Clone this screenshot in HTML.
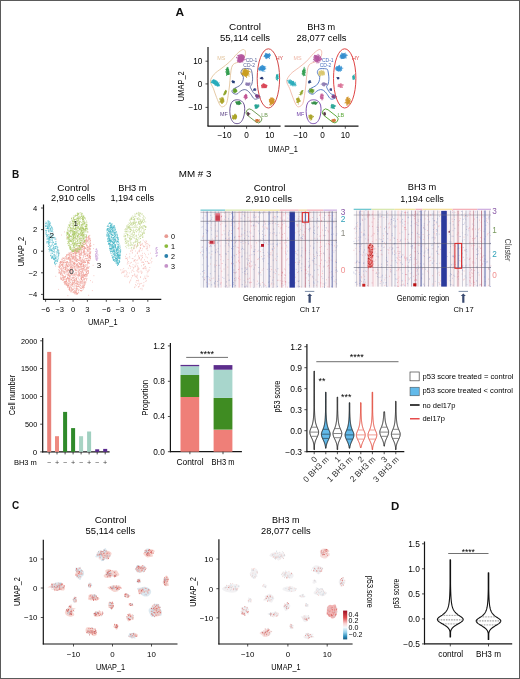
<!DOCTYPE html>
<html><head><meta charset="utf-8"><style>
html,body{margin:0;padding:0;background:#fff;}
body{width:520px;height:679px;overflow:hidden;position:relative;}
svg{position:absolute;left:0;top:0;display:block;font-family:"Liberation Sans", sans-serif;filter:blur(0.3px);}
</style></head><body>
<svg width="520" height="679" viewBox="0 0 520 679">
<rect x="0.0" y="0.0" width="520.0" height="679.0" fill="#fff" />
<text x="175.5" y="15.6" font-size="10.5" fill="#111" font-weight="bold" textLength="8.6" lengthAdjust="spacingAndGlyphs">A</text>
<text x="245.0" y="29.5" font-size="9.2" text-anchor="middle" textLength="32" lengthAdjust="spacingAndGlyphs">Control</text>
<text x="245.0" y="41.2" font-size="9.2" text-anchor="middle" textLength="50" lengthAdjust="spacingAndGlyphs">55,114 cells</text>
<text x="321.2" y="30.1" font-size="9.2" text-anchor="middle" textLength="28" lengthAdjust="spacingAndGlyphs">BH3 m</text>
<text x="321.5" y="41.2" font-size="9.2" text-anchor="middle" textLength="50" lengthAdjust="spacingAndGlyphs">28,077 cells</text>
<line x1="208.0" y1="47.0" x2="208.0" y2="126.2" stroke="#151515" stroke-width="1.2" />
<line x1="207.5" y1="126.2" x2="280.6" y2="126.2" stroke="#151515" stroke-width="1.2" />
<line x1="284.6" y1="126.2" x2="358.5" y2="126.2" stroke="#151515" stroke-width="1.2" />
<line x1="205.5" y1="61.2" x2="208.0" y2="61.2" stroke="#222" stroke-width="0.8" />
<text x="202.4" y="64.1" font-size="8.2" text-anchor="end">10</text>
<line x1="205.5" y1="83.9" x2="208.0" y2="83.9" stroke="#222" stroke-width="0.8" />
<text x="202.4" y="86.8" font-size="8.2" text-anchor="end">0</text>
<line x1="205.5" y1="107.4" x2="208.0" y2="107.4" stroke="#222" stroke-width="0.8" />
<text x="202.4" y="110.3" font-size="8.2" text-anchor="end">−10</text>
<line x1="224.5" y1="126.2" x2="224.5" y2="128.7" stroke="#222" stroke-width="0.8" />
<text x="224.5" y="137.9" font-size="8.2" text-anchor="middle">−10</text>
<line x1="246.6" y1="126.2" x2="246.6" y2="128.7" stroke="#222" stroke-width="0.8" />
<text x="246.6" y="137.9" font-size="8.2" text-anchor="middle">0</text>
<line x1="269.7" y1="126.2" x2="269.7" y2="128.7" stroke="#222" stroke-width="0.8" />
<text x="269.7" y="137.9" font-size="8.2" text-anchor="middle">10</text>
<line x1="300.5" y1="126.2" x2="300.5" y2="128.7" stroke="#222" stroke-width="0.8" />
<text x="300.5" y="137.9" font-size="8.2" text-anchor="middle">−10</text>
<line x1="322.6" y1="126.2" x2="322.6" y2="128.7" stroke="#222" stroke-width="0.8" />
<text x="322.6" y="137.9" font-size="8.2" text-anchor="middle">0</text>
<line x1="345.3" y1="126.2" x2="345.3" y2="128.7" stroke="#222" stroke-width="0.8" />
<text x="345.3" y="137.9" font-size="8.2" text-anchor="middle">10</text>
<text x="283.0" y="152.3" font-size="9" text-anchor="middle" textLength="29.5" lengthAdjust="spacingAndGlyphs">UMAP_1</text>
<text x="183.8" y="86.2" font-size="9" text-anchor="middle" textLength="29.9" lengthAdjust="spacingAndGlyphs" transform="rotate(-90 183.8 86.2)">UMAP_2</text>
<path d="M210.4 81.2 C210.5 78.8 212.3 76.4 214.2 74.2 C216.1 72.0 219.3 70.1 221.9 68.1 C224.5 66.0 227.0 64.3 229.6 61.9 C232.2 59.5 235.1 55.5 237.3 53.5 C239.5 51.5 241.4 50.0 242.7 49.6 C244.0 49.2 245.0 50.1 245.3 51.2 C245.6 52.4 245.5 54.8 244.7 56.5 C243.9 58.2 242.4 59.8 240.4 61.2 C238.4 62.6 234.4 62.6 232.7 65.0 C231.0 67.4 230.9 72.5 230.4 75.8 C229.9 79.1 230.0 81.7 229.6 85.0 C229.2 88.3 228.6 92.7 228.1 95.8 C227.6 98.9 227.3 101.7 226.5 103.5 C225.7 105.3 224.5 106.1 223.5 106.5 C222.5 106.9 221.6 107.3 220.4 105.8 C219.2 104.3 217.7 100.1 216.5 97.3 C215.3 94.5 214.5 91.5 213.5 88.8 C212.5 86.1 210.3 83.6 210.4 81.2Z" fill="none" stroke="#e2c49c" stroke-width="0.9"/>
<path d="M241.5 70.4 C241.9 69.8 242.1 69.1 243.4 68.8 C244.7 68.5 248.2 68.5 249.5 68.8 C250.8 69.1 251.0 68.9 251.5 70.4 C252.0 72.0 252.5 75.8 252.6 78.1 C252.7 80.4 252.2 82.8 251.8 84.2 C251.4 85.6 250.4 85.7 250.3 86.5 C250.2 87.3 250.4 87.6 251.1 88.8 C251.8 90.0 253.0 92.5 254.2 93.5 C255.3 94.5 257.0 94.4 258.0 95.0 C259.0 95.6 260.2 96.4 260.3 96.9 C260.4 97.4 259.6 97.7 258.8 98.1 C258.0 98.5 256.6 99.2 255.7 99.2 C254.8 99.2 254.3 99.0 253.4 98.1 C252.5 97.1 251.3 94.8 250.3 93.5 C249.3 92.2 248.2 91.1 247.2 90.4 C246.2 89.8 245.3 89.5 244.2 89.6 C243.0 89.7 241.3 90.5 240.3 91.2 C239.3 91.9 238.8 93.0 238.0 93.5 C237.2 94.0 236.6 94.3 235.7 94.2 C234.8 94.1 233.2 93.3 232.6 92.7 C232.0 92.1 231.8 91.2 232.2 90.4 C232.6 89.6 233.7 88.9 234.9 88.1 C236.1 87.3 238.2 86.8 239.5 85.8 C240.8 84.8 241.9 83.3 242.6 81.9 C243.2 80.5 243.5 78.5 243.4 77.3 C243.3 76.1 242.6 75.8 242.2 75.0 C241.8 74.2 241.2 73.5 241.1 72.7 C241.0 71.9 241.1 71.1 241.5 70.4Z" fill="none" stroke="#5a6498" stroke-width="0.9"/>
<ellipse cx="268.4" cy="78.4" rx="11.2" ry="29.6" fill="none" stroke="#d24848" stroke-width="1"/>
<path d="M237.2 99.8 C238.6 99.8 240.3 100.1 241.5 101.0 C242.7 101.9 243.8 103.2 244.3 105.0 C244.8 106.8 244.8 109.5 244.6 111.7 C244.4 113.9 244.0 116.2 243.3 118.0 C242.6 119.8 241.6 121.6 240.5 122.5 C239.4 123.4 238.2 123.6 237.0 123.6 C235.8 123.6 234.5 123.4 233.5 122.5 C232.5 121.6 231.4 119.8 230.8 118.0 C230.2 116.2 229.9 113.9 229.8 111.7 C229.8 109.5 230.0 106.8 230.5 105.0 C231.0 103.2 231.9 101.9 233.0 101.0 C234.1 100.1 235.8 99.8 237.2 99.8Z" fill="none" stroke="#5e4688" stroke-width="0.9"/>
<rect x="244.9" y="112.4" width="18" height="7" rx="3.5" fill="none" stroke="#6f9a52" stroke-width="0.9" transform="rotate(38 253.9 115.9)"/>
<text x="221.2" y="59.5" font-size="5.4" text-anchor="middle" fill="#e2c49c">MS</text>
<text x="251.5" y="61.8" font-size="5" text-anchor="middle" fill="#5a6498">CD-1</text>
<text x="249.2" y="67.4" font-size="5" text-anchor="middle" fill="#5a6498">CD-2</text>
<text x="279.4" y="59.5" font-size="5.4" text-anchor="middle" fill="#d24848">HY</text>
<text x="224.0" y="116.4" font-size="5.4" text-anchor="middle" fill="#5e4688">MF</text>
<text x="264.6" y="117.2" font-size="5.4" text-anchor="middle" fill="#6f9a52">LB</text>
<path d="M243.2 60.6 C242.6 61.4 241.8 62.7 240.9 62.8 C240.0 63.0 238.4 62.1 237.8 61.4 C237.3 60.7 237.8 59.4 237.9 58.5 C237.9 57.5 237.4 56.2 237.9 55.5 C238.4 54.8 240.1 54.0 241.1 54.0 C242.1 54.1 243.4 55.0 244.0 55.8 C244.5 56.5 244.7 57.7 244.5 58.5 C244.4 59.4 243.8 59.9 243.2 60.6Z" fill="#b0509a" opacity="0.85" transform="rotate(0 241.0 58.5)"/>
<path d="M240.4 59.6h0M240.5 57.8h0M238.9 58.0h0M243.5 59.4h0M243.3 59.0h0M241.9 58.9h0M237.3 60.3h0M242.1 59.6h0M239.0 57.5h0M241.7 58.4h0M242.2 57.1h0M241.7 59.3h0M239.5 62.1h0M242.3 61.0h0M239.6 56.9h0M240.2 58.3h0M242.4 59.0h0M240.0 56.5h0M239.8 61.1h0M239.2 59.0h0M242.0 55.3h0M241.1 61.3h0M236.5 57.8h0M240.8 56.8h0M242.1 58.4h0M237.7 60.3h0M242.5 60.5h0M244.2 59.3h0M241.3 55.7h0M242.4 57.2h0M240.0 55.8h0M238.8 57.4h0M237.7 59.0h0M244.2 59.7h0M241.8 56.9h0M238.5 60.6h0M243.5 58.8h0M241.6 59.4h0M244.6 59.8h0M242.2 59.7h0M237.5 61.2h0M243.1 59.6h0M236.6 57.2h0M242.9 54.7h0M240.6 60.7h0M238.0 61.9h0M242.2 58.2h0M241.7 59.9h0M241.3 60.9h0M239.5 57.6h0M243.3 58.6h0M239.0 60.5h0M244.3 57.6h0M237.9 58.2h0M240.7 57.9h0M244.2 56.3h0M243.8 55.8h0M239.2 59.8h0M243.5 60.3h0M241.8 58.8h0M241.3 59.7h0M240.6 59.1h0M242.3 58.5h0M242.7 59.7h0M245.5 59.2h0M240.0 57.7h0M241.0 60.5h0M240.2 59.3h0M238.5 59.0h0M241.9 59.0h0M240.0 59.9h0M241.6 57.4h0M239.8 58.3h0M240.5 58.4h0M243.3 56.0h0M240.8 60.5h0M242.9 61.7h0M237.2 57.7h0M240.2 59.8h0M243.4 55.4h0M242.5 55.3h0M241.4 61.0h0M240.7 58.9h0M242.8 58.8h0M240.8 61.8h0M243.4 57.9h0M243.1 57.9h0M241.3 60.0h0M241.5 59.9h0M237.6 55.3h0M242.4 56.5h0M238.7 55.4h0M243.8 60.1h0M244.3 56.5h0M241.0 56.1h0M242.7 61.9h0M239.0 61.8h0M243.2 58.1h0M240.8 57.2h0" stroke="#b0509a" stroke-width="1.1" stroke-linecap="round" stroke-opacity="0.8" fill="none"/>
<path d="M269.2 57.8 C268.7 58.2 267.6 58.3 266.9 58.2 C266.2 58.1 265.6 57.7 265.1 57.3 C264.7 56.9 264.3 56.3 264.4 55.7 C264.4 55.2 264.8 54.6 265.3 54.2 C265.8 53.9 266.4 53.5 267.1 53.5 C267.7 53.4 268.6 53.7 269.1 54.1 C269.6 54.5 269.9 55.2 269.9 55.9 C269.9 56.5 269.7 57.4 269.2 57.8Z" fill="#2a88cc" opacity="0.85" transform="rotate(0 267.0 55.8)"/>
<path d="M266.1 55.5h0M265.6 54.2h0M268.8 55.1h0M269.4 53.6h0M267.3 57.0h0M266.6 57.0h0M265.8 55.1h0M266.1 56.2h0M268.5 55.0h0M264.6 56.4h0M268.6 54.8h0M268.9 54.9h0M264.8 55.4h0M269.0 56.0h0M267.1 55.9h0M267.4 54.8h0M264.0 56.2h0M265.4 55.3h0M264.6 55.6h0M267.2 55.0h0M265.7 55.3h0M266.5 58.6h0M264.6 55.7h0M264.6 56.6h0M264.8 55.7h0M266.3 54.1h0M264.9 55.4h0M269.7 54.9h0M266.9 57.9h0M270.4 54.7h0M267.6 56.4h0M266.3 56.0h0M267.0 56.4h0M265.4 53.3h0M267.9 55.2h0M266.4 53.5h0M269.4 58.4h0M268.3 55.6h0M268.8 55.3h0M267.6 55.0h0M264.9 56.6h0M266.3 56.7h0M265.7 58.2h0M269.4 56.1h0M266.7 55.9h0M265.7 57.8h0M266.3 55.8h0M270.3 55.5h0M267.9 55.7h0M266.9 56.3h0M267.3 54.5h0M268.3 57.0h0M269.9 54.2h0M266.9 56.7h0M269.1 54.8h0M266.8 55.1h0M269.7 56.7h0M266.4 56.1h0M269.5 54.9h0M267.2 55.2h0M267.4 55.3h0M268.3 54.4h0M265.7 57.5h0M268.3 55.2h0" stroke="#2a88cc" stroke-width="1.1" stroke-linecap="round" stroke-opacity="0.8" fill="none"/>
<path d="M226.3 72.1 C226.3 71.1 225.9 69.8 226.1 69.0 C226.3 68.3 227.0 67.6 227.5 67.6 C227.9 67.6 228.4 68.3 228.7 69.0 C229.0 69.7 229.3 70.7 229.3 71.6 C229.4 72.6 229.3 74.1 229.0 74.6 C228.7 75.2 228.1 74.8 227.7 74.9 C227.3 75.0 226.6 75.6 226.3 75.1 C226.1 74.7 226.4 73.1 226.3 72.1Z" fill="#2a9a48" opacity="0.85" transform="rotate(0 227.6 71.9)"/>
<path d="M227.6 70.0h0M227.0 71.9h0M227.5 72.3h0M227.6 72.3h0M227.5 69.1h0M228.0 74.3h0M228.0 71.5h0M228.0 69.7h0M225.7 72.0h0M226.7 73.6h0M226.6 75.5h0M227.2 68.8h0M226.8 73.1h0M228.1 72.3h0M229.1 73.5h0M227.6 73.2h0M229.3 74.1h0M228.6 69.5h0M227.5 73.5h0M227.3 74.3h0M228.2 73.9h0M228.8 71.4h0M227.3 73.9h0M228.6 71.9h0M226.4 72.3h0M228.0 74.4h0M228.4 72.0h0M228.5 73.1h0M227.8 72.0h0M227.4 73.4h0M226.5 70.5h0M227.6 68.6h0M227.2 67.4h0M226.9 73.2h0M228.2 71.8h0M227.4 68.7h0M229.4 73.1h0M228.7 69.9h0M227.4 67.8h0M228.4 74.0h0M225.7 71.8h0M228.2 67.9h0M225.8 69.5h0M227.0 68.7h0M227.6 72.5h0M228.2 73.5h0M229.1 74.5h0M226.3 70.8h0M226.5 69.5h0" stroke="#2a9a48" stroke-width="1.1" stroke-linecap="round" stroke-opacity="0.8" fill="none"/>
<path d="M248.6 71.8 C248.9 72.5 248.7 73.2 248.5 73.9 C248.3 74.6 247.9 75.5 247.3 75.9 C246.6 76.3 245.4 76.4 244.6 76.2 C243.7 76.0 242.3 75.4 242.0 74.8 C241.7 74.1 242.3 73.1 242.6 72.2 C242.9 71.3 243.0 70.1 243.7 69.6 C244.4 69.2 246.2 69.1 247.0 69.5 C247.8 69.8 248.4 71.0 248.6 71.8Z" fill="#c89a18" opacity="0.85" transform="rotate(0 245.7 73.1)"/>
<path d="M245.7 73.9h0M245.3 76.3h0M246.7 76.3h0M248.3 72.7h0M243.8 74.6h0M244.1 70.0h0M243.3 71.2h0M246.8 73.6h0M245.6 76.4h0M244.7 75.5h0M246.5 73.2h0M245.3 76.1h0M244.5 70.3h0M245.0 75.4h0M243.2 73.6h0M249.2 76.0h0M246.1 73.0h0M241.7 74.0h0M248.1 72.7h0M245.5 74.5h0M247.2 72.6h0M244.6 72.6h0M248.5 75.8h0M241.0 72.9h0M245.2 71.7h0M247.8 71.7h0M245.9 73.1h0M243.2 73.2h0M245.3 74.1h0M244.6 74.5h0M245.8 73.0h0M245.7 69.3h0M244.6 68.9h0M245.2 75.0h0M243.9 72.1h0M244.1 73.8h0M246.7 73.4h0M246.6 71.7h0M247.3 72.5h0M245.4 75.5h0M246.5 74.9h0M250.2 72.0h0M246.9 70.5h0M242.3 72.1h0M249.2 74.1h0M242.1 74.1h0M244.6 71.8h0M247.5 74.7h0M244.6 74.5h0M245.5 76.0h0M244.8 75.5h0M244.6 73.8h0M246.5 74.3h0M247.9 71.8h0M246.6 77.4h0M248.2 73.1h0M246.6 74.1h0M247.4 74.1h0M247.1 73.9h0M245.5 75.7h0M248.5 70.9h0M243.7 74.2h0M243.5 72.8h0M245.3 73.7h0M247.6 74.8h0M242.6 70.2h0M246.1 74.7h0M245.7 75.1h0M248.4 69.8h0M246.3 73.2h0M244.5 69.0h0M242.7 73.5h0M247.9 73.1h0M249.5 71.4h0M245.7 74.1h0M247.2 75.1h0M245.1 70.3h0M245.9 70.9h0M245.1 72.9h0M246.0 71.7h0M248.5 71.7h0M245.3 74.1h0M245.7 75.9h0M245.4 72.2h0M248.2 74.1h0M243.8 72.1h0M246.2 75.8h0M247.6 73.2h0M242.8 69.8h0M244.1 73.3h0M245.2 71.5h0M248.3 73.4h0M244.6 71.2h0M245.5 76.1h0" stroke="#c89a18" stroke-width="1.1" stroke-linecap="round" stroke-opacity="0.8" fill="none"/>
<path d="M264.6 66.0 C265.2 66.4 264.9 67.5 265.0 68.2 C265.0 68.8 265.3 69.4 265.0 69.8 C264.6 70.2 263.7 70.5 263.0 70.6 C262.3 70.7 261.6 70.6 260.9 70.4 C260.1 70.2 258.5 69.8 258.3 69.3 C258.1 68.7 258.9 67.8 259.4 67.2 C260.0 66.6 260.6 65.8 261.5 65.6 C262.4 65.4 264.0 65.6 264.6 66.0Z" fill="#2c8cd0" opacity="0.85" transform="rotate(0 262.4 68.6)"/>
<path d="M261.0 68.6h0M264.1 68.4h0M263.0 67.6h0M263.0 71.1h0M261.1 68.6h0M262.7 70.1h0M263.6 69.8h0M262.8 69.0h0M264.3 69.2h0M265.7 66.7h0M264.0 68.0h0M262.4 68.2h0M261.4 67.3h0M261.1 69.6h0M262.5 68.7h0M262.1 70.0h0M263.4 68.4h0M263.7 68.4h0M260.1 70.8h0M263.3 67.2h0M264.6 69.1h0M263.1 69.9h0M262.8 68.4h0M259.3 70.1h0M262.5 68.2h0M263.1 68.7h0M263.8 68.0h0M262.3 65.4h0M261.6 69.6h0M265.1 68.1h0M262.2 71.0h0M261.7 69.7h0M265.8 68.7h0M264.9 67.5h0M262.8 68.5h0M262.6 70.3h0M261.2 69.3h0M260.3 69.3h0M263.5 68.2h0M263.5 66.3h0M263.9 66.3h0M261.0 67.8h0M261.6 69.9h0M262.6 68.0h0M263.5 71.0h0M262.4 69.1h0M264.9 69.0h0M262.3 69.2h0M264.3 69.6h0M261.9 67.0h0M262.6 70.2h0M260.2 67.1h0M262.4 65.7h0M261.9 67.9h0M263.3 67.5h0M260.6 68.0h0M262.3 67.6h0M262.4 69.7h0M264.8 71.2h0M260.8 68.0h0M261.0 68.5h0M263.4 66.6h0M263.3 68.6h0M258.7 69.0h0" stroke="#2c8cd0" stroke-width="1.1" stroke-linecap="round" stroke-opacity="0.8" fill="none"/>
<path d="M220.5 82.9 C220.7 83.4 220.1 84.4 219.4 84.7 C218.6 85.0 217.1 84.8 215.9 84.8 C214.7 84.8 212.9 85.2 212.2 84.9 C211.4 84.6 211.6 83.7 211.6 83.1 C211.5 82.4 211.3 81.6 212.0 81.2 C212.7 80.8 214.6 80.3 215.7 80.4 C216.7 80.5 217.4 81.3 218.2 81.7 C219.1 82.1 220.4 82.4 220.5 82.9Z" fill="#1ea8b8" opacity="0.85" transform="rotate(30 215.8 83.0)"/>
<path d="M211.9 82.8h0M214.1 82.3h0M217.6 85.2h0M215.0 81.8h0M214.7 83.0h0M215.8 84.1h0M213.8 80.6h0M215.8 83.2h0M213.4 83.6h0M216.0 84.3h0M215.8 85.5h0M215.1 82.5h0M217.2 84.7h0M213.1 80.8h0M216.7 84.0h0M215.7 81.5h0M214.9 83.7h0M217.8 83.8h0M214.2 81.5h0M211.4 81.9h0M217.9 84.2h0M216.0 85.3h0M215.8 83.2h0M218.0 83.4h0M217.3 82.5h0M218.1 83.2h0M215.9 83.3h0M213.1 80.8h0M216.7 83.2h0M214.7 81.4h0M214.6 82.3h0M214.5 84.0h0M216.9 83.3h0M211.8 80.9h0M217.3 83.7h0M218.4 84.2h0M211.3 82.5h0M213.7 79.9h0M216.9 85.8h0M215.6 84.3h0M219.1 82.7h0M216.0 84.1h0M213.2 82.6h0M214.8 82.9h0M214.9 84.8h0M216.4 83.1h0M212.8 80.4h0M219.5 85.8h0M217.4 85.2h0M213.2 80.9h0M214.4 83.6h0M214.1 81.3h0M215.1 81.3h0M215.3 82.8h0M214.5 81.1h0M215.1 85.0h0M216.9 82.1h0M216.2 84.7h0M216.5 83.9h0M214.8 82.7h0M213.1 82.1h0M218.6 85.1h0M218.4 85.6h0M217.0 82.0h0M218.0 84.8h0M217.7 86.2h0" stroke="#1ea8b8" stroke-width="1.1" stroke-linecap="round" stroke-opacity="0.8" fill="none"/>
<path d="M232.3 82.9 C232.1 82.7 231.9 82.3 232.0 82.0 C232.0 81.7 232.2 81.5 232.4 81.3 C232.7 81.0 233.0 80.6 233.2 80.6 C233.5 80.6 233.8 81.0 234.1 81.2 C234.4 81.4 235.1 81.5 235.1 81.8 C235.2 82.0 234.7 82.3 234.4 82.6 C234.1 82.8 233.9 83.1 233.5 83.1 C233.2 83.2 232.6 83.1 232.3 82.9Z" fill="#1a3470" opacity="0.85" transform="rotate(0 233.4 81.9)"/>
<path d="M234.1 82.2h0M233.4 81.5h0M234.0 81.6h0M233.6 81.5h0M233.6 82.4h0M232.6 81.9h0M233.9 82.0h0M232.6 80.6h0M234.1 83.0h0M234.2 82.5h0M232.9 81.4h0M234.2 81.3h0M231.8 81.2h0M232.8 81.4h0M233.6 81.4h0M234.5 81.8h0" stroke="#1a3470" stroke-width="1.1" stroke-linecap="round" stroke-opacity="0.8" fill="none"/>
<path d="M245.1 84.5 C245.0 84.1 245.4 83.6 245.8 83.3 C246.2 83.0 246.9 82.8 247.5 82.8 C248.1 82.7 248.7 82.8 249.1 83.0 C249.6 83.2 250.1 83.5 250.2 83.8 C250.3 84.1 250.0 84.5 249.7 84.8 C249.4 85.0 249.1 85.4 248.5 85.5 C248.0 85.7 247.0 85.8 246.4 85.6 C245.8 85.4 245.2 84.9 245.1 84.5Z" fill="#8a78b0" opacity="0.85" transform="rotate(0 248.0 84.1)"/>
<path d="M250.1 84.0h0M247.3 83.4h0M248.4 84.1h0M249.3 85.1h0M246.3 84.6h0M248.7 83.8h0M248.3 85.5h0M248.1 84.1h0M247.5 84.5h0M247.3 84.6h0M246.2 83.5h0M248.6 85.4h0M247.2 84.2h0M249.1 83.8h0M248.4 84.4h0M246.0 82.7h0M248.3 83.2h0M248.0 84.2h0M246.8 83.1h0M246.7 85.2h0M247.9 83.4h0M248.4 83.9h0M246.4 83.9h0M248.0 84.4h0M248.0 84.0h0M248.7 84.6h0M246.6 83.4h0M246.2 82.8h0M248.6 84.8h0M247.8 84.4h0M250.1 83.1h0M248.0 84.0h0M249.4 82.8h0" stroke="#8a78b0" stroke-width="1.1" stroke-linecap="round" stroke-opacity="0.8" fill="none"/>
<path d="M278.6 75.7 C278.7 76.2 278.4 77.2 278.3 77.8 C278.2 78.4 278.1 78.9 277.9 79.2 C277.6 79.4 277.3 79.4 277.0 79.3 C276.8 79.1 276.7 78.8 276.5 78.3 C276.3 77.8 275.8 77.2 275.8 76.6 C275.9 76.0 276.2 75.1 276.5 74.8 C276.8 74.5 277.3 74.5 277.6 74.7 C278.0 74.8 278.5 75.2 278.6 75.7Z" fill="#20a8a8" opacity="0.85" transform="rotate(0 277.3 77.3)"/>
<path d="M276.8 74.6h0M277.2 76.2h0M276.5 76.8h0M277.5 75.5h0M277.2 79.4h0M277.8 77.1h0M277.4 77.1h0M277.3 78.4h0M277.3 76.0h0M277.8 76.4h0M277.4 80.6h0M276.5 75.6h0M275.9 77.8h0M276.8 74.5h0M276.2 78.2h0M276.7 76.7h0M277.5 79.3h0M277.4 77.6h0M277.1 78.0h0M277.5 77.4h0M276.9 75.3h0M276.9 75.0h0M278.2 78.1h0M276.4 79.4h0M278.0 74.4h0M278.7 78.5h0" stroke="#20a8a8" stroke-width="1.1" stroke-linecap="round" stroke-opacity="0.8" fill="none"/>
<path d="M262.3 78.8 C262.0 78.9 261.8 79.0 261.5 79.0 C261.2 78.9 260.6 78.9 260.4 78.7 C260.2 78.5 260.0 77.9 260.2 77.7 C260.3 77.5 261.0 77.5 261.3 77.4 C261.6 77.3 261.9 77.1 262.2 77.1 C262.5 77.1 262.8 77.4 263.0 77.6 C263.2 77.8 263.4 78.2 263.3 78.4 C263.2 78.6 262.6 78.7 262.3 78.8Z" fill="#1a2a6a" opacity="0.85" transform="rotate(0 261.8 78.1)"/>
<path d="M262.3 77.3h0M261.7 78.4h0M262.9 78.7h0M262.0 78.6h0M261.7 78.2h0M261.8 78.6h0M261.6 77.5h0M260.2 78.1h0M261.6 78.0h0M261.1 78.4h0M261.9 77.5h0M261.5 77.4h0M262.1 79.3h0M263.1 78.7h0" stroke="#1a2a6a" stroke-width="1.1" stroke-linecap="round" stroke-opacity="0.8" fill="none"/>
<path d="M261.5 84.7 C261.9 84.3 262.8 84.0 263.4 83.9 C264.0 83.8 264.6 84.0 265.2 84.2 C265.8 84.4 266.7 84.6 267.0 85.1 C267.3 85.5 267.3 86.4 267.0 86.9 C266.7 87.4 265.8 87.9 265.2 88.1 C264.5 88.3 263.5 88.1 262.9 87.9 C262.2 87.6 261.5 87.1 261.2 86.6 C261.0 86.1 261.2 85.2 261.5 84.7Z" fill="#d84050" opacity="0.85" transform="rotate(0 264.2 85.8)"/>
<path d="M264.9 87.1h0M262.5 87.7h0M264.0 86.6h0M263.6 84.4h0M265.9 86.9h0M266.6 86.9h0M263.3 83.7h0M263.2 85.0h0M262.9 86.5h0M264.7 85.5h0M264.5 85.6h0M264.5 86.7h0M265.7 84.9h0M261.8 87.6h0M264.4 87.2h0M261.6 85.4h0M264.2 84.0h0M263.4 86.7h0M265.9 87.8h0M262.9 84.0h0M265.0 87.0h0M264.5 84.2h0M265.4 86.8h0M265.1 85.2h0M264.7 86.8h0M263.3 83.5h0M264.7 86.4h0M264.2 86.9h0M263.3 85.7h0M263.7 86.5h0M266.7 85.5h0M265.4 86.5h0M267.0 85.6h0M264.0 84.5h0M264.9 87.5h0M265.0 86.3h0M263.9 86.0h0M262.0 87.1h0M263.6 84.4h0M263.0 84.8h0M265.5 87.1h0M262.1 87.0h0M265.6 85.1h0" stroke="#d84050" stroke-width="1.1" stroke-linecap="round" stroke-opacity="0.8" fill="none"/>
<path d="M236.1 88.9 C236.6 89.1 236.9 89.6 237.1 90.1 C237.3 90.6 237.5 91.3 237.3 91.7 C237.1 92.1 236.4 92.2 235.9 92.4 C235.4 92.6 234.7 93.2 234.3 93.1 C233.9 92.9 233.7 92.1 233.5 91.5 C233.2 91.0 232.8 90.2 233.0 89.8 C233.2 89.4 234.1 89.2 234.6 89.0 C235.1 88.9 235.7 88.7 236.1 88.9Z" fill="#5a9a20" opacity="0.85" transform="rotate(0 235.3 90.8)"/>
<path d="M234.5 89.2h0M234.3 91.1h0M234.9 90.4h0M233.4 91.9h0M234.9 89.1h0M235.3 92.1h0M233.6 91.3h0M233.7 91.8h0M236.0 90.5h0M234.1 89.0h0M234.2 91.7h0M235.6 90.7h0M234.6 90.6h0M234.7 90.7h0M233.9 90.1h0M235.0 89.3h0M233.8 89.0h0M234.0 90.6h0M236.1 90.5h0M234.8 89.7h0M235.4 90.2h0M236.5 90.7h0M236.2 91.1h0M235.1 90.9h0M234.2 91.4h0M234.9 89.7h0M235.2 91.7h0M234.4 90.7h0M235.7 89.6h0M235.5 91.4h0M235.7 88.6h0M234.4 89.7h0M234.5 90.5h0M236.4 90.5h0M233.8 89.0h0" stroke="#5a9a20" stroke-width="1.1" stroke-linecap="round" stroke-opacity="0.8" fill="none"/>
<path d="M255.3 90.1 C255.2 90.3 254.9 90.4 254.7 90.5 C254.4 90.6 253.9 90.7 253.6 90.6 C253.4 90.4 253.3 90.0 253.3 89.7 C253.3 89.5 253.5 89.3 253.7 89.1 C253.8 88.8 254.0 88.4 254.3 88.3 C254.6 88.3 255.2 88.4 255.4 88.6 C255.6 88.8 255.6 89.2 255.6 89.5 C255.5 89.7 255.5 89.9 255.3 90.1Z" fill="#2a3a80" opacity="0.85" transform="rotate(0 254.5 89.6)"/>
<path d="M254.1 89.9h0M254.1 89.8h0M255.7 89.6h0M254.4 90.1h0M254.2 90.3h0M253.5 90.0h0M254.1 89.1h0M255.8 89.1h0M255.8 90.0h0M255.6 89.0h0M255.4 90.5h0M254.4 89.5h0M254.2 89.2h0" stroke="#2a3a80" stroke-width="1.1" stroke-linecap="round" stroke-opacity="0.8" fill="none"/>
<path d="M244.5 98.4 C244.3 97.9 244.3 97.1 244.4 96.5 C244.5 95.9 244.6 95.2 244.9 94.8 C245.1 94.3 245.7 93.7 246.0 93.8 C246.4 93.9 246.8 94.7 247.0 95.3 C247.2 95.9 247.5 96.8 247.4 97.4 C247.3 98.0 246.8 98.5 246.5 98.8 C246.2 99.1 245.8 99.3 245.5 99.2 C245.1 99.1 244.6 98.8 244.5 98.4Z" fill="#c05090" opacity="0.85" transform="rotate(0 245.7 96.9)"/>
<path d="M246.6 95.6h0M246.0 94.7h0M246.9 95.3h0M246.0 96.1h0M245.3 95.2h0M245.7 95.3h0M246.5 95.6h0M245.6 98.0h0M246.4 98.2h0M246.6 97.5h0M246.3 98.3h0M244.6 96.9h0M245.8 96.8h0M246.2 95.5h0M244.5 96.0h0M246.2 95.7h0M246.8 97.9h0M245.6 96.6h0M244.7 95.5h0M246.4 96.3h0M246.7 96.7h0M243.8 97.2h0M247.1 97.4h0M245.1 95.9h0M246.2 95.8h0M244.6 97.2h0M245.8 95.9h0M244.9 97.5h0M244.2 96.0h0M245.3 99.6h0" stroke="#c05090" stroke-width="1.1" stroke-linecap="round" stroke-opacity="0.8" fill="none"/>
<path d="M255.0 95.5 C255.2 95.2 256.1 94.7 256.7 94.7 C257.2 94.7 257.9 95.0 258.3 95.3 C258.8 95.5 259.1 95.9 259.2 96.2 C259.2 96.5 258.9 96.8 258.6 97.2 C258.4 97.5 258.1 98.0 257.7 98.1 C257.3 98.1 256.6 97.8 256.2 97.6 C255.8 97.3 255.7 97.1 255.5 96.8 C255.3 96.4 254.8 95.9 255.0 95.5Z" fill="#7a3a80" opacity="0.85" transform="rotate(0 257.2 96.5)"/>
<path d="M256.7 97.6h0M255.8 95.4h0M259.1 96.8h0M258.4 95.8h0M258.2 96.7h0M258.0 96.5h0M258.7 95.9h0M256.0 95.2h0M258.7 95.9h0M255.9 95.7h0M256.6 95.4h0M256.8 96.0h0M256.5 95.7h0M257.2 96.1h0M257.3 96.7h0M256.5 95.8h0M258.2 95.1h0M256.3 96.2h0M256.8 97.4h0M256.6 97.3h0M258.7 96.9h0M257.8 96.6h0M257.8 95.4h0M258.4 96.0h0M258.4 96.6h0" stroke="#7a3a80" stroke-width="1.1" stroke-linecap="round" stroke-opacity="0.8" fill="none"/>
<path d="M224.3 90.6 C224.5 90.2 224.9 90.2 225.1 90.3 C225.4 90.4 225.6 90.8 225.8 91.2 C226.0 91.7 226.2 92.4 226.2 93.1 C226.2 93.7 226.0 94.7 225.8 95.2 C225.6 95.6 225.1 95.7 224.8 95.6 C224.6 95.4 224.3 94.8 224.1 94.3 C224.0 93.8 224.0 93.0 224.1 92.4 C224.1 91.8 224.1 90.9 224.3 90.6Z" fill="#8aa020" opacity="0.85" transform="rotate(30 225.0 92.7)"/>
<path d="M225.0 92.7h0M225.2 92.0h0M225.3 92.7h0M225.5 92.3h0M225.7 93.4h0M223.8 94.8h0M224.8 93.1h0M226.3 90.7h0M226.5 91.4h0M225.1 94.0h0M225.7 91.2h0M225.6 92.5h0M226.1 92.7h0M225.1 92.8h0M225.5 90.4h0M225.1 93.5h0M225.4 91.9h0M226.1 91.8h0M225.2 93.4h0M224.8 91.8h0M225.2 92.0h0M225.8 91.6h0" stroke="#8aa020" stroke-width="1.1" stroke-linecap="round" stroke-opacity="0.8" fill="none"/>
<path d="M222.2 97.8 C222.7 97.8 223.5 98.0 223.8 98.5 C224.1 99.0 224.1 100.2 224.0 101.0 C223.9 101.7 223.6 102.6 223.2 103.0 C222.7 103.5 221.9 104.0 221.5 103.7 C221.0 103.5 220.7 102.4 220.5 101.8 C220.3 101.1 220.4 100.6 220.5 100.0 C220.5 99.5 220.7 98.8 221.0 98.5 C221.3 98.1 221.8 97.8 222.2 97.8Z" fill="#a8a020" opacity="0.85" transform="rotate(0 221.9 100.4)"/>
<path d="M221.3 97.5h0M221.1 102.3h0M224.0 100.0h0M221.1 99.6h0M219.8 101.9h0M220.7 102.1h0M220.0 98.3h0M222.2 99.2h0M222.8 100.4h0M220.6 101.4h0M222.8 97.3h0M224.0 101.2h0M222.8 97.4h0M221.1 99.8h0M223.1 98.0h0M221.6 101.0h0M220.0 99.4h0M222.5 103.0h0M222.6 99.9h0M220.6 98.9h0M221.2 100.6h0M221.8 103.1h0M222.2 98.7h0M223.6 101.9h0M222.0 99.2h0M219.8 98.7h0M222.9 99.1h0M220.4 100.7h0M222.2 101.4h0M222.6 102.7h0M221.0 102.0h0M220.8 101.5h0M222.1 100.8h0M223.0 100.4h0M223.2 101.8h0M222.1 99.5h0M221.1 99.5h0M221.7 100.4h0M222.8 99.0h0M221.1 99.9h0" stroke="#a8a020" stroke-width="1.1" stroke-linecap="round" stroke-opacity="0.8" fill="none"/>
<path d="M274.1 102.7 C273.8 103.5 273.0 103.9 272.4 104.2 C271.8 104.5 270.8 105.0 270.4 104.7 C269.9 104.3 269.9 103.0 269.7 102.2 C269.4 101.3 268.6 100.3 268.8 99.6 C269.0 99.0 270.0 98.6 270.6 98.3 C271.3 97.9 272.1 97.3 272.7 97.6 C273.3 97.8 274.1 98.9 274.3 99.7 C274.5 100.6 274.4 102.0 274.1 102.7Z" fill="#d09020" opacity="0.85" transform="rotate(0 271.5 101.2)"/>
<path d="M271.8 102.0h0M273.3 102.0h0M272.6 99.6h0M273.4 102.3h0M270.9 101.8h0M272.6 100.8h0M269.5 100.1h0M273.6 100.4h0M270.2 102.6h0M272.6 101.1h0M272.6 101.6h0M269.6 104.7h0M273.9 99.0h0M274.0 102.2h0M271.0 98.4h0M272.0 101.1h0M273.0 103.8h0M273.6 100.1h0M270.9 103.8h0M271.5 100.3h0M271.0 102.6h0M272.7 102.8h0M272.0 102.5h0M272.9 103.6h0M273.9 101.5h0M271.6 101.7h0M272.5 100.6h0M274.3 99.6h0M272.1 100.5h0M270.9 101.5h0M274.1 99.5h0M270.4 99.6h0M270.0 104.3h0M269.4 101.6h0M272.2 102.3h0M273.7 102.3h0M270.7 100.8h0M272.3 100.1h0M270.8 101.8h0M271.1 105.0h0M271.0 102.2h0M270.2 101.3h0M272.1 100.6h0M272.0 101.1h0M273.3 99.4h0M271.9 103.4h0M271.2 102.7h0M271.9 103.0h0M272.1 100.8h0M270.7 105.3h0M273.8 102.3h0M274.2 101.6h0M271.1 102.1h0M274.3 101.2h0M270.6 101.0h0M271.9 103.8h0M272.1 102.2h0M271.8 98.1h0M271.7 102.0h0M273.3 102.6h0M270.3 101.2h0M272.1 103.8h0M270.8 97.7h0M270.6 100.5h0" stroke="#d09020" stroke-width="1.1" stroke-linecap="round" stroke-opacity="0.8" fill="none"/>
<path d="M239.7 101.2 C240.3 101.4 240.5 102.0 240.6 102.4 C240.7 102.8 240.7 103.2 240.5 103.6 C240.2 104.0 239.8 104.6 239.2 104.7 C238.6 104.8 237.6 104.6 237.1 104.3 C236.6 104.1 236.3 103.7 236.0 103.4 C235.7 103.0 235.3 102.4 235.5 102.0 C235.8 101.6 236.7 101.3 237.4 101.2 C238.1 101.0 239.2 101.0 239.7 101.2Z" fill="#2a8a40" opacity="0.85" transform="rotate(0 238.3 102.9)"/>
<path d="M238.0 102.9h0M239.7 102.3h0M239.1 102.4h0M239.4 104.5h0M237.7 103.3h0M236.9 103.8h0M240.1 102.9h0M236.6 103.3h0M240.0 103.9h0M239.5 101.2h0M237.3 104.2h0M236.5 104.0h0M241.1 103.6h0M240.0 102.6h0M236.5 102.8h0M238.0 102.9h0M239.3 102.8h0M238.6 103.3h0M238.3 104.6h0M239.0 103.0h0M238.0 102.3h0M240.3 103.0h0M236.7 102.4h0M238.1 102.5h0M239.9 101.8h0M239.0 103.0h0M236.5 102.9h0M238.2 103.4h0M237.6 103.2h0M235.8 101.9h0M239.5 103.9h0M238.3 102.3h0" stroke="#2a8a40" stroke-width="1.1" stroke-linecap="round" stroke-opacity="0.8" fill="none"/>
<path d="M257.0 108.6 C256.5 108.7 255.8 108.3 255.4 108.0 C255.1 107.7 255.0 107.1 254.9 106.5 C254.8 106.0 254.5 105.0 254.8 104.7 C255.1 104.3 256.1 104.5 256.7 104.5 C257.3 104.5 258.1 104.3 258.4 104.6 C258.7 104.9 258.6 105.8 258.6 106.3 C258.5 106.8 258.3 107.1 258.1 107.5 C257.8 107.9 257.4 108.5 257.0 108.6Z" fill="#20a090" opacity="0.85" transform="rotate(0 256.8 106.4)"/>
<path d="M256.3 107.2h0M256.1 107.6h0M259.0 106.1h0M258.8 105.2h0M257.0 106.1h0M257.7 106.0h0M255.2 107.2h0M255.8 107.6h0M258.0 107.0h0M256.5 106.4h0M255.3 104.7h0M258.7 104.7h0M258.5 106.8h0M256.6 108.3h0M256.6 107.9h0M258.3 105.6h0M256.8 107.9h0M256.6 107.4h0M256.4 105.9h0M255.8 106.3h0M255.3 106.7h0M257.2 106.9h0M257.5 107.2h0M255.9 107.0h0M256.8 106.9h0M254.5 105.7h0M255.5 105.4h0M256.3 105.7h0M256.5 105.1h0M255.2 105.9h0M255.7 106.6h0M256.8 107.3h0M255.6 106.3h0M256.6 106.3h0M255.3 108.4h0" stroke="#20a090" stroke-width="1.1" stroke-linecap="round" stroke-opacity="0.8" fill="none"/>
<path d="M232.2 116.6 C232.4 116.0 233.1 115.7 233.6 115.4 C234.1 115.1 234.4 114.8 235.0 114.8 C235.5 114.8 236.4 114.9 236.8 115.4 C237.1 115.8 237.2 117.1 237.0 117.8 C236.9 118.5 236.3 119.2 235.8 119.4 C235.3 119.7 234.8 119.4 234.3 119.3 C233.7 119.2 232.8 119.4 232.5 119.0 C232.1 118.5 232.0 117.2 232.2 116.6Z" fill="#a8a020" opacity="0.85" transform="rotate(0 234.6 117.2)"/>
<path d="M235.5 116.0h0M235.7 117.8h0M232.7 118.1h0M235.3 117.9h0M236.6 116.6h0M235.2 118.4h0M233.5 119.1h0M232.8 115.2h0M235.3 115.5h0M234.5 114.6h0M234.7 115.4h0M235.0 114.8h0M235.2 116.8h0M234.7 117.1h0M234.8 115.1h0M233.4 116.5h0M235.1 114.1h0M233.6 116.2h0M233.3 117.7h0M234.4 115.9h0M233.4 118.5h0M233.8 118.1h0M235.2 114.2h0M233.2 117.2h0M235.0 118.4h0M235.6 118.8h0M234.1 116.9h0M235.6 116.5h0M235.9 114.7h0M235.4 116.9h0M235.0 117.2h0M233.3 116.5h0M236.5 115.9h0M233.1 117.0h0M234.1 115.8h0M233.5 118.8h0M233.9 115.5h0M235.6 118.1h0M233.3 118.4h0M232.3 115.8h0M236.0 116.8h0M233.0 118.0h0M235.7 117.2h0" stroke="#a8a020" stroke-width="1.1" stroke-linecap="round" stroke-opacity="0.8" fill="none"/>
<path d="M247.4 114.4 C247.3 114.1 247.3 113.9 247.3 113.5 C247.3 113.2 247.3 112.5 247.5 112.4 C247.7 112.2 248.3 112.5 248.5 112.6 C248.8 112.8 249.0 112.9 249.2 113.2 C249.3 113.4 249.4 113.8 249.3 114.1 C249.3 114.4 249.2 114.8 249.0 115.1 C248.8 115.3 248.2 115.6 248.0 115.5 C247.7 115.4 247.5 114.8 247.4 114.4Z" fill="#503040" opacity="0.85" transform="rotate(0 248.3 113.8)"/>
<path d="M247.8 112.3h0M249.9 113.7h0M247.9 114.0h0M248.1 114.8h0M247.8 113.8h0M248.7 114.9h0M247.7 113.3h0M249.4 113.8h0M249.0 114.0h0M248.5 113.1h0M248.3 113.7h0M247.8 115.4h0M247.3 113.1h0M248.6 114.8h0M247.7 113.6h0M247.7 112.9h0M249.3 113.8h0" stroke="#503040" stroke-width="1.1" stroke-linecap="round" stroke-opacity="0.8" fill="none"/>
<path d="M256.3 121.5 C256.0 121.3 255.8 120.9 255.7 120.6 C255.6 120.3 255.7 119.8 255.9 119.6 C256.2 119.3 256.7 119.1 257.1 119.0 C257.4 119.0 257.8 119.2 258.2 119.4 C258.6 119.6 259.3 119.8 259.3 120.1 C259.4 120.5 259.0 121.0 258.7 121.3 C258.4 121.5 257.9 121.7 257.5 121.7 C257.1 121.7 256.6 121.7 256.3 121.5Z" fill="#d07030" opacity="0.85" transform="rotate(0 257.3 120.4)"/>
<path d="M255.8 119.3h0M257.5 120.5h0M257.4 119.6h0M257.1 119.5h0M257.7 121.0h0M259.3 121.6h0M256.4 120.0h0M256.2 120.7h0M259.5 121.1h0M255.8 120.9h0M257.3 120.7h0M259.3 119.6h0M256.3 122.2h0M257.7 119.7h0M257.3 121.3h0M257.1 119.7h0M256.5 122.2h0M255.3 120.6h0M257.3 121.0h0M256.8 120.9h0M258.2 120.3h0M256.8 120.2h0M256.2 120.2h0M257.0 120.6h0M258.8 121.6h0" stroke="#d07030" stroke-width="1.1" stroke-linecap="round" stroke-opacity="0.8" fill="none"/>
<path d="M286.7 81.2 C286.8 78.8 288.6 76.4 290.5 74.2 C292.4 72.0 295.6 70.1 298.2 68.1 C300.8 66.0 303.3 64.3 305.9 61.9 C308.5 59.5 311.4 55.5 313.6 53.5 C315.8 51.5 317.7 50.0 319.0 49.6 C320.3 49.2 321.3 50.1 321.6 51.2 C321.9 52.4 321.8 54.8 321.0 56.5 C320.2 58.2 318.7 59.8 316.7 61.2 C314.7 62.6 310.7 62.6 309.0 65.0 C307.3 67.4 307.2 72.5 306.7 75.8 C306.2 79.1 306.3 81.7 305.9 85.0 C305.5 88.3 304.9 92.7 304.4 95.8 C303.9 98.9 303.6 101.7 302.8 103.5 C302.0 105.3 300.8 106.1 299.8 106.5 C298.8 106.9 297.9 107.3 296.7 105.8 C295.5 104.3 293.9 100.1 292.8 97.3 C291.7 94.5 290.8 91.5 289.8 88.8 C288.8 86.1 286.6 83.6 286.7 81.2Z" fill="none" stroke="#efb8a8" stroke-width="0.9"/>
<path d="M317.8 70.4 C318.2 69.8 318.4 69.1 319.7 68.8 C321.0 68.5 324.4 68.5 325.8 68.8 C327.2 69.1 327.3 68.9 327.8 70.4 C328.3 72.0 328.8 75.8 328.9 78.1 C328.9 80.4 328.5 82.8 328.1 84.2 C327.7 85.6 326.7 85.7 326.6 86.5 C326.5 87.3 326.8 87.6 327.4 88.8 C328.0 90.0 329.4 92.5 330.5 93.5 C331.6 94.5 333.3 94.4 334.3 95.0 C335.3 95.6 336.5 96.4 336.6 96.9 C336.7 97.4 335.9 97.7 335.1 98.1 C334.3 98.5 332.9 99.2 332.0 99.2 C331.1 99.2 330.6 99.0 329.7 98.1 C328.8 97.1 327.6 94.8 326.6 93.5 C325.6 92.2 324.5 91.1 323.5 90.4 C322.5 89.8 321.6 89.5 320.5 89.6 C319.4 89.7 317.6 90.5 316.6 91.2 C315.6 91.9 315.1 93.0 314.3 93.5 C313.5 94.0 312.9 94.3 312.0 94.2 C311.1 94.1 309.5 93.3 308.9 92.7 C308.3 92.1 308.1 91.2 308.5 90.4 C308.9 89.6 310.0 88.9 311.2 88.1 C312.4 87.3 314.5 86.8 315.8 85.8 C317.1 84.8 318.2 83.3 318.9 81.9 C319.5 80.5 319.8 78.5 319.7 77.3 C319.6 76.1 318.9 75.8 318.5 75.0 C318.1 74.2 317.5 73.5 317.4 72.7 C317.3 71.9 317.4 71.1 317.8 70.4Z" fill="none" stroke="#4a70c0" stroke-width="0.9"/>
<ellipse cx="344.7" cy="78.4" rx="11.2" ry="29.6" fill="none" stroke="#e04444" stroke-width="1"/>
<path d="M313.5 99.8 C314.9 99.8 316.6 100.1 317.8 101.0 C319.0 101.9 320.1 103.2 320.6 105.0 C321.1 106.8 321.1 109.5 320.9 111.7 C320.7 113.9 320.3 116.2 319.6 118.0 C318.9 119.8 317.9 121.6 316.8 122.5 C315.8 123.4 314.5 123.6 313.3 123.6 C312.1 123.6 310.8 123.4 309.8 122.5 C308.8 121.6 307.7 119.8 307.1 118.0 C306.5 116.2 306.2 113.9 306.1 111.7 C306.1 109.5 306.3 106.8 306.8 105.0 C307.3 103.2 308.2 101.9 309.3 101.0 C310.4 100.1 312.1 99.8 313.5 99.8Z" fill="none" stroke="#7040a8" stroke-width="0.9"/>
<rect x="321.2" y="112.4" width="18" height="7" rx="3.5" fill="none" stroke="#5aa838" stroke-width="0.9" transform="rotate(38 330.2 115.9)"/>
<text x="297.5" y="59.5" font-size="5.4" text-anchor="middle" fill="#efb8a8">MS</text>
<text x="327.8" y="61.8" font-size="5" text-anchor="middle" fill="#4a70c0">CD-1</text>
<text x="325.5" y="67.4" font-size="5" text-anchor="middle" fill="#4a70c0">CD-2</text>
<text x="355.7" y="59.5" font-size="5.4" text-anchor="middle" fill="#e04444">HY</text>
<text x="300.3" y="116.4" font-size="5.4" text-anchor="middle" fill="#7040a8">MF</text>
<text x="340.9" y="117.2" font-size="5.4" text-anchor="middle" fill="#5aa838">LB</text>
<path d="M317.1 55.2 C318.0 55.3 318.7 55.7 319.5 56.2 C320.2 56.8 321.7 57.6 321.7 58.3 C321.8 59.0 320.6 60.1 319.9 60.7 C319.2 61.3 318.3 61.8 317.5 61.9 C316.6 62.0 315.3 61.8 314.7 61.2 C314.0 60.7 313.8 59.6 313.7 58.7 C313.6 57.7 313.4 56.2 314.0 55.7 C314.6 55.1 316.2 55.1 317.1 55.2Z" fill="#b0509a" opacity="0.75" transform="rotate(0 317.3 58.5)"/>
<path d="M317.0 57.6h0M316.8 62.5h0M319.0 60.2h0M319.4 55.2h0M318.4 60.2h0M316.9 56.5h0M318.8 58.1h0M319.8 57.7h0M317.7 60.8h0M319.7 60.9h0M317.0 63.0h0M315.5 57.4h0M317.4 61.4h0M318.4 62.7h0M319.2 60.3h0M315.6 58.1h0M317.6 56.4h0M315.7 56.2h0M316.5 60.5h0M318.5 59.2h0M318.5 57.0h0M316.7 57.6h0M315.3 57.7h0M315.4 58.5h0M319.1 59.2h0M317.5 59.6h0M316.9 56.8h0M313.3 61.2h0M318.0 54.2h0M318.1 57.6h0M317.2 59.0h0M315.9 55.7h0M315.9 60.3h0M315.4 55.7h0M317.3 62.6h0M315.4 60.9h0M317.8 59.5h0M320.4 56.7h0M317.1 57.9h0M318.6 58.8h0M317.9 60.2h0M316.8 58.9h0M316.1 61.3h0M319.1 62.2h0M314.1 57.1h0M317.2 60.8h0M316.5 56.7h0M321.6 58.5h0M317.6 56.8h0M321.6 59.6h0M316.8 58.1h0M317.3 59.5h0M317.7 57.1h0M320.5 56.7h0M320.3 60.2h0M314.4 60.7h0M318.2 57.0h0M316.0 55.3h0M318.8 55.9h0M316.6 58.7h0M316.5 56.4h0M320.0 61.1h0M320.7 59.4h0M317.9 56.9h0M315.5 56.5h0M317.3 59.2h0M315.8 60.2h0M317.9 60.2h0M319.6 61.0h0M316.5 57.1h0M317.4 61.1h0M316.2 59.9h0M318.2 57.7h0M315.4 57.8h0M318.4 56.0h0M317.4 57.2h0M315.8 56.0h0M313.6 59.4h0M317.8 57.6h0M316.8 60.4h0M317.5 59.2h0M317.0 59.9h0M316.6 56.3h0M318.8 59.7h0M315.2 58.9h0M317.7 59.2h0M317.3 57.6h0M316.3 58.1h0M314.9 58.7h0M318.3 61.0h0M315.4 56.1h0M320.3 57.3h0M317.3 60.1h0M317.6 58.9h0M318.0 54.5h0M316.9 59.8h0M314.5 55.4h0M318.5 57.9h0M318.2 54.6h0" stroke="#b0509a" stroke-width="1.1" stroke-linecap="round" stroke-opacity="0.8" fill="none"/>
<path d="M345.4 57.6 C344.9 58.1 344.2 58.8 343.4 58.9 C342.5 59.0 341.2 58.7 340.6 58.2 C340.0 57.7 339.6 56.5 339.8 55.8 C339.9 55.2 341.0 54.8 341.5 54.3 C342.1 53.8 342.7 52.9 343.3 52.9 C343.8 52.9 344.5 53.7 345.1 54.2 C345.6 54.7 346.5 55.2 346.6 55.8 C346.6 56.3 346.0 57.1 345.4 57.6Z" fill="#2a88cc" opacity="0.75" transform="rotate(0 343.3 55.8)"/>
<path d="M343.3 56.3h0M340.9 54.9h0M344.5 53.5h0M341.1 55.9h0M344.2 56.9h0M342.6 55.5h0M342.9 54.9h0M343.8 56.0h0M342.2 56.2h0M343.3 55.7h0M345.3 53.1h0M343.8 54.1h0M342.7 58.1h0M341.3 55.6h0M342.2 57.3h0M341.5 53.2h0M344.2 55.2h0M342.7 57.5h0M341.7 55.2h0M343.6 56.4h0M342.4 57.4h0M347.3 55.2h0M345.8 55.3h0M343.5 55.3h0M342.2 53.8h0M342.6 57.8h0M345.4 55.3h0M342.3 54.7h0M341.1 58.6h0M344.5 56.0h0M342.4 54.2h0M345.7 57.0h0M341.6 57.3h0M341.3 56.8h0M341.6 55.2h0M344.2 56.5h0M345.1 54.5h0M346.1 57.9h0M343.3 56.5h0M341.9 55.6h0M340.9 55.9h0M343.7 57.9h0M345.0 57.1h0M342.6 55.4h0M342.7 56.1h0M339.8 57.0h0M340.5 55.0h0M343.3 55.0h0M346.3 55.6h0M346.1 57.6h0M342.4 56.4h0M345.6 55.3h0M343.5 54.9h0M343.4 55.2h0M343.4 57.4h0M345.8 56.0h0M343.7 57.1h0M342.8 54.1h0M345.3 54.3h0M345.0 54.3h0M346.6 54.2h0M344.8 58.1h0M341.6 58.1h0M341.8 53.0h0" stroke="#2a88cc" stroke-width="1.1" stroke-linecap="round" stroke-opacity="0.8" fill="none"/>
<path d="M302.2 73.2 C302.1 72.4 302.3 71.1 302.5 70.4 C302.7 69.7 303.1 69.1 303.4 68.9 C303.7 68.7 304.2 68.9 304.5 69.2 C304.8 69.5 305.2 70.0 305.3 70.7 C305.5 71.4 305.4 72.5 305.3 73.4 C305.2 74.2 304.9 75.6 304.5 75.9 C304.2 76.3 303.5 75.9 303.2 75.4 C302.8 75.0 302.3 74.1 302.2 73.2Z" fill="#2a9a48" opacity="0.75" transform="rotate(0 303.9 71.9)"/>
<path d="M304.1 70.9h0M305.2 70.4h0M303.9 73.4h0M302.1 73.3h0M303.5 71.4h0M304.4 72.0h0M304.1 70.5h0M303.1 71.3h0M303.5 69.9h0M305.2 75.5h0M302.4 71.1h0M304.8 72.1h0M304.6 74.1h0M305.2 69.0h0M304.5 72.2h0M304.5 68.8h0M303.0 73.5h0M305.0 75.5h0M302.3 74.7h0M303.6 71.3h0M303.6 73.3h0M304.9 70.0h0M304.5 72.3h0M303.2 73.8h0M303.0 70.9h0M303.8 72.1h0M303.1 70.9h0M305.0 72.2h0M304.2 71.8h0M304.8 74.6h0M303.8 73.7h0M303.1 71.9h0M302.8 70.7h0M305.2 72.5h0M304.2 67.4h0M304.1 68.8h0M303.3 70.3h0M303.5 75.8h0M303.5 70.2h0M304.0 68.2h0M302.5 71.7h0M303.2 74.2h0M303.6 72.3h0M303.4 73.6h0M305.0 71.7h0M303.4 73.1h0M304.0 74.0h0M304.0 72.1h0M304.7 70.1h0" stroke="#2a9a48" stroke-width="1.1" stroke-linecap="round" stroke-opacity="0.8" fill="none"/>
<path d="M318.9 74.9 C318.4 74.4 318.1 73.1 318.3 72.4 C318.6 71.7 319.6 70.9 320.3 70.7 C321.0 70.4 321.9 70.6 322.6 70.8 C323.2 71.0 323.9 71.4 324.3 71.8 C324.6 72.3 324.7 73.0 324.6 73.6 C324.5 74.2 324.1 75.0 323.6 75.3 C323.1 75.6 322.2 75.5 321.4 75.4 C320.6 75.3 319.4 75.4 318.9 74.9Z" fill="#d8c468" opacity="0.75" transform="rotate(0 322.0 73.1)"/>
<path d="M323.5 72.5h0M324.1 72.1h0M323.0 73.6h0M320.1 75.3h0M318.7 74.5h0M323.9 73.9h0M323.2 72.3h0M322.0 73.4h0M322.7 74.2h0M321.6 72.0h0M321.0 73.7h0M319.1 71.2h0M321.3 72.3h0M321.4 72.7h0M323.3 70.1h0M321.5 73.8h0M322.8 74.9h0M323.8 71.5h0M323.1 72.6h0M320.6 75.5h0M320.9 71.8h0M321.3 71.8h0M323.7 73.7h0M324.4 73.7h0M320.9 74.7h0M320.9 72.4h0M321.7 73.2h0M324.1 72.2h0M322.6 73.1h0M319.8 71.4h0M321.6 73.7h0M322.6 73.8h0M322.1 72.4h0M322.7 71.6h0M319.7 72.6h0M319.5 72.3h0M320.7 72.2h0M321.9 71.9h0M321.3 70.5h0M322.3 71.7h0M320.6 73.5h0M322.2 73.3h0M319.4 73.5h0M322.3 71.6h0M323.3 73.0h0M322.0 72.4h0M323.0 73.3h0M324.0 73.8h0M320.9 72.8h0M323.6 72.5h0M322.7 73.9h0M322.2 73.4h0M322.2 71.9h0M324.1 72.9h0M320.9 72.0h0M322.6 71.4h0M320.3 76.2h0M324.3 74.7h0M324.4 74.0h0M319.1 74.9h0M324.2 73.9h0" stroke="#d8c468" stroke-width="1.1" stroke-linecap="round" stroke-opacity="0.8" fill="none"/>
<path d="M336.0 70.5 C335.5 70.1 335.4 69.2 335.5 68.5 C335.5 67.9 335.8 67.2 336.3 66.7 C336.9 66.3 337.9 65.9 338.8 65.9 C339.6 65.9 340.9 66.2 341.4 66.7 C341.9 67.1 341.8 68.0 341.8 68.7 C341.8 69.3 341.7 70.1 341.2 70.6 C340.7 71.0 339.5 71.2 338.6 71.2 C337.7 71.2 336.5 71.0 336.0 70.5Z" fill="#2c8cd0" opacity="0.75" transform="rotate(0 338.7 68.6)"/>
<path d="M339.7 71.0h0M337.6 67.6h0M340.1 68.6h0M337.6 68.2h0M341.3 66.3h0M338.3 71.1h0M339.4 67.5h0M337.6 70.1h0M339.6 68.0h0M337.6 66.8h0M336.2 69.2h0M339.7 67.9h0M340.1 67.7h0M339.4 65.7h0M340.3 71.3h0M340.4 68.6h0M339.7 68.7h0M339.0 68.6h0M339.7 68.1h0M338.6 67.9h0M340.2 70.6h0M340.2 69.3h0M341.5 67.4h0M340.1 68.8h0M339.5 66.4h0M341.0 69.0h0M338.9 70.2h0M339.0 68.8h0M340.4 68.5h0M339.4 68.1h0M337.6 68.7h0M337.6 69.0h0M338.3 67.8h0M338.5 66.8h0M340.1 69.5h0M337.9 69.4h0M342.8 68.0h0M338.5 67.4h0M339.4 69.7h0M339.2 68.8h0M336.7 68.5h0M336.9 68.1h0M341.7 68.8h0M337.3 67.1h0M335.8 67.9h0M342.7 68.3h0M338.3 67.1h0M337.8 70.0h0M340.7 68.3h0M337.2 69.6h0M341.4 68.7h0M340.1 68.1h0M337.2 67.7h0M338.8 69.6h0M341.6 70.5h0M339.6 65.4h0M341.6 69.3h0M337.4 70.5h0M337.0 68.2h0M338.8 68.6h0M338.6 65.7h0M336.0 68.5h0M340.2 68.6h0M336.4 66.8h0" stroke="#2c8cd0" stroke-width="1.1" stroke-linecap="round" stroke-opacity="0.8" fill="none"/>
<path d="M289.9 84.9 C289.2 84.5 289.4 83.9 289.0 83.4 C288.6 82.9 287.2 82.0 287.5 81.7 C287.9 81.3 290.1 81.2 291.1 81.2 C292.2 81.1 293.2 81.2 294.0 81.4 C294.8 81.6 295.6 82.1 295.8 82.5 C296.0 82.9 295.7 83.5 295.3 83.9 C294.9 84.4 294.3 85.3 293.4 85.4 C292.5 85.6 290.7 85.2 289.9 84.9Z" fill="#1ea8b8" opacity="0.75" transform="rotate(30 292.1 83.0)"/>
<path d="M291.7 84.8h0M290.3 85.1h0M288.5 81.3h0M289.8 81.4h0M292.0 83.7h0M294.8 83.8h0M289.6 81.3h0M293.1 82.6h0M293.0 85.9h0M288.9 81.6h0M295.4 82.2h0M292.7 83.0h0M288.3 82.7h0M292.8 82.8h0M292.6 84.2h0M293.4 84.5h0M293.7 82.3h0M291.1 82.6h0M291.9 81.4h0M288.1 81.0h0M292.5 82.4h0M291.8 81.6h0M290.6 82.0h0M290.3 82.9h0M291.7 83.0h0M292.2 84.8h0M293.2 84.0h0M292.2 82.0h0M291.0 83.3h0M292.8 82.9h0M290.2 79.8h0M292.2 84.5h0M293.7 82.0h0M291.5 83.0h0M290.0 82.2h0M292.2 81.9h0M289.0 82.3h0M293.4 82.5h0M289.4 82.7h0M293.5 83.4h0M295.6 84.6h0M289.2 82.9h0M291.5 83.1h0M292.8 82.0h0M289.7 81.3h0M295.7 83.7h0M294.8 84.9h0M289.6 81.9h0M293.8 82.7h0M287.4 80.8h0M289.5 82.1h0M288.2 80.5h0M291.3 80.5h0M291.5 82.9h0M291.6 81.1h0M293.6 81.4h0M292.9 84.2h0M295.1 86.0h0M292.7 83.7h0M293.0 81.6h0M294.9 85.3h0M292.2 81.4h0M294.9 85.4h0M289.2 82.3h0M296.1 85.3h0M293.2 83.0h0" stroke="#1ea8b8" stroke-width="1.1" stroke-linecap="round" stroke-opacity="0.8" fill="none"/>
<path d="M311.0 81.4 C311.2 81.7 311.5 82.2 311.3 82.4 C311.2 82.6 310.5 82.6 310.2 82.7 C309.8 82.8 309.5 83.0 309.2 83.0 C308.9 82.9 308.3 82.6 308.2 82.4 C308.1 82.2 308.5 81.9 308.6 81.6 C308.8 81.3 308.8 80.7 309.0 80.6 C309.3 80.5 309.8 80.9 310.1 81.0 C310.5 81.2 310.8 81.2 311.0 81.4Z" fill="#1a3470" opacity="0.75" transform="rotate(0 309.7 81.9)"/>
<path d="M308.7 81.6h0M309.5 82.0h0M309.1 83.2h0M310.3 80.6h0M309.7 82.4h0M310.7 82.2h0M309.0 82.4h0M308.5 82.0h0M308.7 82.8h0M309.4 81.8h0M309.3 82.7h0M308.8 82.4h0M309.4 82.4h0M309.9 81.4h0M309.3 80.7h0M308.9 81.5h0" stroke="#1a3470" stroke-width="1.1" stroke-linecap="round" stroke-opacity="0.8" fill="none"/>
<path d="M325.6 83.0 C326.2 83.2 327.4 83.4 327.5 83.7 C327.5 84.0 326.4 84.5 326.0 84.8 C325.5 85.1 325.4 85.6 324.8 85.7 C324.2 85.9 322.9 86.0 322.5 85.7 C322.0 85.5 322.0 84.8 321.9 84.4 C321.8 83.9 321.3 83.3 321.6 83.0 C321.9 82.7 323.1 82.4 323.8 82.4 C324.4 82.4 325.0 82.7 325.6 83.0Z" fill="#8a78b0" opacity="0.75" transform="rotate(0 324.3 84.1)"/>
<path d="M323.5 83.8h0M326.1 83.5h0M324.9 83.1h0M323.2 82.9h0M324.0 84.7h0M324.8 83.7h0M325.2 83.8h0M324.9 84.3h0M322.3 84.8h0M324.1 86.1h0M323.9 83.6h0M326.6 84.6h0M327.2 84.6h0M324.0 84.8h0M323.1 83.7h0M323.5 83.9h0M325.5 83.7h0M324.8 83.6h0M324.0 84.3h0M322.7 85.0h0M324.6 85.3h0M325.8 84.7h0M324.1 83.1h0M324.0 83.7h0M324.7 83.7h0M326.1 83.7h0M323.9 84.9h0M324.3 83.0h0M324.9 83.9h0M321.2 84.3h0M322.7 83.4h0M325.0 84.4h0M323.9 86.1h0" stroke="#8a78b0" stroke-width="1.1" stroke-linecap="round" stroke-opacity="0.8" fill="none"/>
<path d="M354.8 76.4 C354.9 77.0 355.0 78.0 354.9 78.5 C354.8 79.1 354.4 79.6 354.1 79.8 C353.7 80.0 353.3 80.1 353.0 79.8 C352.8 79.6 352.7 78.7 352.6 78.1 C352.4 77.4 352.2 76.6 352.3 76.1 C352.4 75.6 352.9 75.5 353.2 75.3 C353.5 75.2 353.8 75.1 354.1 75.3 C354.3 75.4 354.6 75.9 354.8 76.4Z" fill="#20a8a8" opacity="0.75" transform="rotate(0 353.6 77.3)"/>
<path d="M354.2 77.7h0M353.1 77.7h0M353.6 76.4h0M353.7 76.1h0M354.5 78.1h0M354.4 78.4h0M353.8 75.3h0M353.4 77.4h0M353.3 77.2h0M353.4 76.7h0M353.0 76.6h0M352.8 78.9h0M353.8 78.1h0M354.2 76.8h0M354.4 74.7h0M353.2 77.4h0M354.9 79.0h0M354.3 78.5h0M353.2 77.1h0M353.2 77.5h0M352.7 76.9h0M353.3 78.0h0M353.2 77.9h0M354.0 78.1h0M354.2 76.0h0M353.7 77.1h0" stroke="#20a8a8" stroke-width="1.1" stroke-linecap="round" stroke-opacity="0.8" fill="none"/>
<path d="M338.2 79.3 C337.8 79.3 337.3 79.1 337.1 78.9 C336.9 78.8 336.9 78.4 337.0 78.1 C337.0 77.9 337.0 77.6 337.2 77.4 C337.4 77.3 337.8 77.2 338.1 77.2 C338.4 77.2 338.7 77.3 338.9 77.4 C339.1 77.6 339.3 77.8 339.3 78.1 C339.3 78.3 339.2 78.6 339.0 78.8 C338.8 79.0 338.5 79.3 338.2 79.3Z" fill="#1a2a6a" opacity="0.75" transform="rotate(0 338.1 78.1)"/>
<path d="M338.9 78.2h0M337.4 78.0h0M338.4 77.9h0M337.6 77.9h0M336.9 77.5h0M338.0 77.9h0M338.1 78.9h0M338.3 78.1h0M337.2 77.5h0M338.4 77.6h0M338.4 77.5h0M338.2 78.1h0M338.9 77.9h0M337.8 78.2h0" stroke="#1a2a6a" stroke-width="1.1" stroke-linecap="round" stroke-opacity="0.8" fill="none"/>
<path d="M341.2 84.3 C341.7 84.5 342.7 84.6 342.9 84.9 C343.0 85.3 342.4 85.8 342.2 86.3 C342.0 86.8 342.1 87.7 341.6 87.8 C341.2 88.0 340.3 87.5 339.8 87.3 C339.3 87.1 338.9 86.9 338.6 86.5 C338.2 86.1 337.6 85.4 337.7 85.0 C337.9 84.6 339.0 84.3 339.6 84.2 C340.2 84.1 340.6 84.2 341.2 84.3Z" fill="#d86a90" opacity="0.75" transform="rotate(0 340.5 85.8)"/>
<path d="M340.9 84.6h0M338.1 85.8h0M342.5 84.8h0M339.9 85.2h0M338.6 84.3h0M340.6 85.3h0M340.2 84.8h0M339.4 84.2h0M342.2 87.4h0M343.3 84.9h0M340.4 83.7h0M341.1 84.4h0M338.1 86.6h0M341.1 83.6h0M340.8 85.0h0M341.0 85.1h0M341.0 87.0h0M340.6 87.1h0M342.3 84.9h0M340.2 84.7h0M341.0 83.8h0M341.2 84.8h0M342.2 86.7h0M341.2 84.9h0M338.3 84.6h0M340.5 85.7h0M340.2 85.8h0M342.5 87.1h0M338.8 86.5h0M339.3 86.1h0M340.8 86.8h0M341.6 84.5h0M340.3 86.3h0M340.2 87.5h0M338.6 86.4h0" stroke="#d86a90" stroke-width="1.1" stroke-linecap="round" stroke-opacity="0.8" fill="none"/>
<path d="M312.1 88.9 C312.5 89.0 312.9 89.5 313.1 89.9 C313.4 90.4 313.7 90.9 313.7 91.4 C313.6 91.9 313.3 92.8 312.8 93.0 C312.4 93.2 311.7 92.7 311.1 92.5 C310.6 92.3 309.7 92.3 309.5 92.0 C309.3 91.6 309.7 90.8 309.9 90.3 C310.1 89.8 310.3 89.4 310.7 89.1 C311.0 88.9 311.7 88.8 312.1 88.9Z" fill="#5a9a20" opacity="0.75" transform="rotate(0 311.6 90.8)"/>
<path d="M312.0 93.4h0M309.6 89.1h0M310.4 91.7h0M313.0 90.4h0M312.4 90.7h0M312.0 90.1h0M311.6 90.8h0M309.4 91.4h0M311.6 92.0h0M312.9 91.7h0M312.6 89.7h0M313.1 89.7h0M313.2 91.6h0M310.4 92.2h0M310.8 89.9h0M309.7 90.5h0M312.8 90.0h0M313.8 91.6h0M311.0 89.3h0M309.6 91.5h0M313.2 89.5h0M311.6 90.5h0M311.3 91.4h0M314.1 90.0h0M312.6 92.1h0M311.3 90.6h0M310.0 92.1h0M311.0 90.0h0M311.7 89.8h0M310.3 90.4h0M313.4 90.6h0M312.2 89.0h0M311.1 88.9h0M311.5 91.5h0M309.5 89.7h0" stroke="#5a9a20" stroke-width="1.1" stroke-linecap="round" stroke-opacity="0.8" fill="none"/>
<path d="M331.9 89.1 C332.0 89.3 332.0 89.6 331.9 89.9 C331.8 90.1 331.7 90.5 331.5 90.6 C331.2 90.7 330.8 90.6 330.5 90.5 C330.2 90.4 329.7 90.4 329.5 90.2 C329.4 90.0 329.8 89.7 329.9 89.4 C329.9 89.1 329.8 88.7 330.1 88.5 C330.3 88.4 330.8 88.5 331.1 88.5 C331.5 88.6 331.8 88.8 331.9 89.1Z" fill="#2a3a80" opacity="0.75" transform="rotate(0 330.8 89.6)"/>
<path d="M331.4 89.8h0M331.3 89.5h0M331.0 90.1h0M330.5 89.7h0M330.8 90.2h0M330.7 90.0h0M331.5 89.2h0M331.4 88.8h0M330.9 89.1h0M331.5 90.5h0M329.9 89.7h0M330.2 88.7h0M330.7 90.2h0" stroke="#2a3a80" stroke-width="1.1" stroke-linecap="round" stroke-opacity="0.8" fill="none"/>
<path d="M322.2 98.9 C321.8 99.0 321.4 99.4 321.1 99.2 C320.7 98.9 320.3 98.1 320.2 97.4 C320.1 96.8 320.3 95.7 320.6 95.2 C320.9 94.7 321.4 94.7 321.8 94.6 C322.2 94.5 322.7 94.3 323.0 94.6 C323.2 95.0 323.1 95.9 323.2 96.6 C323.2 97.2 323.6 98.2 323.4 98.6 C323.3 99.0 322.6 98.8 322.2 98.9Z" fill="#c05090" opacity="0.75" transform="rotate(0 322.0 96.9)"/>
<path d="M321.9 98.0h0M323.0 97.7h0M322.0 94.6h0M320.6 98.3h0M322.6 97.7h0M321.1 95.2h0M322.1 95.4h0M323.3 96.0h0M321.5 98.2h0M322.3 95.6h0M322.7 99.7h0M321.0 96.5h0M321.1 94.1h0M322.5 97.9h0M322.8 97.5h0M320.3 96.9h0M321.4 95.2h0M321.1 98.0h0M321.7 99.8h0M322.4 94.1h0M322.8 98.7h0M322.0 95.1h0M323.5 95.0h0M321.9 94.1h0M320.9 94.4h0M322.9 98.6h0M321.7 94.9h0M321.9 97.5h0M320.7 95.2h0M321.9 97.9h0" stroke="#c05090" stroke-width="1.1" stroke-linecap="round" stroke-opacity="0.8" fill="none"/>
<path d="M331.8 97.0 C331.6 96.6 331.2 96.1 331.3 95.9 C331.5 95.6 332.3 95.4 332.8 95.3 C333.3 95.2 333.8 95.2 334.2 95.3 C334.7 95.4 335.3 95.6 335.5 95.9 C335.8 96.2 335.8 96.8 335.7 97.1 C335.5 97.5 335.0 98.1 334.5 98.2 C334.0 98.4 333.0 98.2 332.6 98.0 C332.1 97.8 332.0 97.3 331.8 97.0Z" fill="#7a3a80" opacity="0.75" transform="rotate(0 333.5 96.5)"/>
<path d="M333.5 96.6h0M333.0 96.2h0M333.4 96.8h0M332.0 96.9h0M333.6 96.3h0M333.8 96.1h0M333.8 97.7h0M332.9 97.2h0M332.7 96.2h0M333.7 95.9h0M334.7 95.2h0M333.2 96.4h0M333.6 96.3h0M332.2 96.5h0M335.1 97.0h0M333.2 95.4h0M332.3 97.1h0M332.7 96.2h0M334.8 96.9h0M334.4 97.2h0M332.7 95.2h0M332.4 96.7h0M334.0 97.3h0M333.3 97.1h0M333.4 95.4h0" stroke="#7a3a80" stroke-width="1.1" stroke-linecap="round" stroke-opacity="0.8" fill="none"/>
<path d="M301.5 95.3 C301.3 95.4 300.9 95.1 300.8 94.7 C300.6 94.4 300.6 93.7 300.5 93.1 C300.4 92.5 300.2 91.7 300.3 91.1 C300.3 90.6 300.8 90.0 301.0 89.9 C301.3 89.8 301.7 90.2 301.9 90.6 C302.0 91.0 302.0 91.6 302.1 92.3 C302.2 92.9 302.5 93.8 302.4 94.3 C302.3 94.8 301.8 95.2 301.5 95.3Z" fill="#8aa020" opacity="0.75" transform="rotate(30 301.3 92.7)"/>
<path d="M302.3 90.6h0M301.4 93.2h0M302.3 93.5h0M302.2 90.8h0M300.6 93.9h0M300.8 94.5h0M301.8 92.9h0M301.5 93.1h0M299.3 94.5h0M302.3 91.5h0M301.3 93.2h0M300.8 94.9h0M302.8 92.0h0M300.1 92.5h0M301.2 93.3h0M301.1 91.8h0M300.9 93.7h0M302.3 93.8h0M302.0 92.9h0M302.0 91.4h0M303.0 90.6h0M301.3 92.9h0" stroke="#8aa020" stroke-width="1.1" stroke-linecap="round" stroke-opacity="0.8" fill="none"/>
<path d="M298.9 97.9 C299.3 98.2 299.4 98.9 299.6 99.5 C299.8 100.1 300.2 101.0 300.1 101.5 C300.0 102.0 299.3 102.3 298.8 102.6 C298.4 102.8 297.8 103.1 297.5 102.9 C297.2 102.6 297.0 101.9 296.8 101.3 C296.5 100.6 295.9 99.7 296.0 99.1 C296.1 98.5 297.0 98.0 297.4 97.8 C297.9 97.6 298.5 97.6 298.9 97.9Z" fill="#a8a020" opacity="0.75" transform="rotate(0 298.2 100.4)"/>
<path d="M297.8 100.3h0M297.5 102.4h0M299.2 99.2h0M297.7 99.6h0M298.3 103.9h0M297.8 100.9h0M297.7 99.9h0M298.6 102.1h0M296.8 99.2h0M297.9 98.7h0M299.8 101.5h0M299.4 101.0h0M296.8 101.8h0M298.0 99.2h0M297.2 98.4h0M297.6 100.6h0M299.5 99.2h0M299.0 100.9h0M299.0 100.3h0M296.7 102.2h0M298.9 98.3h0M298.2 99.9h0M298.3 100.0h0M299.0 100.8h0M298.9 99.9h0M298.1 101.3h0M300.1 100.7h0M298.0 99.4h0M298.4 99.5h0M297.7 100.3h0M298.7 97.1h0M298.3 100.3h0M299.1 98.7h0M298.8 98.7h0M297.1 98.9h0M298.3 99.8h0M299.5 101.1h0M297.9 102.0h0M300.1 100.5h0M300.3 100.9h0" stroke="#a8a020" stroke-width="1.1" stroke-linecap="round" stroke-opacity="0.8" fill="none"/>
<path d="M350.2 100.9 C350.3 101.6 350.3 102.9 349.9 103.5 C349.6 104.1 348.7 104.7 348.1 104.7 C347.5 104.7 346.8 104.0 346.4 103.5 C346.0 102.9 345.8 102.1 345.8 101.5 C345.8 100.8 346.0 100.3 346.3 99.6 C346.6 98.9 347.0 97.3 347.5 97.2 C347.9 97.1 348.6 98.4 349.1 99.0 C349.6 99.6 350.0 100.1 350.2 100.9Z" fill="#d09020" opacity="0.75" transform="rotate(0 347.8 101.2)"/>
<path d="M347.4 101.9h0M347.4 97.3h0M348.2 100.4h0M346.9 102.5h0M347.9 100.1h0M347.8 101.0h0M348.5 101.6h0M347.1 98.7h0M346.2 100.9h0M346.1 102.7h0M347.5 97.7h0M350.2 99.2h0M347.7 100.7h0M346.6 97.7h0M345.0 102.9h0M345.6 102.3h0M347.8 102.9h0M347.0 102.6h0M349.1 102.4h0M350.0 100.9h0M350.1 99.8h0M347.8 99.6h0M347.8 103.3h0M348.9 101.4h0M346.6 104.2h0M348.3 97.1h0M348.3 98.8h0M350.0 103.5h0M347.0 103.8h0M346.5 103.0h0M348.7 100.9h0M345.7 100.6h0M348.7 101.9h0M347.0 105.4h0M349.0 101.3h0M348.5 103.1h0M346.9 98.4h0M347.7 97.9h0M347.8 102.7h0M350.1 101.7h0M348.1 102.7h0M349.9 100.6h0M346.0 99.6h0M345.9 99.4h0M347.6 101.9h0M348.0 101.3h0M347.3 102.0h0M349.1 102.7h0M350.0 100.6h0M347.4 104.6h0M348.1 102.0h0M347.3 103.1h0M347.2 99.2h0M347.7 100.3h0M349.1 100.4h0M348.0 100.8h0M348.3 99.9h0M349.5 98.4h0M347.2 99.8h0M348.8 101.3h0M348.5 100.5h0M346.7 99.0h0M347.3 100.1h0M348.2 101.9h0" stroke="#d09020" stroke-width="1.1" stroke-linecap="round" stroke-opacity="0.8" fill="none"/>
<path d="M317.3 103.0 C317.3 103.4 316.8 103.9 316.3 104.1 C315.8 104.3 315.1 104.1 314.5 104.1 C313.9 104.1 313.2 104.2 312.7 103.9 C312.3 103.7 311.7 103.2 311.8 102.8 C311.8 102.4 312.4 101.9 312.9 101.7 C313.4 101.5 314.1 101.5 314.8 101.5 C315.4 101.6 316.1 101.6 316.5 101.9 C317.0 102.1 317.4 102.6 317.3 103.0Z" fill="#2a8a40" opacity="0.75" transform="rotate(0 314.6 102.9)"/>
<path d="M316.0 102.7h0M314.5 102.4h0M314.9 102.2h0M313.4 103.7h0M315.5 103.4h0M315.0 102.2h0M312.7 104.0h0M314.8 103.5h0M314.9 103.8h0M313.2 103.9h0M311.6 103.2h0M316.7 103.3h0M315.2 102.3h0M316.2 103.1h0M315.8 103.6h0M314.4 102.5h0M315.9 103.6h0M315.1 103.5h0M313.9 103.1h0M315.9 103.3h0M314.1 102.8h0M315.0 104.4h0M311.8 102.2h0M317.5 102.5h0M313.5 102.8h0M316.0 104.5h0M314.7 103.3h0M312.2 103.3h0M316.1 103.4h0M314.2 103.5h0M313.9 102.1h0M313.7 103.0h0" stroke="#2a8a40" stroke-width="1.1" stroke-linecap="round" stroke-opacity="0.8" fill="none"/>
<path d="M331.2 107.4 C330.9 107.0 330.6 106.2 330.7 105.7 C330.8 105.2 331.4 104.5 331.9 104.3 C332.4 104.0 333.2 104.0 333.7 104.2 C334.2 104.4 334.8 104.9 335.0 105.4 C335.1 105.8 334.9 106.4 334.7 106.9 C334.6 107.3 334.4 107.7 334.0 108.0 C333.6 108.3 332.9 108.7 332.5 108.6 C332.0 108.5 331.5 107.9 331.2 107.4Z" fill="#20a090" opacity="0.75" transform="rotate(0 333.1 106.4)"/>
<path d="M331.7 105.3h0M334.5 108.2h0M335.0 105.7h0M333.8 105.5h0M333.7 105.9h0M333.3 108.1h0M333.5 106.1h0M333.2 106.7h0M332.5 106.7h0M333.8 108.3h0M331.6 107.5h0M333.3 107.8h0M332.5 105.8h0M333.5 105.7h0M334.5 106.4h0M332.5 107.6h0M332.1 107.9h0M334.3 106.6h0M334.3 108.4h0M334.8 106.4h0M333.0 107.8h0M331.3 105.7h0M333.7 107.1h0M333.5 106.9h0M331.5 106.2h0M333.4 106.1h0M333.2 107.2h0M331.9 105.7h0M330.9 107.8h0M331.8 104.3h0M334.1 106.1h0M334.3 105.9h0M333.3 106.5h0M332.8 107.4h0M335.6 105.9h0" stroke="#20a090" stroke-width="1.1" stroke-linecap="round" stroke-opacity="0.8" fill="none"/>
<path d="M309.0 116.9 C309.0 116.3 309.3 115.5 309.7 115.2 C310.0 114.8 310.7 114.5 311.2 114.6 C311.6 114.7 312.2 115.3 312.4 115.8 C312.6 116.3 312.6 117.0 312.5 117.5 C312.5 118.0 312.2 118.6 311.9 118.9 C311.6 119.2 311.0 119.5 310.7 119.4 C310.3 119.3 309.8 118.9 309.5 118.5 C309.3 118.1 309.0 117.4 309.0 116.9Z" fill="#a8a020" opacity="0.75" transform="rotate(0 310.9 117.2)"/>
<path d="M309.0 115.8h0M311.1 117.8h0M312.2 116.0h0M311.7 119.4h0M310.9 118.3h0M309.9 118.6h0M310.7 116.7h0M310.8 115.0h0M309.1 117.6h0M311.0 117.0h0M309.0 117.6h0M310.4 115.0h0M311.1 116.1h0M311.2 118.7h0M313.5 116.4h0M311.1 119.7h0M309.7 119.0h0M311.0 116.4h0M311.0 118.3h0M310.9 117.6h0M311.7 118.4h0M310.5 117.5h0M309.9 116.5h0M310.5 115.6h0M311.5 118.8h0M312.8 117.5h0M311.5 118.5h0M313.0 116.6h0M311.8 115.3h0M309.6 115.4h0M311.7 117.0h0M311.0 115.9h0M310.8 120.1h0M308.9 115.4h0M312.1 115.7h0M311.0 117.5h0M308.9 116.7h0M310.8 117.8h0M311.7 117.2h0M310.9 117.1h0M311.0 118.4h0M311.5 117.3h0M311.6 118.3h0" stroke="#a8a020" stroke-width="1.1" stroke-linecap="round" stroke-opacity="0.8" fill="none"/>
<path d="M324.5 115.2 C324.2 115.2 323.9 115.1 323.6 114.8 C323.4 114.6 323.1 114.0 323.2 113.7 C323.2 113.4 323.7 113.2 323.9 113.0 C324.2 112.7 324.4 112.1 324.7 112.1 C324.9 112.1 325.2 112.7 325.4 112.9 C325.6 113.2 325.7 113.5 325.7 113.9 C325.8 114.2 325.7 114.8 325.5 115.0 C325.3 115.2 324.8 115.3 324.5 115.2Z" fill="#503040" opacity="0.75" transform="rotate(0 324.6 113.8)"/>
<path d="M323.8 112.9h0M324.5 115.3h0M324.5 113.0h0M324.1 113.8h0M325.5 113.3h0M325.0 114.0h0M324.3 113.0h0M324.5 113.2h0M325.0 112.3h0M325.4 114.4h0M325.0 115.1h0M325.0 112.3h0M324.6 114.2h0M324.1 112.8h0M324.9 114.2h0M324.3 113.6h0M324.2 113.3h0" stroke="#503040" stroke-width="1.1" stroke-linecap="round" stroke-opacity="0.8" fill="none"/>
<path d="M335.9 120.9 C335.8 121.3 335.3 121.9 334.8 122.0 C334.4 122.2 333.7 121.8 333.2 121.7 C332.8 121.5 332.3 121.5 332.0 121.2 C331.7 120.9 331.5 120.3 331.6 120.0 C331.7 119.7 332.3 119.3 332.7 119.2 C333.1 119.0 333.5 119.1 333.9 119.2 C334.4 119.2 335.1 119.2 335.4 119.5 C335.8 119.7 336.0 120.4 335.9 120.9Z" fill="#d07030" opacity="0.75" transform="rotate(0 333.6 120.4)"/>
<path d="M333.0 119.2h0M334.2 120.0h0M333.0 121.7h0M333.6 120.9h0M333.9 122.0h0M334.4 119.1h0M335.5 120.0h0M333.2 121.2h0M333.5 120.1h0M333.2 120.1h0M334.9 120.7h0M334.5 119.7h0M333.8 120.8h0M332.2 120.4h0M332.4 121.5h0M331.7 120.1h0M333.9 120.6h0M332.6 121.1h0M333.6 121.8h0M333.8 121.2h0M331.8 120.6h0M333.7 119.5h0M335.0 119.9h0M334.6 121.0h0M333.0 119.8h0" stroke="#d07030" stroke-width="1.1" stroke-linecap="round" stroke-opacity="0.8" fill="none"/>
<text x="11.9" y="178.4" font-size="10" fill="#111" font-weight="bold">B</text>
<text x="178.8" y="176.9" font-size="8.8" textLength="32.7" lengthAdjust="spacingAndGlyphs">MM # 3</text>
<text x="73.3" y="190.8" font-size="9.2" text-anchor="middle" textLength="32" lengthAdjust="spacingAndGlyphs">Control</text>
<text x="73.1" y="201.4" font-size="9.2" text-anchor="middle" textLength="44.2" lengthAdjust="spacingAndGlyphs">2,910 cells</text>
<text x="132.4" y="190.8" font-size="9.2" text-anchor="middle" textLength="28.4" lengthAdjust="spacingAndGlyphs">BH3 m</text>
<text x="132.3" y="201.4" font-size="9.2" text-anchor="middle" textLength="43.8" lengthAdjust="spacingAndGlyphs">1,194 cells</text>
<line x1="43.5" y1="204.5" x2="43.5" y2="299.4" stroke="#151515" stroke-width="1.2" />
<line x1="43.0" y1="299.4" x2="161.3" y2="299.4" stroke="#151515" stroke-width="1.2" />
<line x1="41.0" y1="208.0" x2="43.5" y2="208.0" stroke="#222" stroke-width="0.8" />
<text x="37.2" y="210.7" font-size="7.6" text-anchor="end">4</text>
<line x1="41.0" y1="229.6" x2="43.5" y2="229.6" stroke="#222" stroke-width="0.8" />
<text x="37.2" y="232.3" font-size="7.6" text-anchor="end">2</text>
<line x1="41.0" y1="251.2" x2="43.5" y2="251.2" stroke="#222" stroke-width="0.8" />
<text x="37.2" y="253.9" font-size="7.6" text-anchor="end">0</text>
<line x1="41.0" y1="272.8" x2="43.5" y2="272.8" stroke="#222" stroke-width="0.8" />
<text x="37.2" y="275.5" font-size="7.6" text-anchor="end">−2</text>
<line x1="41.0" y1="294.4" x2="43.5" y2="294.4" stroke="#222" stroke-width="0.8" />
<text x="37.2" y="297.1" font-size="7.6" text-anchor="end">−4</text>
<line x1="45.6" y1="299.4" x2="45.6" y2="301.8" stroke="#222" stroke-width="0.8" />
<text x="45.6" y="311.8" font-size="7.6" text-anchor="middle">−6</text>
<line x1="59.6" y1="299.4" x2="59.6" y2="301.8" stroke="#222" stroke-width="0.8" />
<text x="59.6" y="311.8" font-size="7.6" text-anchor="middle">−3</text>
<line x1="73.1" y1="299.4" x2="73.1" y2="301.8" stroke="#222" stroke-width="0.8" />
<text x="73.1" y="311.8" font-size="7.6" text-anchor="middle">0</text>
<line x1="87.4" y1="299.4" x2="87.4" y2="301.8" stroke="#222" stroke-width="0.8" />
<text x="87.4" y="311.8" font-size="7.6" text-anchor="middle">3</text>
<line x1="106.3" y1="299.4" x2="106.3" y2="301.8" stroke="#222" stroke-width="0.8" />
<text x="106.3" y="311.8" font-size="7.6" text-anchor="middle">−6</text>
<line x1="119.8" y1="299.4" x2="119.8" y2="301.8" stroke="#222" stroke-width="0.8" />
<text x="119.8" y="311.8" font-size="7.6" text-anchor="middle">−3</text>
<line x1="133.0" y1="299.4" x2="133.0" y2="301.8" stroke="#222" stroke-width="0.8" />
<text x="133.0" y="311.8" font-size="7.6" text-anchor="middle">0</text>
<line x1="147.8" y1="299.4" x2="147.8" y2="301.8" stroke="#222" stroke-width="0.8" />
<text x="147.8" y="311.8" font-size="7.6" text-anchor="middle">3</text>
<text x="102.8" y="324.8" font-size="9" text-anchor="middle" textLength="29.5" lengthAdjust="spacingAndGlyphs">UMAP_1</text>
<text x="24.3" y="251.5" font-size="9" text-anchor="middle" textLength="29.4" lengthAdjust="spacingAndGlyphs" transform="rotate(-90 24.3 251.5)">UMAP_2</text>
<path d="M83.3 260.1h0M63.0 266.0h0M85.4 243.5h0M63.3 280.4h0M71.8 254.0h0M90.1 240.3h0M66.2 278.9h0M73.3 292.3h0M77.7 250.9h0M73.1 277.4h0M66.0 262.1h0M86.1 252.9h0M63.3 279.2h0M71.5 283.9h0M86.4 268.6h0M77.8 288.8h0M89.4 253.3h0M66.4 255.7h0M70.1 254.9h0M71.3 272.4h0M81.9 279.8h0M84.7 248.7h0M79.5 256.6h0M85.6 241.3h0M75.6 253.9h0M85.0 254.4h0M86.9 241.6h0M80.2 273.5h0M75.9 261.3h0M68.9 281.5h0M83.7 286.9h0M84.2 247.1h0M82.3 245.3h0M73.0 257.9h0M67.9 272.2h0M87.5 262.2h0M67.9 287.2h0M77.2 284.4h0M74.9 263.0h0M71.4 287.6h0M79.8 245.9h0M69.6 255.5h0M58.7 269.6h0M72.0 277.5h0M75.0 283.9h0M83.9 255.1h0M64.9 279.2h0M84.4 246.6h0M72.0 256.6h0M81.3 290.6h0M68.5 278.4h0M63.8 266.9h0M74.3 274.4h0M84.1 244.4h0M88.0 267.2h0M82.9 286.8h0M69.6 290.3h0M74.3 288.7h0M74.6 290.8h0M78.6 282.8h0M71.7 270.3h0M71.6 264.8h0M81.5 279.4h0M77.7 289.1h0M64.3 269.3h0M81.6 279.5h0M81.4 277.1h0M66.6 285.0h0M88.5 236.3h0M89.1 260.4h0M84.2 275.0h0M62.3 261.5h0M68.8 280.5h0M62.9 258.4h0M78.2 251.8h0M68.1 264.3h0M63.7 262.7h0M73.8 291.6h0M71.0 255.0h0M71.7 254.8h0M80.6 257.3h0M86.0 278.2h0M69.4 272.1h0M88.3 257.9h0M72.0 251.5h0M76.1 274.1h0M86.0 282.0h0M77.3 275.0h0M75.9 258.0h0M73.6 263.7h0M69.7 288.5h0M69.2 266.0h0M73.5 253.6h0M70.5 270.8h0M83.8 249.2h0M69.9 257.0h0M69.7 289.6h0M75.6 250.1h0M68.6 283.9h0M62.9 275.8h0M82.1 277.6h0M76.0 290.2h0M82.6 286.2h0M86.7 279.7h0M77.5 293.6h0M81.2 272.1h0M63.6 270.8h0M72.1 257.2h0M81.1 243.9h0M69.3 278.7h0M59.5 265.9h0M72.2 282.0h0M76.8 261.0h0M87.0 270.3h0M68.8 257.5h0M88.1 267.8h0M70.3 275.8h0M83.8 264.9h0M71.4 274.5h0M76.6 278.2h0M78.1 252.6h0M83.9 283.9h0M68.2 280.0h0M66.3 270.9h0M73.9 250.1h0M88.4 238.1h0M62.5 280.2h0M76.7 289.2h0M77.1 259.5h0M88.8 238.4h0M86.7 260.4h0M81.8 248.9h0M82.0 273.2h0M60.8 263.6h0M81.7 246.3h0M79.4 250.2h0M69.9 290.0h0M71.8 268.4h0M84.6 280.0h0M72.8 286.5h0M70.9 291.9h0M78.8 256.3h0M65.8 283.5h0M73.1 262.1h0M81.6 278.2h0M84.8 240.4h0M63.7 264.0h0M88.7 262.4h0M83.8 248.5h0M88.1 246.7h0M87.9 271.0h0M78.6 266.0h0M86.1 260.5h0M84.5 275.3h0M82.4 247.4h0M73.0 284.0h0M62.9 275.4h0M76.1 258.1h0M73.3 263.6h0M66.5 255.8h0M76.1 280.2h0M87.2 255.8h0M62.2 269.1h0M89.9 256.9h0M75.8 252.5h0M78.6 267.9h0M78.7 266.7h0M86.4 274.5h0M69.6 270.5h0M85.5 274.5h0M80.4 290.5h0M90.0 252.4h0M71.4 289.0h0M77.2 284.1h0M74.8 253.1h0M89.9 258.1h0M61.2 279.3h0M69.7 274.0h0M81.8 267.2h0M69.5 288.8h0M77.2 282.7h0M62.9 264.2h0M76.7 267.7h0M71.3 266.7h0M82.9 248.0h0M85.1 248.0h0M60.6 262.6h0M70.5 253.8h0M83.1 246.8h0M79.9 284.8h0M72.7 264.2h0M88.4 270.5h0M60.5 273.2h0M71.7 252.1h0M74.7 291.1h0M85.9 273.2h0M62.7 271.8h0M59.5 264.4h0M82.4 277.4h0M79.9 259.9h0M65.0 257.7h0M80.0 246.8h0M70.9 275.7h0M59.9 266.7h0M60.8 264.1h0M79.9 263.7h0M84.6 251.1h0M80.5 276.2h0M76.9 293.5h0M77.0 277.8h0M69.2 276.1h0M69.8 277.2h0M60.6 278.0h0M86.5 272.5h0M70.2 274.6h0M69.3 287.2h0M86.5 269.5h0M64.1 265.2h0M73.7 253.9h0M70.0 264.7h0M66.8 264.2h0M74.4 259.0h0M75.3 250.1h0M83.3 276.6h0M83.7 265.1h0M74.6 256.3h0M67.2 257.9h0M81.2 283.8h0M73.7 278.3h0M64.6 261.0h0M69.5 279.8h0M82.1 245.9h0M65.3 281.6h0M79.4 274.9h0M78.8 276.0h0M84.4 247.2h0M84.2 278.7h0M73.8 255.9h0M66.5 263.2h0M81.4 288.5h0M72.2 259.1h0M86.1 253.6h0M83.4 256.2h0M72.2 257.6h0M77.4 248.8h0M70.0 280.2h0M68.7 275.1h0M78.0 251.2h0M88.0 247.5h0M77.1 268.6h0M68.4 273.0h0M77.7 264.6h0M67.9 258.8h0M69.7 288.9h0M65.7 269.4h0M84.2 283.2h0M66.5 281.1h0M65.1 271.7h0M83.6 285.2h0M75.9 257.0h0M66.2 279.7h0M60.5 261.6h0M69.9 259.8h0M74.5 250.9h0M81.0 265.0h0M90.4 243.5h0M74.6 263.6h0M70.0 286.4h0M69.5 253.8h0M78.1 267.9h0M89.5 255.9h0M61.3 273.7h0M75.3 253.3h0M68.5 285.4h0M68.8 258.9h0M89.6 255.4h0M79.7 274.2h0M72.5 258.2h0M65.3 282.0h0M72.8 284.6h0M70.1 278.5h0M80.1 263.8h0M63.3 273.0h0M80.7 249.0h0M74.6 252.5h0M73.7 271.2h0M80.2 266.9h0M78.2 281.4h0M72.3 284.5h0M76.5 279.7h0M69.7 260.8h0M81.9 249.6h0M85.8 244.0h0M85.2 265.3h0M72.2 284.5h0M80.6 266.0h0M86.4 245.6h0M87.6 254.0h0M84.2 250.4h0M82.0 247.1h0M76.0 271.0h0M86.4 241.9h0M80.9 261.8h0M83.8 261.3h0M66.9 279.2h0M85.3 248.4h0M80.8 257.6h0M89.5 255.8h0M74.6 264.1h0M82.5 287.3h0M69.1 278.4h0M79.5 258.2h0M88.3 262.3h0M74.5 281.8h0M64.1 277.8h0M69.3 283.4h0M78.8 262.9h0M70.1 268.9h0M64.8 260.1h0M66.0 284.5h0M76.0 270.3h0M83.5 251.1h0M80.2 283.5h0M72.1 274.7h0M89.4 244.7h0M63.6 268.8h0M63.9 262.5h0M75.5 260.3h0M74.4 284.9h0M83.2 268.3h0M83.7 252.0h0M81.9 247.2h0M76.7 273.2h0M70.0 262.8h0M59.7 272.9h0M75.9 278.5h0M67.6 261.6h0M69.9 281.9h0M80.9 281.4h0M90.9 246.0h0M71.3 290.7h0M70.6 252.4h0M74.7 260.3h0M72.1 280.7h0M85.3 262.5h0M63.5 258.2h0M87.4 258.3h0M79.6 267.7h0M73.0 268.6h0M65.7 267.6h0M86.5 238.0h0M69.9 287.6h0M78.5 272.2h0M85.7 262.1h0M81.4 278.2h0M64.4 272.8h0M79.5 273.8h0M68.4 270.0h0M80.0 250.8h0M84.0 252.0h0M75.8 283.1h0M61.4 278.3h0M70.7 264.1h0M75.0 251.6h0M89.9 256.8h0M90.0 252.9h0M79.1 284.6h0M70.7 279.8h0M86.8 245.6h0M72.3 280.3h0M74.9 259.4h0M65.5 267.8h0M72.4 289.8h0M67.6 269.3h0M88.5 239.8h0M67.6 277.4h0M61.7 262.3h0M85.0 258.8h0M89.1 258.3h0M77.5 286.5h0M80.7 269.4h0M81.7 250.2h0M77.1 251.5h0M66.7 272.8h0M61.4 264.5h0M74.4 277.6h0M70.0 258.6h0M87.4 250.0h0M66.1 283.5h0M84.6 267.6h0M73.0 277.2h0M60.7 274.0h0M61.0 262.5h0M79.3 275.6h0M89.7 257.2h0M71.7 256.2h0M80.8 278.9h0M79.3 257.9h0M76.6 265.0h0M85.6 247.9h0M82.4 277.3h0M87.0 249.6h0M83.9 262.5h0M68.0 255.8h0M84.3 285.3h0M85.8 274.5h0M62.7 277.5h0M68.5 285.6h0M72.1 256.6h0M89.7 247.2h0M60.8 277.0h0M77.0 264.3h0M90.0 256.1h0M84.6 276.1h0M75.9 283.4h0M62.7 266.5h0M66.4 257.7h0M63.9 276.9h0M76.7 281.3h0M78.5 270.1h0M76.5 253.2h0M88.6 256.0h0M81.2 290.7h0M79.1 274.1h0M72.4 261.6h0M82.9 252.7h0M61.2 271.4h0M84.6 248.4h0M80.4 288.3h0M74.0 253.7h0M72.4 282.2h0M90.1 243.8h0M71.4 285.7h0M83.6 269.3h0M74.0 257.5h0M79.1 264.3h0M68.3 270.6h0M90.9 245.6h0M71.7 284.9h0M85.5 269.3h0M75.7 256.3h0M74.0 258.1h0M60.9 278.4h0M84.3 270.1h0M61.4 270.1h0M86.9 274.2h0M65.8 268.8h0M83.0 271.2h0M68.6 266.7h0M88.6 268.1h0M88.1 268.1h0M72.9 267.2h0M78.4 262.6h0M78.7 266.1h0M79.2 282.6h0M65.5 256.6h0M65.1 276.7h0M75.2 270.5h0M68.4 269.4h0M89.4 248.3h0M74.8 256.9h0M69.1 282.8h0M63.4 267.6h0M74.0 291.1h0M70.8 267.0h0M88.6 237.0h0M81.0 269.0h0M85.0 283.9h0M84.6 247.2h0M83.2 280.9h0M78.7 284.6h0M90.5 253.3h0M68.0 275.4h0M80.4 285.6h0M76.5 250.1h0M65.9 266.7h0M87.3 248.0h0M80.9 274.7h0M83.2 252.0h0M83.3 261.9h0M84.8 242.9h0M87.0 243.0h0M60.6 274.4h0M79.7 287.2h0M71.2 260.9h0M65.6 281.9h0M81.4 281.6h0M75.3 276.4h0M82.3 246.3h0M86.4 272.6h0M73.6 256.6h0M72.6 268.1h0M86.4 248.9h0M74.3 280.6h0M62.7 259.8h0M70.3 285.0h0M87.4 256.3h0M61.6 272.5h0M82.3 290.2h0M79.6 252.1h0M74.8 250.8h0M72.4 262.0h0M88.5 262.6h0M89.8 241.6h0M88.4 272.7h0M86.7 258.6h0M70.0 284.4h0M64.7 279.7h0M73.2 258.5h0M64.1 282.6h0M90.3 246.7h0M70.1 258.7h0M76.8 288.2h0M59.8 265.2h0M77.0 260.7h0M90.4 258.6h0M69.3 258.9h0M77.3 266.7h0M68.1 263.6h0M69.1 281.5h0M87.3 247.7h0M83.6 260.4h0M75.5 266.0h0M79.9 275.7h0M70.2 290.0h0M85.0 251.7h0M59.7 267.3h0M79.4 246.9h0M78.5 250.3h0M84.8 261.1h0M81.5 254.5h0M84.5 269.9h0M79.4 257.3h0M75.3 272.6h0M81.6 251.7h0M65.3 276.7h0M67.5 277.8h0M69.2 280.2h0M76.7 283.6h0M90.5 256.5h0M75.8 257.1h0M83.3 252.5h0M64.5 281.6h0M75.9 279.9h0M83.3 246.5h0M66.2 274.3h0M83.1 272.5h0M72.3 278.4h0M79.9 245.8h0M75.4 270.1h0M81.9 245.3h0M67.9 254.3h0M81.9 268.8h0M63.3 278.4h0M61.4 279.6h0M65.9 264.9h0M88.9 250.6h0M82.6 276.1h0M76.3 248.8h0M71.9 288.7h0M87.6 249.9h0M76.9 260.7h0M67.7 265.6h0M83.4 277.9h0M84.0 267.8h0M73.4 253.4h0M65.5 266.2h0M85.4 254.7h0M74.2 274.2h0M63.9 271.8h0M63.8 277.1h0M78.4 286.4h0M83.1 262.2h0M88.7 254.0h0M87.3 245.4h0M75.8 291.4h0M83.4 279.5h0M89.6 239.3h0M83.7 277.8h0M68.1 275.4h0M71.3 279.5h0M70.4 282.8h0M73.3 283.4h0M67.6 266.8h0M80.2 259.4h0M89.6 238.1h0M81.1 278.1h0M88.4 260.2h0M77.4 283.5h0M88.4 249.8h0M87.6 274.2h0M71.3 291.7h0M85.7 278.4h0M74.0 263.5h0M62.4 264.8h0M84.4 241.2h0M86.9 259.0h0M72.9 273.1h0M76.6 288.2h0M74.6 264.8h0M90.6 246.3h0M88.3 263.0h0M86.9 276.2h0M81.9 280.0h0M67.6 278.2h0M64.4 267.4h0M77.4 281.1h0M85.1 282.9h0M90.3 240.3h0M81.7 279.2h0M79.2 281.3h0M74.8 267.9h0M88.4 273.2h0M79.5 269.5h0M74.0 279.9h0M71.8 259.1h0M72.0 267.8h0M69.6 257.3h0M71.8 256.0h0M90.1 238.6h0M70.7 260.8h0M77.3 255.8h0M67.1 261.8h0M80.9 282.4h0M73.2 257.0h0M65.3 282.5h0M61.3 269.8h0M79.8 262.4h0M77.2 259.1h0M76.7 253.1h0M72.2 283.4h0M63.6 277.6h0M89.4 253.3h0M71.2 271.6h0M78.9 254.2h0M67.8 271.3h0M87.7 264.9h0M66.0 269.3h0M66.7 281.5h0M72.2 289.3h0M68.6 257.5h0M82.9 258.0h0M73.4 257.6h0M83.4 289.0h0M71.8 290.1h0M75.1 275.3h0M69.5 276.3h0M72.9 265.7h0M68.8 275.3h0M81.3 259.9h0M64.6 284.0h0M75.9 253.3h0M66.9 254.5h0M84.0 281.9h0M80.9 287.9h0M66.1 265.8h0M85.0 269.3h0M90.4 248.9h0M85.9 240.3h0M79.4 255.1h0M87.3 251.4h0M79.0 275.3h0M59.0 271.0h0M72.1 290.7h0M78.6 273.7h0M86.8 239.9h0M74.7 262.5h0M76.0 278.1h0M87.4 262.0h0M62.3 270.3h0M67.4 285.8h0M80.5 282.2h0M79.6 252.8h0M70.4 267.2h0M76.0 258.0h0M83.1 266.2h0M83.9 268.5h0M68.3 258.3h0M81.1 282.3h0M84.2 287.6h0M83.0 276.0h0M69.9 254.3h0M72.9 283.3h0M68.9 252.9h0M74.7 279.2h0M87.1 254.9h0M80.7 258.0h0M86.4 280.1h0M76.1 255.5h0M84.3 251.9h0M89.8 235.4h0M84.6 265.8h0M76.1 266.4h0M71.2 267.6h0M80.0 272.7h0M84.5 275.9h0M88.7 236.2h0M83.6 242.5h0M75.3 280.8h0M62.7 265.7h0M70.8 262.7h0M83.7 275.2h0M67.7 278.4h0M73.8 282.5h0M69.7 287.7h0M80.4 260.9h0M76.4 282.9h0M75.2 292.5h0M81.4 263.3h0M86.0 242.2h0M68.8 277.3h0M85.1 256.1h0M60.1 268.3h0M76.2 260.6h0M67.8 270.4h0M61.7 259.2h0M89.6 246.7h0M75.2 251.6h0M80.1 267.8h0M77.5 251.6h0M82.1 275.7h0M81.4 262.2h0M73.0 250.7h0M66.6 278.7h0M69.2 270.1h0M68.8 289.3h0M77.2 284.2h0M59.6 266.7h0M88.9 239.4h0M75.4 292.3h0M89.2 249.4h0M76.3 255.4h0M76.8 290.9h0M66.1 283.9h0M89.1 248.8h0M69.8 269.1h0M65.4 276.9h0M88.3 237.4h0M80.8 254.6h0M72.9 282.3h0M75.3 250.0h0M74.9 293.8h0M82.0 274.5h0M85.7 258.4h0M76.2 285.6h0M58.3 266.3h0M88.4 260.2h0M63.7 258.5h0M77.3 259.6h0M66.1 283.1h0M82.8 270.1h0M77.2 293.8h0M65.0 260.2h0M90.5 253.1h0M68.1 262.5h0M62.9 257.9h0M81.0 253.1h0M84.2 244.4h0M60.9 271.9h0M72.7 289.9h0M61.0 279.3h0M79.9 256.0h0M61.8 270.9h0M82.9 262.3h0M73.3 275.5h0M77.9 259.2h0M63.7 261.7h0M75.9 288.6h0M78.6 278.8h0M65.8 275.8h0M89.0 260.1h0M79.3 286.7h0M67.8 262.5h0M82.5 272.1h0M86.2 258.6h0M89.7 255.2h0M78.3 266.6h0M66.3 281.3h0M68.2 287.7h0M67.5 270.8h0M83.6 257.2h0M75.1 259.1h0M82.1 276.4h0M85.3 274.7h0M78.6 252.4h0M68.9 254.6h0M61.2 278.0h0M84.6 281.9h0M86.2 240.5h0M90.4 258.7h0M83.3 282.7h0M77.0 294.2h0M89.8 238.1h0M82.6 247.0h0M68.4 254.2h0M81.0 265.2h0M83.2 253.9h0M71.4 279.2h0M81.0 288.0h0M67.9 285.6h0M82.2 268.5h0M71.2 268.2h0M82.0 271.2h0M64.4 277.8h0M85.2 271.4h0M65.1 268.0h0M78.7 290.8h0M67.6 266.5h0M73.6 289.4h0M76.8 272.5h0M77.1 281.7h0M64.9 273.8h0M66.2 256.7h0M68.4 258.7h0M69.6 253.1h0M82.2 263.6h0M87.7 261.3h0M64.4 283.8h0M87.4 240.6h0M74.3 267.8h0M78.2 274.8h0M78.6 271.5h0M84.9 284.6h0M70.3 291.0h0M66.2 268.6h0M80.1 247.5h0M84.2 244.4h0M78.9 272.5h0M75.1 285.9h0M82.7 246.0h0M87.2 273.7h0M77.3 265.8h0M76.5 270.3h0M65.6 269.5h0M75.2 254.1h0M89.2 257.5h0M71.7 266.5h0M83.3 266.4h0M81.5 272.6h0M83.0 246.4h0M76.5 260.3h0M65.2 281.5h0M64.9 277.0h0M73.9 259.5h0M81.2 277.9h0M84.3 249.4h0M79.9 263.7h0M89.0 260.7h0M73.2 266.0h0M63.3 260.5h0M69.2 264.0h0M75.3 257.1h0M76.2 293.1h0M66.9 254.8h0M68.2 279.0h0M74.0 282.3h0M70.9 256.9h0M89.9 260.2h0M76.8 292.7h0M79.0 269.9h0M85.2 253.7h0M75.4 269.1h0M70.0 272.9h0M87.4 246.8h0M66.6 263.2h0M90.4 240.2h0M64.5 282.3h0M83.7 277.2h0M87.3 255.1h0M84.8 262.2h0M87.4 262.6h0M76.7 286.5h0M62.6 262.8h0M81.7 264.6h0M77.9 286.4h0M62.1 264.8h0M77.0 261.5h0M81.6 266.3h0M67.8 284.7h0M70.5 260.9h0M66.1 279.1h0M87.8 241.6h0M74.5 293.0h0M87.3 261.0h0M61.0 261.3h0M74.8 281.7h0M82.6 259.3h0M88.5 246.8h0M86.9 247.1h0M90.1 255.0h0M74.8 266.4h0M60.8 269.0h0M72.4 253.3h0M85.3 275.9h0M78.8 293.0h0M83.0 262.3h0M61.8 270.8h0M78.4 286.2h0M90.1 249.3h0M87.5 267.9h0M77.8 271.1h0M83.3 265.1h0M84.2 266.9h0M76.4 286.0h0M69.8 259.9h0M76.8 294.2h0M77.0 252.9h0M73.4 277.2h0M68.0 270.1h0M85.0 262.0h0M78.6 250.9h0M66.1 264.6h0M83.1 264.0h0M88.9 248.4h0M59.9 272.2h0M80.2 253.9h0M72.3 275.3h0M83.9 275.2h0M76.7 290.3h0M76.1 289.9h0M73.2 265.1h0M66.9 261.8h0M88.9 263.2h0M64.1 271.7h0M74.6 262.5h0M81.0 270.0h0M79.4 264.0h0M85.5 270.3h0M87.8 266.8h0M63.0 276.8h0M79.1 283.0h0M60.4 261.7h0M84.6 254.2h0M59.6 267.5h0M86.9 239.5h0M79.5 273.1h0M75.7 291.0h0M87.7 263.5h0M68.4 274.1h0M81.3 261.5h0M66.7 259.1h0M81.4 247.2h0M62.8 263.0h0M66.4 280.9h0M73.8 286.9h0M81.1 271.5h0M73.7 274.2h0M67.9 285.8h0M76.5 264.7h0M81.3 263.5h0M70.4 267.2h0M87.9 273.5h0M67.0 282.9h0M79.3 270.5h0M82.3 249.6h0M85.4 266.6h0M82.9 285.1h0M66.0 258.5h0M86.8 275.5h0M73.9 266.8h0M87.0 237.3h0M69.5 275.6h0M75.4 263.8h0M80.0 254.1h0M90.0 250.1h0M74.3 292.3h0M83.0 255.6h0M70.5 259.4h0M77.9 265.7h0M83.6 273.2h0M69.7 262.3h0M90.1 245.1h0M76.3 278.8h0M62.8 280.1h0M81.5 266.9h0M85.1 283.0h0M78.6 274.5h0M68.4 286.2h0M83.7 251.0h0M69.5 257.1h0M86.1 266.0h0M78.6 260.3h0M72.9 292.3h0M66.8 265.6h0M62.4 264.4h0M84.3 259.8h0M59.0 273.3h0M71.6 279.8h0M72.1 258.9h0M71.0 265.3h0M75.9 254.8h0M80.2 255.6h0M88.6 251.6h0M72.0 252.7h0M75.4 250.4h0M79.9 258.5h0M81.2 251.1h0M72.8 267.5h0M81.6 273.5h0M79.7 254.1h0M87.9 247.5h0M62.3 275.3h0M76.9 248.6h0M84.6 274.9h0M71.9 270.7h0M79.5 260.3h0M89.2 256.2h0M83.4 286.6h0M70.0 256.1h0M80.5 264.6h0M86.8 271.2h0M78.3 260.1h0M75.9 250.0h0M76.8 287.3h0M67.3 268.8h0M66.8 284.5h0M64.5 273.2h0M76.1 253.2h0M60.2 263.2h0M75.0 283.7h0M67.7 282.8h0M65.3 272.3h0M81.2 263.8h0M61.3 262.3h0M89.0 257.3h0M76.2 259.1h0M87.1 268.9h0M85.7 256.5h0M77.7 267.3h0M82.1 243.1h0M79.4 271.0h0M89.6 263.3h0M85.5 262.5h0M64.8 258.2h0M60.0 269.0h0M64.8 276.5h0M63.3 275.8h0M78.2 277.1h0M89.3 251.3h0M80.4 257.6h0M83.1 270.2h0M68.8 284.0h0M80.2 285.1h0M84.4 261.2h0M70.7 282.3h0M79.4 266.5h0M82.8 275.0h0M71.2 270.0h0M76.0 291.8h0M74.5 266.5h0M73.0 258.5h0M80.7 290.6h0M83.0 266.7h0M60.6 266.4h0M63.6 279.5h0M84.5 262.8h0M86.3 244.6h0M68.7 264.9h0M81.8 260.8h0M67.6 286.8h0M70.6 259.0h0M65.0 262.9h0M81.2 255.4h0M79.7 263.6h0M67.2 266.8h0M89.6 245.8h0M66.6 264.7h0M87.8 260.6h0M65.3 270.0h0M61.3 265.2h0M75.9 252.2h0M82.4 271.2h0M88.0 270.6h0M81.1 283.2h0M67.0 262.0h0M86.7 267.7h0M82.4 280.4h0M66.8 271.4h0M70.1 262.4h0M75.3 274.4h0M83.0 243.0h0M60.3 262.2h0M69.1 278.8h0M74.0 292.8h0M85.8 243.6h0M76.4 265.7h0M78.1 253.1h0M83.2 268.5h0M85.9 264.5h0M78.7 247.8h0M80.8 258.2h0M81.7 269.2h0M78.7 266.8h0M81.4 253.4h0M73.5 262.6h0M77.2 249.1h0M87.5 255.5h0M87.0 278.6h0M66.5 267.3h0M74.9 263.7h0M80.0 250.9h0M88.0 271.6h0M87.1 251.9h0M81.3 286.3h0M87.0 237.4h0M85.5 248.4h0M84.4 275.6h0M73.1 288.9h0M82.1 274.6h0M70.9 263.9h0M66.2 285.4h0M85.8 276.2h0M80.6 264.6h0M76.7 274.3h0M90.0 245.8h0M66.0 284.1h0M84.2 286.8h0M70.0 260.9h0M89.3 266.8h0M80.2 244.9h0M81.3 252.7h0M85.4 281.8h0M77.0 275.8h0M68.4 278.9h0M65.6 262.5h0M87.3 241.0h0M82.6 282.3h0M68.1 266.6h0M67.9 259.1h0M68.1 273.4h0M87.1 275.7h0M81.7 264.4h0M86.0 239.7h0M77.5 281.7h0M83.5 274.7h0M59.6 262.7h0M66.5 270.7h0M70.8 261.3h0M75.5 269.5h0M87.3 250.5h0M88.3 240.8h0M69.6 289.1h0M90.7 251.8h0M66.0 262.3h0M84.4 285.3h0M79.3 251.6h0M60.7 273.1h0M62.4 274.3h0M80.0 247.4h0M86.7 272.1h0M80.7 271.5h0M83.6 264.9h0M77.3 263.5h0M82.8 266.1h0M66.8 265.0h0M74.9 287.0h0M81.6 246.0h0M74.5 269.2h0M76.9 261.5h0M74.6 275.7h0M87.0 265.0h0M83.8 275.2h0M68.0 255.0h0M74.0 251.3h0M69.9 276.4h0M88.5 242.9h0M78.6 292.4h0M70.1 287.4h0M84.4 252.8h0M71.4 254.7h0M73.0 278.1h0M83.2 243.9h0M63.4 262.5h0M61.9 273.5h0M80.5 253.3h0M82.8 287.5h0M67.0 259.2h0M90.4 242.0h0M84.7 279.5h0M58.8 267.2h0M84.0 250.7h0M90.0 242.9h0M83.9 266.7h0M84.2 253.9h0M81.7 264.4h0M83.1 245.3h0M86.0 276.6h0M62.7 278.0h0M66.1 280.4h0M81.6 275.4h0M78.9 276.1h0M87.6 255.4h0M74.9 273.4h0M74.8 280.7h0M75.8 258.7h0M68.7 257.4h0M82.5 287.9h0M72.8 285.4h0M61.7 265.0h0M82.4 281.4h0M79.4 254.5h0M61.3 268.4h0M71.1 288.2h0M79.7 279.8h0M76.6 279.7h0M77.0 270.0h0M81.1 278.0h0M79.8 248.8h0M73.8 280.6h0M79.0 289.4h0M71.5 274.4h0M86.6 237.8h0M74.6 282.3h0M89.0 254.2h0M64.9 259.0h0M81.2 291.1h0M76.2 292.1h0M71.8 273.8h0M67.5 265.6h0M61.2 275.0h0M73.5 256.1h0M76.0 292.6h0M75.6 255.2h0M77.7 248.9h0M72.1 265.7h0M70.2 268.0h0M90.6 257.7h0M74.4 279.7h0M84.7 278.7h0M70.3 277.1h0M64.2 271.3h0M86.9 238.7h0M78.1 285.1h0M89.0 260.8h0M83.7 273.2h0M83.5 242.3h0M60.3 265.4h0M77.8 275.6h0M63.5 268.2h0M90.0 248.7h0M80.0 260.3h0M71.5 262.0h0M87.6 255.5h0M86.8 267.9h0M81.3 260.8h0M65.7 268.0h0M67.9 284.4h0M58.9 272.5h0M68.9 259.0h0M75.7 293.9h0M75.1 267.9h0M64.1 281.9h0M73.8 280.2h0M88.4 271.7h0M80.8 267.0h0M61.9 261.5h0M90.3 256.6h0M62.0 260.0h0M59.5 270.6h0M78.8 290.4h0M77.0 263.2h0M69.3 265.4h0M68.9 285.4h0M84.7 282.3h0M74.0 264.0h0M85.8 240.3h0M74.0 261.1h0M71.1 263.8h0M64.0 262.6h0M66.4 282.0h0M67.9 285.6h0M60.9 274.8h0M82.1 268.7h0M82.8 262.3h0M63.9 271.9h0M77.4 265.1h0M83.4 265.8h0M68.0 274.5h0M89.3 236.1h0M82.5 259.8h0M85.6 274.5h0M77.5 293.4h0M84.4 253.9h0M82.5 269.9h0M82.4 261.0h0M61.7 267.7h0M86.9 271.3h0M82.6 283.6h0M72.1 261.0h0M72.0 255.2h0M83.6 287.8h0M67.5 277.1h0M80.5 281.1h0M81.6 252.9h0M83.0 285.3h0M70.2 265.8h0M75.2 251.2h0M59.5 272.1h0M81.5 276.1h0M70.8 286.2h0" stroke="#ee9890" stroke-width="1.0" stroke-linecap="round" stroke-opacity="0.7" fill="none"/>
<path d="M67.1 233.2h0M79.2 221.7h0M80.5 212.8h0M80.3 233.2h0M76.1 246.0h0M77.6 250.3h0M78.6 249.4h0M71.2 248.6h0M83.0 228.8h0M76.1 243.7h0M68.0 232.7h0M77.4 241.2h0M73.4 236.2h0M82.7 228.4h0M78.7 248.9h0M74.4 233.1h0M75.0 245.8h0M73.7 223.3h0M74.2 238.1h0M76.0 241.5h0M78.0 213.4h0M74.5 234.9h0M79.2 231.0h0M73.0 237.9h0M70.6 230.9h0M72.2 234.3h0M80.9 233.6h0M81.6 238.0h0M67.8 237.4h0M75.4 242.6h0M86.9 227.8h0M85.8 222.7h0M84.1 231.2h0M76.3 232.2h0M76.1 221.3h0M80.4 238.0h0M87.2 225.0h0M72.6 234.9h0M72.1 249.8h0M73.4 218.6h0M77.3 223.7h0M78.6 248.2h0M70.3 223.8h0M70.1 228.6h0M73.2 241.0h0M74.8 237.8h0M69.1 235.7h0M71.7 218.1h0M84.3 241.4h0M82.3 213.8h0M80.4 244.8h0M80.4 227.4h0M72.0 244.3h0M87.5 228.4h0M76.0 229.9h0M72.1 240.8h0M87.2 232.6h0M85.0 229.5h0M73.9 244.1h0M79.6 245.9h0M78.5 228.0h0M67.0 232.1h0M72.8 243.2h0M79.8 239.7h0M79.2 216.2h0M82.5 243.7h0M76.4 234.8h0M83.4 233.0h0M76.8 231.7h0M80.7 242.4h0M72.3 242.9h0M73.7 238.9h0M72.5 247.9h0M75.6 226.2h0M75.3 236.4h0M67.4 232.9h0M84.8 236.4h0M80.3 243.0h0M77.7 217.0h0M83.3 221.8h0M77.1 233.0h0M74.5 231.6h0M73.7 251.3h0M77.1 251.6h0M83.4 228.5h0M78.8 235.2h0M83.2 225.2h0M81.6 227.7h0M83.0 233.0h0M85.1 234.5h0M78.3 245.9h0M85.8 229.0h0M87.7 229.5h0M80.0 246.2h0M74.8 228.8h0M75.4 225.8h0M73.5 245.9h0M82.8 235.6h0M81.2 224.9h0M80.5 248.0h0M74.8 232.0h0M72.9 221.7h0M83.6 239.0h0M75.3 237.8h0M73.9 235.0h0M70.5 233.2h0M75.0 222.5h0M82.9 227.6h0M80.8 243.0h0M77.3 213.5h0M83.9 235.4h0M77.8 240.0h0M75.9 248.7h0M80.1 229.1h0M81.9 213.3h0M80.2 229.3h0M76.9 245.7h0M74.7 222.0h0M72.3 232.9h0M73.6 226.8h0M80.9 227.0h0M82.6 219.0h0M67.4 234.2h0M83.8 218.5h0M67.0 237.8h0M83.0 219.5h0M77.8 214.5h0M69.6 225.4h0M81.6 238.6h0M78.9 233.1h0M80.4 232.7h0M73.2 245.4h0M73.7 228.1h0M78.3 251.3h0M74.4 229.3h0M76.8 220.6h0M72.6 243.5h0M71.0 230.6h0M72.4 234.9h0M84.9 218.0h0M78.7 220.0h0M79.2 239.9h0M73.0 220.9h0M74.1 225.0h0M83.7 229.0h0M78.0 220.4h0M73.9 250.1h0M69.5 227.0h0M69.1 245.2h0M73.2 231.3h0M67.0 238.7h0M75.8 244.4h0M80.4 242.7h0M73.7 221.9h0M81.7 214.8h0M84.9 242.4h0M77.8 226.9h0M68.3 233.3h0M84.9 218.0h0M68.0 238.6h0M75.0 243.9h0M72.7 251.2h0M85.8 226.4h0M77.5 235.9h0M74.4 244.8h0M79.6 245.6h0M72.1 231.9h0M77.6 235.8h0M78.0 218.7h0M84.1 235.7h0M80.8 242.6h0M77.4 249.2h0M69.1 224.5h0M69.6 236.8h0M71.6 218.5h0M78.3 230.7h0M79.2 213.0h0M79.1 222.7h0M70.6 227.5h0M70.6 230.0h0M69.0 240.7h0M85.8 226.5h0M67.9 237.1h0M82.5 232.5h0M79.4 249.2h0M75.8 232.7h0M85.0 228.6h0M73.2 217.3h0M87.0 226.1h0M71.5 250.8h0M81.5 230.3h0M69.9 225.9h0M70.4 249.6h0M73.0 250.9h0M82.5 237.0h0M70.9 245.0h0M73.1 251.4h0M75.9 250.1h0M86.7 228.7h0M79.8 242.0h0M79.6 243.3h0M68.1 232.9h0M82.4 230.2h0M71.1 228.6h0M77.4 247.0h0M86.2 226.6h0M80.2 238.8h0M81.6 245.6h0M78.0 245.5h0M82.9 216.8h0M69.7 237.0h0M70.8 249.2h0M72.8 231.2h0M74.8 249.8h0M71.0 247.4h0M81.4 235.8h0M82.0 234.9h0M82.4 217.7h0M81.0 226.7h0M73.1 244.9h0M82.8 243.2h0M75.9 233.7h0M81.7 216.0h0M68.5 237.6h0M69.6 241.6h0M82.9 219.7h0M83.5 232.2h0M83.5 216.5h0M73.5 240.1h0M76.3 218.8h0M78.3 218.1h0M78.9 216.4h0M83.4 221.7h0M79.1 238.5h0M70.3 236.6h0M77.6 237.1h0M70.9 230.6h0M83.4 238.0h0M72.9 225.1h0M76.7 232.9h0M77.4 224.0h0M78.7 214.5h0M84.2 221.1h0M75.8 215.1h0M73.4 232.7h0M82.3 233.4h0M81.1 214.5h0M68.8 238.2h0M77.8 236.4h0M70.3 224.8h0M73.2 241.4h0M81.9 240.9h0M70.9 230.0h0M73.5 236.6h0M81.3 231.4h0M75.9 246.0h0M68.4 235.1h0M72.0 242.0h0M82.0 229.7h0M68.6 241.9h0M80.9 235.5h0M70.9 239.2h0M84.8 224.0h0M86.5 226.2h0M86.0 237.0h0M83.7 228.1h0M75.9 235.7h0M83.9 230.0h0M86.9 222.3h0M79.6 218.4h0M71.6 223.2h0M67.6 233.9h0M80.2 228.6h0M83.0 235.1h0M83.2 216.5h0M68.3 245.3h0M69.2 235.2h0M73.7 238.9h0M82.9 246.5h0M72.4 251.4h0M83.8 224.4h0M73.6 232.8h0M84.2 240.3h0M79.6 229.0h0M75.3 228.3h0M81.9 230.8h0M79.5 247.9h0M84.1 229.5h0M75.2 236.1h0M70.7 246.9h0M83.7 223.5h0M75.7 228.8h0M82.7 224.5h0M74.2 232.1h0M72.2 228.8h0M82.2 233.3h0M69.0 225.1h0M80.1 222.0h0M74.6 234.4h0M76.2 219.4h0M78.1 234.3h0M74.7 237.1h0M86.0 226.3h0M84.4 237.4h0M83.0 228.7h0M72.5 239.4h0M76.3 249.0h0M71.2 225.2h0M78.8 249.1h0M74.9 243.7h0M68.5 236.8h0M72.6 239.6h0M74.8 219.4h0M71.2 240.6h0M79.2 249.4h0M77.9 214.9h0M84.9 223.6h0M81.7 232.6h0M78.7 213.7h0M70.2 241.4h0M74.3 247.4h0M83.3 234.6h0M75.0 233.4h0M69.6 234.6h0M73.2 227.1h0M77.7 224.0h0M69.6 238.1h0M82.1 216.2h0M72.8 222.9h0M74.5 231.6h0M78.0 237.5h0M73.1 226.0h0M73.9 247.6h0M83.0 232.4h0M69.2 225.5h0M84.0 230.7h0M74.2 237.6h0M67.0 236.9h0M83.1 217.6h0M73.5 246.3h0M72.2 232.9h0M73.8 234.0h0M75.8 225.9h0M84.8 241.2h0M77.3 227.0h0M85.4 228.2h0M82.7 220.1h0M79.3 223.4h0M86.4 228.3h0M86.1 236.3h0M73.7 234.0h0M84.9 241.3h0M83.4 236.0h0M81.6 218.5h0M83.2 238.9h0M81.3 225.1h0M82.4 234.2h0M81.8 240.3h0M83.0 241.1h0M72.3 250.1h0M84.5 240.3h0M75.9 232.2h0M83.4 237.1h0M74.8 244.3h0M68.0 227.1h0M71.5 236.0h0M73.6 236.2h0M85.8 230.0h0M84.2 232.1h0M78.6 213.6h0M73.7 230.8h0M80.2 221.6h0M79.4 238.3h0M75.2 216.1h0M74.5 220.4h0M71.3 241.5h0M82.0 245.0h0M67.0 234.5h0M83.6 238.6h0M79.7 229.7h0M83.6 234.7h0M74.2 231.8h0M78.4 219.9h0M78.9 246.1h0M73.8 242.7h0M69.6 231.6h0M80.7 234.3h0M83.2 219.8h0M79.1 233.7h0M83.9 217.7h0M86.6 221.0h0M82.4 228.2h0M80.2 240.8h0M72.8 249.9h0M76.1 230.9h0M83.5 219.2h0M86.2 226.9h0M69.0 234.9h0M72.2 229.3h0M69.8 240.4h0M81.0 240.5h0M81.2 216.1h0M81.3 234.9h0M78.5 245.8h0M78.5 224.1h0M67.1 239.2h0M79.8 238.1h0M77.7 230.7h0M86.4 228.7h0M80.3 248.8h0M87.5 231.3h0M70.2 231.1h0M77.6 227.9h0M84.4 223.3h0M71.0 244.8h0M70.5 240.5h0M73.1 228.2h0M78.0 222.3h0M67.9 228.7h0M81.8 235.0h0M82.3 223.5h0M77.6 214.9h0M73.6 242.0h0M75.2 219.4h0M75.8 248.2h0M82.3 217.4h0M77.3 221.5h0M84.0 230.1h0M73.9 247.2h0M73.3 229.8h0M77.2 238.4h0M73.1 237.0h0M73.8 245.3h0M77.1 241.5h0M77.6 240.4h0M76.9 218.1h0M75.4 225.1h0M77.8 231.7h0M83.8 215.8h0M68.4 239.9h0M74.8 250.9h0M85.0 229.8h0M74.4 229.3h0M82.9 231.7h0M82.2 233.7h0M82.2 232.9h0M79.3 229.5h0M78.3 234.9h0M68.7 233.9h0M84.2 223.5h0M82.8 224.4h0M77.6 243.6h0M79.1 222.3h0M73.0 234.0h0M83.9 220.3h0M80.5 228.9h0M81.3 242.1h0M74.0 235.6h0M69.4 235.7h0M81.7 222.4h0M82.6 218.6h0M86.6 235.6h0M84.9 240.3h0M70.1 240.8h0M80.2 227.9h0M79.7 243.3h0M82.4 221.8h0M73.5 249.1h0M72.3 221.4h0M79.0 218.3h0M70.5 240.8h0M66.8 235.5h0M74.2 240.5h0M72.4 230.9h0M85.4 228.2h0M70.6 249.0h0M74.3 233.7h0M70.4 227.9h0M83.1 246.3h0M68.8 237.3h0M78.9 227.4h0M83.1 221.9h0M79.9 229.4h0M68.3 242.3h0M69.1 243.4h0M82.9 230.7h0M77.9 220.6h0M68.8 239.1h0M74.2 234.5h0M75.8 222.8h0M68.9 241.8h0M77.8 218.4h0M73.6 218.0h0M76.9 243.6h0M79.5 246.1h0M76.0 229.7h0M70.2 221.8h0M86.0 224.9h0M73.8 245.4h0M74.8 221.7h0M67.2 232.4h0M79.8 221.1h0M71.5 237.0h0M68.9 242.8h0M85.2 230.3h0M69.3 234.1h0M75.2 216.2h0M81.1 235.3h0M73.9 221.7h0M79.4 249.6h0M73.7 235.4h0M71.7 230.2h0M79.9 224.9h0M79.1 234.4h0M77.4 218.2h0M77.6 236.2h0M77.6 248.0h0M77.9 243.5h0M85.5 237.3h0M83.6 235.3h0M77.8 218.8h0M75.6 240.8h0M81.0 248.8h0M75.1 250.1h0M77.3 213.0h0M75.5 233.8h0M84.2 222.6h0M68.9 245.4h0M80.6 218.2h0M76.1 243.2h0M78.1 239.7h0M76.9 249.5h0M78.8 226.6h0M75.7 228.0h0M86.2 225.0h0M80.7 235.6h0M70.5 248.1h0M73.3 223.8h0M69.8 239.5h0M81.9 227.6h0M68.9 235.1h0M73.6 233.9h0M72.0 228.7h0M85.1 225.8h0M76.7 251.4h0M79.4 249.4h0M71.6 250.0h0M86.7 224.6h0M80.4 249.7h0M72.0 227.3h0M82.3 236.1h0M86.1 231.0h0M78.0 219.1h0M70.5 246.6h0M70.1 247.4h0M83.0 236.1h0M70.3 249.1h0M76.7 227.0h0M82.0 224.4h0M74.1 219.5h0M79.7 225.3h0M69.3 246.5h0M66.9 233.0h0M67.3 233.3h0M67.7 229.8h0M79.4 234.3h0M69.5 245.0h0M74.3 233.7h0M73.8 243.5h0M72.0 220.6h0M76.0 234.0h0M77.0 236.4h0M85.1 226.5h0M76.9 250.6h0M86.5 236.3h0M73.1 237.9h0M80.9 240.2h0M81.4 228.3h0M82.4 227.1h0M74.0 215.8h0M80.1 219.5h0M73.9 223.8h0M75.1 228.7h0M86.7 234.8h0M78.8 228.6h0M76.4 245.0h0M77.6 233.0h0M75.9 219.5h0M75.1 235.0h0M67.9 241.4h0M75.5 237.2h0M74.1 243.9h0M83.0 217.9h0M79.5 223.2h0M83.0 228.0h0M69.7 248.8h0M68.5 227.6h0M74.8 239.3h0M75.8 215.4h0M71.8 236.5h0M70.3 247.2h0M79.5 228.7h0M70.8 236.2h0M68.2 231.2h0M73.3 228.4h0M78.1 242.1h0M81.2 230.3h0M73.2 236.9h0M74.0 249.3h0M77.3 235.9h0M80.7 232.2h0M76.1 238.9h0M73.3 231.6h0M79.4 224.8h0M71.1 228.1h0M76.1 229.5h0M72.3 230.9h0M80.9 216.8h0M79.3 241.2h0M72.4 221.6h0M67.9 230.0h0M81.3 229.4h0M78.4 236.8h0M75.0 249.2h0M81.7 230.8h0M74.3 217.1h0M78.7 243.3h0M77.3 215.7h0M71.5 240.0h0M83.3 229.2h0M85.7 229.1h0M84.0 241.7h0M70.0 222.8h0M75.2 231.4h0M79.1 223.1h0M67.2 233.9h0M84.8 242.3h0M83.0 215.3h0M72.9 235.1h0M77.1 221.0h0M81.7 224.9h0M74.5 247.1h0M69.2 236.5h0M69.5 247.7h0M74.8 232.4h0M74.4 226.0h0M76.1 238.7h0M85.9 230.8h0M73.6 226.2h0M83.0 219.6h0M73.9 219.6h0M75.9 242.2h0M81.3 230.6h0M79.7 217.7h0M72.8 225.5h0M73.4 238.3h0M73.4 221.3h0M83.3 244.6h0M71.0 231.0h0M82.3 245.5h0M71.8 230.9h0M81.7 213.3h0M70.6 241.2h0M80.9 230.8h0M78.5 233.7h0M76.4 215.5h0M80.6 243.9h0M74.4 242.9h0M82.8 240.9h0M74.7 243.3h0M84.3 217.2h0M81.3 216.4h0M82.8 226.7h0M75.9 223.1h0M82.7 238.9h0M71.7 241.4h0M69.1 243.5h0M77.8 243.2h0M76.9 252.0h0M81.4 231.5h0M78.7 235.3h0M73.9 224.1h0M81.5 245.9h0M77.9 228.3h0M80.6 238.9h0M76.1 223.3h0M76.3 228.0h0M68.1 230.9h0M86.6 224.7h0M80.7 243.4h0M79.9 236.7h0M71.1 238.6h0M76.3 251.1h0M78.3 226.7h0M84.8 238.5h0M73.1 237.9h0M71.8 219.1h0M85.2 232.0h0M84.9 222.0h0M78.1 221.9h0M82.8 237.1h0M75.7 227.5h0M72.9 220.1h0M82.1 225.5h0M69.8 226.7h0M73.5 251.6h0M75.4 228.2h0M76.9 228.2h0M73.5 217.9h0M75.9 237.9h0M69.3 230.3h0M70.0 235.5h0M73.1 238.5h0M83.5 229.4h0M77.2 215.4h0M70.6 236.4h0M85.5 219.0h0M74.2 233.6h0M81.7 226.1h0M73.2 240.8h0M77.2 229.9h0M80.6 217.4h0M77.7 224.2h0M70.3 232.4h0M81.2 234.0h0M76.2 239.1h0M72.9 251.3h0M77.5 240.3h0M75.4 228.1h0M75.4 221.8h0M81.1 247.6h0M72.3 234.3h0M78.4 217.7h0M81.8 234.3h0M86.8 224.1h0M67.5 243.6h0M68.2 238.7h0M69.4 239.6h0M84.6 234.1h0M73.6 251.0h0M84.5 222.3h0M82.0 228.5h0M77.5 224.9h0M72.7 223.8h0M74.3 219.4h0M85.5 228.7h0M76.7 244.9h0M82.7 219.3h0M85.1 226.6h0M83.1 239.0h0" stroke="#a8c860" stroke-width="1.0" stroke-linecap="round" stroke-opacity="0.7" fill="none"/>
<path d="M55.3 244.0h0M58.8 255.4h0M46.7 242.0h0M54.4 255.2h0M48.6 230.3h0M56.3 243.3h0M45.8 233.1h0M49.5 239.7h0M57.9 256.2h0M50.9 249.6h0M45.9 222.0h0M50.7 248.2h0M47.5 221.0h0M46.3 222.9h0M46.6 232.2h0M53.6 249.2h0M49.5 242.7h0M50.2 245.7h0M48.4 244.5h0M48.1 239.4h0M49.2 248.5h0M56.4 257.8h0M53.2 235.2h0M49.5 242.4h0M55.6 241.8h0M49.8 239.6h0M45.6 223.5h0M51.1 249.8h0M51.6 246.0h0M52.6 253.5h0M56.6 252.8h0M51.2 242.4h0M49.2 226.5h0M55.8 246.9h0M53.4 259.1h0M46.4 236.4h0M48.6 246.4h0M48.8 231.4h0M58.3 252.2h0M51.5 236.2h0M58.3 258.6h0M45.8 226.4h0M58.3 256.7h0M55.1 238.1h0M51.5 250.4h0M50.7 230.8h0M46.8 230.6h0M48.4 225.2h0M58.1 250.7h0M52.7 242.7h0M48.1 241.5h0M56.1 244.6h0M55.8 246.6h0M52.0 256.4h0M49.1 236.1h0M57.4 248.8h0M48.8 236.8h0M56.7 263.4h0M47.6 226.9h0M49.4 247.5h0M51.5 227.0h0M46.9 243.1h0M50.4 242.0h0M47.0 235.3h0M52.5 257.7h0M49.4 224.5h0M54.9 256.1h0M51.8 245.8h0M52.2 227.4h0M52.3 249.1h0M54.2 254.2h0M54.4 262.6h0M58.9 253.0h0M49.2 251.7h0M53.6 258.7h0M47.1 241.8h0M49.4 237.5h0M54.7 248.1h0M58.0 251.4h0M54.6 259.9h0M55.9 248.2h0M55.5 258.0h0M50.9 228.7h0M51.7 257.7h0M48.3 228.6h0M48.2 238.1h0M57.7 260.8h0M57.5 252.4h0M53.4 242.5h0M55.5 246.7h0M58.1 253.7h0M51.7 258.0h0M49.5 237.0h0M54.7 261.3h0M49.7 249.5h0M57.9 259.7h0M55.3 257.6h0M54.4 244.4h0M48.2 242.8h0M46.1 233.0h0M48.2 234.6h0M58.3 253.2h0M50.8 228.2h0M58.0 249.5h0M48.8 221.2h0M55.8 248.6h0M57.1 261.4h0M46.7 230.8h0M49.4 243.2h0M56.8 254.1h0M53.9 248.3h0M45.9 228.8h0M48.2 222.2h0M56.5 261.0h0M50.6 255.5h0M50.2 247.8h0M49.5 238.4h0M55.6 257.1h0M47.5 227.0h0M54.9 252.0h0M50.4 246.6h0M48.5 239.3h0M54.8 237.4h0M46.2 223.9h0M54.6 256.8h0M55.0 258.7h0M54.8 254.8h0M57.2 246.4h0M48.8 222.9h0M47.1 237.0h0M49.6 244.9h0M58.0 257.4h0M48.2 246.1h0M48.3 222.0h0M48.6 228.4h0M56.8 258.8h0M50.7 234.9h0M55.3 243.4h0M50.1 225.9h0M48.6 243.1h0M49.2 241.5h0M52.5 231.1h0M47.1 238.3h0M53.0 256.3h0M53.5 235.0h0M58.5 254.9h0M52.3 239.7h0M57.3 247.5h0M53.2 242.7h0M47.3 227.1h0M48.9 223.4h0M52.8 229.4h0M51.2 253.1h0M52.2 238.5h0M48.3 241.0h0M49.8 230.8h0M56.3 251.4h0M52.5 257.3h0M56.5 246.2h0M45.8 230.7h0M51.1 251.2h0M55.3 258.9h0M49.0 224.6h0M50.1 223.7h0M49.3 225.3h0M53.0 232.1h0M53.5 251.9h0M48.7 225.1h0M52.7 237.4h0M51.8 235.9h0M47.8 224.6h0M55.7 248.2h0M55.1 248.4h0M51.9 231.0h0M51.2 256.0h0M49.3 229.8h0M49.8 237.2h0M54.5 237.7h0M54.4 252.2h0M52.8 251.7h0M58.9 253.1h0M57.2 259.9h0M51.6 238.0h0M47.8 226.9h0M49.7 238.2h0M50.9 240.2h0M46.0 234.7h0M54.6 262.5h0M53.6 257.8h0M50.1 225.1h0M56.1 243.8h0M53.3 245.4h0M55.4 260.5h0M50.0 238.1h0M50.8 239.7h0M45.5 225.3h0M58.9 250.8h0M48.4 227.4h0M55.5 261.7h0M48.3 230.0h0M47.5 228.6h0M48.7 238.2h0M48.8 249.5h0M48.9 231.3h0M51.4 226.8h0M46.2 223.2h0M57.9 247.3h0M49.8 237.5h0M51.5 233.8h0M46.3 226.2h0M47.5 228.6h0M50.1 223.7h0M52.6 250.9h0M52.5 253.1h0M48.5 221.0h0M49.6 222.8h0M52.1 258.0h0M48.8 246.5h0M57.6 261.6h0M49.3 227.2h0M52.2 256.9h0M56.8 260.3h0M50.6 229.7h0M54.1 259.1h0M48.2 242.3h0M56.6 256.2h0M51.7 250.7h0M55.2 239.2h0M52.8 256.3h0M50.6 250.1h0M53.2 258.2h0M48.9 240.5h0M47.0 225.5h0M53.8 254.7h0M50.3 222.7h0M53.7 247.3h0M51.5 231.5h0M50.4 229.7h0M55.5 244.3h0M48.7 231.9h0M54.9 258.7h0M49.1 223.6h0M48.1 236.8h0M55.6 261.1h0M50.8 225.6h0M49.4 245.4h0M54.3 246.7h0M50.0 232.8h0M54.7 263.0h0M48.1 238.4h0M54.6 250.1h0M49.5 250.4h0M51.0 250.5h0M57.7 250.6h0M58.5 255.0h0M47.1 234.7h0M59.2 253.8h0M46.4 234.4h0M51.8 258.2h0M52.3 236.1h0M46.9 239.3h0M46.4 228.5h0M55.5 264.5h0M47.9 239.1h0M47.6 223.2h0M52.3 244.0h0M54.6 249.8h0M55.1 263.6h0M50.3 228.3h0M54.7 258.1h0M47.8 228.1h0M52.5 228.4h0M48.3 226.7h0M52.1 244.7h0M55.3 258.5h0M54.0 259.6h0M47.2 225.1h0M47.2 235.7h0M51.3 249.2h0M53.6 237.9h0M50.9 231.2h0M45.6 230.8h0M55.6 255.8h0M55.1 239.3h0M51.3 227.7h0M53.7 237.6h0M53.0 241.7h0M49.6 238.2h0M51.9 229.2h0M52.0 240.2h0M45.7 226.0h0M52.5 240.8h0M49.7 221.5h0M50.0 235.0h0M48.6 243.5h0M52.5 248.3h0M58.0 250.8h0M57.2 249.5h0M56.1 241.4h0M53.1 255.7h0M47.8 241.8h0M52.0 230.4h0M53.8 251.5h0M53.5 245.9h0M45.8 226.7h0M54.8 263.8h0M53.5 248.8h0M54.1 259.5h0M54.4 244.0h0M53.5 247.4h0M49.2 226.1h0M48.3 241.8h0M51.0 254.0h0M47.5 228.5h0M52.8 250.6h0M49.9 228.5h0M47.3 235.7h0M50.8 255.7h0M48.9 234.7h0M49.5 240.2h0" stroke="#3cb4c4" stroke-width="1.0" stroke-linecap="round" stroke-opacity="0.65" fill="none"/>
<path d="M95.8 258.9h0M97.9 258.0h0M96.4 259.6h0M97.2 250.9h0M96.4 258.3h0M96.0 249.5h0M96.7 249.7h0M96.6 259.8h0M96.9 252.2h0M95.8 256.0h0M96.7 260.4h0M95.6 254.8h0M96.5 253.6h0M95.7 253.7h0M96.8 251.2h0M96.1 255.5h0M98.1 255.0h0M96.2 249.1h0M96.8 253.2h0M95.5 254.9h0M97.1 253.3h0M97.5 256.9h0M96.8 256.6h0M96.9 251.7h0M96.2 258.0h0M96.4 255.6h0M95.8 256.9h0M96.6 248.7h0M97.5 259.1h0M97.3 254.8h0M96.0 257.8h0M96.4 252.9h0M95.5 256.6h0M97.4 258.7h0M95.6 251.4h0M97.1 250.4h0M97.1 252.1h0M96.9 258.7h0M96.2 257.1h0M97.0 260.5h0" stroke="#c8a0d8" stroke-width="1.1" stroke-linecap="round" stroke-opacity="0.8" fill="none"/>
<path d="M86.0 274.2h0M76.8 288.7h0M79.1 275.5h0M67.4 237.1h0M77.3 244.7h0M93.8 244.6h0M90.8 252.0h0M62.7 268.1h0M67.9 295.6h0M79.7 236.7h0M67.4 237.4h0M74.7 264.8h0M67.6 274.4h0M72.8 284.1h0M82.2 247.1h0M88.2 232.0h0M64.4 231.9h0M93.1 265.3h0M88.7 295.3h0M58.7 289.4h0M55.8 276.3h0M86.7 255.4h0M90.6 280.6h0M74.9 248.5h0M61.4 235.0h0M76.7 264.6h0M62.5 265.0h0M58.2 249.9h0M81.8 240.0h0M75.9 238.8h0M90.3 244.0h0M92.3 290.6h0M93.6 248.6h0M82.3 234.6h0M93.9 275.7h0M56.5 239.1h0M59.2 253.0h0M92.5 282.1h0M68.0 283.4h0M55.4 266.0h0" stroke="#f09a92" stroke-width="1.0" stroke-linecap="round" stroke-opacity="0.6" fill="none"/>
<path d="M140.2 244.6h0M135.5 284.6h0M138.2 271.2h0M134.9 256.6h0M147.0 248.9h0M147.6 257.8h0M147.8 250.4h0M129.7 265.4h0M143.6 279.0h0M131.4 262.4h0M139.0 268.8h0M149.8 267.5h0M151.2 262.8h0M130.5 263.1h0M123.7 268.6h0M129.7 265.8h0M133.8 267.6h0M122.1 269.9h0M139.9 247.9h0M138.4 286.6h0M149.0 270.1h0M136.9 277.0h0M134.8 274.8h0M132.1 266.9h0M143.8 268.4h0M139.6 258.0h0M131.4 272.1h0M134.5 260.9h0M132.3 253.1h0M140.3 283.7h0M126.3 271.8h0M137.3 271.1h0M141.6 258.8h0M136.9 270.7h0M141.2 256.2h0M145.8 244.7h0M148.8 263.5h0M134.7 274.0h0M139.3 249.8h0M137.2 253.2h0M131.9 249.7h0M134.3 260.6h0M130.8 279.9h0M143.2 286.5h0M138.7 256.7h0M130.3 280.8h0M136.5 246.2h0M142.5 248.8h0M144.2 246.8h0M148.6 254.2h0M132.2 258.5h0M144.5 241.8h0M126.0 276.7h0M151.8 258.7h0M143.1 262.0h0M126.6 254.4h0M131.0 251.0h0M145.8 242.7h0M132.6 276.2h0M140.0 271.9h0M139.4 243.0h0M136.7 277.0h0M137.4 253.6h0M143.6 264.6h0M141.0 255.3h0M135.2 266.5h0M133.7 261.1h0M143.9 282.6h0M127.2 264.0h0M144.9 276.2h0M135.7 255.2h0M137.5 278.2h0M143.6 265.0h0M134.4 287.6h0M145.9 267.7h0M145.0 266.6h0M138.9 283.2h0M138.0 263.2h0M136.2 264.0h0M122.1 272.1h0M126.6 274.1h0M140.6 248.7h0M135.0 260.0h0M125.8 258.6h0M133.0 264.7h0M124.7 276.4h0M142.5 243.4h0M147.2 248.0h0M137.2 275.0h0M125.0 275.2h0M134.0 246.7h0M135.0 286.8h0M137.6 283.9h0M135.4 251.0h0M147.7 243.6h0M142.4 253.3h0M147.6 246.2h0M149.8 245.7h0M141.4 265.8h0M139.4 286.1h0M138.5 280.1h0M143.4 262.5h0M143.5 246.7h0M147.0 275.2h0M144.8 277.9h0M142.6 257.2h0M127.4 260.9h0M128.5 276.3h0M147.1 276.7h0M130.5 268.2h0M130.2 266.5h0M137.3 245.9h0M145.3 242.8h0M127.6 277.0h0M146.2 270.1h0M150.3 260.2h0M127.4 262.7h0M129.8 257.8h0M145.4 254.8h0M143.2 268.8h0M148.2 271.7h0M147.7 271.2h0M133.8 248.3h0M144.6 253.3h0M141.6 272.1h0M120.6 269.9h0M130.7 251.1h0M141.0 270.9h0M126.9 275.0h0M144.1 267.6h0M137.2 265.8h0M134.2 248.5h0M137.5 260.0h0M140.1 242.3h0M137.4 244.7h0M137.4 280.6h0M141.9 262.3h0M148.3 263.4h0M121.7 273.2h0M133.0 258.7h0M132.3 252.3h0M124.6 271.8h0M136.8 260.4h0M144.4 264.1h0M138.2 272.6h0M140.6 276.8h0M131.6 277.9h0M138.9 251.2h0M124.1 270.5h0M146.5 280.8h0M139.2 250.8h0M129.6 282.8h0M128.9 263.2h0M145.9 278.8h0M146.0 268.5h0M148.3 276.3h0M143.2 240.2h0M150.6 253.2h0M135.1 265.3h0M138.0 267.6h0M136.3 247.8h0M134.0 275.4h0M144.5 246.4h0M140.4 247.7h0M139.8 250.9h0M122.4 272.2h0M142.0 288.3h0M143.8 285.2h0M146.5 243.4h0M140.6 245.5h0M141.3 244.7h0M128.7 261.5h0M137.8 244.0h0M141.7 273.5h0M139.0 258.0h0M146.6 241.3h0M137.8 266.3h0M127.8 257.9h0M139.4 257.8h0M134.8 245.3h0M149.6 245.3h0M138.3 287.1h0M145.0 268.7h0M129.3 273.0h0M146.2 248.8h0M127.4 259.4h0M139.4 284.3h0M139.2 251.9h0M143.6 245.8h0M138.7 268.1h0M135.1 266.8h0M139.0 259.0h0M136.2 285.6h0M135.2 276.7h0M126.1 258.0h0M129.8 253.8h0M145.5 266.4h0M149.0 270.1h0M140.9 260.2h0M147.1 261.4h0M145.9 241.0h0M125.9 270.6h0M142.2 262.2h0M141.2 259.8h0M138.7 255.7h0M140.3 288.8h0M135.1 259.6h0M127.3 272.8h0M129.7 256.4h0M146.1 256.9h0M149.7 263.3h0M148.2 244.7h0M135.8 262.2h0M151.5 258.1h0M137.1 275.9h0M147.2 272.8h0M123.5 271.7h0M148.3 262.7h0M133.9 271.5h0M142.1 289.7h0M123.7 272.6h0M142.5 244.9h0M132.1 270.3h0M147.2 247.9h0M138.2 269.5h0M138.0 269.1h0M132.4 250.4h0M141.7 283.4h0M142.2 272.2h0M138.7 281.0h0M136.6 280.5h0M126.6 258.5h0M151.9 261.6h0M137.7 269.1h0M147.6 261.7h0M133.0 270.0h0M129.7 281.8h0M125.4 256.4h0M134.6 245.4h0M146.2 246.2h0M137.5 252.2h0M141.0 244.0h0M136.1 282.1h0M141.8 250.6h0M149.3 247.0h0M135.9 276.0h0M140.6 248.3h0M145.4 278.4h0M145.3 281.3h0M132.3 275.5h0M145.5 261.5h0M143.0 268.4h0M142.9 285.6h0M140.4 277.4h0M140.7 245.6h0M128.3 268.2h0M144.5 259.8h0M142.6 255.4h0M133.5 268.1h0M142.4 257.7h0" stroke="#f09a92" stroke-width="1.0" stroke-linecap="round" stroke-opacity="0.55" fill="none"/>
<path d="M139.0 239.1h0M131.9 236.6h0M140.5 225.8h0M127.3 234.8h0M141.8 214.6h0M129.4 226.3h0M126.9 229.4h0M135.5 222.8h0M136.9 241.4h0M125.6 231.9h0M131.8 222.9h0M134.1 216.7h0M130.3 229.5h0M137.6 243.0h0M140.4 223.2h0M131.0 219.6h0M127.7 240.8h0M137.5 246.0h0M139.8 214.4h0M134.3 216.0h0M137.0 213.2h0M126.8 242.9h0M130.0 229.7h0M138.8 234.0h0M145.4 218.0h0M142.8 236.7h0M141.0 221.2h0M142.9 220.5h0M125.2 230.9h0M133.2 224.0h0M141.2 235.7h0M125.3 236.0h0M138.4 234.9h0M143.9 232.9h0M143.2 215.5h0M133.6 222.4h0M133.5 231.0h0M125.4 235.7h0M142.4 213.9h0M128.0 241.4h0M140.9 227.8h0M125.7 238.2h0M132.9 232.3h0M142.3 221.2h0M139.8 237.0h0M136.4 238.5h0M133.9 221.3h0M128.9 241.7h0M139.5 223.4h0M142.5 234.1h0M141.3 226.7h0M144.6 233.3h0M139.5 228.5h0M139.3 219.1h0M133.5 227.0h0M143.7 219.8h0M127.5 234.5h0M129.9 245.0h0M126.6 225.9h0M138.2 242.5h0M132.0 230.7h0M130.3 218.3h0M145.8 221.9h0M130.2 231.8h0M137.0 237.7h0M133.3 223.9h0M135.2 222.5h0M129.5 228.9h0M130.4 222.4h0M137.6 224.8h0M127.7 225.0h0M136.4 213.3h0M131.8 227.6h0M141.5 223.2h0M127.9 245.1h0M138.2 229.8h0M126.1 239.8h0M143.2 228.5h0M140.3 213.3h0M133.2 219.8h0M125.4 241.3h0M145.8 227.1h0M143.1 225.5h0M140.2 220.2h0M142.6 234.1h0M133.2 242.5h0M135.6 230.8h0M139.3 231.4h0M138.9 224.0h0M131.7 218.6h0M142.9 237.3h0M136.4 231.9h0M145.1 229.4h0M135.2 238.7h0M138.0 240.9h0M143.1 226.9h0M139.4 236.4h0M145.9 227.3h0M132.9 245.1h0M137.6 239.9h0M132.4 216.0h0M129.7 235.5h0M124.2 234.0h0M131.5 217.3h0M130.2 231.4h0M133.8 248.9h0M134.8 214.0h0M140.7 236.5h0M140.4 241.6h0M129.6 223.6h0M130.3 227.4h0M126.6 243.1h0M128.3 244.2h0M130.8 235.0h0M142.0 226.7h0M139.5 215.6h0M124.9 239.8h0M128.9 237.3h0M131.1 238.4h0M135.9 214.3h0M141.1 223.0h0M129.8 227.8h0M130.2 245.5h0M139.5 229.8h0M132.7 234.3h0M130.4 221.2h0M131.7 247.9h0M140.4 220.9h0M131.3 224.4h0M125.7 241.4h0M135.8 242.6h0M139.3 221.9h0M125.0 231.6h0M125.5 228.7h0M144.5 219.4h0M133.3 232.1h0M132.0 217.8h0M141.0 219.6h0M131.7 218.5h0M126.7 231.3h0M139.0 213.0h0M128.5 235.0h0M132.8 224.0h0M128.3 227.7h0M133.6 223.1h0M131.1 248.2h0M138.9 213.6h0M128.3 243.3h0M139.0 214.3h0M133.5 219.3h0M134.4 223.3h0M135.6 240.2h0M136.6 246.9h0M144.4 220.8h0M143.8 216.4h0M141.7 221.7h0M137.3 245.8h0M131.7 239.2h0M136.4 236.2h0M130.1 236.9h0M128.7 227.2h0M139.1 229.3h0M130.5 231.2h0M138.6 219.2h0M144.9 226.0h0M124.8 235.9h0M126.9 226.9h0M129.5 238.6h0M130.3 239.3h0M127.1 242.6h0M138.7 217.7h0M137.4 227.4h0M142.6 228.6h0M142.8 217.7h0M127.0 245.7h0M136.0 227.4h0M136.2 235.2h0M125.9 243.6h0M130.7 240.9h0M134.2 234.4h0M143.4 222.6h0M135.7 241.5h0M144.3 221.7h0M140.5 238.5h0M142.8 235.8h0M128.0 230.9h0M139.6 227.8h0M127.4 237.0h0M139.9 221.8h0M134.9 220.3h0M138.3 223.0h0M138.5 223.2h0M125.4 236.0h0M136.1 221.6h0M134.3 247.2h0M129.7 238.9h0M125.0 229.5h0M139.9 223.8h0M134.5 227.1h0M136.1 218.6h0M133.8 237.4h0M130.7 228.6h0M127.5 235.7h0M132.2 233.4h0M133.2 230.7h0M135.6 224.3h0M144.1 225.5h0M141.5 230.0h0M126.8 231.4h0M134.4 218.6h0M130.8 242.2h0M140.6 224.7h0M127.0 231.7h0M126.0 238.5h0M140.2 221.2h0M129.0 248.3h0M139.9 212.8h0M136.1 225.3h0M142.7 234.4h0M138.6 212.3h0M123.9 236.1h0M128.7 246.2h0M136.5 239.5h0M140.6 234.7h0M143.4 218.3h0M139.5 226.5h0M134.1 223.0h0M141.0 213.4h0M139.9 218.9h0M145.9 227.1h0M138.3 222.3h0M134.6 219.6h0M141.2 227.8h0M144.0 226.8h0M128.4 227.0h0M134.5 233.9h0M133.4 217.4h0M136.1 229.1h0M132.6 237.2h0M143.0 219.4h0M134.1 222.8h0M144.1 230.4h0M144.1 217.0h0M138.3 229.9h0M138.2 245.3h0M128.4 224.7h0M126.9 233.0h0M140.0 215.9h0M127.4 227.1h0M138.5 228.3h0M132.8 235.8h0M136.3 239.9h0M137.3 218.3h0M133.1 217.7h0M135.3 236.1h0M127.2 229.1h0M134.2 238.4h0M124.2 236.8h0M132.0 225.3h0M133.5 243.3h0M140.0 216.6h0M138.2 214.8h0M126.7 247.8h0M132.6 222.4h0M130.8 236.6h0M142.3 227.4h0M135.0 227.3h0M131.4 234.2h0M125.0 238.8h0M141.5 235.0h0M130.6 224.8h0M137.7 219.5h0M140.0 242.9h0M134.3 219.5h0M132.1 225.8h0M134.6 242.2h0M130.7 224.7h0M144.1 232.2h0M135.2 244.6h0M135.7 226.2h0M138.6 237.9h0M143.8 233.3h0M140.3 238.5h0M131.9 244.6h0M129.7 220.3h0M130.9 242.8h0M125.7 239.4h0M129.0 222.9h0M131.7 238.8h0M131.2 244.1h0M140.1 227.9h0M136.7 227.0h0M144.5 226.0h0M132.0 219.5h0M126.5 240.9h0M141.6 222.7h0M128.7 245.1h0M133.5 247.9h0M140.2 235.7h0M131.6 219.1h0M131.6 223.5h0M139.5 224.4h0M125.1 242.9h0M126.0 233.5h0M133.6 229.3h0M139.1 242.4h0M137.4 243.8h0M134.9 246.1h0M131.1 245.7h0M130.1 219.5h0M137.6 243.9h0M128.9 231.9h0M130.9 239.5h0M135.2 223.7h0M137.6 239.9h0M129.8 238.1h0M130.5 229.6h0M130.9 223.3h0M138.4 215.2h0M133.2 224.3h0M131.6 230.2h0M135.5 216.2h0M137.1 241.5h0M143.9 229.9h0M129.9 240.3h0M127.9 226.1h0M134.2 236.9h0M145.6 227.1h0M136.2 229.6h0M142.9 233.0h0M142.9 222.7h0M132.8 227.7h0M136.4 222.5h0M145.5 229.5h0M142.1 221.3h0M128.2 241.0h0M138.7 221.3h0M134.2 232.4h0M129.8 227.2h0M143.8 231.7h0M139.3 230.1h0M127.2 235.0h0M129.6 227.7h0M129.4 225.6h0M142.7 237.5h0M133.8 235.5h0M136.7 235.8h0M134.4 219.0h0M131.8 247.6h0M142.2 232.9h0M130.0 233.0h0M126.4 228.1h0M133.3 234.9h0M128.1 228.1h0M130.2 238.1h0M137.4 218.6h0M134.7 232.5h0M135.3 241.9h0M134.8 225.4h0M140.7 231.3h0M138.6 222.0h0M145.8 226.5h0M136.9 213.6h0M130.8 243.9h0M139.1 232.5h0M134.4 221.2h0M137.4 230.4h0M128.0 228.4h0M133.0 245.2h0M134.8 230.8h0M142.3 221.2h0M136.8 231.6h0M131.2 229.7h0M127.2 234.3h0M128.3 226.6h0M126.1 229.7h0M125.7 246.6h0M136.0 216.8h0M141.3 222.5h0M141.2 232.1h0" stroke="#b0cc70" stroke-width="1.0" stroke-linecap="round" stroke-opacity="0.6" fill="none"/>
<path d="M110.4 248.6h0M109.7 233.9h0M107.7 232.7h0M109.7 229.2h0M112.5 242.2h0M115.1 246.8h0M116.4 249.6h0M113.3 260.5h0M108.6 234.4h0M118.7 247.3h0M111.3 234.6h0M113.3 238.3h0M118.0 262.4h0M120.1 255.0h0M113.7 235.5h0M120.1 258.2h0M115.9 253.0h0M108.5 236.7h0M113.1 233.4h0M108.1 228.8h0M118.0 240.8h0M110.5 233.3h0M111.1 248.9h0M116.9 241.4h0M116.9 247.8h0M118.3 254.8h0M111.6 227.2h0M109.2 238.4h0M112.9 250.5h0M114.0 251.9h0M115.5 241.2h0M113.7 237.6h0M118.6 246.6h0M116.6 258.9h0M116.6 261.9h0M113.1 253.4h0M119.3 243.9h0M115.2 233.6h0M110.2 229.4h0M114.2 254.3h0M117.8 252.4h0M113.7 256.5h0M107.8 235.8h0M117.5 252.8h0M116.7 253.2h0M107.1 232.9h0M110.9 244.5h0M107.9 241.3h0M108.5 237.1h0M111.5 227.1h0M111.0 245.3h0M114.1 240.2h0M118.1 244.8h0M115.2 255.9h0M113.9 240.2h0M113.4 231.0h0M119.0 257.4h0M112.3 257.4h0M114.4 251.5h0M110.3 240.1h0M117.6 260.2h0M110.7 234.3h0M115.8 239.3h0M116.4 258.5h0M114.1 250.6h0M113.3 253.9h0M114.4 242.2h0M113.8 259.7h0M110.6 225.8h0M113.2 227.8h0M113.2 229.6h0M112.9 228.2h0M112.9 249.2h0M107.7 241.4h0M115.5 238.2h0M117.1 236.0h0M118.3 264.0h0M112.6 246.0h0M112.1 230.4h0M115.0 227.4h0M108.9 240.8h0M120.5 252.3h0M115.9 263.1h0M115.0 255.3h0M113.3 257.8h0M117.5 241.5h0M112.1 247.1h0M113.0 256.3h0M111.6 245.1h0M109.8 237.2h0M108.1 233.8h0M108.6 228.9h0M120.6 250.9h0M117.5 249.4h0M114.5 259.5h0M107.9 238.4h0M120.1 257.1h0M109.1 232.1h0M111.2 233.1h0M110.8 232.1h0M111.5 248.6h0M114.7 254.8h0M110.6 223.2h0M114.8 236.1h0M109.5 240.4h0M120.2 249.0h0M114.4 253.5h0M119.0 256.2h0M120.2 255.6h0M108.2 241.1h0M108.4 235.6h0M107.8 233.0h0M114.9 260.9h0M115.7 258.9h0M108.3 244.5h0M114.8 247.1h0M116.8 260.4h0M114.1 232.6h0M118.1 241.4h0M117.6 259.1h0M113.4 245.3h0M107.0 234.6h0M111.8 248.9h0M117.8 255.6h0M116.5 260.5h0M109.1 240.5h0M113.3 259.4h0M110.2 249.1h0M117.3 237.4h0M110.4 225.8h0M115.6 240.5h0M109.4 236.4h0M111.1 227.6h0M115.1 229.0h0M109.6 238.2h0M118.1 250.3h0M116.2 251.2h0M117.0 243.1h0M110.2 231.0h0M108.0 225.3h0M110.8 241.9h0M117.5 259.5h0M114.4 255.9h0M118.0 254.8h0M111.1 247.9h0M113.0 230.4h0M117.2 248.4h0M113.5 251.2h0M114.3 234.1h0M109.2 231.8h0M117.9 264.0h0M112.8 229.9h0M109.1 235.8h0M114.1 244.1h0M115.6 230.0h0M111.9 241.8h0M107.4 235.8h0M114.8 249.1h0M110.4 225.3h0M114.8 229.0h0M117.1 264.2h0M118.9 250.3h0M107.0 234.3h0M111.9 241.7h0M114.8 230.4h0M109.7 223.0h0M112.3 227.3h0M109.9 222.8h0M113.9 248.0h0M115.6 254.6h0M114.6 238.1h0M113.9 252.0h0M112.8 255.1h0M117.4 255.8h0M112.8 228.6h0M109.0 235.3h0M111.0 228.6h0M114.3 231.0h0M111.7 255.6h0M118.6 239.6h0M114.7 236.9h0M109.8 230.4h0M115.4 239.6h0M107.3 228.7h0M118.0 239.5h0M117.8 249.8h0M115.2 233.0h0M111.2 251.6h0M109.8 223.4h0M115.9 253.2h0M109.1 243.3h0M110.5 227.8h0M108.5 224.0h0M112.7 228.0h0M116.7 251.1h0M108.7 243.6h0M111.6 225.1h0M118.7 257.6h0M115.0 240.7h0M114.6 244.5h0M114.8 236.4h0M118.3 245.4h0M109.9 248.3h0M117.8 244.4h0M111.2 246.5h0M112.6 245.4h0M109.2 244.0h0M108.4 231.0h0M115.4 234.6h0M115.7 244.9h0M116.7 258.3h0M114.0 239.1h0M113.0 258.9h0M112.8 246.4h0M117.5 261.1h0M115.0 245.7h0M108.0 238.9h0M114.9 261.3h0M111.8 245.9h0M118.9 262.2h0M110.3 249.0h0M112.3 231.4h0M107.7 239.7h0M118.5 258.2h0M113.1 240.2h0M116.2 262.2h0M111.7 232.4h0M117.3 250.0h0M111.2 253.7h0M109.2 243.7h0M117.7 237.6h0M116.4 249.4h0M113.9 242.4h0M110.0 238.6h0M118.4 255.4h0M117.9 253.2h0M115.4 232.4h0M118.9 260.6h0M117.1 254.7h0M118.4 264.4h0M119.8 261.6h0M107.8 230.3h0M119.1 246.6h0M107.5 228.7h0M119.3 258.4h0M112.7 251.4h0M110.6 231.0h0M113.6 243.5h0M113.6 254.3h0M111.2 240.0h0M119.5 255.3h0M117.1 257.7h0M112.6 237.6h0M114.1 260.2h0M116.8 263.5h0M112.5 242.8h0M110.1 231.3h0M111.0 231.6h0M115.6 247.6h0M117.2 255.8h0M115.4 245.8h0M113.4 237.3h0M111.0 237.0h0M113.9 242.0h0M114.4 252.1h0M115.3 248.2h0M113.0 242.7h0M113.4 237.6h0M111.4 248.0h0M112.5 251.8h0M114.6 245.9h0M114.0 234.6h0M117.2 236.6h0M107.2 229.2h0M111.3 251.1h0M116.7 259.4h0M120.4 247.1h0M111.6 249.3h0M109.0 239.9h0M113.8 250.6h0M117.6 238.1h0M110.4 251.4h0M111.0 244.4h0M115.6 247.0h0M109.6 240.3h0M119.5 260.5h0M107.4 229.8h0M118.0 260.9h0M118.3 237.7h0M112.2 235.7h0M118.4 256.4h0M114.2 246.2h0M110.7 248.4h0M113.2 248.3h0M109.6 243.9h0M116.5 255.6h0M110.9 227.5h0M119.3 258.7h0M117.8 252.3h0M110.3 226.0h0M108.2 226.3h0M116.3 253.6h0M112.5 257.9h0M109.5 246.4h0M117.4 254.4h0M118.4 247.4h0M115.5 232.0h0M117.9 256.2h0M109.9 238.8h0M109.6 223.5h0M108.6 228.9h0M114.0 243.7h0M115.7 245.3h0M110.5 240.8h0M108.3 234.3h0M119.5 257.7h0M113.7 227.0h0M116.8 250.1h0M116.3 256.4h0M111.2 229.0h0M110.5 232.3h0M114.6 234.3h0M109.8 250.1h0M113.0 225.7h0M112.1 234.6h0M115.8 252.4h0M112.5 224.0h0M114.3 226.9h0M111.5 237.3h0M115.7 235.7h0M113.3 251.4h0M110.5 228.0h0M116.0 251.3h0M118.8 248.7h0M109.4 239.8h0M115.0 261.3h0M116.0 237.3h0M116.8 234.2h0M113.8 250.2h0M117.4 246.4h0M114.1 226.2h0M115.6 257.7h0M112.1 241.5h0M115.6 247.1h0M116.4 237.7h0M116.0 260.7h0M111.4 237.4h0M113.1 246.8h0M111.4 234.0h0M114.5 225.6h0M117.4 262.5h0M112.9 238.9h0M115.5 235.8h0M115.8 244.4h0M113.2 257.8h0M117.2 234.7h0M111.0 240.5h0M111.3 236.7h0M109.7 233.3h0M113.1 246.6h0M115.2 229.7h0M109.6 241.3h0M119.7 256.8h0M117.9 248.1h0M114.9 228.8h0M119.2 261.9h0M117.2 241.4h0M110.7 227.3h0M118.5 255.2h0M113.9 247.5h0M112.5 247.5h0M114.6 236.4h0M111.8 229.3h0M115.6 258.9h0M109.8 248.5h0M112.2 230.2h0M110.6 245.0h0M109.4 248.1h0M113.4 232.0h0M116.3 250.8h0M117.8 250.1h0M111.0 241.3h0M107.2 226.5h0M114.6 232.7h0M114.1 239.6h0M110.4 242.6h0M113.2 227.7h0M117.3 256.9h0M119.9 245.3h0M117.3 257.6h0M118.3 249.2h0M119.5 255.5h0M112.0 238.6h0M118.7 263.7h0M118.0 253.3h0M111.4 234.4h0M110.7 252.9h0M113.2 232.0h0M109.3 229.7h0M112.4 231.1h0M119.0 246.9h0M113.7 243.1h0M114.7 257.4h0M119.6 261.8h0M120.8 251.0h0M112.8 226.9h0M116.7 242.7h0M111.1 231.5h0M112.7 235.0h0M113.6 247.7h0M112.4 248.7h0M112.5 244.4h0M113.5 259.9h0M119.5 248.3h0M117.5 235.6h0M108.9 236.2h0M119.8 250.9h0M109.7 227.9h0M117.7 247.8h0M117.4 265.3h0M108.8 237.6h0M114.3 250.7h0M108.7 234.2h0M117.7 265.5h0M119.2 262.5h0M109.2 239.3h0M116.1 258.6h0M111.0 224.3h0M113.9 227.7h0M116.1 240.4h0M113.8 260.0h0M106.9 230.1h0M110.1 241.5h0M118.4 251.9h0M109.9 239.4h0M117.6 247.0h0M108.1 238.2h0M109.9 235.6h0M107.7 226.0h0M108.4 241.3h0M117.0 234.1h0M117.6 238.4h0M115.1 239.4h0M113.5 247.4h0M114.7 233.5h0M116.4 250.1h0M117.3 258.9h0M109.8 243.8h0M109.5 245.6h0M111.1 225.5h0M118.2 242.5h0M111.4 227.3h0M118.8 242.1h0M112.9 239.5h0M116.7 232.6h0M113.9 243.2h0M111.5 224.6h0M120.7 249.6h0M108.4 230.7h0M111.1 223.5h0M111.5 234.7h0M111.0 225.2h0M117.6 254.8h0M118.3 238.7h0M117.0 253.2h0M114.7 249.7h0M113.2 241.3h0M113.4 249.4h0M114.6 239.5h0M107.2 229.6h0M117.3 241.5h0M110.8 244.0h0M120.0 251.1h0M110.0 226.3h0M117.1 258.1h0M118.0 239.9h0M116.4 231.5h0M114.5 254.0h0M111.8 239.9h0M119.9 255.5h0M119.9 258.9h0M112.8 230.7h0M112.4 252.2h0M116.3 261.7h0M111.3 240.9h0M118.0 251.9h0M115.9 235.2h0M108.6 231.4h0M117.5 263.0h0M113.9 227.6h0M114.4 232.4h0M115.9 250.3h0M118.6 263.4h0M119.0 252.4h0M117.1 261.1h0M118.6 244.3h0M109.4 231.5h0M115.4 246.5h0M112.6 244.4h0M109.5 240.8h0M115.1 255.9h0M109.5 243.7h0M113.3 246.3h0M108.3 238.8h0M113.5 243.3h0M115.0 255.6h0M118.0 254.6h0M112.7 232.4h0M115.7 260.2h0M117.2 254.0h0M110.7 246.0h0M116.2 249.0h0M106.5 235.8h0M110.6 241.0h0M110.6 230.6h0M109.7 244.1h0M120.4 251.9h0M119.5 261.8h0M117.4 263.2h0M111.7 229.5h0M110.5 251.1h0M108.4 226.7h0M118.8 258.7h0M107.0 231.0h0M114.9 241.8h0M117.1 248.5h0M118.3 256.9h0M115.7 245.0h0M112.0 241.6h0M111.9 226.4h0M114.0 237.8h0M112.5 228.3h0M111.2 227.0h0M119.2 254.0h0M111.2 251.2h0M109.0 242.7h0M115.9 241.9h0M114.2 242.6h0M112.4 247.8h0M112.2 235.3h0M112.5 257.1h0M108.7 243.3h0M120.5 254.0h0M113.8 226.2h0M110.6 240.4h0M114.5 252.0h0M115.5 258.6h0M111.9 251.2h0M109.7 232.2h0M110.4 240.2h0M110.8 248.9h0M107.1 236.2h0M115.3 257.8h0M117.9 241.4h0M119.9 252.0h0M112.5 235.4h0M118.7 256.2h0M109.5 228.0h0M114.6 241.7h0M119.7 254.1h0" stroke="#3cb4c4" stroke-width="1.0" stroke-linecap="round" stroke-opacity="0.7" fill="none"/>
<path d="M156.3 248.5h0M156.2 247.8h0M157.5 252.5h0M157.0 253.3h0M157.4 255.3h0M156.3 256.5h0M156.1 248.1h0M157.1 247.5h0M157.4 249.6h0M156.8 247.5h0M156.6 255.2h0M156.0 248.6h0M156.4 250.5h0M156.3 250.2h0M155.7 253.4h0M156.7 253.1h0M156.3 256.0h0M157.4 252.6h0M156.4 255.5h0M156.5 251.2h0M156.9 247.6h0M156.7 247.8h0M155.8 249.1h0M157.1 252.4h0M156.5 251.1h0M156.0 251.1h0M156.1 249.0h0M156.4 252.9h0M157.5 252.6h0M157.3 253.3h0" stroke="#c8a0d8" stroke-width="1.1" stroke-linecap="round" stroke-opacity="0.8" fill="none"/>
<text x="75.8" y="226.4" font-size="8" text-anchor="middle">1</text>
<text x="51.8" y="237.6" font-size="8" text-anchor="middle">2</text>
<text x="71.6" y="273.7" font-size="8" text-anchor="middle">0</text>
<text x="99.0" y="267.5" font-size="8" text-anchor="middle">3</text>
<circle cx="166.3" cy="236.2" r="1.9" fill="#e89a92"/>
<text x="171.0" y="238.8" font-size="7.2">0</text>
<circle cx="166.3" cy="246.1" r="1.9" fill="#8cba3c"/>
<text x="171.0" y="248.7" font-size="7.2">1</text>
<circle cx="166.3" cy="256.0" r="1.9" fill="#2a80aa"/>
<text x="171.0" y="258.6" font-size="7.2">2</text>
<circle cx="166.3" cy="265.9" r="1.9" fill="#c492c8"/>
<text x="171.0" y="268.5" font-size="7.2">3</text>
<rect x="200.5" y="210.2" width="136.5" height="77.4" fill="#fcfafb" />
<rect x="200.5" y="211.2" width="1" height="76.4" fill="#d4d6ee" fill-opacity="0.27"/>
<rect x="202.5" y="211.2" width="1" height="76.4" fill="#d4d6ee" fill-opacity="0.25"/>
<rect x="203.5" y="211.2" width="1" height="76.4" fill="#d4d6ee" fill-opacity="0.16"/>
<rect x="204.5" y="211.2" width="1" height="76.4" fill="#d4d6ee" fill-opacity="0.29"/>
<rect x="205.5" y="211.2" width="1" height="76.4" fill="#d4d6ee" fill-opacity="0.13"/>
<rect x="206.5" y="211.2" width="1" height="76.4" fill="#f6cdd2" fill-opacity="0.13"/>
<rect x="208.5" y="211.2" width="1" height="76.4" fill="#d4d6ee" fill-opacity="0.11"/>
<rect x="211.5" y="211.2" width="1" height="76.4" fill="#d4d6ee" fill-opacity="0.28"/>
<rect x="212.5" y="211.2" width="1" height="76.4" fill="#f6cdd2" fill-opacity="0.10"/>
<rect x="213.5" y="211.2" width="1" height="76.4" fill="#d4d6ee" fill-opacity="0.12"/>
<rect x="214.5" y="211.2" width="1" height="76.4" fill="#f6cdd2" fill-opacity="0.17"/>
<rect x="215.5" y="211.2" width="1" height="76.4" fill="#f6cdd2" fill-opacity="0.24"/>
<rect x="216.5" y="211.2" width="1" height="76.4" fill="#f6cdd2" fill-opacity="0.35"/>
<rect x="217.5" y="211.2" width="1" height="76.4" fill="#d4d6ee" fill-opacity="0.29"/>
<rect x="218.5" y="211.2" width="1" height="76.4" fill="#d4d6ee" fill-opacity="0.30"/>
<rect x="219.5" y="211.2" width="1" height="76.4" fill="#d4d6ee" fill-opacity="0.18"/>
<rect x="223.5" y="211.2" width="1" height="76.4" fill="#d4d6ee" fill-opacity="0.19"/>
<rect x="224.5" y="211.2" width="1" height="76.4" fill="#f6cdd2" fill-opacity="0.19"/>
<rect x="225.5" y="211.2" width="1" height="76.4" fill="#f6cdd2" fill-opacity="0.33"/>
<rect x="226.5" y="211.2" width="1" height="76.4" fill="#f6cdd2" fill-opacity="0.35"/>
<rect x="227.5" y="211.2" width="1" height="76.4" fill="#f6cdd2" fill-opacity="0.39"/>
<rect x="229.5" y="211.2" width="1" height="76.4" fill="#f6cdd2" fill-opacity="0.16"/>
<rect x="231.5" y="211.2" width="1" height="76.4" fill="#d4d6ee" fill-opacity="0.39"/>
<rect x="232.5" y="211.2" width="1" height="76.4" fill="#f6cdd2" fill-opacity="0.12"/>
<rect x="233.5" y="211.2" width="1" height="76.4" fill="#d4d6ee" fill-opacity="0.33"/>
<rect x="234.5" y="211.2" width="1" height="76.4" fill="#f6cdd2" fill-opacity="0.13"/>
<rect x="235.5" y="211.2" width="1" height="76.4" fill="#f6cdd2" fill-opacity="0.39"/>
<rect x="236.5" y="211.2" width="1" height="76.4" fill="#d4d6ee" fill-opacity="0.14"/>
<rect x="237.5" y="211.2" width="1" height="76.4" fill="#f6cdd2" fill-opacity="0.13"/>
<rect x="238.5" y="211.2" width="1" height="76.4" fill="#f6cdd2" fill-opacity="0.34"/>
<rect x="239.5" y="211.2" width="1" height="76.4" fill="#f6cdd2" fill-opacity="0.27"/>
<rect x="240.5" y="211.2" width="1" height="76.4" fill="#f6cdd2" fill-opacity="0.16"/>
<rect x="241.5" y="211.2" width="1" height="76.4" fill="#d4d6ee" fill-opacity="0.14"/>
<rect x="242.5" y="211.2" width="1" height="76.4" fill="#d4d6ee" fill-opacity="0.13"/>
<rect x="243.5" y="211.2" width="1" height="76.4" fill="#f6cdd2" fill-opacity="0.16"/>
<rect x="244.5" y="211.2" width="1" height="76.4" fill="#f6cdd2" fill-opacity="0.39"/>
<rect x="246.5" y="211.2" width="1" height="76.4" fill="#f6cdd2" fill-opacity="0.37"/>
<rect x="247.5" y="211.2" width="1" height="76.4" fill="#f6cdd2" fill-opacity="0.22"/>
<rect x="249.5" y="211.2" width="1" height="76.4" fill="#d4d6ee" fill-opacity="0.13"/>
<rect x="251.5" y="211.2" width="1" height="76.4" fill="#f6cdd2" fill-opacity="0.18"/>
<rect x="252.5" y="211.2" width="1" height="76.4" fill="#d4d6ee" fill-opacity="0.20"/>
<rect x="253.5" y="211.2" width="1" height="76.4" fill="#f6cdd2" fill-opacity="0.12"/>
<rect x="254.5" y="211.2" width="1" height="76.4" fill="#f6cdd2" fill-opacity="0.27"/>
<rect x="255.5" y="211.2" width="1" height="76.4" fill="#f6cdd2" fill-opacity="0.28"/>
<rect x="256.5" y="211.2" width="1" height="76.4" fill="#f6cdd2" fill-opacity="0.24"/>
<rect x="258.5" y="211.2" width="1" height="76.4" fill="#d4d6ee" fill-opacity="0.27"/>
<rect x="260.5" y="211.2" width="1" height="76.4" fill="#f6cdd2" fill-opacity="0.15"/>
<rect x="263.5" y="211.2" width="1" height="76.4" fill="#f6cdd2" fill-opacity="0.16"/>
<rect x="264.5" y="211.2" width="1" height="76.4" fill="#d4d6ee" fill-opacity="0.38"/>
<rect x="265.5" y="211.2" width="1" height="76.4" fill="#f6cdd2" fill-opacity="0.39"/>
<rect x="267.5" y="211.2" width="1" height="76.4" fill="#d4d6ee" fill-opacity="0.23"/>
<rect x="268.5" y="211.2" width="1" height="76.4" fill="#f6cdd2" fill-opacity="0.11"/>
<rect x="270.5" y="211.2" width="1" height="76.4" fill="#f6cdd2" fill-opacity="0.31"/>
<rect x="271.5" y="211.2" width="1" height="76.4" fill="#f6cdd2" fill-opacity="0.35"/>
<rect x="272.5" y="211.2" width="1" height="76.4" fill="#d4d6ee" fill-opacity="0.19"/>
<rect x="273.5" y="211.2" width="1" height="76.4" fill="#f6cdd2" fill-opacity="0.32"/>
<rect x="274.5" y="211.2" width="1" height="76.4" fill="#f6cdd2" fill-opacity="0.17"/>
<rect x="275.5" y="211.2" width="1" height="76.4" fill="#d4d6ee" fill-opacity="0.36"/>
<rect x="276.5" y="211.2" width="1" height="76.4" fill="#d4d6ee" fill-opacity="0.18"/>
<rect x="278.5" y="211.2" width="1" height="76.4" fill="#f6cdd2" fill-opacity="0.10"/>
<rect x="279.5" y="211.2" width="1" height="76.4" fill="#f6cdd2" fill-opacity="0.23"/>
<rect x="280.5" y="211.2" width="1" height="76.4" fill="#f6cdd2" fill-opacity="0.15"/>
<rect x="281.5" y="211.2" width="1" height="76.4" fill="#f6cdd2" fill-opacity="0.27"/>
<rect x="282.5" y="211.2" width="1" height="76.4" fill="#f6cdd2" fill-opacity="0.21"/>
<rect x="285.5" y="211.2" width="1" height="76.4" fill="#d4d6ee" fill-opacity="0.31"/>
<rect x="286.5" y="211.2" width="1" height="76.4" fill="#d4d6ee" fill-opacity="0.14"/>
<rect x="287.5" y="211.2" width="1" height="76.4" fill="#f6cdd2" fill-opacity="0.11"/>
<rect x="289.5" y="211.2" width="1" height="76.4" fill="#d4d6ee" fill-opacity="0.39"/>
<rect x="290.5" y="211.2" width="1" height="76.4" fill="#f6cdd2" fill-opacity="0.29"/>
<rect x="291.5" y="211.2" width="1" height="76.4" fill="#d4d6ee" fill-opacity="0.32"/>
<rect x="292.5" y="211.2" width="1" height="76.4" fill="#f6cdd2" fill-opacity="0.40"/>
<rect x="293.5" y="211.2" width="1" height="76.4" fill="#f6cdd2" fill-opacity="0.26"/>
<rect x="294.5" y="211.2" width="1" height="76.4" fill="#d4d6ee" fill-opacity="0.37"/>
<rect x="295.5" y="211.2" width="1" height="76.4" fill="#d4d6ee" fill-opacity="0.31"/>
<rect x="296.5" y="211.2" width="1" height="76.4" fill="#d4d6ee" fill-opacity="0.37"/>
<rect x="297.5" y="211.2" width="1" height="76.4" fill="#f6cdd2" fill-opacity="0.31"/>
<rect x="300.5" y="211.2" width="1" height="76.4" fill="#f6cdd2" fill-opacity="0.34"/>
<rect x="302.5" y="211.2" width="1" height="76.4" fill="#d4d6ee" fill-opacity="0.29"/>
<rect x="303.5" y="211.2" width="1" height="76.4" fill="#f6cdd2" fill-opacity="0.27"/>
<rect x="304.5" y="211.2" width="1" height="76.4" fill="#d4d6ee" fill-opacity="0.12"/>
<rect x="305.5" y="211.2" width="1" height="76.4" fill="#d4d6ee" fill-opacity="0.40"/>
<rect x="307.5" y="211.2" width="1" height="76.4" fill="#d4d6ee" fill-opacity="0.22"/>
<rect x="308.5" y="211.2" width="1" height="76.4" fill="#d4d6ee" fill-opacity="0.27"/>
<rect x="309.5" y="211.2" width="1" height="76.4" fill="#f6cdd2" fill-opacity="0.35"/>
<rect x="310.5" y="211.2" width="1" height="76.4" fill="#f6cdd2" fill-opacity="0.33"/>
<rect x="311.5" y="211.2" width="1" height="76.4" fill="#f6cdd2" fill-opacity="0.28"/>
<rect x="312.5" y="211.2" width="1" height="76.4" fill="#d4d6ee" fill-opacity="0.17"/>
<rect x="313.5" y="211.2" width="1" height="76.4" fill="#d4d6ee" fill-opacity="0.25"/>
<rect x="314.5" y="211.2" width="1" height="76.4" fill="#d4d6ee" fill-opacity="0.38"/>
<rect x="315.5" y="211.2" width="1" height="76.4" fill="#f6cdd2" fill-opacity="0.10"/>
<rect x="316.5" y="211.2" width="1" height="76.4" fill="#f6cdd2" fill-opacity="0.30"/>
<rect x="317.5" y="211.2" width="1" height="76.4" fill="#f6cdd2" fill-opacity="0.15"/>
<rect x="319.5" y="211.2" width="1" height="76.4" fill="#d4d6ee" fill-opacity="0.23"/>
<rect x="321.5" y="211.2" width="1" height="76.4" fill="#f6cdd2" fill-opacity="0.30"/>
<rect x="322.5" y="211.2" width="1" height="76.4" fill="#f6cdd2" fill-opacity="0.23"/>
<rect x="326.5" y="211.2" width="1" height="76.4" fill="#f6cdd2" fill-opacity="0.27"/>
<rect x="327.5" y="211.2" width="1" height="76.4" fill="#f6cdd2" fill-opacity="0.14"/>
<rect x="328.5" y="211.2" width="1" height="76.4" fill="#d4d6ee" fill-opacity="0.35"/>
<rect x="330.5" y="211.2" width="1" height="76.4" fill="#d4d6ee" fill-opacity="0.39"/>
<rect x="331.5" y="211.2" width="1" height="76.4" fill="#f6cdd2" fill-opacity="0.15"/>
<rect x="332.5" y="211.2" width="1" height="76.4" fill="#d4d6ee" fill-opacity="0.18"/>
<rect x="333.5" y="211.2" width="1" height="76.4" fill="#f6cdd2" fill-opacity="0.22"/>
<rect x="334.5" y="211.2" width="1" height="76.4" fill="#d4d6ee" fill-opacity="0.25"/>
<rect x="335.5" y="211.2" width="1" height="76.4" fill="#f6cdd2" fill-opacity="0.35"/>
<path d="M334.5 245.8h0M204.8 277.9h0M297.2 254.8h0M308.5 212.7h0M232.9 222.0h0M293.9 226.4h0M224.9 212.0h0M298.0 224.9h0M247.7 264.5h0M284.4 269.0h0M308.6 280.4h0M327.8 266.4h0M309.3 283.3h0M248.1 217.5h0M275.6 269.9h0M204.4 273.0h0M309.7 224.4h0M308.0 221.9h0M294.6 283.5h0M330.1 217.8h0M276.9 235.0h0M315.9 280.0h0M316.6 285.2h0M278.7 226.6h0M269.2 257.4h0M332.8 250.6h0M309.8 254.2h0M294.8 216.2h0M237.2 247.3h0M265.5 235.4h0M284.8 281.9h0M306.9 212.9h0M231.5 263.7h0M249.0 258.6h0M300.3 220.6h0M234.7 226.3h0M260.1 239.9h0M272.8 223.4h0M286.7 260.0h0M323.7 235.3h0M321.6 221.4h0M299.7 231.0h0M324.9 285.2h0M269.5 269.1h0M294.1 225.6h0M215.0 214.1h0M270.8 254.7h0M335.7 282.0h0M209.0 283.9h0M304.9 236.2h0M255.8 226.1h0M286.4 242.1h0M306.7 273.4h0M305.2 269.7h0M299.1 216.6h0M264.5 212.0h0M287.7 258.9h0M329.4 262.1h0M290.6 254.7h0M235.5 241.9h0M227.2 239.9h0M234.7 280.4h0M269.8 285.1h0M206.7 282.3h0M264.9 224.1h0M257.9 251.4h0M240.9 212.3h0M210.5 280.4h0M265.7 285.6h0M262.7 226.8h0M272.6 220.7h0M291.7 246.0h0M300.7 229.4h0M303.3 225.7h0M205.9 215.8h0M258.5 258.8h0M274.4 216.7h0M251.4 247.8h0M285.6 269.9h0M326.2 243.9h0M213.7 278.1h0M211.8 254.3h0M295.2 232.8h0M249.3 266.7h0M216.5 265.4h0M260.3 272.6h0M322.6 230.2h0M250.4 239.0h0M253.4 226.1h0M320.7 232.7h0M270.9 252.8h0M271.7 269.6h0M297.2 281.1h0M331.2 260.1h0M297.4 272.5h0M335.8 239.9h0M228.4 243.7h0M332.9 215.7h0M225.0 216.0h0M280.2 280.7h0M215.3 225.3h0M232.6 266.0h0M231.1 225.3h0M224.0 269.1h0M275.3 273.6h0M266.4 228.1h0M329.8 272.4h0M272.5 250.6h0M335.7 261.4h0M202.0 247.3h0M222.0 223.2h0M235.9 277.6h0M287.4 287.1h0M312.7 217.5h0M298.3 218.6h0M264.5 284.2h0M257.4 281.2h0M313.3 227.1h0M243.0 234.9h0M249.6 263.7h0M313.8 261.2h0M252.0 265.4h0M277.5 246.2h0M335.9 272.3h0M284.6 233.4h0M274.2 234.0h0M254.0 262.1h0M227.8 267.1h0M245.8 274.4h0M297.2 224.9h0M314.7 256.5h0M231.4 223.2h0M305.2 273.9h0M245.7 242.7h0M203.0 236.5h0M289.3 219.3h0M323.8 253.1h0M286.1 226.3h0M245.4 282.2h0M219.0 280.3h0M277.0 254.0h0M239.9 279.7h0M278.8 274.7h0M275.3 217.0h0M301.2 240.4h0M310.2 212.4h0M264.4 222.1h0M278.2 224.5h0M236.5 254.6h0M317.2 242.4h0M277.8 280.4h0M323.4 267.1h0M303.1 234.5h0M210.0 220.7h0M269.1 241.5h0M295.4 251.4h0M242.3 241.4h0M291.4 277.4h0M277.9 280.2h0M308.7 220.7h0M330.3 211.2h0M241.4 236.0h0M322.7 273.5h0M249.2 255.9h0M204.7 279.8h0M265.0 227.0h0M326.4 279.7h0M314.9 238.3h0M228.1 259.5h0M320.6 215.0h0M319.2 265.7h0M295.5 282.8h0M211.3 228.3h0M297.5 226.2h0M281.0 228.7h0M327.0 262.2h0M260.6 251.6h0M206.7 257.0h0M234.7 272.6h0M239.4 268.9h0M238.6 253.1h0M322.9 286.7h0M263.5 268.5h0M327.3 249.4h0M276.4 260.5h0M290.4 271.0h0M271.6 283.9h0M307.9 271.6h0M267.3 228.1h0M268.6 213.9h0M225.1 222.8h0M268.2 244.4h0M236.4 272.2h0M324.3 254.7h0M308.6 229.4h0M243.0 214.4h0M285.3 251.3h0M223.9 230.7h0M208.8 242.6h0M230.0 285.3h0M219.8 241.2h0M258.4 217.0h0M231.9 230.5h0M283.9 214.2h0M289.2 215.7h0M295.3 277.2h0M321.5 246.5h0M229.9 237.7h0M275.5 223.7h0M229.8 246.9h0M318.3 226.8h0M210.4 264.0h0M238.0 212.6h0M298.1 231.7h0M221.5 282.8h0M203.3 235.8h0M211.9 278.6h0M305.7 250.9h0M254.3 229.4h0M221.1 256.7h0M243.1 243.6h0M219.1 265.2h0M299.5 262.1h0M231.4 233.5h0M230.0 214.3h0M232.5 259.5h0M258.9 241.2h0M252.8 236.3h0M238.7 223.3h0M233.2 218.3h0M258.1 222.7h0M203.6 241.1h0M209.1 242.1h0M268.1 256.0h0M244.9 230.6h0M247.9 279.3h0M236.2 262.2h0M256.6 242.9h0M313.7 278.4h0M324.7 214.1h0M269.7 234.8h0M333.9 222.6h0M231.7 263.2h0M200.6 252.7h0M275.3 258.9h0M313.9 285.2h0M247.8 278.9h0M332.1 274.2h0M285.4 248.7h0M273.4 229.3h0M244.9 224.8h0M217.7 216.0h0M214.5 265.0h0M262.1 270.2h0M207.8 230.6h0M234.9 265.9h0M313.6 254.6h0M309.9 220.8h0M291.9 228.9h0M257.7 259.4h0M327.9 286.7h0M297.9 220.2h0M216.9 236.4h0M274.6 248.1h0M305.0 286.1h0M220.6 224.6h0M327.9 230.4h0M216.9 235.9h0M237.9 228.6h0M250.4 231.0h0M209.3 279.4h0M211.2 225.1h0M254.5 215.6h0M290.2 258.8h0M224.5 213.2h0M216.7 216.9h0M303.4 234.9h0M308.6 267.4h0M255.4 265.1h0M324.7 213.0h0M231.5 240.9h0M290.2 273.1h0M287.6 238.2h0M324.1 235.8h0M246.2 267.9h0M224.7 219.3h0M248.3 244.1h0M269.1 242.0h0M273.8 284.0h0M215.3 286.6h0M331.9 228.0h0M296.9 224.8h0M292.9 283.6h0M220.7 259.7h0M269.4 254.6h0M314.8 263.9h0M291.3 243.2h0M231.9 257.1h0M261.5 256.5h0M327.7 222.8h0M336.0 267.6h0M301.1 286.8h0M234.7 272.9h0M273.7 277.3h0M238.7 260.4h0M276.3 271.3h0M309.3 222.8h0M214.2 214.0h0M318.6 274.9h0M284.7 280.1h0M320.2 266.8h0M291.7 244.1h0M264.2 221.1h0M329.0 257.8h0M301.0 238.7h0M258.5 273.9h0M247.8 265.0h0M262.6 282.5h0M302.0 257.1h0M209.3 243.2h0M260.7 284.1h0M295.4 262.5h0M234.9 243.3h0M312.5 276.2h0M212.6 239.0h0M299.2 262.3h0M323.1 283.8h0M286.9 247.0h0M209.6 246.5h0M229.1 239.5h0M254.4 267.9h0" stroke="#e88890" stroke-width="0.9" stroke-linecap="round" stroke-opacity="0.55" fill="none"/>
<path d="M262.6 213.1h0M286.4 245.3h0M289.9 272.9h0M262.4 259.0h0M251.9 254.7h0M289.4 226.9h0M312.2 260.2h0M229.6 280.0h0M333.9 252.2h0M244.2 280.7h0M271.0 266.5h0M272.4 233.4h0M287.7 251.1h0M257.0 284.3h0M259.7 273.5h0M316.7 257.9h0M232.3 267.8h0M326.5 227.9h0M314.1 243.4h0M217.7 242.0h0M202.9 226.6h0M225.7 226.8h0M270.8 244.1h0M202.3 264.8h0M225.2 245.9h0M270.5 212.4h0M309.9 265.0h0M269.3 286.3h0M235.8 280.8h0M322.9 278.4h0M253.7 287.6h0M296.2 269.4h0M203.6 258.2h0M336.3 259.9h0M210.9 256.9h0M283.9 215.7h0M250.4 233.0h0M277.0 232.9h0M206.3 223.2h0M253.7 279.8h0M207.3 286.7h0M271.9 282.8h0M264.4 286.0h0M282.9 220.0h0M280.0 243.3h0M272.9 287.4h0M322.4 271.1h0M249.5 231.9h0M277.6 256.4h0M334.2 281.2h0M292.8 253.3h0M247.4 268.1h0M210.6 220.4h0M258.4 230.9h0M250.9 261.1h0M244.9 253.1h0M294.0 234.0h0M210.9 227.5h0M211.7 234.4h0M325.9 283.0h0M243.9 241.7h0M309.3 252.5h0M277.3 224.7h0M332.4 261.0h0M209.2 253.0h0M212.0 217.4h0M323.2 217.7h0M220.1 268.2h0M234.0 228.0h0M246.6 285.2h0M267.9 252.3h0M313.3 262.1h0M310.5 274.9h0M257.9 222.4h0M216.2 260.7h0M236.1 279.0h0M247.2 253.0h0M309.3 265.7h0M273.5 222.7h0M200.7 274.0h0M317.5 234.4h0M272.3 223.2h0M242.2 246.9h0M254.3 246.5h0M329.5 254.2h0M219.7 218.4h0M256.0 216.8h0M258.8 250.3h0M255.2 264.7h0M308.3 261.6h0M270.0 271.4h0M284.0 223.3h0M268.8 222.0h0M335.2 250.6h0M314.5 226.3h0M233.9 255.2h0M263.7 220.7h0M324.6 287.0h0M282.6 220.6h0M225.1 286.6h0M290.4 234.7h0M288.1 214.1h0M220.3 284.5h0M264.6 242.6h0M294.6 269.1h0M266.8 287.2h0M272.2 244.2h0M244.3 215.4h0M209.8 280.8h0M310.4 228.1h0M268.5 282.6h0M224.0 278.4h0M299.6 235.1h0M232.6 262.0h0M251.3 261.8h0M287.9 218.1h0M269.5 275.8h0M306.9 223.8h0M232.6 244.8h0M298.1 254.9h0M280.9 218.0h0M294.8 274.7h0M267.3 269.4h0M220.2 246.0h0M205.9 229.6h0M336.5 269.5h0M233.5 246.5h0M250.2 237.0h0M315.6 240.3h0M261.5 287.1h0M236.3 241.2h0M305.0 266.5h0M228.5 232.6h0M255.8 240.7h0M286.5 254.4h0M333.7 234.0h0M326.0 227.7h0M291.5 284.2h0M265.4 223.9h0M296.2 253.5h0M264.6 258.2h0M250.0 255.2h0M305.8 259.1h0M233.2 248.9h0M298.2 264.3h0M250.9 233.0h0M222.7 277.4h0M309.2 241.2h0M246.1 269.2h0M297.0 258.8h0M202.4 255.9h0M333.0 221.4h0M239.5 267.1h0M242.7 272.4h0M239.2 241.1h0M295.2 252.9h0M277.7 222.2h0M336.6 226.6h0M266.6 242.9h0M328.7 277.3h0M261.0 274.9h0M201.9 227.3h0M202.0 251.5h0M310.1 274.4h0M335.1 218.9h0M301.9 252.9h0M320.7 235.7h0M225.5 238.5h0M288.4 227.4h0M321.7 276.6h0M270.8 213.7h0M318.9 220.9h0M267.5 229.1h0M289.1 282.8h0M309.4 250.3h0M209.3 277.7h0M233.5 272.3h0M305.7 253.2h0M225.3 240.9h0M335.3 227.0h0M246.9 235.3h0M238.5 257.3h0M225.2 221.0h0M227.3 287.2h0M256.2 222.4h0M262.9 249.9h0M279.6 233.0h0M239.6 276.5h0M256.7 221.3h0M275.0 218.8h0M264.0 235.3h0M283.2 285.3h0M336.0 241.4h0M289.2 264.8h0M290.1 227.9h0M223.3 260.8h0M301.8 230.6h0" stroke="#98a2d2" stroke-width="0.9" stroke-linecap="round" stroke-opacity="0.55" fill="none"/>
<line x1="203.5" y1="211.4" x2="203.5" y2="287.6" stroke="#9a98ac" stroke-width="0.5" stroke-opacity="0.9"/>
<path d="M204.0 270.5h0M202.7 247.0h0M202.5 276.9h0M204.4 279.6h0M202.5 238.0h0M203.6 252.0h0M202.7 271.5h0M203.1 250.0h0M202.7 254.6h0M202.8 218.0h0M203.5 233.7h0" stroke="#7a84c0" stroke-width="0.9" stroke-linecap="round" stroke-opacity="0.6" fill="none"/>
<line x1="211.0" y1="211.4" x2="211.0" y2="287.6" stroke="#9a98ac" stroke-width="0.5" stroke-opacity="0.9"/>
<path d="M211.6 230.1h0M210.8 215.3h0M210.4 245.7h0M211.1 246.3h0M211.7 219.2h0M211.7 223.0h0M211.9 251.3h0M210.8 258.0h0M211.7 284.8h0M210.8 212.0h0M210.3 273.7h0" stroke="#7a84c0" stroke-width="0.9" stroke-linecap="round" stroke-opacity="0.6" fill="none"/>
<line x1="218.5" y1="211.4" x2="218.5" y2="287.6" stroke="#9a98ac" stroke-width="0.5" stroke-opacity="0.9"/>
<path d="M219.0 265.6h0M217.8 251.8h0M217.6 219.6h0M218.1 285.0h0M218.8 276.0h0M217.6 243.0h0M217.7 231.1h0M217.7 281.4h0M218.2 248.6h0M218.8 278.9h0M219.4 254.6h0" stroke="#7a84c0" stroke-width="0.9" stroke-linecap="round" stroke-opacity="0.6" fill="none"/>
<line x1="229.0" y1="211.4" x2="229.0" y2="287.6" stroke="#9a98ac" stroke-width="0.5" stroke-opacity="0.9"/>
<path d="M229.0 280.3h0M228.8 234.1h0M229.5 230.9h0M228.7 244.0h0M229.0 238.6h0M228.9 245.6h0M228.1 275.0h0M228.1 251.5h0M229.1 241.7h0M228.4 218.8h0M228.7 235.2h0" stroke="#7a84c0" stroke-width="0.9" stroke-linecap="round" stroke-opacity="0.6" fill="none"/>
<line x1="242.0" y1="211.4" x2="242.0" y2="287.6" stroke="#9a98ac" stroke-width="0.5" stroke-opacity="0.9"/>
<path d="M242.0 228.8h0M242.5 248.4h0M241.0 242.3h0M242.9 211.7h0M242.2 284.6h0M241.7 256.9h0M241.7 234.2h0M242.2 256.2h0M241.6 249.2h0M242.0 268.8h0M241.1 218.3h0" stroke="#7a84c0" stroke-width="0.9" stroke-linecap="round" stroke-opacity="0.6" fill="none"/>
<line x1="247.8" y1="211.4" x2="247.8" y2="287.6" stroke="#9a98ac" stroke-width="0.5" stroke-opacity="0.9"/>
<path d="M247.3 231.8h0M248.4 243.7h0M248.5 241.9h0M247.4 263.1h0M247.0 286.4h0M248.5 236.3h0M247.4 273.8h0M248.4 260.3h0M246.9 269.5h0M246.9 258.9h0M247.9 282.0h0" stroke="#7a84c0" stroke-width="0.9" stroke-linecap="round" stroke-opacity="0.6" fill="none"/>
<line x1="277.0" y1="211.4" x2="277.0" y2="287.6" stroke="#9a98ac" stroke-width="0.5" stroke-opacity="0.9"/>
<path d="M277.3 212.9h0M277.9 268.7h0M277.2 211.6h0M277.5 243.2h0M277.4 286.4h0M277.8 216.9h0M277.6 244.9h0M277.5 240.1h0M276.9 244.6h0M276.2 235.6h0M277.5 216.7h0" stroke="#7a84c0" stroke-width="0.9" stroke-linecap="round" stroke-opacity="0.6" fill="none"/>
<line x1="285.5" y1="211.4" x2="285.5" y2="287.6" stroke="#eaa8b4" stroke-width="0.5" stroke-opacity="0.9"/>
<path d="M284.7 274.9h0M285.8 253.1h0M284.7 220.2h0M285.1 284.1h0M285.6 281.7h0M284.9 242.9h0M285.6 275.3h0M284.7 278.0h0M285.4 213.6h0M285.4 240.0h0M285.8 282.1h0" stroke="#d87080" stroke-width="0.9" stroke-linecap="round" stroke-opacity="0.6" fill="none"/>
<line x1="301.8" y1="211.4" x2="301.8" y2="287.6" stroke="#9a98ac" stroke-width="0.5" stroke-opacity="0.9"/>
<path d="M301.8 263.9h0M301.6 270.7h0M301.0 267.9h0M301.1 256.0h0M301.2 237.7h0M301.1 237.9h0M302.0 250.9h0M301.6 255.1h0M302.5 238.6h0M302.0 247.9h0M302.8 236.3h0" stroke="#7a84c0" stroke-width="0.9" stroke-linecap="round" stroke-opacity="0.6" fill="none"/>
<line x1="309.5" y1="211.4" x2="309.5" y2="287.6" stroke="#9a98ac" stroke-width="0.5" stroke-opacity="0.9"/>
<path d="M309.9 229.0h0M309.0 267.0h0M309.6 230.8h0M308.6 274.2h0M309.3 265.9h0M309.4 258.4h0M309.6 285.7h0M310.3 246.0h0M309.5 228.9h0M310.0 219.0h0M309.1 275.9h0" stroke="#7a84c0" stroke-width="0.9" stroke-linecap="round" stroke-opacity="0.6" fill="none"/>
<line x1="317.0" y1="211.4" x2="317.0" y2="287.6" stroke="#9a98ac" stroke-width="0.5" stroke-opacity="0.9"/>
<path d="M316.1 264.6h0M317.1 253.3h0M316.7 222.8h0M317.9 269.6h0M317.6 218.7h0M317.6 227.9h0M316.4 252.1h0M317.2 220.4h0M317.5 255.7h0M317.8 281.8h0M317.4 239.0h0" stroke="#7a84c0" stroke-width="0.9" stroke-linecap="round" stroke-opacity="0.6" fill="none"/>
<line x1="207.2" y1="211.4" x2="207.2" y2="287.6" stroke="#5a68a8" stroke-width="0.9" stroke-opacity="0.9"/>
<path d="M208.1 266.1h0M206.8 276.7h0M207.7 231.4h0M206.7 212.8h0M207.3 230.6h0M206.8 230.5h0M206.5 248.2h0M206.7 233.0h0M206.8 250.1h0M207.9 223.4h0M207.9 276.5h0" stroke="#7a84c0" stroke-width="0.9" stroke-linecap="round" stroke-opacity="0.6" fill="none"/>
<line x1="215.2" y1="211.4" x2="215.2" y2="287.6" stroke="#9a98ac" stroke-width="0.8" stroke-opacity="0.9"/>
<path d="M215.4 252.7h0M215.7 252.0h0M215.5 281.4h0M215.8 231.1h0M214.3 282.8h0M214.9 271.3h0M214.7 245.8h0M214.9 266.9h0M216.1 249.8h0M215.3 237.8h0M214.7 283.8h0" stroke="#7a84c0" stroke-width="0.9" stroke-linecap="round" stroke-opacity="0.6" fill="none"/>
<line x1="221.1" y1="211.4" x2="221.1" y2="287.6" stroke="#eaa8b4" stroke-width="0.6" stroke-opacity="0.9"/>
<path d="M220.3 283.1h0M221.4 216.7h0M221.9 219.0h0M221.2 220.3h0M222.1 234.8h0M221.8 215.9h0M221.4 216.4h0M220.2 254.8h0M222.1 263.5h0M221.8 271.2h0M221.1 217.1h0" stroke="#d87080" stroke-width="0.9" stroke-linecap="round" stroke-opacity="0.6" fill="none"/>
<line x1="225.7" y1="211.4" x2="225.7" y2="287.6" stroke="#9a98ac" stroke-width="0.7" stroke-opacity="0.9"/>
<path d="M225.8 225.3h0M225.8 238.3h0M225.7 226.3h0M226.1 243.1h0M225.7 217.2h0M225.7 253.8h0M226.6 254.1h0M225.0 234.1h0M225.4 264.8h0M226.6 285.8h0M226.6 281.9h0" stroke="#7a84c0" stroke-width="0.9" stroke-linecap="round" stroke-opacity="0.6" fill="none"/>
<line x1="232.6" y1="211.4" x2="232.6" y2="287.6" stroke="#5a68a8" stroke-width="1.0" stroke-opacity="0.9"/>
<path d="M233.3 282.6h0M231.6 248.6h0M232.8 263.6h0M232.8 258.0h0M233.5 217.8h0M232.6 284.5h0M231.7 219.7h0M233.3 284.3h0M231.6 213.6h0M233.3 263.8h0M232.6 255.5h0" stroke="#7a84c0" stroke-width="0.9" stroke-linecap="round" stroke-opacity="0.6" fill="none"/>
<line x1="234.9" y1="211.4" x2="234.9" y2="287.6" stroke="#9a98ac" stroke-width="0.6" stroke-opacity="0.9"/>
<path d="M235.4 272.9h0M233.9 216.4h0M235.5 285.7h0M235.6 242.3h0M234.6 237.7h0M233.9 270.0h0M234.4 255.9h0M235.0 236.8h0M235.2 246.0h0M234.4 278.6h0M234.3 222.7h0" stroke="#7a84c0" stroke-width="0.9" stroke-linecap="round" stroke-opacity="0.6" fill="none"/>
<line x1="239.2" y1="211.4" x2="239.2" y2="287.6" stroke="#eaa8b4" stroke-width="0.8" stroke-opacity="0.9"/>
<path d="M238.7 247.8h0M239.8 236.6h0M238.7 261.2h0M238.7 251.1h0M238.7 278.2h0M238.6 228.9h0M238.8 236.4h0M239.7 262.7h0M239.8 252.5h0M238.4 269.5h0M238.7 227.8h0" stroke="#d87080" stroke-width="0.9" stroke-linecap="round" stroke-opacity="0.6" fill="none"/>
<line x1="244.9" y1="211.4" x2="244.9" y2="287.6" stroke="#9a98ac" stroke-width="0.8" stroke-opacity="0.9"/>
<path d="M244.7 286.8h0M244.6 238.4h0M245.7 286.9h0M244.7 221.6h0M245.5 271.0h0M244.6 271.6h0M244.7 233.1h0M245.1 267.9h0M244.9 273.7h0M243.9 249.3h0M244.7 216.2h0" stroke="#7a84c0" stroke-width="0.9" stroke-linecap="round" stroke-opacity="0.6" fill="none"/>
<line x1="250.3" y1="211.4" x2="250.3" y2="287.6" stroke="#eaa8b4" stroke-width="0.6" stroke-opacity="0.9"/>
<path d="M251.1 222.2h0M249.7 278.3h0M251.2 282.4h0M250.0 282.3h0M249.6 265.8h0M251.2 225.9h0M249.6 263.0h0M251.1 266.7h0M251.2 245.9h0M250.0 220.4h0M249.8 282.9h0" stroke="#d87080" stroke-width="0.9" stroke-linecap="round" stroke-opacity="0.6" fill="none"/>
<line x1="254.2" y1="211.4" x2="254.2" y2="287.6" stroke="#9a98ac" stroke-width="0.7" stroke-opacity="0.9"/>
<path d="M253.3 225.3h0M253.9 215.0h0M253.8 225.2h0M253.4 251.5h0M254.3 254.6h0M254.7 251.4h0M255.1 217.4h0M253.6 217.1h0M253.8 269.3h0M255.0 249.7h0M253.5 236.4h0" stroke="#7a84c0" stroke-width="0.9" stroke-linecap="round" stroke-opacity="0.6" fill="none"/>
<line x1="259.5" y1="211.4" x2="259.5" y2="287.6" stroke="#9a98ac" stroke-width="0.7" stroke-opacity="0.9"/>
<path d="M259.6 233.7h0M260.1 285.5h0M259.4 257.3h0M260.2 246.7h0M258.9 283.3h0M260.5 213.1h0M260.0 241.8h0M258.6 223.6h0M258.8 267.5h0M258.9 212.7h0M258.9 272.3h0" stroke="#7a84c0" stroke-width="0.9" stroke-linecap="round" stroke-opacity="0.6" fill="none"/>
<line x1="263.4" y1="211.4" x2="263.4" y2="287.6" stroke="#9a98ac" stroke-width="0.6" stroke-opacity="0.9"/>
<path d="M263.4 261.1h0M263.3 225.1h0M262.4 234.4h0M262.5 231.1h0M263.6 239.4h0M263.3 258.9h0M263.0 238.4h0M264.2 255.6h0M263.2 252.5h0M263.3 236.6h0M264.2 229.0h0" stroke="#7a84c0" stroke-width="0.9" stroke-linecap="round" stroke-opacity="0.6" fill="none"/>
<line x1="269.1" y1="211.4" x2="269.1" y2="287.6" stroke="#5a68a8" stroke-width="1.0" stroke-opacity="0.9"/>
<path d="M270.0 276.4h0M269.9 223.6h0M269.1 286.4h0M268.7 224.3h0M269.5 229.2h0M269.3 223.2h0M270.0 232.9h0M268.3 263.7h0M268.8 253.9h0M269.1 281.7h0M269.1 240.2h0" stroke="#7a84c0" stroke-width="0.9" stroke-linecap="round" stroke-opacity="0.6" fill="none"/>
<line x1="273.2" y1="211.4" x2="273.2" y2="287.6" stroke="#9a98ac" stroke-width="0.7" stroke-opacity="0.9"/>
<path d="M272.2 249.1h0M272.7 255.1h0M273.5 246.5h0M272.4 249.2h0M273.2 260.2h0M274.1 232.6h0M273.1 217.7h0M273.8 229.1h0M273.9 272.2h0M272.7 280.2h0M273.2 243.8h0" stroke="#7a84c0" stroke-width="0.9" stroke-linecap="round" stroke-opacity="0.6" fill="none"/>
<line x1="281.8" y1="211.4" x2="281.8" y2="287.6" stroke="#b87888" stroke-width="0.9" stroke-opacity="0.9"/>
<path d="M281.9 283.5h0M281.8 248.0h0M281.4 275.5h0M281.8 237.4h0M281.2 227.6h0M282.5 272.6h0M282.8 281.3h0M282.2 272.1h0M282.2 273.1h0M282.4 224.7h0M282.4 234.4h0" stroke="#d87080" stroke-width="0.9" stroke-linecap="round" stroke-opacity="0.6" fill="none"/>
<line x1="298.9" y1="211.4" x2="298.9" y2="287.6" stroke="#9a98ac" stroke-width="0.7" stroke-opacity="0.9"/>
<path d="M298.4 281.5h0M297.9 250.3h0M298.6 271.7h0M299.1 280.8h0M299.8 260.4h0M298.0 262.2h0M298.1 286.2h0M299.6 234.9h0M298.3 264.2h0M299.4 286.5h0M299.1 220.8h0" stroke="#7a84c0" stroke-width="0.9" stroke-linecap="round" stroke-opacity="0.6" fill="none"/>
<line x1="305.3" y1="211.4" x2="305.3" y2="287.6" stroke="#b87888" stroke-width="1.0" stroke-opacity="0.9"/>
<path d="M305.8 215.7h0M306.0 269.9h0M305.9 277.9h0M305.4 283.3h0M305.6 248.8h0M305.1 238.2h0M304.3 223.5h0M305.9 228.7h0M305.6 270.4h0M305.7 250.6h0M304.9 232.0h0" stroke="#d87080" stroke-width="0.9" stroke-linecap="round" stroke-opacity="0.6" fill="none"/>
<line x1="313.7" y1="211.4" x2="313.7" y2="287.6" stroke="#9a98ac" stroke-width="0.7" stroke-opacity="0.9"/>
<path d="M313.1 260.7h0M314.1 283.2h0M313.4 282.0h0M314.5 233.4h0M314.6 258.5h0M314.6 270.3h0M313.4 232.5h0M313.7 248.5h0M312.8 277.1h0M313.8 247.3h0M314.2 230.3h0" stroke="#7a84c0" stroke-width="0.9" stroke-linecap="round" stroke-opacity="0.6" fill="none"/>
<line x1="320.5" y1="211.4" x2="320.5" y2="287.6" stroke="#eaa8b4" stroke-width="0.8" stroke-opacity="0.9"/>
<path d="M319.9 255.6h0M320.0 236.2h0M319.6 215.2h0M320.2 251.5h0M321.4 260.1h0M320.3 242.3h0M320.0 247.4h0M321.4 220.5h0M320.4 263.6h0M321.0 253.6h0M320.8 282.9h0" stroke="#d87080" stroke-width="0.9" stroke-linecap="round" stroke-opacity="0.6" fill="none"/>
<line x1="324.5" y1="211.4" x2="324.5" y2="287.6" stroke="#9a98ac" stroke-width="0.7" stroke-opacity="0.9"/>
<path d="M325.3 230.4h0M324.6 287.4h0M324.6 225.7h0M325.0 215.6h0M323.8 253.3h0M324.0 266.2h0M325.0 235.6h0M325.0 260.7h0M324.9 246.1h0M324.4 219.3h0M324.4 284.1h0" stroke="#7a84c0" stroke-width="0.9" stroke-linecap="round" stroke-opacity="0.6" fill="none"/>
<line x1="329.2" y1="211.4" x2="329.2" y2="287.6" stroke="#b87888" stroke-width="0.8" stroke-opacity="0.9"/>
<path d="M330.0 215.5h0M328.3 231.8h0M329.6 244.6h0M328.5 243.7h0M329.3 268.1h0M329.0 260.8h0M329.6 258.2h0M328.3 265.5h0M328.5 215.4h0M329.1 212.5h0M328.3 241.1h0" stroke="#d87080" stroke-width="0.9" stroke-linecap="round" stroke-opacity="0.6" fill="none"/>
<line x1="332.2" y1="211.4" x2="332.2" y2="287.6" stroke="#5a68a8" stroke-width="1.0" stroke-opacity="0.9"/>
<path d="M332.1 219.3h0M333.1 276.3h0M332.2 256.1h0M331.8 286.4h0M331.4 234.4h0M331.6 277.3h0M332.2 242.6h0M332.0 279.0h0M331.7 271.7h0M332.6 245.5h0M331.9 244.6h0" stroke="#7a84c0" stroke-width="0.9" stroke-linecap="round" stroke-opacity="0.6" fill="none"/>
<line x1="336.3" y1="211.4" x2="336.3" y2="287.6" stroke="#9a98ac" stroke-width="0.8" stroke-opacity="0.9"/>
<path d="M336.2 235.3h0M336.5 242.6h0M335.9 270.2h0M336.2 247.4h0M337.1 245.9h0M336.1 279.8h0M337.3 271.2h0M336.1 262.5h0M336.8 233.8h0M336.7 283.8h0M336.6 262.3h0" stroke="#7a84c0" stroke-width="0.9" stroke-linecap="round" stroke-opacity="0.6" fill="none"/>
<rect x="289.5" y="211.7" width="5.4" height="75.9" fill="#2b3a9c" />
<line x1="200.5" y1="212.3" x2="337.0" y2="212.3" stroke="#7a7484" stroke-width="0.45" />
<line x1="200.5" y1="221.3" x2="337.0" y2="221.3" stroke="#606070" stroke-width="0.55" />
<line x1="200.5" y1="240.4" x2="337.0" y2="240.4" stroke="#606070" stroke-width="0.55" />
<rect x="215.4" y="213.2" width="4.8" height="8.1" fill="#e07080" />
<rect x="215.6" y="215.5" width="4.2" height="5.0" fill="#c84050" />
<rect x="209.3" y="240.6" width="5.5" height="3.6" fill="#e08088" />
<rect x="210.0" y="241.0" width="3.0" height="2.5" fill="#c03040" />
<rect x="261.0" y="244.0" width="3.0" height="2.8" fill="#b81828" />
<rect x="200.5" y="209.5" width="24.6" height="1.3" fill="#70c8d0" />
<rect x="225.1" y="209.5" width="27.3" height="1.3" fill="#d8e8b0" />
<rect x="252.4" y="209.5" width="27.3" height="1.3" fill="#f0e4a0" />
<rect x="279.7" y="209.5" width="19.1" height="1.3" fill="#f4b4bc" />
<rect x="298.8" y="209.5" width="8.2" height="1.3" fill="#f0d8a0" />
<rect x="307.0" y="209.5" width="16.4" height="1.3" fill="#f4b0b8" />
<rect x="323.4" y="209.5" width="13.6" height="1.3" fill="#d0b0e0" />
<line x1="305.5" y1="213.1" x2="305.5" y2="221.7" stroke="#5070b0" stroke-width="0.9" />
<rect x="302.3" y="212.6" width="6.3" height="9.6" fill="none" stroke="#d22" stroke-width="1"/>
<text x="343.0" y="214.5" font-size="8.4" text-anchor="middle" fill="#8a5aa8">3</text>
<text x="343.0" y="221.8" font-size="8.4" text-anchor="middle" fill="#30a0b8">2</text>
<text x="343.0" y="235.8" font-size="8.4" text-anchor="middle" fill="#8a8a80">1</text>
<text x="343.0" y="273.4" font-size="8.4" text-anchor="middle" fill="#f09090">0</text>
<rect x="353.7" y="209.4" width="137.3" height="77.2" fill="#fcfafb" />
<rect x="356.7" y="210.4" width="1" height="76.2" fill="#f6cdd2" fill-opacity="0.28"/>
<rect x="357.7" y="210.4" width="1" height="76.2" fill="#f6cdd2" fill-opacity="0.26"/>
<rect x="358.7" y="210.4" width="1" height="76.2" fill="#f6cdd2" fill-opacity="0.16"/>
<rect x="359.7" y="210.4" width="1" height="76.2" fill="#f6cdd2" fill-opacity="0.17"/>
<rect x="360.7" y="210.4" width="1" height="76.2" fill="#d4d6ee" fill-opacity="0.11"/>
<rect x="361.7" y="210.4" width="1" height="76.2" fill="#f6cdd2" fill-opacity="0.31"/>
<rect x="362.7" y="210.4" width="1" height="76.2" fill="#f6cdd2" fill-opacity="0.25"/>
<rect x="363.7" y="210.4" width="1" height="76.2" fill="#d4d6ee" fill-opacity="0.21"/>
<rect x="364.7" y="210.4" width="1" height="76.2" fill="#f6cdd2" fill-opacity="0.33"/>
<rect x="365.7" y="210.4" width="1" height="76.2" fill="#d4d6ee" fill-opacity="0.30"/>
<rect x="366.7" y="210.4" width="1" height="76.2" fill="#d4d6ee" fill-opacity="0.39"/>
<rect x="367.7" y="210.4" width="1" height="76.2" fill="#f6cdd2" fill-opacity="0.33"/>
<rect x="368.7" y="210.4" width="1" height="76.2" fill="#f6cdd2" fill-opacity="0.27"/>
<rect x="369.7" y="210.4" width="1" height="76.2" fill="#d4d6ee" fill-opacity="0.19"/>
<rect x="370.7" y="210.4" width="1" height="76.2" fill="#f6cdd2" fill-opacity="0.24"/>
<rect x="371.7" y="210.4" width="1" height="76.2" fill="#d4d6ee" fill-opacity="0.28"/>
<rect x="372.7" y="210.4" width="1" height="76.2" fill="#f6cdd2" fill-opacity="0.29"/>
<rect x="373.7" y="210.4" width="1" height="76.2" fill="#f6cdd2" fill-opacity="0.15"/>
<rect x="374.7" y="210.4" width="1" height="76.2" fill="#f6cdd2" fill-opacity="0.34"/>
<rect x="375.7" y="210.4" width="1" height="76.2" fill="#f6cdd2" fill-opacity="0.13"/>
<rect x="376.7" y="210.4" width="1" height="76.2" fill="#f6cdd2" fill-opacity="0.11"/>
<rect x="377.7" y="210.4" width="1" height="76.2" fill="#f6cdd2" fill-opacity="0.27"/>
<rect x="379.7" y="210.4" width="1" height="76.2" fill="#f6cdd2" fill-opacity="0.21"/>
<rect x="380.7" y="210.4" width="1" height="76.2" fill="#f6cdd2" fill-opacity="0.19"/>
<rect x="381.7" y="210.4" width="1" height="76.2" fill="#d4d6ee" fill-opacity="0.26"/>
<rect x="382.7" y="210.4" width="1" height="76.2" fill="#f6cdd2" fill-opacity="0.13"/>
<rect x="383.7" y="210.4" width="1" height="76.2" fill="#d4d6ee" fill-opacity="0.31"/>
<rect x="385.7" y="210.4" width="1" height="76.2" fill="#f6cdd2" fill-opacity="0.26"/>
<rect x="387.7" y="210.4" width="1" height="76.2" fill="#d4d6ee" fill-opacity="0.38"/>
<rect x="388.7" y="210.4" width="1" height="76.2" fill="#f6cdd2" fill-opacity="0.39"/>
<rect x="389.7" y="210.4" width="1" height="76.2" fill="#f6cdd2" fill-opacity="0.22"/>
<rect x="390.7" y="210.4" width="1" height="76.2" fill="#f6cdd2" fill-opacity="0.34"/>
<rect x="391.7" y="210.4" width="1" height="76.2" fill="#d4d6ee" fill-opacity="0.39"/>
<rect x="394.7" y="210.4" width="1" height="76.2" fill="#d4d6ee" fill-opacity="0.40"/>
<rect x="395.7" y="210.4" width="1" height="76.2" fill="#d4d6ee" fill-opacity="0.20"/>
<rect x="397.7" y="210.4" width="1" height="76.2" fill="#f6cdd2" fill-opacity="0.16"/>
<rect x="398.7" y="210.4" width="1" height="76.2" fill="#f6cdd2" fill-opacity="0.24"/>
<rect x="399.7" y="210.4" width="1" height="76.2" fill="#f6cdd2" fill-opacity="0.38"/>
<rect x="401.7" y="210.4" width="1" height="76.2" fill="#f6cdd2" fill-opacity="0.13"/>
<rect x="402.7" y="210.4" width="1" height="76.2" fill="#d4d6ee" fill-opacity="0.15"/>
<rect x="403.7" y="210.4" width="1" height="76.2" fill="#d4d6ee" fill-opacity="0.34"/>
<rect x="404.7" y="210.4" width="1" height="76.2" fill="#f6cdd2" fill-opacity="0.23"/>
<rect x="406.7" y="210.4" width="1" height="76.2" fill="#f6cdd2" fill-opacity="0.20"/>
<rect x="410.7" y="210.4" width="1" height="76.2" fill="#d4d6ee" fill-opacity="0.22"/>
<rect x="411.7" y="210.4" width="1" height="76.2" fill="#d4d6ee" fill-opacity="0.35"/>
<rect x="412.7" y="210.4" width="1" height="76.2" fill="#d4d6ee" fill-opacity="0.17"/>
<rect x="413.7" y="210.4" width="1" height="76.2" fill="#f6cdd2" fill-opacity="0.22"/>
<rect x="414.7" y="210.4" width="1" height="76.2" fill="#d4d6ee" fill-opacity="0.27"/>
<rect x="415.7" y="210.4" width="1" height="76.2" fill="#d4d6ee" fill-opacity="0.35"/>
<rect x="416.7" y="210.4" width="1" height="76.2" fill="#f6cdd2" fill-opacity="0.29"/>
<rect x="417.7" y="210.4" width="1" height="76.2" fill="#f6cdd2" fill-opacity="0.27"/>
<rect x="419.7" y="210.4" width="1" height="76.2" fill="#f6cdd2" fill-opacity="0.39"/>
<rect x="420.7" y="210.4" width="1" height="76.2" fill="#f6cdd2" fill-opacity="0.27"/>
<rect x="421.7" y="210.4" width="1" height="76.2" fill="#d4d6ee" fill-opacity="0.17"/>
<rect x="422.7" y="210.4" width="1" height="76.2" fill="#d4d6ee" fill-opacity="0.24"/>
<rect x="423.7" y="210.4" width="1" height="76.2" fill="#f6cdd2" fill-opacity="0.32"/>
<rect x="424.7" y="210.4" width="1" height="76.2" fill="#f6cdd2" fill-opacity="0.21"/>
<rect x="425.7" y="210.4" width="1" height="76.2" fill="#d4d6ee" fill-opacity="0.14"/>
<rect x="427.7" y="210.4" width="1" height="76.2" fill="#f6cdd2" fill-opacity="0.30"/>
<rect x="428.7" y="210.4" width="1" height="76.2" fill="#f6cdd2" fill-opacity="0.23"/>
<rect x="429.7" y="210.4" width="1" height="76.2" fill="#f6cdd2" fill-opacity="0.12"/>
<rect x="430.7" y="210.4" width="1" height="76.2" fill="#d4d6ee" fill-opacity="0.24"/>
<rect x="431.7" y="210.4" width="1" height="76.2" fill="#d4d6ee" fill-opacity="0.26"/>
<rect x="432.7" y="210.4" width="1" height="76.2" fill="#d4d6ee" fill-opacity="0.26"/>
<rect x="433.7" y="210.4" width="1" height="76.2" fill="#f6cdd2" fill-opacity="0.37"/>
<rect x="434.7" y="210.4" width="1" height="76.2" fill="#f6cdd2" fill-opacity="0.36"/>
<rect x="436.7" y="210.4" width="1" height="76.2" fill="#d4d6ee" fill-opacity="0.33"/>
<rect x="437.7" y="210.4" width="1" height="76.2" fill="#d4d6ee" fill-opacity="0.28"/>
<rect x="438.7" y="210.4" width="1" height="76.2" fill="#f6cdd2" fill-opacity="0.20"/>
<rect x="439.7" y="210.4" width="1" height="76.2" fill="#f6cdd2" fill-opacity="0.19"/>
<rect x="441.7" y="210.4" width="1" height="76.2" fill="#f6cdd2" fill-opacity="0.22"/>
<rect x="442.7" y="210.4" width="1" height="76.2" fill="#f6cdd2" fill-opacity="0.34"/>
<rect x="443.7" y="210.4" width="1" height="76.2" fill="#d4d6ee" fill-opacity="0.27"/>
<rect x="444.7" y="210.4" width="1" height="76.2" fill="#f6cdd2" fill-opacity="0.18"/>
<rect x="445.7" y="210.4" width="1" height="76.2" fill="#f6cdd2" fill-opacity="0.17"/>
<rect x="446.7" y="210.4" width="1" height="76.2" fill="#f6cdd2" fill-opacity="0.36"/>
<rect x="447.7" y="210.4" width="1" height="76.2" fill="#d4d6ee" fill-opacity="0.13"/>
<rect x="448.7" y="210.4" width="1" height="76.2" fill="#d4d6ee" fill-opacity="0.14"/>
<rect x="449.7" y="210.4" width="1" height="76.2" fill="#d4d6ee" fill-opacity="0.23"/>
<rect x="451.7" y="210.4" width="1" height="76.2" fill="#f6cdd2" fill-opacity="0.36"/>
<rect x="452.7" y="210.4" width="1" height="76.2" fill="#f6cdd2" fill-opacity="0.39"/>
<rect x="453.7" y="210.4" width="1" height="76.2" fill="#d4d6ee" fill-opacity="0.11"/>
<rect x="455.7" y="210.4" width="1" height="76.2" fill="#f6cdd2" fill-opacity="0.21"/>
<rect x="456.7" y="210.4" width="1" height="76.2" fill="#f6cdd2" fill-opacity="0.35"/>
<rect x="457.7" y="210.4" width="1" height="76.2" fill="#f6cdd2" fill-opacity="0.32"/>
<rect x="458.7" y="210.4" width="1" height="76.2" fill="#f6cdd2" fill-opacity="0.30"/>
<rect x="459.7" y="210.4" width="1" height="76.2" fill="#f6cdd2" fill-opacity="0.12"/>
<rect x="461.7" y="210.4" width="1" height="76.2" fill="#d4d6ee" fill-opacity="0.15"/>
<rect x="464.7" y="210.4" width="1" height="76.2" fill="#f6cdd2" fill-opacity="0.11"/>
<rect x="465.7" y="210.4" width="1" height="76.2" fill="#d4d6ee" fill-opacity="0.14"/>
<rect x="466.7" y="210.4" width="1" height="76.2" fill="#d4d6ee" fill-opacity="0.24"/>
<rect x="467.7" y="210.4" width="1" height="76.2" fill="#d4d6ee" fill-opacity="0.27"/>
<rect x="468.7" y="210.4" width="1" height="76.2" fill="#d4d6ee" fill-opacity="0.35"/>
<rect x="469.7" y="210.4" width="1" height="76.2" fill="#d4d6ee" fill-opacity="0.28"/>
<rect x="470.7" y="210.4" width="1" height="76.2" fill="#f6cdd2" fill-opacity="0.14"/>
<rect x="471.7" y="210.4" width="1" height="76.2" fill="#f6cdd2" fill-opacity="0.36"/>
<rect x="472.7" y="210.4" width="1" height="76.2" fill="#f6cdd2" fill-opacity="0.23"/>
<rect x="473.7" y="210.4" width="1" height="76.2" fill="#f6cdd2" fill-opacity="0.29"/>
<rect x="474.7" y="210.4" width="1" height="76.2" fill="#d4d6ee" fill-opacity="0.36"/>
<rect x="475.7" y="210.4" width="1" height="76.2" fill="#f6cdd2" fill-opacity="0.21"/>
<rect x="476.7" y="210.4" width="1" height="76.2" fill="#d4d6ee" fill-opacity="0.32"/>
<rect x="478.7" y="210.4" width="1" height="76.2" fill="#f6cdd2" fill-opacity="0.37"/>
<rect x="481.7" y="210.4" width="1" height="76.2" fill="#f6cdd2" fill-opacity="0.21"/>
<rect x="482.7" y="210.4" width="1" height="76.2" fill="#d4d6ee" fill-opacity="0.35"/>
<rect x="483.7" y="210.4" width="1" height="76.2" fill="#f6cdd2" fill-opacity="0.22"/>
<rect x="484.7" y="210.4" width="1" height="76.2" fill="#d4d6ee" fill-opacity="0.33"/>
<rect x="485.7" y="210.4" width="1" height="76.2" fill="#d4d6ee" fill-opacity="0.16"/>
<rect x="486.7" y="210.4" width="1" height="76.2" fill="#f6cdd2" fill-opacity="0.12"/>
<rect x="487.7" y="210.4" width="1" height="76.2" fill="#f6cdd2" fill-opacity="0.23"/>
<rect x="489.7" y="210.4" width="1" height="76.2" fill="#d4d6ee" fill-opacity="0.22"/>
<path d="M432.7 284.1h0M407.4 239.5h0M362.4 255.2h0M428.2 219.6h0M437.0 250.9h0M401.4 284.9h0M392.7 248.0h0M356.8 270.6h0M483.8 261.2h0M480.1 284.3h0M467.3 216.4h0M440.5 249.4h0M377.9 227.0h0M402.3 254.9h0M437.7 273.8h0M464.1 271.0h0M438.0 243.0h0M464.9 250.2h0M479.4 220.1h0M402.8 226.0h0M488.7 268.9h0M416.8 222.6h0M387.6 213.3h0M457.9 244.4h0M417.4 269.8h0M366.4 243.0h0M405.4 266.2h0M474.5 282.4h0M440.7 280.9h0M394.7 250.8h0M439.0 282.5h0M455.2 256.1h0M400.2 222.1h0M399.8 233.3h0M384.9 285.5h0M475.4 229.1h0M439.8 263.2h0M488.4 285.3h0M400.3 251.8h0M470.4 214.3h0M396.9 270.7h0M362.2 219.2h0M413.5 276.4h0M367.6 261.5h0M432.1 267.4h0M479.1 275.0h0M388.8 250.2h0M369.6 226.1h0M394.1 225.7h0M359.5 251.6h0M452.6 210.6h0M455.0 212.4h0M364.7 276.4h0M459.7 220.5h0M380.3 216.8h0M426.3 248.2h0M465.0 213.9h0M445.2 210.9h0M439.5 275.1h0M408.9 234.2h0M469.6 272.8h0M361.3 276.7h0M383.9 217.5h0M384.5 242.7h0M366.1 253.6h0M390.3 240.0h0M464.3 279.1h0M389.3 223.0h0M471.8 269.9h0M357.1 225.0h0M385.7 227.0h0M416.8 280.3h0M430.1 265.2h0M415.5 251.7h0M398.9 277.0h0M439.0 225.7h0M405.0 227.4h0M380.5 250.5h0M397.5 263.1h0M374.3 233.8h0M378.6 265.2h0M378.3 257.3h0M461.4 255.8h0M489.2 224.0h0M370.6 263.0h0M454.7 217.1h0M439.1 212.0h0M490.9 265.9h0M458.2 263.2h0M411.6 234.6h0M369.7 267.4h0M450.3 212.1h0M385.9 231.8h0M386.0 275.2h0M403.3 284.1h0M443.7 274.4h0M481.3 265.3h0M398.4 286.4h0M462.1 274.1h0M434.6 228.1h0M414.0 264.6h0M375.8 259.9h0M443.5 260.8h0M413.8 215.7h0M361.0 214.1h0M405.6 245.2h0M385.7 244.5h0M362.0 211.4h0M476.5 258.6h0M469.3 213.4h0M410.2 273.6h0M373.8 233.3h0M355.9 233.0h0M418.1 236.8h0M417.4 232.2h0M428.0 235.7h0M481.5 284.4h0M444.2 255.0h0M427.6 230.6h0M416.0 213.8h0M488.8 269.1h0M398.0 278.5h0M473.4 220.8h0M372.3 241.6h0M362.7 220.3h0M443.2 268.4h0M397.9 241.8h0M360.7 248.8h0M458.4 213.3h0M453.2 245.6h0M404.5 258.1h0M396.0 253.2h0M361.7 277.8h0M375.0 251.8h0M436.7 231.2h0M483.4 255.8h0M448.7 267.7h0M461.2 247.2h0M408.1 266.4h0M402.8 284.9h0M359.2 272.4h0M392.1 244.9h0M415.4 243.9h0M443.2 262.6h0M386.3 219.3h0M416.4 275.3h0M470.2 285.5h0M361.3 232.3h0M382.1 254.9h0M394.0 237.9h0M457.2 234.8h0M388.9 228.0h0M427.7 224.9h0M357.1 226.6h0M439.0 272.3h0M442.1 242.5h0M456.3 268.8h0M376.2 239.9h0M428.6 272.9h0M405.3 280.7h0M419.0 245.3h0M441.7 230.6h0M481.2 248.2h0M452.1 219.2h0M407.9 223.0h0M375.8 248.8h0M487.3 234.8h0M400.0 260.6h0M386.9 264.6h0M363.5 274.9h0M394.4 252.0h0M460.2 218.6h0M381.3 254.2h0M377.8 269.5h0M472.3 229.8h0M377.2 267.4h0M421.5 246.5h0M480.8 253.8h0M421.6 277.8h0M427.7 271.2h0M467.1 258.0h0M374.1 249.7h0M477.2 268.5h0M479.2 228.7h0M418.0 262.0h0M361.6 281.4h0M471.7 245.8h0M449.4 230.3h0M427.6 216.2h0M423.1 234.5h0M376.9 253.8h0M425.1 218.9h0M457.4 248.9h0M408.5 278.0h0M402.1 281.6h0M459.7 260.7h0M463.4 279.9h0M380.7 227.0h0M421.9 214.7h0M371.3 236.2h0M440.0 284.6h0M422.5 268.8h0M452.5 267.9h0M435.1 237.8h0M423.7 239.5h0M362.6 215.5h0M464.2 216.4h0M484.6 285.6h0M366.6 271.6h0M472.0 276.3h0M412.0 246.9h0M383.5 238.7h0M356.3 254.0h0M430.5 214.9h0M458.8 272.7h0M408.1 242.0h0M355.9 248.4h0M394.9 285.8h0M409.4 279.0h0M432.8 258.2h0M436.8 223.8h0M384.8 279.8h0M378.5 227.8h0M488.6 279.1h0M485.2 281.6h0M438.7 226.6h0M395.5 227.5h0M383.5 235.7h0M390.4 269.4h0M486.8 218.8h0M387.9 249.6h0M386.8 277.4h0M433.1 248.4h0M480.8 241.3h0M381.0 281.7h0M410.9 215.9h0M417.2 269.1h0M376.8 273.3h0M388.3 223.9h0M461.8 249.3h0M418.3 245.1h0M432.5 275.7h0M411.0 238.8h0M480.9 265.9h0M424.6 237.0h0M368.9 256.3h0M446.7 219.6h0M414.6 259.1h0M461.9 250.5h0M376.6 272.4h0M434.2 233.8h0M486.4 220.9h0M355.3 238.3h0M378.0 222.2h0M474.5 219.1h0M422.9 244.8h0M400.0 241.5h0M488.0 233.5h0M391.9 260.7h0M430.5 257.0h0M441.5 285.2h0M423.8 255.6h0M404.6 229.1h0M450.2 230.6h0M475.5 238.0h0M360.0 244.5h0M386.9 262.5h0M410.4 254.5h0M354.6 228.4h0M445.0 256.8h0M468.7 228.8h0M416.4 279.9h0M406.9 257.4h0M419.5 237.2h0M353.9 250.3h0M378.3 230.1h0M479.1 246.9h0M416.9 263.4h0M474.8 284.3h0M409.6 259.8h0M471.4 272.8h0M384.4 247.0h0M390.6 271.7h0M412.2 214.7h0M398.9 256.8h0M398.4 281.0h0M431.0 215.0h0M465.2 251.1h0M423.7 227.6h0M446.1 282.4h0M464.0 237.1h0M466.5 254.8h0M409.9 255.6h0M430.8 260.6h0M478.4 229.8h0M369.1 215.0h0M438.8 254.3h0M387.8 233.5h0M388.7 253.0h0M473.1 240.6h0M440.7 214.1h0M355.2 263.0h0M360.8 246.4h0M389.4 276.3h0M444.2 238.7h0M445.9 232.5h0M449.9 252.4h0M404.7 227.5h0M397.0 244.1h0M444.1 269.0h0M389.6 227.1h0M436.9 243.3h0M359.3 262.8h0M365.5 282.2h0M355.9 228.9h0M421.9 210.5h0M444.4 261.0h0M452.9 221.5h0" stroke="#e88890" stroke-width="0.9" stroke-linecap="round" stroke-opacity="0.55" fill="none"/>
<path d="M387.5 234.4h0M414.9 223.6h0M439.2 243.0h0M479.9 285.2h0M412.8 215.2h0M358.4 240.2h0M455.4 264.4h0M391.2 223.3h0M418.7 221.5h0M396.2 257.7h0M462.3 232.9h0M477.4 222.1h0M462.9 265.3h0M432.4 286.0h0M473.9 225.4h0M454.2 215.8h0M444.7 221.2h0M353.7 272.1h0M431.9 254.0h0M441.1 221.0h0M477.8 242.0h0M364.9 235.3h0M372.9 254.8h0M435.2 281.4h0M468.9 230.7h0M466.7 265.1h0M387.7 238.6h0M489.7 269.5h0M374.7 253.2h0M481.1 230.6h0M462.5 241.2h0M471.6 269.7h0M368.2 266.2h0M439.7 283.8h0M484.5 258.9h0M420.4 237.1h0M460.9 261.1h0M391.4 219.3h0M480.9 284.6h0M454.0 267.2h0M454.4 257.6h0M458.4 279.1h0M392.4 248.9h0M461.4 266.1h0M466.9 251.6h0M359.7 246.8h0M385.2 277.9h0M380.0 213.3h0M432.9 218.7h0M434.3 268.2h0M437.8 243.5h0M353.9 241.4h0M472.6 224.1h0M384.6 228.7h0M378.0 225.1h0M398.5 247.3h0M372.9 217.0h0M358.2 267.9h0M429.0 261.2h0M365.7 270.9h0M449.9 234.4h0M439.2 234.2h0M384.5 228.7h0M432.2 263.1h0M464.5 223.8h0M362.0 267.2h0M477.5 266.7h0M487.3 222.5h0M464.0 268.5h0M416.6 259.5h0M476.7 236.2h0M471.2 283.7h0M431.6 245.3h0M358.7 267.7h0M399.2 253.4h0M396.9 247.6h0M432.2 248.7h0M478.4 253.8h0M400.9 239.5h0M402.3 211.8h0M439.6 216.4h0M490.3 267.6h0M386.2 212.0h0M434.9 238.0h0M454.8 276.5h0M410.4 277.8h0M402.3 273.4h0M453.0 230.7h0M433.1 225.4h0M425.8 244.4h0M408.9 242.9h0M389.5 247.9h0M487.3 262.1h0M462.3 240.2h0M363.5 281.9h0M416.8 224.4h0M490.5 235.5h0M401.0 270.0h0M395.1 243.2h0M356.4 231.4h0M475.7 211.9h0M466.0 277.8h0M434.0 239.3h0M405.1 285.5h0M397.1 285.9h0M477.7 248.5h0M464.9 222.3h0M446.3 284.2h0M362.4 220.2h0M428.5 237.0h0M393.5 220.5h0M356.5 228.9h0M470.7 236.3h0M464.9 259.9h0M396.3 262.4h0M378.0 270.3h0M402.1 232.1h0M458.8 221.7h0M378.3 219.3h0M484.2 211.8h0M464.2 239.7h0M470.6 270.9h0M354.0 273.2h0M455.6 246.1h0M489.8 251.8h0M385.9 284.0h0M393.9 244.4h0M391.2 247.0h0M438.3 246.5h0M383.7 247.5h0M373.7 248.7h0M417.5 251.6h0M467.0 284.5h0M380.2 283.5h0M449.6 241.9h0M415.0 257.7h0M365.7 238.8h0M408.7 279.9h0M481.5 260.1h0M485.7 236.4h0M398.8 255.4h0M407.0 274.7h0M416.6 268.3h0M424.8 252.1h0M470.2 211.4h0M452.5 278.3h0M380.1 277.3h0M467.7 235.0h0M484.8 261.3h0M452.7 212.4h0M451.9 236.2h0M408.7 267.4h0M432.1 237.9h0M364.3 230.3h0M401.0 285.4h0M422.8 274.1h0M447.5 256.5h0M472.9 248.8h0M459.7 236.5h0M359.8 262.5h0M376.8 256.2h0M360.8 254.6h0M436.9 222.0h0M365.9 210.5h0M419.4 211.7h0M425.1 251.0h0M382.1 241.6h0M378.7 277.6h0M386.5 261.1h0M404.2 285.2h0M368.3 239.3h0M381.6 246.4h0M379.2 238.9h0M462.3 253.0h0M361.5 244.7h0M386.3 232.9h0M409.6 261.0h0M404.8 224.6h0M382.9 233.8h0M354.2 228.9h0M365.5 255.0h0M453.1 264.1h0M428.2 285.6h0M438.2 268.3h0M443.1 268.4h0M362.7 243.5h0M391.2 272.2h0M445.7 283.0h0M390.8 219.9h0M390.3 224.6h0M377.7 274.4h0M403.1 254.9h0M414.2 267.4h0M487.2 261.4h0M475.0 263.0h0M399.5 251.7h0M436.2 235.2h0M358.7 237.3h0M369.7 263.6h0M460.5 236.5h0M424.3 228.2h0M383.5 282.8h0M357.2 222.4h0M376.0 273.5h0M399.9 257.5h0M374.3 248.9h0M443.4 254.1h0M469.2 259.6h0M486.4 262.1h0M356.6 223.5h0M397.0 279.5h0" stroke="#98a2d2" stroke-width="0.9" stroke-linecap="round" stroke-opacity="0.55" fill="none"/>
<line x1="356.5" y1="210.6" x2="356.5" y2="286.6" stroke="#9a98ac" stroke-width="0.5" stroke-opacity="0.9"/>
<path d="M357.1 284.2h0M356.8 261.8h0M357.1 261.0h0M356.4 262.4h0M355.7 270.3h0M355.6 282.4h0M356.8 282.1h0M356.8 241.1h0M356.5 244.7h0M355.7 274.0h0M355.8 227.1h0" stroke="#7a84c0" stroke-width="0.9" stroke-linecap="round" stroke-opacity="0.6" fill="none"/>
<line x1="364.0" y1="210.6" x2="364.0" y2="286.6" stroke="#9a98ac" stroke-width="0.5" stroke-opacity="0.9"/>
<path d="M363.7 263.3h0M363.8 233.9h0M364.2 234.3h0M363.4 271.2h0M363.9 262.9h0M363.1 285.3h0M363.4 252.2h0M363.3 235.2h0M364.6 249.9h0M365.0 219.1h0M364.7 279.6h0" stroke="#7a84c0" stroke-width="0.9" stroke-linecap="round" stroke-opacity="0.6" fill="none"/>
<line x1="382.0" y1="210.6" x2="382.0" y2="286.6" stroke="#9a98ac" stroke-width="0.5" stroke-opacity="0.9"/>
<path d="M381.6 280.3h0M381.6 264.2h0M381.7 250.4h0M382.3 275.3h0M381.6 216.6h0M381.6 266.9h0M381.7 245.1h0M382.3 241.5h0M382.8 241.2h0M382.0 276.9h0M381.1 239.6h0" stroke="#7a84c0" stroke-width="0.9" stroke-linecap="round" stroke-opacity="0.6" fill="none"/>
<line x1="395.0" y1="210.6" x2="395.0" y2="286.6" stroke="#9a98ac" stroke-width="0.5" stroke-opacity="0.9"/>
<path d="M395.3 260.7h0M394.9 243.8h0M395.8 278.9h0M394.5 243.7h0M394.0 218.6h0M394.7 238.4h0M395.4 221.1h0M394.9 274.6h0M394.2 226.9h0M394.7 254.6h0M395.9 226.1h0" stroke="#7a84c0" stroke-width="0.9" stroke-linecap="round" stroke-opacity="0.6" fill="none"/>
<line x1="401.5" y1="210.6" x2="401.5" y2="286.6" stroke="#9a98ac" stroke-width="0.5" stroke-opacity="0.9"/>
<path d="M401.4 256.4h0M402.1 280.4h0M402.3 223.0h0M401.2 213.9h0M400.6 240.7h0M401.4 257.1h0M402.4 219.4h0M402.4 264.3h0M400.8 262.7h0M400.7 215.9h0M401.8 221.1h0" stroke="#7a84c0" stroke-width="0.9" stroke-linecap="round" stroke-opacity="0.6" fill="none"/>
<line x1="408.0" y1="210.6" x2="408.0" y2="286.6" stroke="#9a98ac" stroke-width="0.5" stroke-opacity="0.9"/>
<path d="M408.3 242.9h0M408.3 234.4h0M408.2 217.7h0M408.7 271.0h0M407.7 259.8h0M407.2 258.2h0M407.5 283.6h0M407.2 212.6h0M408.8 262.6h0M408.2 217.1h0M407.9 266.0h0" stroke="#7a84c0" stroke-width="0.9" stroke-linecap="round" stroke-opacity="0.6" fill="none"/>
<line x1="418.0" y1="210.6" x2="418.0" y2="286.6" stroke="#9a98ac" stroke-width="0.5" stroke-opacity="0.9"/>
<path d="M417.1 271.1h0M418.2 219.9h0M418.0 242.2h0M418.6 253.4h0M418.7 268.3h0M418.0 225.5h0M419.0 234.6h0M418.3 274.1h0M417.4 214.2h0M418.6 266.2h0M417.3 233.5h0" stroke="#7a84c0" stroke-width="0.9" stroke-linecap="round" stroke-opacity="0.6" fill="none"/>
<line x1="437.5" y1="210.6" x2="437.5" y2="286.6" stroke="#9a98ac" stroke-width="0.5" stroke-opacity="0.9"/>
<path d="M437.7 253.5h0M438.2 247.1h0M436.9 268.7h0M437.3 230.8h0M436.8 229.5h0M436.7 222.2h0M437.5 218.9h0M436.9 263.6h0M436.9 267.9h0M436.5 233.8h0M436.8 251.6h0" stroke="#7a84c0" stroke-width="0.9" stroke-linecap="round" stroke-opacity="0.6" fill="none"/>
<line x1="454.0" y1="210.6" x2="454.0" y2="286.6" stroke="#9a98ac" stroke-width="0.5" stroke-opacity="0.9"/>
<path d="M454.0 267.4h0M453.9 275.3h0M453.1 255.9h0M453.1 236.3h0M454.8 228.4h0M453.1 285.2h0M453.0 256.3h0M453.3 256.8h0M454.6 219.6h0M454.8 262.0h0M453.2 224.8h0" stroke="#7a84c0" stroke-width="0.9" stroke-linecap="round" stroke-opacity="0.6" fill="none"/>
<line x1="462.5" y1="210.6" x2="462.5" y2="286.6" stroke="#9a98ac" stroke-width="0.5" stroke-opacity="0.9"/>
<path d="M462.3 270.3h0M463.2 224.5h0M463.2 257.3h0M461.6 251.1h0M462.1 253.8h0M463.1 219.3h0M461.7 214.8h0M462.6 266.5h0M462.0 265.5h0M463.2 247.5h0M461.7 211.4h0" stroke="#7a84c0" stroke-width="0.9" stroke-linecap="round" stroke-opacity="0.6" fill="none"/>
<line x1="360.0" y1="210.6" x2="360.0" y2="286.6" stroke="#5a68a8" stroke-width="0.9" stroke-opacity="0.9"/>
<path d="M359.2 267.4h0M360.6 211.0h0M360.3 280.2h0M359.6 283.5h0M360.6 224.9h0M359.4 274.5h0M359.6 212.8h0M359.0 262.2h0M360.4 223.7h0M360.8 237.1h0M359.5 228.7h0" stroke="#7a84c0" stroke-width="0.9" stroke-linecap="round" stroke-opacity="0.6" fill="none"/>
<line x1="368.2" y1="210.6" x2="368.2" y2="286.6" stroke="#b87888" stroke-width="0.8" stroke-opacity="0.9"/>
<path d="M368.5 268.6h0M368.9 215.8h0M368.5 235.1h0M367.4 260.2h0M367.5 216.9h0M369.1 214.4h0M368.2 240.2h0M367.6 285.5h0M367.3 215.0h0M367.8 255.2h0M368.3 264.4h0" stroke="#d87080" stroke-width="0.9" stroke-linecap="round" stroke-opacity="0.6" fill="none"/>
<line x1="373.0" y1="210.6" x2="373.0" y2="286.6" stroke="#eaa8b4" stroke-width="0.7" stroke-opacity="0.9"/>
<path d="M373.2 246.1h0M374.0 218.7h0M372.9 235.1h0M374.0 248.1h0M373.0 270.4h0M374.0 261.4h0M372.1 222.2h0M372.3 214.3h0M372.1 282.9h0M372.8 267.3h0M372.5 226.4h0" stroke="#d87080" stroke-width="0.9" stroke-linecap="round" stroke-opacity="0.6" fill="none"/>
<line x1="378.0" y1="210.6" x2="378.0" y2="286.6" stroke="#9a98ac" stroke-width="0.8" stroke-opacity="0.9"/>
<path d="M379.0 217.0h0M378.7 215.0h0M378.0 244.1h0M378.1 256.7h0M377.3 276.5h0M377.4 229.8h0M377.1 227.3h0M378.2 246.4h0M378.9 273.0h0M377.7 234.0h0M378.0 231.4h0" stroke="#7a84c0" stroke-width="0.9" stroke-linecap="round" stroke-opacity="0.6" fill="none"/>
<line x1="386.6" y1="210.6" x2="386.6" y2="286.6" stroke="#9a98ac" stroke-width="0.8" stroke-opacity="0.9"/>
<path d="M386.3 260.1h0M386.0 282.5h0M387.4 261.5h0M387.0 286.3h0M386.6 242.2h0M386.9 269.6h0M386.5 227.2h0M387.6 265.0h0M387.0 217.1h0M386.4 257.7h0M387.3 233.7h0" stroke="#7a84c0" stroke-width="0.9" stroke-linecap="round" stroke-opacity="0.6" fill="none"/>
<line x1="391.8" y1="210.6" x2="391.8" y2="286.6" stroke="#9a98ac" stroke-width="0.6" stroke-opacity="0.9"/>
<path d="M391.0 265.4h0M392.5 252.2h0M392.2 235.6h0M391.4 219.3h0M391.0 270.8h0M392.4 253.9h0M391.9 249.7h0M392.4 216.9h0M391.2 221.9h0M392.8 248.0h0M392.2 233.8h0" stroke="#7a84c0" stroke-width="0.9" stroke-linecap="round" stroke-opacity="0.6" fill="none"/>
<line x1="398.0" y1="210.6" x2="398.0" y2="286.6" stroke="#eaa8b4" stroke-width="0.6" stroke-opacity="0.9"/>
<path d="M398.6 269.8h0M397.8 286.4h0M399.0 268.2h0M397.7 282.5h0M398.9 253.6h0M397.7 258.1h0M397.6 219.3h0M397.6 239.7h0M398.0 251.4h0M398.9 259.7h0M397.9 247.4h0" stroke="#d87080" stroke-width="0.9" stroke-linecap="round" stroke-opacity="0.6" fill="none"/>
<line x1="405.4" y1="210.6" x2="405.4" y2="286.6" stroke="#eaa8b4" stroke-width="0.7" stroke-opacity="0.9"/>
<path d="M406.0 258.7h0M405.2 239.1h0M405.9 260.1h0M405.1 221.5h0M404.7 212.6h0M405.8 274.5h0M405.5 212.7h0M405.1 227.5h0M404.6 257.0h0M406.1 274.5h0M406.0 229.6h0" stroke="#d87080" stroke-width="0.9" stroke-linecap="round" stroke-opacity="0.6" fill="none"/>
<line x1="411.5" y1="210.6" x2="411.5" y2="286.6" stroke="#9a98ac" stroke-width="0.7" stroke-opacity="0.9"/>
<path d="M412.0 232.7h0M411.2 269.0h0M410.5 257.5h0M411.1 246.4h0M411.0 225.7h0M412.4 245.8h0M410.9 259.8h0M412.3 248.1h0M411.7 272.9h0M412.3 245.9h0M411.6 221.9h0" stroke="#7a84c0" stroke-width="0.9" stroke-linecap="round" stroke-opacity="0.6" fill="none"/>
<line x1="415.4" y1="210.6" x2="415.4" y2="286.6" stroke="#b87888" stroke-width="0.8" stroke-opacity="0.9"/>
<path d="M414.7 283.8h0M414.9 251.6h0M414.8 218.7h0M414.9 242.7h0M414.9 280.5h0M415.0 279.9h0M415.7 279.4h0M415.3 211.9h0M414.7 216.4h0M414.7 214.4h0M414.9 247.9h0" stroke="#d87080" stroke-width="0.9" stroke-linecap="round" stroke-opacity="0.6" fill="none"/>
<line x1="421.1" y1="210.6" x2="421.1" y2="286.6" stroke="#5a68a8" stroke-width="1.2" stroke-opacity="0.9"/>
<path d="M421.4 225.3h0M420.9 266.6h0M420.3 263.6h0M420.3 211.4h0M421.7 251.2h0M421.3 232.6h0M420.4 253.7h0M420.7 285.7h0M421.7 278.6h0M420.5 238.8h0M420.9 219.6h0" stroke="#7a84c0" stroke-width="0.9" stroke-linecap="round" stroke-opacity="0.6" fill="none"/>
<line x1="424.6" y1="210.6" x2="424.6" y2="286.6" stroke="#9a98ac" stroke-width="0.6" stroke-opacity="0.9"/>
<path d="M424.6 256.4h0M424.2 223.8h0M423.7 228.0h0M424.6 285.8h0M425.0 229.4h0M424.1 225.9h0M425.4 210.9h0M425.4 269.2h0M424.2 253.0h0M423.8 264.0h0M423.8 284.2h0" stroke="#7a84c0" stroke-width="0.9" stroke-linecap="round" stroke-opacity="0.6" fill="none"/>
<line x1="428.5" y1="210.6" x2="428.5" y2="286.6" stroke="#9a98ac" stroke-width="0.7" stroke-opacity="0.9"/>
<path d="M428.3 258.8h0M429.4 279.0h0M429.1 257.4h0M428.2 250.8h0M429.0 234.5h0M429.4 257.3h0M429.4 221.8h0M428.5 249.2h0M428.1 252.9h0M428.5 238.1h0M428.0 249.8h0" stroke="#7a84c0" stroke-width="0.9" stroke-linecap="round" stroke-opacity="0.6" fill="none"/>
<line x1="433.7" y1="210.6" x2="433.7" y2="286.6" stroke="#9a98ac" stroke-width="0.7" stroke-opacity="0.9"/>
<path d="M433.5 229.5h0M432.8 245.0h0M434.1 220.5h0M434.5 220.9h0M432.9 214.0h0M434.3 224.7h0M432.8 263.2h0M433.2 237.3h0M433.8 232.1h0M434.5 242.5h0M434.0 261.0h0" stroke="#7a84c0" stroke-width="0.9" stroke-linecap="round" stroke-opacity="0.6" fill="none"/>
<line x1="450.6" y1="210.6" x2="450.6" y2="286.6" stroke="#9a98ac" stroke-width="0.7" stroke-opacity="0.9"/>
<path d="M450.7 267.4h0M450.2 223.2h0M450.5 273.8h0M450.6 246.6h0M451.4 274.6h0M451.5 264.8h0M451.0 242.0h0M450.1 275.9h0M450.9 284.5h0M450.1 280.7h0M450.0 267.1h0" stroke="#7a84c0" stroke-width="0.9" stroke-linecap="round" stroke-opacity="0.6" fill="none"/>
<line x1="458.0" y1="210.6" x2="458.0" y2="286.6" stroke="#b87888" stroke-width="0.9" stroke-opacity="0.9"/>
<path d="M457.9 273.9h0M458.2 232.9h0M458.6 225.0h0M458.5 258.5h0M458.5 276.3h0M457.3 277.0h0M458.5 271.4h0M458.9 255.5h0M458.6 248.0h0M458.9 248.3h0M458.1 211.7h0" stroke="#d87080" stroke-width="0.9" stroke-linecap="round" stroke-opacity="0.6" fill="none"/>
<line x1="466.0" y1="210.6" x2="466.0" y2="286.6" stroke="#9a98ac" stroke-width="0.7" stroke-opacity="0.9"/>
<path d="M465.8 219.7h0M465.0 250.2h0M465.1 218.1h0M466.9 226.7h0M465.7 266.0h0M465.1 276.0h0M465.9 215.8h0M465.2 234.6h0M466.3 249.6h0M465.6 215.7h0M466.4 229.4h0" stroke="#7a84c0" stroke-width="0.9" stroke-linecap="round" stroke-opacity="0.6" fill="none"/>
<line x1="470.0" y1="210.6" x2="470.0" y2="286.6" stroke="#eaa8b4" stroke-width="0.7" stroke-opacity="0.9"/>
<path d="M469.9 242.4h0M470.1 282.1h0M470.6 278.0h0M469.5 259.2h0M470.3 268.2h0M469.8 280.7h0M470.0 277.4h0M469.9 265.0h0M469.4 227.9h0M470.1 258.3h0M470.0 274.8h0" stroke="#d87080" stroke-width="0.9" stroke-linecap="round" stroke-opacity="0.6" fill="none"/>
<line x1="473.5" y1="210.6" x2="473.5" y2="286.6" stroke="#b87888" stroke-width="0.7" stroke-opacity="0.9"/>
<path d="M474.2 243.2h0M472.6 238.7h0M472.8 273.3h0M473.0 261.7h0M474.0 245.5h0M474.3 238.7h0M473.4 282.3h0M472.9 263.0h0M472.6 228.9h0M473.5 281.0h0M474.2 270.4h0" stroke="#d87080" stroke-width="0.9" stroke-linecap="round" stroke-opacity="0.6" fill="none"/>
<line x1="477.5" y1="210.6" x2="477.5" y2="286.6" stroke="#9a98ac" stroke-width="0.7" stroke-opacity="0.9"/>
<path d="M476.8 254.5h0M477.1 217.5h0M478.0 272.7h0M477.4 254.7h0M477.2 236.2h0M476.7 267.1h0M477.9 232.8h0M477.1 285.7h0M476.9 249.3h0M476.6 280.9h0M478.0 250.9h0" stroke="#7a84c0" stroke-width="0.9" stroke-linecap="round" stroke-opacity="0.6" fill="none"/>
<line x1="481.5" y1="210.6" x2="481.5" y2="286.6" stroke="#b87888" stroke-width="1.0" stroke-opacity="0.9"/>
<path d="M481.2 222.3h0M480.8 260.1h0M481.4 237.8h0M481.6 226.6h0M482.2 257.1h0M480.8 237.6h0M480.7 248.3h0M481.4 226.2h0M482.5 264.0h0M481.2 257.4h0M481.8 217.2h0" stroke="#d87080" stroke-width="0.9" stroke-linecap="round" stroke-opacity="0.6" fill="none"/>
<line x1="485.0" y1="210.6" x2="485.0" y2="286.6" stroke="#5a68a8" stroke-width="1.1" stroke-opacity="0.9"/>
<path d="M485.0 255.7h0M484.6 239.4h0M485.3 259.4h0M485.8 225.3h0M484.7 277.0h0M484.2 216.7h0M484.1 231.4h0M484.3 238.7h0M485.0 229.1h0M485.2 263.7h0M484.6 221.3h0" stroke="#7a84c0" stroke-width="0.9" stroke-linecap="round" stroke-opacity="0.6" fill="none"/>
<line x1="489.6" y1="210.6" x2="489.6" y2="286.6" stroke="#9a98ac" stroke-width="0.8" stroke-opacity="0.9"/>
<path d="M490.6 243.3h0M488.8 218.9h0M490.1 243.6h0M490.5 267.3h0M488.8 268.0h0M490.5 286.5h0M490.3 258.1h0M490.4 271.0h0M489.4 232.3h0M488.6 217.1h0M489.4 216.8h0" stroke="#7a84c0" stroke-width="0.9" stroke-linecap="round" stroke-opacity="0.6" fill="none"/>
<rect x="441.2" y="210.9" width="5.6" height="75.7" fill="#2b3a9c" />
<line x1="353.7" y1="215.0" x2="491.0" y2="215.0" stroke="#7a7484" stroke-width="0.45" />
<line x1="353.7" y1="243.6" x2="491.0" y2="243.6" stroke="#606070" stroke-width="0.55" />
<line x1="353.7" y1="267.5" x2="491.0" y2="267.5" stroke="#606070" stroke-width="0.55" />
<rect x="362.3" y="283.8" width="3.0" height="2.8" fill="#c82020" />
<rect x="413.2" y="283.3" width="3.2" height="3.0" fill="#b81010" />
<rect x="448.5" y="231.2" width="1.5" height="1.4" fill="#803040" />
<rect x="367.8" y="243.8" width="5.2" height="23.6" fill="#f2b4b4" />
<path d="M371.5 263.6h0M368.7 267.4h0M368.8 259.6h0M368.3 261.7h0M368.6 260.5h0M371.6 261.9h0M370.1 264.2h0M372.9 246.5h0M370.5 266.4h0M371.6 254.3h0M369.4 266.3h0M368.2 261.7h0M372.2 247.5h0M369.5 251.0h0M370.6 252.5h0M372.4 265.6h0M369.4 264.9h0M368.2 246.1h0M371.3 262.7h0M372.1 267.2h0M372.3 250.1h0M371.7 265.6h0M368.3 255.5h0M368.6 247.2h0M370.3 259.6h0M372.9 246.9h0M370.4 267.3h0M371.8 256.4h0M369.1 258.7h0M369.2 259.0h0M371.2 253.0h0M371.9 253.3h0M370.2 263.4h0M369.1 248.2h0M370.8 254.1h0M372.3 249.7h0M369.7 245.2h0M370.1 251.2h0M370.1 261.8h0M368.0 267.1h0M371.5 262.9h0M370.6 257.4h0M369.9 253.1h0M368.9 251.0h0M369.3 251.7h0M372.5 262.6h0M371.1 244.2h0M369.2 256.6h0M371.4 253.7h0M371.1 265.2h0M369.2 252.8h0M371.8 251.3h0M371.6 253.2h0M367.9 254.7h0M368.2 262.3h0M372.2 256.3h0M372.5 248.8h0M370.1 247.9h0M368.1 263.3h0M368.1 265.9h0M370.7 260.3h0M368.1 265.2h0M371.9 246.3h0M368.8 247.1h0M370.4 245.7h0M372.0 255.5h0M371.5 249.8h0M371.2 254.5h0M371.2 253.5h0M372.9 263.8h0M372.1 251.9h0M368.8 247.4h0M368.5 266.6h0M369.3 264.3h0M369.0 258.4h0M369.1 251.0h0M371.7 258.2h0M372.7 249.4h0M369.2 245.3h0M368.9 266.9h0M370.7 255.0h0M369.6 261.7h0M371.4 247.5h0M368.0 247.9h0M372.0 261.1h0M369.0 249.3h0M369.4 259.8h0M371.7 249.4h0M369.5 249.4h0M372.7 256.8h0M372.7 249.5h0M371.1 257.2h0M372.6 252.4h0M369.0 263.1h0M372.8 255.8h0M369.5 245.8h0M370.1 265.6h0M369.7 254.4h0M370.7 249.4h0M368.4 256.0h0M372.8 264.4h0M369.4 262.3h0M372.1 257.6h0M369.7 248.4h0M371.5 260.0h0M368.9 247.1h0M368.4 263.3h0M372.4 256.0h0M371.0 260.5h0M368.6 256.1h0" stroke="#d83838" stroke-width="1.0" stroke-linecap="round" stroke-opacity="0.85" fill="none"/>
<path d="M370.1 264.3h0M368.7 263.8h0M368.5 258.2h0M372.4 245.6h0M370.3 243.9h0M370.4 255.3h0M372.8 255.3h0M372.5 261.0h0M372.2 252.1h0M368.3 258.8h0M368.4 258.6h0M368.7 258.1h0M371.8 266.5h0M368.8 247.9h0M370.0 266.8h0M369.1 255.0h0M369.8 245.3h0M370.6 251.0h0" stroke="#a01818" stroke-width="1.2" stroke-linecap="round" stroke-opacity="0.9" fill="none"/>
<rect x="353.7" y="208.7" width="17.8" height="1.3" fill="#70c8d0" />
<rect x="371.5" y="208.7" width="23.3" height="1.3" fill="#d8e8b0" />
<rect x="394.9" y="208.7" width="20.6" height="1.3" fill="#f0e4a0" />
<rect x="415.5" y="208.7" width="6.9" height="1.3" fill="#f4b0b8" />
<rect x="422.4" y="208.7" width="16.5" height="1.3" fill="#f0e0a0" />
<rect x="438.8" y="208.7" width="13.7" height="1.3" fill="#f8e0a0" />
<rect x="452.6" y="208.7" width="24.7" height="1.3" fill="#f4b0b8" />
<rect x="477.3" y="208.7" width="13.7" height="1.3" fill="#d0b0e0" />
<line x1="458.2" y1="243.9" x2="458.2" y2="267.8" stroke="#5070b0" stroke-width="0.9" />
<rect x="454.9" y="243.4" width="6.7" height="24.9" fill="none" stroke="#d22" stroke-width="1"/>
<text x="494.6" y="214.3" font-size="8.2" text-anchor="middle" fill="#8a5aa8">3</text>
<text x="494.6" y="233.4" font-size="8.2" text-anchor="middle" fill="#7a9a60">1</text>
<text x="494.6" y="257.4" font-size="8.2" text-anchor="middle" fill="#30a0b8">2</text>
<text x="494.6" y="278.0" font-size="8.2" text-anchor="middle" fill="#f09090">0</text>
<text x="504.8" y="250.0" font-size="8.2" text-anchor="middle" fill="#444" textLength="22.5" lengthAdjust="spacingAndGlyphs" transform="rotate(90 504.8 250.0)">Cluster</text>
<text x="269.5" y="190.6" font-size="9.2" text-anchor="middle" textLength="31.7" lengthAdjust="spacingAndGlyphs">Control</text>
<text x="268.8" y="201.6" font-size="9.2" text-anchor="middle" textLength="46.4" lengthAdjust="spacingAndGlyphs">2,910 cells</text>
<text x="422.0" y="190.3" font-size="9.2" text-anchor="middle" textLength="28.3" lengthAdjust="spacingAndGlyphs">BH3 m</text>
<text x="422.0" y="201.7" font-size="9.2" text-anchor="middle" textLength="43.6" lengthAdjust="spacingAndGlyphs">1,194 cells</text>
<text x="269.2" y="300.8" font-size="8.2" text-anchor="middle" textLength="52.4" lengthAdjust="spacingAndGlyphs">Genomic region</text>
<line x1="304.9" y1="291.4" x2="314.3" y2="291.4" stroke="#5a7090" stroke-width="0.8" />
<path d="M309.6 293.4 L312.1 296 L310.8 296 L310.8 302.8 L308.5 302.8 L308.5 296 L307.1 296Z" fill="#3a4a70"/>
<text x="309.9" y="311.7" font-size="7.6" text-anchor="middle" textLength="20.2" lengthAdjust="spacingAndGlyphs">Ch 17</text>
<text x="423.0" y="300.8" font-size="8.2" text-anchor="middle" textLength="52.4" lengthAdjust="spacingAndGlyphs">Genomic region</text>
<line x1="458.6" y1="291.4" x2="468.0" y2="291.4" stroke="#5a7090" stroke-width="0.8" />
<path d="M463.3 293.4 L465.8 296 L464.4 296 L464.4 302.8 L462.2 302.8 L462.2 296 L460.8 296Z" fill="#3a4a70"/>
<text x="463.6" y="311.7" font-size="7.6" text-anchor="middle" textLength="20.2" lengthAdjust="spacingAndGlyphs">Ch 17</text>
<line x1="42.7" y1="338.0" x2="42.7" y2="452.4" stroke="#151515" stroke-width="1.2" />
<line x1="42.2" y1="451.9" x2="109.6" y2="451.9" stroke="#151515" stroke-width="1.2" />
<line x1="40.2" y1="340.8" x2="42.7" y2="340.8" stroke="#222" stroke-width="0.8" />
<text x="37.2" y="343.5" font-size="7.9" text-anchor="end" textLength="16.1" lengthAdjust="spacingAndGlyphs">2000</text>
<line x1="40.2" y1="368.5" x2="42.7" y2="368.5" stroke="#222" stroke-width="0.8" />
<text x="37.2" y="371.2" font-size="7.9" text-anchor="end" textLength="16.1" lengthAdjust="spacingAndGlyphs">1500</text>
<line x1="40.2" y1="396.5" x2="42.7" y2="396.5" stroke="#222" stroke-width="0.8" />
<text x="37.2" y="399.2" font-size="7.9" text-anchor="end" textLength="16.1" lengthAdjust="spacingAndGlyphs">1000</text>
<line x1="40.2" y1="424.2" x2="42.7" y2="424.2" stroke="#222" stroke-width="0.8" />
<text x="37.2" y="426.9" font-size="7.9" text-anchor="end" textLength="12.2" lengthAdjust="spacingAndGlyphs">500</text>
<line x1="40.2" y1="451.9" x2="42.7" y2="451.9" stroke="#222" stroke-width="0.8" />
<text x="37.2" y="454.6" font-size="7.9" text-anchor="end">0</text>
<text x="14.8" y="395.0" font-size="8.2" text-anchor="middle" textLength="40.4" lengthAdjust="spacingAndGlyphs" transform="rotate(-90 14.8 395.0)">Cell number</text>
<rect x="47.2" y="351.9" width="4.0" height="100.0" fill="#e8827a" />
<line x1="49.2" y1="451.9" x2="49.2" y2="454.4" stroke="#222" stroke-width="0.8" />
<text x="49.2" y="465.0" font-size="7.2" text-anchor="middle" fill="#444">−</text>
<rect x="55.0" y="436.2" width="4.0" height="15.7" fill="#ee8a80" />
<line x1="57.0" y1="451.9" x2="57.0" y2="454.4" stroke="#222" stroke-width="0.8" />
<text x="57.0" y="465.0" font-size="7.2" text-anchor="middle" fill="#444">+</text>
<rect x="63.1" y="411.9" width="4.0" height="40.0" fill="#2f8a2a" />
<line x1="65.1" y1="451.9" x2="65.1" y2="454.4" stroke="#222" stroke-width="0.8" />
<text x="65.1" y="465.0" font-size="7.2" text-anchor="middle" fill="#444">−</text>
<rect x="71.1" y="428.1" width="4.0" height="23.8" fill="#2f8a2a" />
<line x1="73.1" y1="451.9" x2="73.1" y2="454.4" stroke="#222" stroke-width="0.8" />
<text x="73.1" y="465.0" font-size="7.2" text-anchor="middle" fill="#444">+</text>
<rect x="79.1" y="436.2" width="4.0" height="15.7" fill="#a8d4c4" />
<line x1="81.1" y1="451.9" x2="81.1" y2="454.4" stroke="#222" stroke-width="0.8" />
<text x="81.1" y="465.0" font-size="7.2" text-anchor="middle" fill="#444">−</text>
<rect x="87.1" y="431.5" width="4.0" height="20.4" fill="#a0d0c0" />
<line x1="89.1" y1="451.9" x2="89.1" y2="454.4" stroke="#222" stroke-width="0.8" />
<text x="89.1" y="465.0" font-size="7.2" text-anchor="middle" fill="#444">+</text>
<rect x="95.2" y="449.3" width="4.0" height="2.6" fill="#5a2a8e" />
<line x1="97.2" y1="451.9" x2="97.2" y2="454.4" stroke="#222" stroke-width="0.8" />
<text x="97.2" y="465.0" font-size="7.2" text-anchor="middle" fill="#444">−</text>
<rect x="103.2" y="448.9" width="4.0" height="3.0" fill="#5a2a8e" />
<line x1="105.2" y1="451.9" x2="105.2" y2="454.4" stroke="#222" stroke-width="0.8" />
<text x="105.2" y="465.0" font-size="7.2" text-anchor="middle" fill="#444">+</text>
<text x="25.4" y="465.2" font-size="7.8" text-anchor="middle" textLength="23" lengthAdjust="spacingAndGlyphs">BH3 m</text>
<line x1="170.4" y1="343.0" x2="170.4" y2="452.2" stroke="#151515" stroke-width="1.2" />
<line x1="169.9" y1="451.7" x2="241.9" y2="451.7" stroke="#151515" stroke-width="1.2" />
<line x1="167.9" y1="345.9" x2="170.4" y2="345.9" stroke="#222" stroke-width="0.8" />
<text x="164.8" y="348.7" font-size="8.3" text-anchor="end">1.2</text>
<line x1="167.9" y1="381.3" x2="170.4" y2="381.3" stroke="#222" stroke-width="0.8" />
<text x="164.8" y="384.1" font-size="8.3" text-anchor="end">0.8</text>
<line x1="167.9" y1="416.5" x2="170.4" y2="416.5" stroke="#222" stroke-width="0.8" />
<text x="164.8" y="419.3" font-size="8.3" text-anchor="end">0.4</text>
<line x1="167.9" y1="451.7" x2="170.4" y2="451.7" stroke="#222" stroke-width="0.8" />
<text x="164.8" y="454.5" font-size="8.3" text-anchor="end">0.0</text>
<rect x="180.5" y="397.0" width="18.7" height="54.7" fill="#ef7f78" />
<rect x="180.5" y="375.0" width="18.7" height="22.0" fill="#3f8c22" />
<rect x="180.5" y="366.2" width="18.7" height="8.8" fill="#a8d6cc" />
<rect x="180.5" y="364.9" width="18.7" height="1.3" fill="#5c2d8c" />
<rect x="213.6" y="429.7" width="18.8" height="22.0" fill="#ef7f78" />
<rect x="213.6" y="397.9" width="18.8" height="31.7" fill="#3f8c22" />
<rect x="213.6" y="369.7" width="18.8" height="28.2" fill="#a8d6cc" />
<rect x="213.6" y="365.1" width="18.8" height="4.6" fill="#5c2d8c" />
<line x1="189.9" y1="451.7" x2="189.9" y2="454.2" stroke="#222" stroke-width="0.8" />
<line x1="223.0" y1="451.7" x2="223.0" y2="454.2" stroke="#222" stroke-width="0.8" />
<line x1="186.2" y1="357.4" x2="228.0" y2="357.4" stroke="#333" stroke-width="0.7" />
<text x="207.0" y="356.8" font-size="9.5" text-anchor="middle" textLength="14" lengthAdjust="spacingAndGlyphs">****</text>
<text x="190.0" y="465.2" font-size="8.2" text-anchor="middle" textLength="27" lengthAdjust="spacingAndGlyphs">Control</text>
<text x="223.0" y="465.2" font-size="8.2" text-anchor="middle" textLength="23" lengthAdjust="spacingAndGlyphs">BH3 m</text>
<text x="148.0" y="397.8" font-size="8.2" text-anchor="middle" textLength="36" lengthAdjust="spacingAndGlyphs" transform="rotate(-90 148.0 397.8)">Proportion</text>
<line x1="306.9" y1="344.0" x2="306.9" y2="452.2" stroke="#151515" stroke-width="1.2" />
<line x1="306.4" y1="451.7" x2="404.3" y2="451.7" stroke="#151515" stroke-width="1.2" />
<line x1="304.4" y1="346.7" x2="306.9" y2="346.7" stroke="#222" stroke-width="0.8" />
<text x="302.0" y="349.6" font-size="8.5" text-anchor="end">1.2</text>
<line x1="304.4" y1="367.7" x2="306.9" y2="367.7" stroke="#222" stroke-width="0.8" />
<text x="302.0" y="370.6" font-size="8.5" text-anchor="end">0.9</text>
<line x1="304.4" y1="388.7" x2="306.9" y2="388.7" stroke="#222" stroke-width="0.8" />
<text x="302.0" y="391.6" font-size="8.5" text-anchor="end">0.6</text>
<line x1="304.4" y1="409.7" x2="306.9" y2="409.7" stroke="#222" stroke-width="0.8" />
<text x="302.0" y="412.6" font-size="8.5" text-anchor="end">0.3</text>
<line x1="304.4" y1="430.7" x2="306.9" y2="430.7" stroke="#222" stroke-width="0.8" />
<text x="302.0" y="433.6" font-size="8.5" text-anchor="end">0.0</text>
<line x1="304.4" y1="451.7" x2="306.9" y2="451.7" stroke="#222" stroke-width="0.8" />
<text x="302.0" y="454.6" font-size="8.5" text-anchor="end">−0.3</text>
<text x="280.4" y="396.6" font-size="8.4" text-anchor="middle" textLength="32" lengthAdjust="spacingAndGlyphs" transform="rotate(-90 280.4 396.6)">p53 score</text>
<path d="M314.45 449.60 L314.45 448.95 L314.45 448.29 L314.45 447.64 L314.45 446.99 L314.45 446.33 L314.45 445.68 L314.51 445.03 L314.60 444.37 L314.71 443.72 L314.85 443.07 L315.01 442.41 L315.19 441.76 L315.41 441.11 L315.65 440.45 L315.91 439.80 L316.19 439.15 L316.49 438.49 L316.80 437.84 L317.11 437.19 L317.42 436.53 L317.70 435.88 L317.96 435.23 L318.19 434.57 L318.37 433.92 L318.51 433.27 L318.58 432.61 L318.60 431.96 L318.54 431.31 L318.40 430.65 L318.20 430.00 L317.96 429.35 L317.68 428.69 L317.40 428.04 L317.12 427.39 L316.85 426.73 L316.59 426.08 L316.36 425.43 L316.15 424.77 L315.96 424.12 L315.79 423.47 L315.64 422.81 L315.51 422.16 L315.39 421.51 L315.28 420.85 L315.19 420.20 L315.10 419.55 L315.03 418.89 L314.96 418.24 L314.90 417.59 L314.85 416.93 L314.80 416.28 L314.76 415.63 L314.72 414.97 L314.68 414.32 L314.65 413.67 L314.62 413.01 L314.59 412.36 L314.57 411.71 L314.55 411.05 L314.53 410.40 L314.51 409.75 L314.49 409.09 L314.48 408.44 L314.46 407.79 L314.45 407.13 L314.45 406.48 L314.45 405.83 L314.45 405.17 L314.45 404.52 L314.45 403.87 L314.45 403.21 L314.45 402.56 L314.45 401.91 L314.45 401.25 L314.45 400.60 L314.45 399.95 L314.45 399.29 L314.45 398.64 L314.45 397.99 L314.45 397.33 L314.45 396.68 L314.45 396.03 L314.45 395.37 L314.45 394.72 L314.45 394.07 L314.45 393.41 L314.45 392.76 L314.45 392.11 L314.45 391.45 L314.45 390.80 L314.45 390.15 L314.45 389.49 L314.45 388.84 L314.45 388.19 L314.45 387.53 L314.45 386.88 L314.45 386.23 L314.45 385.57 L314.45 384.92 L314.45 384.27 L314.45 383.61 L314.45 382.96 L314.45 382.31 L314.45 381.65 L314.45 381.00 L314.45 380.35 L314.45 379.69 L314.45 379.04 L314.45 378.39 L314.45 377.73 L314.45 377.08 L314.45 376.43 L314.45 375.77 L314.45 375.12 L314.45 374.47 L314.45 373.81 L314.45 373.16 L314.45 372.51 L314.45 371.85 L314.45 371.20 L313.95 371.20 L313.95 371.85 L313.95 372.51 L313.95 373.16 L313.95 373.81 L313.95 374.47 L313.95 375.12 L313.95 375.77 L313.95 376.43 L313.95 377.08 L313.95 377.73 L313.95 378.39 L313.95 379.04 L313.95 379.69 L313.95 380.35 L313.95 381.00 L313.95 381.65 L313.95 382.31 L313.95 382.96 L313.95 383.61 L313.95 384.27 L313.95 384.92 L313.95 385.57 L313.95 386.23 L313.95 386.88 L313.95 387.53 L313.95 388.19 L313.95 388.84 L313.95 389.49 L313.95 390.15 L313.95 390.80 L313.95 391.45 L313.95 392.11 L313.95 392.76 L313.95 393.41 L313.95 394.07 L313.95 394.72 L313.95 395.37 L313.95 396.03 L313.95 396.68 L313.95 397.33 L313.95 397.99 L313.95 398.64 L313.95 399.29 L313.95 399.95 L313.95 400.60 L313.95 401.25 L313.95 401.91 L313.95 402.56 L313.95 403.21 L313.95 403.87 L313.95 404.52 L313.95 405.17 L313.95 405.83 L313.95 406.48 L313.95 407.13 L313.94 407.79 L313.92 408.44 L313.91 409.09 L313.89 409.75 L313.87 410.40 L313.85 411.05 L313.83 411.71 L313.81 412.36 L313.78 413.01 L313.75 413.67 L313.72 414.32 L313.68 414.97 L313.64 415.63 L313.60 416.28 L313.55 416.93 L313.50 417.59 L313.44 418.24 L313.37 418.89 L313.30 419.55 L313.21 420.20 L313.12 420.85 L313.01 421.51 L312.89 422.16 L312.76 422.81 L312.61 423.47 L312.44 424.12 L312.25 424.77 L312.04 425.43 L311.81 426.08 L311.55 426.73 L311.28 427.39 L311.00 428.04 L310.72 428.69 L310.44 429.35 L310.20 430.00 L310.00 430.65 L309.86 431.31 L309.80 431.96 L309.82 432.61 L309.89 433.27 L310.03 433.92 L310.21 434.57 L310.44 435.23 L310.70 435.88 L310.98 436.53 L311.29 437.19 L311.60 437.84 L311.91 438.49 L312.21 439.15 L312.49 439.80 L312.75 440.45 L312.99 441.11 L313.21 441.76 L313.39 442.41 L313.55 443.07 L313.69 443.72 L313.80 444.37 L313.89 445.03 L313.95 445.68 L313.95 446.33 L313.95 446.99 L313.95 447.64 L313.95 448.29 L313.95 448.95 L313.95 449.60Z" fill="#fff" stroke="#111" stroke-width="0.9" stroke-linejoin="round"/>
<line x1="311.48" y1="436.30" x2="316.92" y2="436.30" stroke="#111" stroke-width="0.5"/>
<line x1="310.30" y1="432.10" x2="318.10" y2="432.10" stroke="#111" stroke-width="0.5"/>
<line x1="311.78" y1="427.20" x2="316.62" y2="427.20" stroke="#111" stroke-width="0.5"/>
<path d="M326.05 448.20 L326.05 447.73 L326.09 447.27 L326.15 446.80 L326.22 446.33 L326.30 445.87 L326.40 445.40 L326.50 444.93 L326.62 444.47 L326.75 444.00 L326.90 443.53 L327.06 443.07 L327.23 442.60 L327.41 442.13 L327.61 441.67 L327.81 441.20 L328.03 440.73 L328.25 440.27 L328.47 439.80 L328.69 439.33 L328.91 438.87 L329.12 438.40 L329.32 437.93 L329.51 437.47 L329.68 437.00 L329.83 436.53 L329.96 436.07 L330.06 435.60 L330.14 435.13 L330.18 434.67 L330.20 434.20 L330.18 433.73 L330.12 433.27 L330.01 432.80 L329.88 432.33 L329.72 431.87 L329.54 431.40 L329.34 430.93 L329.14 430.47 L328.94 430.00 L328.74 429.53 L328.54 429.07 L328.35 428.60 L328.18 428.13 L328.01 427.67 L327.85 427.20 L327.71 426.73 L327.57 426.27 L327.45 425.80 L327.34 425.33 L327.23 424.87 L327.13 424.40 L327.04 423.93 L326.96 423.47 L326.89 423.00 L326.82 422.53 L326.76 422.07 L326.70 421.60 L326.64 421.13 L326.59 420.67 L326.55 420.20 L326.51 419.73 L326.47 419.27 L326.43 418.80 L326.40 418.33 L326.37 417.87 L326.34 417.40 L326.31 416.93 L326.29 416.47 L326.26 416.00 L326.24 415.53 L326.22 415.07 L326.20 414.60 L326.18 414.13 L326.17 413.67 L326.15 413.20 L326.13 412.73 L326.12 412.27 L326.11 411.80 L326.09 411.33 L326.08 410.87 L326.07 410.40 L326.06 409.93 L326.05 409.47 L326.05 409.00 L326.05 408.53 L326.05 408.07 L326.05 407.60 L326.05 407.13 L326.05 406.67 L326.05 406.20 L326.05 405.73 L326.05 405.27 L326.05 404.80 L326.05 404.33 L326.05 403.87 L326.05 403.40 L326.05 402.93 L326.05 402.47 L326.05 402.00 L326.05 401.53 L326.05 401.07 L326.05 400.60 L326.05 400.13 L326.05 399.67 L326.05 399.20 L326.05 398.73 L326.05 398.27 L326.05 397.80 L326.05 397.33 L326.05 396.87 L326.05 396.40 L326.05 395.93 L326.05 395.47 L326.05 395.00 L326.05 394.53 L326.05 394.07 L326.05 393.60 L326.05 393.13 L326.05 392.67 L326.05 392.20 L325.55 392.20 L325.55 392.67 L325.55 393.13 L325.55 393.60 L325.55 394.07 L325.55 394.53 L325.55 395.00 L325.55 395.47 L325.55 395.93 L325.55 396.40 L325.55 396.87 L325.55 397.33 L325.55 397.80 L325.55 398.27 L325.55 398.73 L325.55 399.20 L325.55 399.67 L325.55 400.13 L325.55 400.60 L325.55 401.07 L325.55 401.53 L325.55 402.00 L325.55 402.47 L325.55 402.93 L325.55 403.40 L325.55 403.87 L325.55 404.33 L325.55 404.80 L325.55 405.27 L325.55 405.73 L325.55 406.20 L325.55 406.67 L325.55 407.13 L325.55 407.60 L325.55 408.07 L325.55 408.53 L325.55 409.00 L325.55 409.47 L325.54 409.93 L325.53 410.40 L325.52 410.87 L325.51 411.33 L325.49 411.80 L325.48 412.27 L325.47 412.73 L325.45 413.20 L325.43 413.67 L325.42 414.13 L325.40 414.60 L325.38 415.07 L325.36 415.53 L325.34 416.00 L325.31 416.47 L325.29 416.93 L325.26 417.40 L325.23 417.87 L325.20 418.33 L325.17 418.80 L325.13 419.27 L325.09 419.73 L325.05 420.20 L325.01 420.67 L324.96 421.13 L324.90 421.60 L324.84 422.07 L324.78 422.53 L324.71 423.00 L324.64 423.47 L324.56 423.93 L324.47 424.40 L324.37 424.87 L324.26 425.33 L324.15 425.80 L324.03 426.27 L323.89 426.73 L323.75 427.20 L323.59 427.67 L323.42 428.13 L323.25 428.60 L323.06 429.07 L322.86 429.53 L322.66 430.00 L322.46 430.47 L322.26 430.93 L322.06 431.40 L321.88 431.87 L321.72 432.33 L321.59 432.80 L321.48 433.27 L321.42 433.73 L321.40 434.20 L321.42 434.67 L321.46 435.13 L321.54 435.60 L321.64 436.07 L321.77 436.53 L321.92 437.00 L322.09 437.47 L322.28 437.93 L322.48 438.40 L322.69 438.87 L322.91 439.33 L323.13 439.80 L323.35 440.27 L323.57 440.73 L323.79 441.20 L323.99 441.67 L324.19 442.13 L324.37 442.60 L324.54 443.07 L324.70 443.53 L324.85 444.00 L324.98 444.47 L325.10 444.93 L325.20 445.40 L325.30 445.87 L325.38 446.33 L325.45 446.80 L325.51 447.27 L325.55 447.73 L325.55 448.20Z" fill="#62baea" stroke="#111" stroke-width="0.9" stroke-linejoin="round"/>
<line x1="322.98" y1="438.40" x2="328.62" y2="438.40" stroke="#111" stroke-width="0.5"/>
<line x1="321.90" y1="434.20" x2="329.70" y2="434.20" stroke="#111" stroke-width="0.5"/>
<line x1="323.36" y1="429.30" x2="328.24" y2="429.30" stroke="#111" stroke-width="0.5"/>
<path d="M337.65 449.60 L337.65 449.16 L337.65 448.72 L337.65 448.29 L337.65 447.85 L337.65 447.41 L337.65 446.97 L337.69 446.54 L337.75 446.10 L337.82 445.66 L337.89 445.22 L337.98 444.79 L338.07 444.35 L338.18 443.91 L338.30 443.47 L338.43 443.04 L338.58 442.60 L338.73 442.16 L338.90 441.72 L339.07 441.29 L339.26 440.85 L339.45 440.41 L339.65 439.97 L339.86 439.54 L340.07 439.10 L340.28 438.66 L340.48 438.22 L340.68 437.79 L340.87 437.35 L341.05 436.91 L341.22 436.47 L341.37 436.04 L341.50 435.60 L341.61 435.16 L341.70 434.72 L341.76 434.29 L341.79 433.85 L341.80 433.41 L341.77 432.97 L341.71 432.54 L341.61 432.10 L341.49 431.66 L341.34 431.22 L341.17 430.79 L340.99 430.35 L340.80 429.91 L340.61 429.47 L340.42 429.04 L340.24 428.60 L340.06 428.16 L339.89 427.72 L339.72 427.29 L339.57 426.85 L339.42 426.41 L339.29 425.97 L339.17 425.54 L339.05 425.10 L338.94 424.66 L338.84 424.22 L338.75 423.79 L338.67 423.35 L338.59 422.91 L338.52 422.47 L338.45 422.04 L338.39 421.60 L338.33 421.16 L338.28 420.72 L338.23 420.29 L338.18 419.85 L338.14 419.41 L338.10 418.97 L338.07 418.54 L338.03 418.10 L338.00 417.66 L337.97 417.22 L337.94 416.79 L337.92 416.35 L337.89 415.91 L337.87 415.47 L337.85 415.04 L337.83 414.60 L337.81 414.16 L337.79 413.73 L337.78 413.29 L337.76 412.85 L337.75 412.41 L337.73 411.97 L337.72 411.54 L337.71 411.10 L337.70 410.66 L337.68 410.22 L337.67 409.79 L337.66 409.35 L337.65 408.91 L337.65 408.47 L337.65 408.04 L337.65 407.60 L337.65 407.16 L337.65 406.72 L337.65 406.29 L337.65 405.85 L337.65 405.41 L337.65 404.98 L337.65 404.54 L337.65 404.10 L337.65 403.66 L337.65 403.22 L337.65 402.79 L337.65 402.35 L337.65 401.91 L337.65 401.47 L337.65 401.04 L337.65 400.60 L337.65 400.16 L337.65 399.72 L337.65 399.29 L337.65 398.85 L337.65 398.41 L337.65 397.97 L337.65 397.54 L337.65 397.10 L337.15 397.10 L337.15 397.54 L337.15 397.97 L337.15 398.41 L337.15 398.85 L337.15 399.29 L337.15 399.72 L337.15 400.16 L337.15 400.60 L337.15 401.04 L337.15 401.47 L337.15 401.91 L337.15 402.35 L337.15 402.79 L337.15 403.22 L337.15 403.66 L337.15 404.10 L337.15 404.54 L337.15 404.98 L337.15 405.41 L337.15 405.85 L337.15 406.29 L337.15 406.72 L337.15 407.16 L337.15 407.60 L337.15 408.04 L337.15 408.47 L337.15 408.91 L337.14 409.35 L337.13 409.79 L337.12 410.22 L337.10 410.66 L337.09 411.10 L337.08 411.54 L337.07 411.97 L337.05 412.41 L337.04 412.85 L337.02 413.29 L337.01 413.73 L336.99 414.16 L336.97 414.60 L336.95 415.04 L336.93 415.47 L336.91 415.91 L336.88 416.35 L336.86 416.79 L336.83 417.22 L336.80 417.66 L336.77 418.10 L336.73 418.54 L336.70 418.97 L336.66 419.41 L336.62 419.85 L336.57 420.29 L336.52 420.72 L336.47 421.16 L336.41 421.60 L336.35 422.04 L336.28 422.47 L336.21 422.91 L336.13 423.35 L336.05 423.79 L335.96 424.22 L335.86 424.66 L335.75 425.10 L335.63 425.54 L335.51 425.97 L335.38 426.41 L335.23 426.85 L335.08 427.29 L334.91 427.72 L334.74 428.16 L334.56 428.60 L334.38 429.04 L334.19 429.47 L334.00 429.91 L333.81 430.35 L333.63 430.79 L333.46 431.22 L333.31 431.66 L333.19 432.10 L333.09 432.54 L333.03 432.97 L333.00 433.41 L333.01 433.85 L333.04 434.29 L333.10 434.72 L333.19 435.16 L333.30 435.60 L333.43 436.04 L333.58 436.47 L333.75 436.91 L333.93 437.35 L334.12 437.79 L334.32 438.22 L334.52 438.66 L334.73 439.10 L334.94 439.54 L335.15 439.97 L335.35 440.41 L335.54 440.85 L335.73 441.29 L335.90 441.72 L336.07 442.16 L336.22 442.60 L336.37 443.04 L336.50 443.47 L336.62 443.91 L336.73 444.35 L336.82 444.79 L336.91 445.22 L336.98 445.66 L337.05 446.10 L337.11 446.54 L337.15 446.97 L337.15 447.41 L337.15 447.85 L337.15 448.29 L337.15 448.72 L337.15 449.16 L337.15 449.60Z" fill="#fff" stroke="#111" stroke-width="0.9" stroke-linejoin="round"/>
<line x1="334.62" y1="437.70" x2="340.18" y2="437.70" stroke="#111" stroke-width="0.5"/>
<line x1="333.50" y1="433.50" x2="341.30" y2="433.50" stroke="#111" stroke-width="0.5"/>
<line x1="335.06" y1="428.60" x2="339.74" y2="428.60" stroke="#111" stroke-width="0.5"/>
<path d="M349.76 448.20 L349.81 447.82 L349.86 447.44 L349.92 447.06 L349.98 446.68 L350.05 446.30 L350.13 445.93 L350.22 445.55 L350.32 445.17 L350.43 444.79 L350.54 444.41 L350.67 444.03 L350.80 443.65 L350.94 443.27 L351.09 442.89 L351.25 442.51 L351.41 442.13 L351.58 441.75 L351.75 441.38 L351.93 441.00 L352.11 440.62 L352.29 440.24 L352.47 439.86 L352.65 439.48 L352.82 439.10 L352.99 438.72 L353.14 438.34 L353.29 437.96 L353.42 437.58 L353.54 437.20 L353.65 436.82 L353.74 436.45 L353.81 436.07 L353.86 435.69 L353.89 435.31 L353.90 434.93 L353.89 434.55 L353.85 434.17 L353.78 433.79 L353.69 433.41 L353.58 433.03 L353.45 432.65 L353.31 432.27 L353.15 431.90 L352.99 431.52 L352.83 431.14 L352.66 430.76 L352.50 430.38 L352.34 430.00 L352.18 429.62 L352.03 429.24 L351.89 428.86 L351.75 428.48 L351.62 428.10 L351.50 427.72 L351.38 427.35 L351.27 426.97 L351.17 426.59 L351.08 426.21 L350.99 425.83 L350.91 425.45 L350.83 425.07 L350.76 424.69 L350.69 424.31 L350.63 423.93 L350.57 423.55 L350.51 423.18 L350.46 422.80 L350.41 422.42 L350.37 422.04 L350.33 421.66 L350.29 421.28 L350.25 420.90 L350.21 420.52 L350.18 420.14 L350.15 419.76 L350.12 419.38 L350.10 419.00 L350.07 418.62 L350.05 418.25 L350.02 417.87 L350.00 417.49 L349.98 417.11 L349.96 416.73 L349.95 416.35 L349.93 415.97 L349.91 415.59 L349.90 415.21 L349.88 414.83 L349.87 414.45 L349.86 414.07 L349.84 413.70 L349.83 413.32 L349.82 412.94 L349.81 412.56 L349.80 412.18 L349.79 411.80 L349.78 411.42 L349.77 411.04 L349.76 410.66 L349.75 410.28 L349.75 409.90 L349.75 409.52 L349.75 409.15 L349.75 408.77 L349.75 408.39 L349.75 408.01 L349.75 407.63 L349.75 407.25 L349.75 406.87 L349.75 406.49 L349.75 406.11 L349.75 405.73 L349.75 405.35 L349.75 404.97 L349.75 404.60 L349.75 404.22 L349.75 403.84 L349.75 403.46 L349.75 403.08 L349.75 402.70 L349.25 402.70 L349.25 403.08 L349.25 403.46 L349.25 403.84 L349.25 404.22 L349.25 404.60 L349.25 404.97 L349.25 405.35 L349.25 405.73 L349.25 406.11 L349.25 406.49 L349.25 406.87 L349.25 407.25 L349.25 407.63 L349.25 408.01 L349.25 408.39 L349.25 408.77 L349.25 409.15 L349.25 409.52 L349.25 409.90 L349.25 410.28 L349.24 410.66 L349.23 411.04 L349.22 411.42 L349.21 411.80 L349.20 412.18 L349.19 412.56 L349.18 412.94 L349.17 413.32 L349.16 413.70 L349.14 414.07 L349.13 414.45 L349.12 414.83 L349.10 415.21 L349.09 415.59 L349.07 415.97 L349.05 416.35 L349.04 416.73 L349.02 417.11 L349.00 417.49 L348.98 417.87 L348.95 418.25 L348.93 418.62 L348.90 419.00 L348.88 419.38 L348.85 419.76 L348.82 420.14 L348.79 420.52 L348.75 420.90 L348.71 421.28 L348.67 421.66 L348.63 422.04 L348.59 422.42 L348.54 422.80 L348.49 423.18 L348.43 423.55 L348.37 423.93 L348.31 424.31 L348.24 424.69 L348.17 425.07 L348.09 425.45 L348.01 425.83 L347.92 426.21 L347.83 426.59 L347.73 426.97 L347.62 427.35 L347.50 427.72 L347.38 428.10 L347.25 428.48 L347.11 428.86 L346.97 429.24 L346.82 429.62 L346.66 430.00 L346.50 430.38 L346.34 430.76 L346.17 431.14 L346.01 431.52 L345.85 431.90 L345.69 432.27 L345.55 432.65 L345.42 433.03 L345.31 433.41 L345.22 433.79 L345.15 434.17 L345.11 434.55 L345.10 434.93 L345.11 435.31 L345.14 435.69 L345.19 436.07 L345.26 436.45 L345.35 436.82 L345.46 437.20 L345.58 437.58 L345.71 437.96 L345.86 438.34 L346.01 438.72 L346.18 439.10 L346.35 439.48 L346.53 439.86 L346.71 440.24 L346.89 440.62 L347.07 441.00 L347.25 441.38 L347.42 441.75 L347.59 442.13 L347.75 442.51 L347.91 442.89 L348.06 443.27 L348.20 443.65 L348.33 444.03 L348.46 444.41 L348.57 444.79 L348.68 445.17 L348.78 445.55 L348.87 445.93 L348.95 446.30 L349.02 446.68 L349.08 447.06 L349.14 447.44 L349.19 447.82 L349.24 448.20Z" fill="#62baea" stroke="#111" stroke-width="0.9" stroke-linejoin="round"/>
<line x1="346.68" y1="439.10" x2="352.32" y2="439.10" stroke="#111" stroke-width="0.5"/>
<line x1="345.60" y1="434.90" x2="353.40" y2="434.90" stroke="#111" stroke-width="0.5"/>
<line x1="347.16" y1="430.00" x2="351.84" y2="430.00" stroke="#111" stroke-width="0.5"/>
<path d="M361.15 447.50 L361.21 447.13 L361.27 446.75 L361.34 446.38 L361.42 446.01 L361.50 445.63 L361.59 445.26 L361.70 444.89 L361.81 444.51 L361.93 444.14 L362.06 443.77 L362.19 443.39 L362.34 443.02 L362.49 442.65 L362.65 442.27 L362.81 441.90 L362.98 441.53 L363.16 441.15 L363.34 440.78 L363.51 440.41 L363.69 440.03 L363.87 439.66 L364.04 439.29 L364.20 438.91 L364.36 438.54 L364.51 438.17 L364.65 437.79 L364.78 437.42 L364.89 437.05 L364.98 436.67 L365.06 436.30 L365.13 435.93 L365.17 435.55 L365.19 435.18 L365.20 434.81 L365.18 434.43 L365.13 434.06 L365.06 433.69 L364.96 433.31 L364.85 432.94 L364.72 432.57 L364.57 432.19 L364.42 431.82 L364.26 431.45 L364.10 431.07 L363.94 430.70 L363.78 430.33 L363.62 429.95 L363.46 429.58 L363.32 429.21 L363.18 428.83 L363.04 428.46 L362.91 428.09 L362.79 427.71 L362.68 427.34 L362.57 426.97 L362.47 426.59 L362.38 426.22 L362.29 425.85 L362.21 425.47 L362.13 425.10 L362.06 424.73 L362.00 424.35 L361.93 423.98 L361.87 423.61 L361.82 423.23 L361.77 422.86 L361.72 422.49 L361.68 422.11 L361.63 421.74 L361.59 421.37 L361.56 420.99 L361.52 420.62 L361.49 420.25 L361.46 419.87 L361.43 419.50 L361.40 419.13 L361.38 418.75 L361.35 418.38 L361.33 418.01 L361.31 417.63 L361.29 417.26 L361.27 416.89 L361.25 416.51 L361.24 416.14 L361.22 415.77 L361.20 415.39 L361.19 415.02 L361.18 414.65 L361.16 414.27 L361.15 413.90 L361.14 413.53 L361.13 413.15 L361.12 412.78 L361.10 412.41 L361.09 412.03 L361.09 411.66 L361.08 411.29 L361.07 410.91 L361.06 410.54 L361.05 410.17 L361.05 409.79 L361.05 409.42 L361.05 409.05 L361.05 408.67 L361.05 408.30 L361.05 407.93 L361.05 407.55 L361.05 407.18 L361.05 406.81 L361.05 406.43 L361.05 406.06 L361.05 405.69 L361.05 405.31 L361.05 404.94 L361.05 404.57 L361.05 404.19 L361.05 403.82 L361.05 403.45 L361.05 403.07 L361.05 402.70 L360.55 402.70 L360.55 403.07 L360.55 403.45 L360.55 403.82 L360.55 404.19 L360.55 404.57 L360.55 404.94 L360.55 405.31 L360.55 405.69 L360.55 406.06 L360.55 406.43 L360.55 406.81 L360.55 407.18 L360.55 407.55 L360.55 407.93 L360.55 408.30 L360.55 408.67 L360.55 409.05 L360.55 409.42 L360.55 409.79 L360.55 410.17 L360.54 410.54 L360.53 410.91 L360.52 411.29 L360.51 411.66 L360.51 412.03 L360.50 412.41 L360.48 412.78 L360.47 413.15 L360.46 413.53 L360.45 413.90 L360.44 414.27 L360.42 414.65 L360.41 415.02 L360.40 415.39 L360.38 415.77 L360.36 416.14 L360.35 416.51 L360.33 416.89 L360.31 417.26 L360.29 417.63 L360.27 418.01 L360.25 418.38 L360.22 418.75 L360.20 419.13 L360.17 419.50 L360.14 419.87 L360.11 420.25 L360.08 420.62 L360.04 420.99 L360.01 421.37 L359.97 421.74 L359.92 422.11 L359.88 422.49 L359.83 422.86 L359.78 423.23 L359.73 423.61 L359.67 423.98 L359.60 424.35 L359.54 424.73 L359.47 425.10 L359.39 425.47 L359.31 425.85 L359.22 426.22 L359.13 426.59 L359.03 426.97 L358.92 427.34 L358.81 427.71 L358.69 428.09 L358.56 428.46 L358.42 428.83 L358.28 429.21 L358.14 429.58 L357.98 429.95 L357.82 430.33 L357.66 430.70 L357.50 431.07 L357.34 431.45 L357.18 431.82 L357.03 432.19 L356.88 432.57 L356.75 432.94 L356.64 433.31 L356.54 433.69 L356.47 434.06 L356.42 434.43 L356.40 434.81 L356.41 435.18 L356.43 435.55 L356.47 435.93 L356.54 436.30 L356.62 436.67 L356.71 437.05 L356.82 437.42 L356.95 437.79 L357.09 438.17 L357.24 438.54 L357.40 438.91 L357.56 439.29 L357.73 439.66 L357.91 440.03 L358.09 440.41 L358.26 440.78 L358.44 441.15 L358.62 441.53 L358.79 441.90 L358.95 442.27 L359.11 442.65 L359.26 443.02 L359.41 443.39 L359.54 443.77 L359.67 444.14 L359.79 444.51 L359.90 444.89 L360.01 445.26 L360.10 445.63 L360.18 446.01 L360.26 446.38 L360.33 446.75 L360.39 447.13 L360.45 447.50Z" fill="#fff" stroke="#e03a2a" stroke-width="0.9" stroke-linejoin="round"/>
<line x1="358.06" y1="439.10" x2="363.54" y2="439.10" stroke="#e03a2a" stroke-width="0.5"/>
<line x1="356.90" y1="434.90" x2="364.70" y2="434.90" stroke="#e03a2a" stroke-width="0.5"/>
<line x1="358.48" y1="430.00" x2="363.12" y2="430.00" stroke="#e03a2a" stroke-width="0.5"/>
<path d="M372.65 449.60 L372.65 449.12 L372.65 448.64 L372.67 448.16 L372.72 447.69 L372.79 447.21 L372.87 446.73 L372.96 446.25 L373.07 445.77 L373.19 445.30 L373.32 444.82 L373.46 444.34 L373.62 443.86 L373.80 443.38 L373.98 442.90 L374.18 442.43 L374.39 441.95 L374.61 441.47 L374.84 440.99 L375.06 440.51 L375.29 440.03 L375.51 439.56 L375.73 439.08 L375.94 438.60 L376.13 438.12 L376.30 437.64 L376.45 437.16 L376.58 436.69 L376.68 436.21 L376.75 435.73 L376.79 435.25 L376.80 434.77 L376.76 434.29 L376.69 433.81 L376.57 433.34 L376.42 432.86 L376.25 432.38 L376.06 431.90 L375.85 431.42 L375.64 430.94 L375.44 430.47 L375.23 429.99 L375.04 429.51 L374.85 429.03 L374.67 428.55 L374.51 428.07 L374.36 427.60 L374.22 427.12 L374.09 426.64 L373.97 426.16 L373.86 425.68 L373.75 425.20 L373.66 424.73 L373.58 424.25 L373.50 423.77 L373.43 423.29 L373.36 422.81 L373.30 422.33 L373.25 421.86 L373.20 421.38 L373.15 420.90 L373.11 420.42 L373.07 419.94 L373.03 419.46 L372.99 418.99 L372.96 418.51 L372.93 418.03 L372.91 417.55 L372.88 417.07 L372.86 416.59 L372.83 416.12 L372.81 415.64 L372.79 415.16 L372.78 414.68 L372.76 414.20 L372.74 413.72 L372.73 413.25 L372.71 412.77 L372.70 412.29 L372.69 411.81 L372.68 411.33 L372.67 410.86 L372.66 410.38 L372.65 409.90 L372.65 409.42 L372.65 408.94 L372.65 408.46 L372.65 407.99 L372.65 407.51 L372.65 407.03 L372.65 406.55 L372.65 406.07 L372.65 405.59 L372.65 405.12 L372.65 404.64 L372.65 404.16 L372.65 403.68 L372.65 403.20 L372.65 402.72 L372.65 402.25 L372.65 401.77 L372.65 401.29 L372.65 400.81 L372.65 400.33 L372.65 399.85 L372.65 399.38 L372.65 398.90 L372.65 398.42 L372.65 397.94 L372.65 397.46 L372.65 396.98 L372.65 396.50 L372.65 396.03 L372.65 395.55 L372.65 395.07 L372.65 394.59 L372.65 394.11 L372.65 393.63 L372.65 393.16 L372.65 392.68 L372.65 392.20 L372.15 392.20 L372.15 392.68 L372.15 393.16 L372.15 393.63 L372.15 394.11 L372.15 394.59 L372.15 395.07 L372.15 395.55 L372.15 396.03 L372.15 396.50 L372.15 396.98 L372.15 397.46 L372.15 397.94 L372.15 398.42 L372.15 398.90 L372.15 399.38 L372.15 399.85 L372.15 400.33 L372.15 400.81 L372.15 401.29 L372.15 401.77 L372.15 402.25 L372.15 402.72 L372.15 403.20 L372.15 403.68 L372.15 404.16 L372.15 404.64 L372.15 405.12 L372.15 405.59 L372.15 406.07 L372.15 406.55 L372.15 407.03 L372.15 407.51 L372.15 407.99 L372.15 408.46 L372.15 408.94 L372.15 409.42 L372.15 409.90 L372.14 410.38 L372.13 410.86 L372.12 411.33 L372.11 411.81 L372.10 412.29 L372.09 412.77 L372.07 413.25 L372.06 413.72 L372.04 414.20 L372.02 414.68 L372.01 415.16 L371.99 415.64 L371.97 416.12 L371.94 416.59 L371.92 417.07 L371.89 417.55 L371.87 418.03 L371.84 418.51 L371.81 418.99 L371.77 419.46 L371.73 419.94 L371.69 420.42 L371.65 420.90 L371.60 421.38 L371.55 421.86 L371.50 422.33 L371.44 422.81 L371.37 423.29 L371.30 423.77 L371.22 424.25 L371.14 424.73 L371.05 425.20 L370.94 425.68 L370.83 426.16 L370.71 426.64 L370.58 427.12 L370.44 427.60 L370.29 428.07 L370.13 428.55 L369.95 429.03 L369.76 429.51 L369.57 429.99 L369.36 430.47 L369.16 430.94 L368.95 431.42 L368.74 431.90 L368.55 432.38 L368.38 432.86 L368.23 433.34 L368.11 433.81 L368.04 434.29 L368.00 434.77 L368.01 435.25 L368.05 435.73 L368.12 436.21 L368.22 436.69 L368.35 437.16 L368.50 437.64 L368.67 438.12 L368.86 438.60 L369.07 439.08 L369.29 439.56 L369.51 440.03 L369.74 440.51 L369.96 440.99 L370.19 441.47 L370.41 441.95 L370.62 442.43 L370.82 442.90 L371.00 443.38 L371.18 443.86 L371.34 444.34 L371.48 444.82 L371.61 445.30 L371.73 445.77 L371.84 446.25 L371.93 446.73 L372.01 447.21 L372.08 447.69 L372.13 448.16 L372.15 448.64 L372.15 449.12 L372.15 449.60Z" fill="#fff" stroke="#e03a2a" stroke-width="0.9" stroke-linejoin="round"/>
<line x1="369.57" y1="439.10" x2="375.23" y2="439.10" stroke="#e03a2a" stroke-width="0.5"/>
<line x1="368.50" y1="434.90" x2="376.30" y2="434.90" stroke="#e03a2a" stroke-width="0.5"/>
<line x1="370.07" y1="430.00" x2="374.73" y2="430.00" stroke="#e03a2a" stroke-width="0.5"/>
<path d="M384.45 446.10 L384.45 445.81 L384.45 445.53 L384.48 445.24 L384.52 444.96 L384.55 444.67 L384.60 444.38 L384.64 444.10 L384.69 443.81 L384.75 443.53 L384.81 443.24 L384.87 442.96 L384.94 442.67 L385.01 442.38 L385.09 442.10 L385.18 441.81 L385.27 441.53 L385.36 441.24 L385.46 440.95 L385.56 440.67 L385.67 440.38 L385.79 440.10 L385.90 439.81 L386.03 439.53 L386.15 439.24 L386.28 438.95 L386.41 438.67 L386.55 438.38 L386.68 438.10 L386.82 437.81 L386.95 437.52 L387.09 437.24 L387.22 436.95 L387.35 436.67 L387.48 436.38 L387.61 436.10 L387.73 435.81 L387.85 435.52 L387.96 435.24 L388.06 434.95 L388.16 434.67 L388.25 434.38 L388.33 434.09 L388.40 433.81 L388.46 433.52 L388.51 433.24 L388.55 432.95 L388.58 432.67 L388.59 432.38 L388.60 432.09 L388.59 431.81 L388.57 431.52 L388.53 431.24 L388.47 430.95 L388.41 430.66 L388.32 430.38 L388.23 430.09 L388.13 429.81 L388.03 429.52 L387.91 429.24 L387.79 428.95 L387.67 428.66 L387.55 428.38 L387.42 428.09 L387.30 427.81 L387.17 427.52 L387.05 427.24 L386.93 426.95 L386.82 426.66 L386.71 426.38 L386.60 426.09 L386.49 425.81 L386.39 425.52 L386.30 425.23 L386.20 424.95 L386.12 424.66 L386.03 424.38 L385.95 424.09 L385.88 423.81 L385.80 423.52 L385.74 423.23 L385.67 422.95 L385.61 422.66 L385.55 422.38 L385.49 422.09 L385.44 421.80 L385.39 421.52 L385.34 421.23 L385.30 420.95 L385.25 420.66 L385.21 420.38 L385.17 420.09 L385.14 419.80 L385.10 419.52 L385.07 419.23 L385.03 418.95 L385.00 418.66 L384.98 418.37 L384.95 418.09 L384.92 417.80 L384.90 417.52 L384.87 417.23 L384.85 416.94 L384.83 416.66 L384.81 416.37 L384.79 416.09 L384.77 415.80 L384.75 415.52 L384.73 415.23 L384.72 414.94 L384.70 414.66 L384.69 414.37 L384.67 414.09 L384.66 413.80 L384.64 413.51 L384.63 413.23 L384.62 412.94 L384.61 412.66 L384.60 412.37 L384.58 412.09 L384.57 411.80 L383.83 411.80 L383.82 412.09 L383.80 412.37 L383.79 412.66 L383.78 412.94 L383.77 413.23 L383.76 413.51 L383.74 413.80 L383.73 414.09 L383.71 414.37 L383.70 414.66 L383.68 414.94 L383.67 415.23 L383.65 415.52 L383.63 415.80 L383.61 416.09 L383.59 416.37 L383.57 416.66 L383.55 416.94 L383.53 417.23 L383.50 417.52 L383.48 417.80 L383.45 418.09 L383.42 418.37 L383.40 418.66 L383.37 418.95 L383.33 419.23 L383.30 419.52 L383.26 419.80 L383.23 420.09 L383.19 420.38 L383.15 420.66 L383.10 420.95 L383.06 421.23 L383.01 421.52 L382.96 421.80 L382.91 422.09 L382.85 422.38 L382.79 422.66 L382.73 422.95 L382.66 423.23 L382.60 423.52 L382.52 423.81 L382.45 424.09 L382.37 424.38 L382.28 424.66 L382.20 424.95 L382.10 425.23 L382.01 425.52 L381.91 425.81 L381.80 426.09 L381.69 426.38 L381.58 426.66 L381.47 426.95 L381.35 427.24 L381.23 427.52 L381.10 427.81 L380.98 428.09 L380.85 428.38 L380.73 428.66 L380.61 428.95 L380.49 429.24 L380.37 429.52 L380.27 429.81 L380.17 430.09 L380.08 430.38 L379.99 430.66 L379.93 430.95 L379.87 431.24 L379.83 431.52 L379.81 431.81 L379.80 432.09 L379.81 432.38 L379.82 432.67 L379.85 432.95 L379.89 433.24 L379.94 433.52 L380.00 433.81 L380.07 434.09 L380.15 434.38 L380.24 434.67 L380.34 434.95 L380.44 435.24 L380.55 435.52 L380.67 435.81 L380.79 436.10 L380.92 436.38 L381.05 436.67 L381.18 436.95 L381.31 437.24 L381.45 437.52 L381.58 437.81 L381.72 438.10 L381.85 438.38 L381.99 438.67 L382.12 438.95 L382.25 439.24 L382.37 439.53 L382.50 439.81 L382.61 440.10 L382.73 440.38 L382.84 440.67 L382.94 440.95 L383.04 441.24 L383.13 441.53 L383.22 441.81 L383.31 442.10 L383.39 442.38 L383.46 442.67 L383.53 442.96 L383.59 443.24 L383.65 443.53 L383.71 443.81 L383.76 444.10 L383.80 444.38 L383.85 444.67 L383.88 444.96 L383.92 445.24 L383.95 445.53 L383.95 445.81 L383.95 446.10Z" fill="#fff" stroke="#111" stroke-width="0.9" stroke-linejoin="round"/>
<line x1="381.42" y1="436.30" x2="386.98" y2="436.30" stroke="#111" stroke-width="0.5"/>
<line x1="380.30" y1="432.10" x2="388.10" y2="432.10" stroke="#111" stroke-width="0.5"/>
<line x1="381.85" y1="427.20" x2="386.55" y2="427.20" stroke="#111" stroke-width="0.5"/>
<path d="M396.05 449.60 L396.05 449.20 L396.05 448.79 L396.05 448.39 L396.05 447.99 L396.05 447.59 L396.10 447.19 L396.15 446.78 L396.21 446.38 L396.28 445.98 L396.36 445.57 L396.45 445.17 L396.54 444.77 L396.65 444.37 L396.76 443.96 L396.89 443.56 L397.02 443.16 L397.17 442.76 L397.32 442.36 L397.49 441.95 L397.66 441.55 L397.84 441.15 L398.02 440.75 L398.21 440.34 L398.40 439.94 L398.59 439.54 L398.78 439.13 L398.97 438.73 L399.15 438.33 L399.33 437.93 L399.49 437.52 L399.64 437.12 L399.78 436.72 L399.90 436.32 L400.00 435.91 L400.08 435.51 L400.14 435.11 L400.18 434.71 L400.20 434.31 L400.19 433.90 L400.15 433.50 L400.08 433.10 L399.99 432.69 L399.87 432.29 L399.73 431.89 L399.57 431.49 L399.41 431.08 L399.23 430.68 L399.06 430.28 L398.88 429.88 L398.71 429.47 L398.54 429.07 L398.38 428.67 L398.23 428.27 L398.08 427.87 L397.94 427.46 L397.81 427.06 L397.69 426.66 L397.57 426.25 L397.46 425.85 L397.36 425.45 L397.27 425.05 L397.18 424.64 L397.10 424.24 L397.03 423.84 L396.96 423.44 L396.89 423.03 L396.83 422.63 L396.78 422.23 L396.73 421.83 L396.68 421.43 L396.63 421.02 L396.59 420.62 L396.55 420.22 L396.51 419.81 L396.48 419.41 L396.45 419.01 L396.42 418.61 L396.39 418.20 L396.36 417.80 L396.34 417.40 L396.31 417.00 L396.29 416.59 L396.27 416.19 L396.25 415.79 L396.23 415.39 L396.22 414.99 L396.20 414.58 L396.18 414.18 L396.17 413.78 L396.16 413.38 L396.14 412.97 L396.13 412.57 L396.12 412.17 L396.11 411.76 L396.10 411.36 L396.09 410.96 L396.08 410.56 L396.07 410.15 L396.06 409.75 L396.05 409.35 L396.05 408.95 L396.05 408.55 L396.05 408.14 L396.05 407.74 L396.05 407.34 L396.05 406.94 L396.05 406.53 L396.05 406.13 L396.05 405.73 L396.05 405.32 L396.05 404.92 L396.05 404.52 L396.05 404.12 L396.05 403.71 L396.05 403.31 L396.05 402.91 L396.05 402.51 L396.05 402.11 L396.05 401.70 L396.05 401.30 L395.55 401.30 L395.55 401.70 L395.55 402.11 L395.55 402.51 L395.55 402.91 L395.55 403.31 L395.55 403.71 L395.55 404.12 L395.55 404.52 L395.55 404.92 L395.55 405.32 L395.55 405.73 L395.55 406.13 L395.55 406.53 L395.55 406.94 L395.55 407.34 L395.55 407.74 L395.55 408.14 L395.55 408.55 L395.55 408.95 L395.55 409.35 L395.54 409.75 L395.53 410.15 L395.52 410.56 L395.51 410.96 L395.50 411.36 L395.49 411.76 L395.48 412.17 L395.47 412.57 L395.46 412.97 L395.44 413.38 L395.43 413.78 L395.42 414.18 L395.40 414.58 L395.38 414.99 L395.37 415.39 L395.35 415.79 L395.33 416.19 L395.31 416.59 L395.29 417.00 L395.26 417.40 L395.24 417.80 L395.21 418.20 L395.18 418.61 L395.15 419.01 L395.12 419.41 L395.09 419.81 L395.05 420.22 L395.01 420.62 L394.97 421.02 L394.92 421.43 L394.87 421.83 L394.82 422.23 L394.77 422.63 L394.71 423.03 L394.64 423.44 L394.57 423.84 L394.50 424.24 L394.42 424.64 L394.33 425.05 L394.24 425.45 L394.14 425.85 L394.03 426.25 L393.91 426.66 L393.79 427.06 L393.66 427.46 L393.52 427.87 L393.37 428.27 L393.22 428.67 L393.06 429.07 L392.89 429.47 L392.72 429.88 L392.54 430.28 L392.37 430.68 L392.19 431.08 L392.03 431.49 L391.87 431.89 L391.73 432.29 L391.61 432.69 L391.52 433.10 L391.45 433.50 L391.41 433.90 L391.40 434.31 L391.42 434.71 L391.46 435.11 L391.52 435.51 L391.60 435.91 L391.70 436.32 L391.82 436.72 L391.96 437.12 L392.11 437.52 L392.27 437.93 L392.45 438.33 L392.63 438.73 L392.82 439.13 L393.01 439.54 L393.20 439.94 L393.39 440.34 L393.58 440.75 L393.76 441.15 L393.94 441.55 L394.11 441.95 L394.28 442.36 L394.43 442.76 L394.58 443.16 L394.71 443.56 L394.84 443.96 L394.95 444.37 L395.06 444.77 L395.15 445.17 L395.24 445.57 L395.32 445.98 L395.39 446.38 L395.45 446.78 L395.50 447.19 L395.55 447.59 L395.55 447.99 L395.55 448.39 L395.55 448.79 L395.55 449.20 L395.55 449.60Z" fill="#fff" stroke="#111" stroke-width="0.9" stroke-linejoin="round"/>
<line x1="392.95" y1="438.40" x2="398.65" y2="438.40" stroke="#111" stroke-width="0.5"/>
<line x1="391.90" y1="434.20" x2="399.70" y2="434.20" stroke="#111" stroke-width="0.5"/>
<line x1="393.39" y1="429.30" x2="398.21" y2="429.30" stroke="#111" stroke-width="0.5"/>
<line x1="314.2" y1="451.7" x2="314.2" y2="454.2" stroke="#222" stroke-width="0.8" />
<line x1="325.8" y1="451.7" x2="325.8" y2="454.2" stroke="#222" stroke-width="0.8" />
<line x1="337.4" y1="451.7" x2="337.4" y2="454.2" stroke="#222" stroke-width="0.8" />
<line x1="349.5" y1="451.7" x2="349.5" y2="454.2" stroke="#222" stroke-width="0.8" />
<line x1="360.8" y1="451.7" x2="360.8" y2="454.2" stroke="#222" stroke-width="0.8" />
<line x1="372.4" y1="451.7" x2="372.4" y2="454.2" stroke="#222" stroke-width="0.8" />
<line x1="384.2" y1="451.7" x2="384.2" y2="454.2" stroke="#222" stroke-width="0.8" />
<line x1="395.8" y1="451.7" x2="395.8" y2="454.2" stroke="#222" stroke-width="0.8" />
<text x="317.8" y="459.8" font-size="8.3" text-anchor="end" fill="#333" transform="rotate(-45 317.8 459.8)">0</text>
<text x="329.4" y="459.8" font-size="8.3" text-anchor="end" fill="#333" transform="rotate(-45 329.4 459.8)">0 BH3 m</text>
<text x="341.0" y="459.8" font-size="8.3" text-anchor="end" fill="#333" transform="rotate(-45 341.0 459.8)">1</text>
<text x="353.1" y="459.8" font-size="8.3" text-anchor="end" fill="#333" transform="rotate(-45 353.1 459.8)">1 BH3 m</text>
<text x="364.4" y="459.8" font-size="8.3" text-anchor="end" fill="#333" transform="rotate(-45 364.4 459.8)">2</text>
<text x="376.0" y="459.8" font-size="8.3" text-anchor="end" fill="#333" transform="rotate(-45 376.0 459.8)">2 BH3 m</text>
<text x="387.8" y="459.8" font-size="8.3" text-anchor="end" fill="#333" transform="rotate(-45 387.8 459.8)">3</text>
<text x="399.4" y="459.8" font-size="8.3" text-anchor="end" fill="#333" transform="rotate(-45 399.4 459.8)">3 BH3 m</text>
<line x1="316.3" y1="361.6" x2="398.5" y2="361.6" stroke="#8a8a8a" stroke-width="1.4" />
<text x="356.7" y="359.6" font-size="9.5" text-anchor="middle" textLength="14" lengthAdjust="spacingAndGlyphs">****</text>
<text x="322.0" y="384.4" font-size="9.5" text-anchor="middle" textLength="6.8" lengthAdjust="spacingAndGlyphs">**</text>
<text x="346.2" y="399.8" font-size="9.5" text-anchor="middle" textLength="10.2" lengthAdjust="spacingAndGlyphs">***</text>
<rect x="410" y="372" width="9.2" height="8.8" fill="#fff" stroke="#444" stroke-width="0.7"/>
<rect x="410" y="387.2" width="9.2" height="8.6" fill="#62baea" stroke="#444" stroke-width="0.5"/>
<line x1="410.0" y1="405.0" x2="419.6" y2="405.0" stroke="#000" stroke-width="1.5" />
<line x1="410.0" y1="418.8" x2="419.6" y2="418.8" stroke="#e02020" stroke-width="1.2" />
<text x="422.4" y="378.8" font-size="7.8" textLength="91" lengthAdjust="spacingAndGlyphs">p53 score treated = control</text>
<text x="422.4" y="393.4" font-size="7.8" textLength="90.5" lengthAdjust="spacingAndGlyphs">p53 score treated &lt; control</text>
<text x="422.4" y="407.6" font-size="7.8" textLength="33" lengthAdjust="spacingAndGlyphs">no del17p</text>
<text x="422.4" y="421.4" font-size="7.8" textLength="22.6" lengthAdjust="spacingAndGlyphs">del17p</text>
<text x="12.1" y="508.8" font-size="10" fill="#111" font-weight="bold">C</text>
<text x="110.6" y="522.8" font-size="8.8" text-anchor="middle" textLength="31.7" lengthAdjust="spacingAndGlyphs">Control</text>
<text x="110.4" y="534.4" font-size="8.8" text-anchor="middle" textLength="49.6" lengthAdjust="spacingAndGlyphs">55,114 cells</text>
<text x="285.8" y="522.6" font-size="8.8" text-anchor="middle" textLength="27.5" lengthAdjust="spacingAndGlyphs">BH3 m</text>
<text x="285.8" y="534.3" font-size="8.8" text-anchor="middle" textLength="49.6" lengthAdjust="spacingAndGlyphs">28,077 cells</text>
<line x1="43.3" y1="539.8" x2="43.3" y2="644.5" stroke="#151515" stroke-width="1.2" />
<line x1="42.8" y1="644.0" x2="177.5" y2="644.0" stroke="#151515" stroke-width="1.2" />
<line x1="40.8" y1="559.0" x2="43.3" y2="559.0" stroke="#222" stroke-width="0.8" />
<text x="37.5" y="561.8" font-size="7.9" text-anchor="end">10</text>
<line x1="40.8" y1="588.0" x2="43.3" y2="588.0" stroke="#222" stroke-width="0.8" />
<text x="37.5" y="590.8" font-size="7.9" text-anchor="end">0</text>
<line x1="40.8" y1="617.5" x2="43.3" y2="617.5" stroke="#222" stroke-width="0.8" />
<text x="37.5" y="620.3" font-size="7.9" text-anchor="end">−10</text>
<line x1="73.5" y1="644.0" x2="73.5" y2="646.5" stroke="#222" stroke-width="0.8" />
<text x="73.5" y="656.7" font-size="7.9" text-anchor="middle">−10</text>
<line x1="112.5" y1="644.0" x2="112.5" y2="646.5" stroke="#222" stroke-width="0.8" />
<text x="112.5" y="656.7" font-size="7.9" text-anchor="middle">0</text>
<line x1="151.5" y1="644.0" x2="151.5" y2="646.5" stroke="#222" stroke-width="0.8" />
<text x="151.5" y="656.7" font-size="7.9" text-anchor="middle">10</text>
<text x="110.5" y="669.8" font-size="9" text-anchor="middle" textLength="29.2" lengthAdjust="spacingAndGlyphs">UMAP_1</text>
<text x="20.4" y="591.6" font-size="9.2" text-anchor="middle" textLength="29" lengthAdjust="spacingAndGlyphs" transform="rotate(-90 20.4 591.6)">UMAP_2</text>
<line x1="218.9" y1="539.2" x2="218.9" y2="644.5" stroke="#151515" stroke-width="1.2" />
<line x1="218.4" y1="644.0" x2="352.6" y2="644.0" stroke="#151515" stroke-width="1.2" />
<line x1="216.4" y1="559.1" x2="218.9" y2="559.1" stroke="#222" stroke-width="0.8" />
<text x="213.1" y="561.9" font-size="7.9" text-anchor="end">10</text>
<line x1="216.4" y1="588.7" x2="218.9" y2="588.7" stroke="#222" stroke-width="0.8" />
<text x="213.1" y="591.5" font-size="7.9" text-anchor="end">0</text>
<line x1="216.4" y1="617.9" x2="218.9" y2="617.9" stroke="#222" stroke-width="0.8" />
<text x="213.1" y="620.7" font-size="7.9" text-anchor="end">−10</text>
<line x1="247.7" y1="644.0" x2="247.7" y2="646.5" stroke="#222" stroke-width="0.8" />
<text x="247.7" y="656.7" font-size="7.9" text-anchor="middle">−10</text>
<line x1="287.9" y1="644.0" x2="287.9" y2="646.5" stroke="#222" stroke-width="0.8" />
<text x="287.9" y="656.7" font-size="7.9" text-anchor="middle">0</text>
<line x1="327.2" y1="644.0" x2="327.2" y2="646.5" stroke="#222" stroke-width="0.8" />
<text x="327.2" y="656.7" font-size="7.9" text-anchor="middle">10</text>
<text x="285.9" y="669.8" font-size="9" text-anchor="middle" textLength="29.2" lengthAdjust="spacingAndGlyphs">UMAP_1</text>
<text x="196.2" y="592.0" font-size="9.2" text-anchor="middle" textLength="29.5" lengthAdjust="spacingAndGlyphs" transform="rotate(-90 196.2 592.0)">UMAP_2</text>
<path d="M99.9 558.0 C98.8 557.3 95.8 557.8 95.3 557.1 C94.9 556.5 96.5 555.1 96.9 554.2 C97.4 553.3 97.4 552.2 98.2 551.8 C98.9 551.3 100.5 552.1 101.7 551.5 C102.9 550.8 104.4 547.9 105.4 547.9 C106.3 548.0 106.8 550.9 107.3 551.9 C107.8 552.9 107.8 553.3 108.2 554.0 C108.6 554.7 109.8 555.5 109.7 556.2 C109.7 556.9 108.7 557.8 107.9 558.3 C107.1 558.8 106.1 558.6 105.0 559.1 C103.9 559.6 102.4 561.5 101.6 561.3 C100.7 561.1 100.9 558.7 99.9 558.0Z" fill="#cfe0ea" fill-opacity="0.7"/>
<path d="M102.2 556.3 C101.4 555.7 98.7 554.2 99.0 553.6 C99.2 553.0 102.3 553.2 103.7 552.8 C105.1 552.3 106.2 550.7 107.5 550.8 C108.8 550.9 111.0 552.2 111.5 553.1 C111.9 554.1 110.8 555.6 110.2 556.6 C109.6 557.6 108.8 559.2 107.8 559.3 C106.8 559.5 105.1 558.1 104.1 557.6 C103.2 557.1 103.1 557.0 102.2 556.3Z" fill="#f4c4be" fill-opacity="0.75"/>
<path d="M144.9 555.8 C144.2 555.1 143.1 554.3 143.1 553.6 C143.2 552.9 145.0 552.2 145.4 551.5 C145.8 550.8 145.2 549.7 145.7 549.5 C146.2 549.2 147.6 549.9 148.3 549.8 C149.0 549.8 149.5 549.2 150.2 549.2 C150.9 549.2 151.9 549.2 152.7 549.6 C153.5 550.0 154.9 550.7 154.8 551.4 C154.8 552.0 152.7 552.6 152.4 553.4 C152.1 554.2 153.3 555.6 153.0 556.2 C152.6 556.8 151.1 556.8 150.2 557.0 C149.2 557.2 148.1 557.6 147.2 557.4 C146.3 557.2 145.5 556.4 144.9 555.8Z" fill="#f4c4be" fill-opacity="0.7"/>
<path d="M149.7 551.6 C149.5 552.0 148.8 552.0 148.3 552.2 C147.8 552.4 147.1 553.0 146.6 552.9 C146.2 552.8 145.5 552.1 145.4 551.6 C145.3 551.2 145.9 550.8 146.1 550.3 C146.3 549.8 146.2 548.8 146.6 548.6 C147.1 548.3 148.3 548.4 148.8 548.7 C149.3 549.0 149.4 549.8 149.6 550.3 C149.7 550.8 149.9 551.3 149.7 551.6Z" fill="#cfe0ea" fill-opacity="0.75"/>
<path d="M78.3 567.8 C79.0 567.6 79.9 566.4 80.4 566.7 C80.9 567.0 80.9 568.9 81.4 569.6 C82.0 570.4 83.3 570.4 83.7 571.3 C84.1 572.2 84.1 573.9 83.8 574.9 C83.4 575.8 82.4 576.2 81.8 577.0 C81.2 577.9 80.8 580.0 80.1 580.1 C79.5 580.2 78.5 578.4 77.8 577.7 C77.2 577.0 76.5 576.8 76.3 576.1 C76.1 575.4 76.7 574.2 76.6 573.4 C76.5 572.6 75.7 572.1 75.5 571.1 C75.4 570.1 75.3 568.1 75.7 567.6 C76.2 567.0 77.5 567.9 78.3 567.8Z" fill="#cfe0ea" fill-opacity="0.7"/>
<path d="M77.8 569.6 C78.2 569.6 78.9 570.2 79.3 570.8 C79.6 571.4 80.1 572.6 80.0 573.2 C79.8 573.9 78.9 574.1 78.4 574.6 C78.0 575.0 77.7 575.9 77.1 576.1 C76.6 576.2 75.4 575.8 75.1 575.2 C74.9 574.6 75.5 573.1 75.8 572.4 C76.0 571.7 76.1 571.4 76.5 570.9 C76.8 570.4 77.3 569.7 77.8 569.6Z" fill="#f4c4be" fill-opacity="0.75"/>
<path d="M118.1 572.4 C118.7 573.2 119.6 574.2 119.3 574.9 C118.9 575.7 117.2 576.4 116.1 576.7 C115.0 576.9 113.7 576.5 112.8 576.5 C111.9 576.5 111.7 576.4 110.7 576.6 C109.6 576.9 107.6 578.1 106.4 577.9 C105.2 577.8 103.7 576.6 103.6 575.9 C103.5 575.1 105.5 574.2 105.8 573.3 C106.1 572.4 104.8 571.3 105.3 570.6 C105.8 569.8 107.5 568.9 108.7 568.9 C109.8 569.0 111.1 570.4 112.3 570.6 C113.6 570.8 115.2 570.0 116.1 570.3 C117.1 570.6 117.6 571.6 118.1 572.4Z" fill="#f4c4be" fill-opacity="0.7"/>
<path d="M109.4 571.6 C110.0 571.7 110.6 572.5 110.9 572.9 C111.1 573.3 111.0 573.7 110.9 574.1 C110.8 574.6 110.8 575.2 110.4 575.4 C109.9 575.7 109.0 575.7 108.3 575.6 C107.6 575.6 106.5 575.5 106.1 575.1 C105.8 574.8 105.8 574.0 106.0 573.6 C106.2 573.1 106.5 572.6 107.1 572.3 C107.7 571.9 108.8 571.5 109.4 571.6Z" fill="#cfe0ea" fill-opacity="0.75"/>
<path d="M137.0 572.3 C136.2 572.0 135.9 570.9 135.7 570.3 C135.4 569.6 135.8 569.0 135.8 568.3 C135.9 567.7 135.7 566.9 136.2 566.3 C136.6 565.8 137.6 564.9 138.5 564.9 C139.3 564.8 140.5 566.0 141.4 566.2 C142.4 566.3 143.4 565.7 144.1 565.9 C144.8 566.1 145.1 566.9 145.5 567.4 C145.8 567.9 146.0 568.5 146.0 569.1 C145.9 569.6 145.8 570.4 145.3 570.8 C144.8 571.3 143.8 571.5 143.0 571.7 C142.2 572.0 141.4 572.2 140.4 572.3 C139.4 572.4 137.8 572.6 137.0 572.3Z" fill="#cfe0ea" fill-opacity="0.7"/>
<path d="M138.1 567.0 C139.0 566.6 140.9 565.5 141.5 565.7 C142.2 565.9 142.0 567.6 142.3 568.4 C142.5 569.1 143.0 569.4 142.9 570.0 C142.8 570.7 142.3 571.8 141.5 572.2 C140.6 572.5 138.7 572.4 137.8 572.1 C136.9 571.7 136.4 570.8 136.1 570.1 C135.9 569.5 135.8 568.8 136.2 568.3 C136.5 567.8 137.2 567.5 138.1 567.0Z" fill="#f4c4be" fill-opacity="0.75"/>
<path d="M168.0 577.2 C168.4 577.9 169.0 578.6 169.1 579.4 C169.1 580.2 168.2 581.0 168.2 582.0 C168.1 583.0 169.0 584.8 168.8 585.4 C168.6 586.1 167.5 585.9 167.0 586.1 C166.4 586.2 165.9 586.4 165.5 586.1 C165.1 585.9 164.9 585.0 164.4 584.6 C164.0 584.1 163.0 584.0 162.8 583.3 C162.5 582.6 162.9 581.2 163.1 580.4 C163.2 579.5 163.5 578.8 163.9 578.1 C164.2 577.5 164.6 576.9 165.0 576.4 C165.5 576.0 166.1 575.5 166.6 575.6 C167.1 575.7 167.6 576.6 168.0 577.2Z" fill="#f4c4be" fill-opacity="0.7"/>
<path d="M166.0 579.6 C166.1 580.2 166.4 581.3 166.3 581.6 C166.1 582.0 165.4 581.6 165.1 581.6 C164.8 581.5 164.5 581.6 164.3 581.3 C164.0 581.0 163.6 580.5 163.6 579.9 C163.5 579.4 163.7 578.4 163.9 578.0 C164.1 577.7 164.6 577.8 165.0 577.8 C165.3 577.9 165.6 578.0 165.7 578.3 C165.9 578.6 165.9 579.1 166.0 579.6Z" fill="#cfe0ea" fill-opacity="0.75"/>
<path d="M63.9 590.5 C62.9 590.8 60.2 589.7 58.6 589.8 C57.0 589.9 55.1 591.4 54.2 591.1 C53.4 590.9 54.6 589.0 53.5 588.4 C52.4 587.8 48.1 588.0 47.6 587.6 C47.2 587.1 50.2 586.2 50.8 585.5 C51.5 584.7 50.6 583.4 51.5 583.1 C52.5 582.9 55.1 584.1 56.6 584.1 C58.0 584.0 59.2 582.9 60.3 582.9 C61.4 582.9 62.7 583.8 63.1 584.3 C63.6 584.9 63.0 585.6 63.2 586.2 C63.5 586.8 64.5 587.3 64.6 588.0 C64.7 588.7 64.9 590.2 63.9 590.5Z" fill="#f4c4be" fill-opacity="0.7"/>
<path d="M61.2 585.1 C61.5 585.9 63.8 586.9 63.4 587.4 C62.9 587.8 60.1 587.6 58.6 587.7 C57.0 587.8 55.3 588.3 54.2 588.0 C53.0 587.7 51.7 586.6 51.5 585.9 C51.4 585.3 52.4 584.4 53.3 583.8 C54.1 583.3 55.4 582.8 56.8 582.6 C58.2 582.4 61.0 582.2 61.7 582.6 C62.5 583.0 60.9 584.3 61.2 585.1Z" fill="#cfe0ea" fill-opacity="0.75"/>
<path d="M88.3 585.3 C88.4 585.0 88.7 585.1 88.7 584.7 C88.8 584.3 88.4 583.5 88.5 583.2 C88.7 582.8 89.4 582.6 89.8 582.6 C90.2 582.6 90.7 583.0 91.0 583.2 C91.3 583.5 91.4 583.9 91.6 584.2 C91.8 584.6 92.4 585.0 92.4 585.3 C92.3 585.6 91.6 585.9 91.3 586.2 C91.0 586.4 90.9 586.5 90.7 586.7 C90.4 587.0 90.2 587.6 89.8 587.8 C89.5 587.9 88.8 587.8 88.5 587.6 C88.2 587.4 88.0 586.8 88.0 586.4 C87.9 586.0 88.2 585.6 88.3 585.3Z" fill="#cfe0ea" fill-opacity="0.7"/>
<path d="M88.1 584.5 C88.2 584.2 88.5 583.9 88.8 583.7 C89.1 583.6 89.5 583.4 89.8 583.5 C90.1 583.6 90.2 584.0 90.4 584.2 C90.6 584.5 91.0 584.7 91.0 585.1 C91.1 585.4 90.8 586.1 90.5 586.2 C90.3 586.4 89.7 586.1 89.3 586.1 C89.0 586.0 88.5 586.0 88.2 585.7 C88.0 585.5 88.0 584.9 88.1 584.5Z" fill="#f4c4be" fill-opacity="0.75"/>
<path d="M119.0 589.7 C118.7 590.1 118.6 590.9 117.7 591.2 C116.9 591.6 114.9 592.1 113.9 591.9 C112.9 591.7 112.3 590.7 111.6 590.3 C110.9 589.8 110.3 589.6 109.6 589.2 C108.9 588.8 107.5 588.1 107.5 587.6 C107.6 587.1 109.0 586.6 109.9 586.2 C110.8 585.8 112.0 585.5 113.1 585.4 C114.2 585.3 115.4 585.5 116.6 585.6 C117.8 585.6 119.7 585.4 120.4 585.7 C121.0 586.1 120.5 587.0 120.3 587.5 C120.1 588.0 119.5 588.3 119.2 588.6 C119.0 589.0 119.2 589.2 119.0 589.7Z" fill="#f4c4be" fill-opacity="0.7"/>
<path d="M114.1 586.4 C114.6 586.6 114.4 587.1 114.8 587.4 C115.2 587.8 116.6 588.2 116.4 588.5 C116.3 588.7 114.8 588.9 114.0 589.0 C113.2 589.1 112.3 589.2 111.8 589.0 C111.2 588.9 111.1 588.5 110.9 588.2 C110.7 587.9 110.7 587.8 110.7 587.5 C110.8 587.1 110.8 586.5 111.4 586.3 C111.9 586.2 113.5 586.3 114.1 586.4Z" fill="#cfe0ea" fill-opacity="0.75"/>
<path d="M138.0 583.2 C137.7 583.2 137.2 582.9 136.9 582.6 C136.6 582.3 136.2 581.8 136.3 581.4 C136.3 581.0 136.9 580.7 137.1 580.3 C137.3 579.9 137.3 579.3 137.6 579.1 C137.9 578.8 138.4 578.7 138.9 578.6 C139.3 578.6 140.0 578.5 140.3 578.8 C140.5 579.1 140.2 580.1 140.3 580.5 C140.4 580.9 140.8 580.9 141.0 581.2 C141.1 581.5 141.1 582.0 141.0 582.3 C140.8 582.6 140.5 583.1 140.2 583.2 C139.9 583.2 139.4 582.7 139.1 582.7 C138.7 582.7 138.4 583.2 138.0 583.2Z" fill="#cfe0ea" fill-opacity="0.7"/>
<path d="M137.7 580.0 C137.8 579.7 138.5 579.5 138.9 579.5 C139.2 579.5 139.6 579.7 139.8 579.9 C140.1 580.1 140.3 580.2 140.5 580.5 C140.7 580.8 141.1 581.4 141.0 581.7 C140.8 582.0 140.1 582.1 139.8 582.1 C139.4 582.2 139.1 581.9 138.9 581.8 C138.6 581.6 138.4 581.5 138.2 581.2 C138.0 581.0 137.6 580.3 137.7 580.0Z" fill="#f4c4be" fill-opacity="0.75"/>
<path d="M151.2 591.9 C151.2 592.7 150.6 593.6 150.0 594.4 C149.3 595.1 148.4 596.2 147.3 596.5 C146.2 596.8 144.2 596.5 143.2 596.0 C142.2 595.6 142.0 594.4 141.3 593.9 C140.6 593.4 139.5 593.4 139.2 593.0 C138.8 592.5 139.8 592.0 139.4 591.3 C139.1 590.5 136.7 589.1 136.9 588.4 C137.2 587.8 139.6 587.8 140.8 587.5 C142.1 587.3 143.1 586.8 144.2 586.8 C145.4 586.7 146.8 587.0 147.8 587.4 C148.9 587.9 149.7 588.6 150.3 589.4 C150.8 590.1 151.3 591.0 151.2 591.9Z" fill="#cfe0ea" fill-opacity="0.7"/>
<path d="M144.0 590.2 C144.0 590.7 144.2 591.2 143.9 591.6 C143.6 591.9 142.9 592.4 142.2 592.5 C141.5 592.7 140.3 592.7 139.7 592.4 C139.0 592.1 138.5 591.4 138.5 590.9 C138.4 590.4 139.0 589.9 139.4 589.5 C139.8 589.2 140.3 588.9 141.0 588.7 C141.7 588.5 143.0 588.3 143.5 588.5 C144.0 588.8 143.9 589.7 144.0 590.2Z" fill="#f4c4be" fill-opacity="0.75"/>
<path d="M97.0 596.7 C97.5 597.2 99.3 597.7 99.5 598.2 C99.7 598.7 98.7 599.5 98.1 599.9 C97.5 600.4 96.6 600.9 95.8 600.9 C95.1 600.9 94.3 600.1 93.5 600.0 C92.7 599.9 92.0 600.5 91.1 600.4 C90.2 600.3 88.6 600.0 88.1 599.5 C87.7 598.9 88.3 598.0 88.4 597.2 C88.5 596.5 88.3 595.5 88.8 595.0 C89.4 594.4 90.7 593.8 91.6 593.9 C92.5 594.0 93.5 595.3 94.3 595.5 C95.1 595.7 96.1 595.0 96.5 595.2 C97.0 595.4 96.5 596.2 97.0 596.7Z" fill="#f4c4be" fill-opacity="0.7"/>
<path d="M94.9 594.6 C95.3 594.8 95.6 595.4 95.6 595.8 C95.7 596.2 95.5 596.6 95.2 596.9 C94.9 597.2 94.3 597.4 93.9 597.5 C93.4 597.5 92.8 597.4 92.4 597.3 C92.0 597.1 91.7 596.7 91.6 596.3 C91.5 596.0 91.5 595.5 91.7 595.2 C92.0 594.9 92.5 594.6 93.1 594.5 C93.6 594.4 94.5 594.4 94.9 594.6Z" fill="#cfe0ea" fill-opacity="0.75"/>
<path d="M77.1 601.0 C77.1 601.5 76.8 602.3 76.4 602.5 C76.1 602.7 75.5 601.9 75.1 602.0 C74.7 602.0 74.1 602.9 73.8 602.7 C73.6 602.5 73.7 601.4 73.5 600.9 C73.3 600.4 72.4 600.2 72.4 599.8 C72.4 599.4 73.2 599.0 73.4 598.5 C73.7 598.1 73.6 597.6 73.8 597.2 C74.1 596.9 74.6 596.5 74.9 596.6 C75.2 596.8 75.4 597.6 75.6 597.9 C75.8 598.3 75.9 598.4 76.1 598.6 C76.3 598.9 76.6 599.1 76.8 599.5 C76.9 599.9 77.2 600.5 77.1 601.0Z" fill="#f4c4be" fill-opacity="0.7"/>
<path d="M74.0 599.6 C73.8 599.3 73.6 598.5 73.7 598.0 C73.8 597.5 74.3 596.8 74.6 596.8 C74.9 596.7 75.3 597.4 75.6 597.6 C76.0 597.8 76.5 597.7 76.6 598.0 C76.7 598.3 76.3 598.9 76.2 599.3 C76.0 599.6 75.9 599.8 75.7 599.9 C75.5 600.0 75.2 600.0 75.0 600.0 C74.7 599.9 74.2 599.9 74.0 599.6Z" fill="#cfe0ea" fill-opacity="0.75"/>
<path d="M124.7 596.8 C124.6 596.5 124.9 596.1 124.9 595.8 C124.9 595.5 124.8 595.4 124.7 595.0 C124.7 594.7 124.3 593.9 124.5 593.6 C124.8 593.3 125.7 593.1 126.2 593.2 C126.7 593.3 127.3 593.7 127.6 593.9 C127.9 594.2 127.7 594.5 128.1 594.7 C128.6 594.9 130.0 594.9 130.3 595.2 C130.6 595.5 130.3 596.2 130.0 596.6 C129.8 597.0 129.2 597.3 128.7 597.5 C128.3 597.7 127.7 597.9 127.2 597.9 C126.6 597.9 126.0 597.9 125.6 597.8 C125.2 597.6 124.8 597.1 124.7 596.8Z" fill="#f4c4be" fill-opacity="0.7"/>
<path d="M127.7 596.8 C127.4 596.7 127.3 596.3 127.1 596.1 C127.0 595.9 126.6 595.7 126.6 595.6 C126.7 595.4 127.0 595.1 127.2 595.0 C127.4 594.9 127.7 594.9 128.0 594.9 C128.3 594.9 128.9 594.8 129.1 594.9 C129.4 595.1 129.3 595.6 129.2 595.8 C129.1 596.0 128.9 596.2 128.6 596.4 C128.4 596.6 127.9 596.8 127.7 596.8Z" fill="#cfe0ea" fill-opacity="0.75"/>
<path d="M108.3 605.7 C108.2 604.9 108.2 603.8 108.4 603.2 C108.6 602.5 109.3 601.7 109.7 601.6 C110.2 601.5 110.8 602.6 111.3 602.5 C111.8 602.5 112.6 601.1 112.9 601.3 C113.2 601.5 113.1 603.1 113.2 603.8 C113.3 604.5 113.2 604.8 113.2 605.4 C113.3 605.9 113.5 606.5 113.4 607.1 C113.3 607.6 113.0 608.2 112.7 608.6 C112.4 609.0 111.9 609.7 111.5 609.6 C111.2 609.5 111.0 608.3 110.5 608.0 C110.1 607.7 109.3 608.3 108.9 607.9 C108.5 607.5 108.4 606.5 108.3 605.7Z" fill="#f4c4be" fill-opacity="0.7"/>
<path d="M109.2 605.9 C109.0 605.5 109.2 604.7 109.2 604.1 C109.2 603.5 109.2 602.9 109.4 602.5 C109.6 602.1 110.1 601.9 110.5 601.9 C110.8 602.0 111.2 602.4 111.4 602.8 C111.6 603.2 111.9 603.9 111.8 604.2 C111.7 604.6 111.3 604.8 111.0 605.1 C110.8 605.5 110.7 606.4 110.4 606.6 C110.1 606.7 109.4 606.3 109.2 605.9Z" fill="#cfe0ea" fill-opacity="0.75"/>
<path d="M132.9 604.3 C132.9 604.6 133.4 604.9 133.4 605.2 C133.4 605.5 133.1 606.2 132.8 606.2 C132.4 606.3 131.6 605.6 131.2 605.5 C130.8 605.4 130.7 605.7 130.4 605.7 C130.1 605.7 129.6 605.7 129.4 605.5 C129.3 605.4 129.4 605.0 129.3 604.7 C129.2 604.4 128.7 604.1 128.8 603.8 C128.9 603.6 129.5 603.5 129.9 603.4 C130.2 603.2 130.4 603.0 130.7 602.9 C131.0 602.9 131.3 603.0 131.7 603.1 C132.0 603.1 132.7 603.0 132.9 603.2 C133.1 603.4 132.8 603.9 132.9 604.3Z" fill="#f4c4be" fill-opacity="0.7"/>
<path d="M130.5 604.3 C130.6 604.0 130.6 603.5 130.8 603.4 C131.1 603.3 131.6 603.5 132.0 603.6 C132.4 603.7 133.1 603.7 133.2 603.9 C133.3 604.1 132.8 604.5 132.6 604.8 C132.4 605.0 132.3 605.0 132.1 605.2 C131.9 605.4 131.6 605.7 131.3 605.7 C131.0 605.7 130.4 605.4 130.2 605.2 C130.1 605.0 130.4 604.6 130.5 604.3Z" fill="#cfe0ea" fill-opacity="0.75"/>
<path d="M160.0 608.1 C160.4 609.2 161.6 610.0 161.8 611.2 C162.0 612.5 162.0 614.7 161.4 615.5 C160.7 616.3 158.8 616.0 157.8 616.1 C156.8 616.2 156.3 616.1 155.3 616.3 C154.3 616.4 152.9 617.4 151.9 617.0 C151.0 616.6 150.2 615.0 149.7 613.8 C149.1 612.5 148.3 610.6 148.7 609.4 C149.0 608.2 150.9 607.5 151.8 606.7 C152.7 606.0 153.1 605.5 153.9 605.0 C154.7 604.5 155.5 603.7 156.4 603.7 C157.3 603.6 158.6 603.8 159.2 604.5 C159.8 605.3 159.6 607.0 160.0 608.1Z" fill="#cfe0ea" fill-opacity="0.7"/>
<path d="M155.1 605.6 C155.8 605.0 157.6 605.2 158.5 605.8 C159.3 606.4 159.5 607.8 160.0 608.9 C160.5 610.0 161.6 611.3 161.5 612.4 C161.4 613.5 160.3 615.1 159.3 615.7 C158.4 616.4 156.6 616.9 155.9 616.3 C155.1 615.7 155.2 613.5 154.8 612.3 C154.5 611.2 153.8 610.5 153.9 609.4 C153.9 608.3 154.3 606.2 155.1 605.6Z" fill="#f4c4be" fill-opacity="0.75"/>
<path d="M68.0 608.1 C68.5 607.6 68.5 607.0 69.1 606.3 C69.6 605.7 70.8 604.0 71.3 604.2 C71.9 604.4 71.6 607.0 72.3 607.7 C73.0 608.4 75.5 607.8 75.6 608.4 C75.6 608.9 72.8 609.9 72.6 611.0 C72.4 612.1 74.5 613.8 74.3 614.7 C74.2 615.7 72.8 616.3 71.9 616.6 C71.0 616.9 70.0 616.8 69.1 616.6 C68.2 616.3 67.1 616.0 66.4 615.3 C65.7 614.6 64.9 613.4 64.9 612.4 C64.8 611.4 65.7 610.1 66.2 609.4 C66.8 608.7 67.6 608.6 68.0 608.1Z" fill="#f4c4be" fill-opacity="0.7"/>
<path d="M69.7 610.8 C70.2 610.9 71.1 611.0 71.3 611.4 C71.4 611.7 70.7 612.4 70.5 613.0 C70.3 613.6 70.4 614.6 70.0 614.9 C69.7 615.2 68.8 615.0 68.3 614.7 C67.8 614.5 67.4 613.8 67.2 613.3 C67.0 612.7 66.9 611.8 67.1 611.3 C67.3 610.9 68.1 610.7 68.5 610.6 C69.0 610.5 69.3 610.7 69.7 610.8Z" fill="#cfe0ea" fill-opacity="0.75"/>
<path d="M102.8 614.5 C102.5 614.8 101.3 614.7 100.8 615.0 C100.2 615.3 100.1 616.0 99.3 616.3 C98.5 616.6 96.7 617.0 95.8 616.9 C94.9 616.8 93.8 615.9 93.7 615.4 C93.6 614.9 94.7 614.2 95.0 613.8 C95.2 613.4 95.2 613.3 95.2 612.8 C95.2 612.4 94.6 611.3 95.1 611.1 C95.6 611.0 97.3 611.8 98.3 611.8 C99.3 611.8 100.5 610.8 101.0 610.9 C101.6 611.1 101.2 612.2 101.4 612.6 C101.7 613.0 102.1 613.1 102.4 613.4 C102.6 613.7 103.0 614.2 102.8 614.5Z" fill="#f4c4be" fill-opacity="0.7"/>
<path d="M98.6 611.9 C98.9 612.1 99.1 612.5 99.0 612.7 C98.9 613.0 98.4 613.1 98.0 613.3 C97.6 613.5 97.2 614.1 96.7 614.1 C96.2 614.2 95.4 613.8 94.9 613.5 C94.5 613.3 93.9 612.9 94.0 612.6 C94.1 612.4 95.1 612.2 95.6 612.0 C96.1 611.8 96.5 611.6 97.0 611.5 C97.4 611.5 98.2 611.7 98.6 611.9Z" fill="#cfe0ea" fill-opacity="0.75"/>
<path d="M133.0 619.6 C132.5 619.8 131.5 618.9 130.8 619.2 C130.0 619.6 129.2 621.5 128.5 621.5 C127.9 621.6 127.3 620.2 126.9 619.6 C126.5 619.0 126.2 618.4 126.3 617.8 C126.4 617.3 127.4 616.9 127.7 616.4 C127.9 615.9 127.4 615.1 127.7 614.9 C128.1 614.7 129.1 615.1 129.7 615.1 C130.2 615.1 130.5 614.9 131.1 614.8 C131.6 614.8 132.7 614.6 133.1 614.8 C133.6 615.1 133.4 615.9 133.5 616.5 C133.7 617.0 134.1 617.6 134.0 618.1 C133.9 618.6 133.5 619.5 133.0 619.6Z" fill="#f4c4be" fill-opacity="0.7"/>
<path d="M128.3 617.2 C128.7 616.9 129.4 616.1 129.8 616.2 C130.2 616.2 130.7 617.0 130.9 617.5 C131.1 617.9 131.1 618.5 130.9 618.8 C130.6 619.1 130.0 619.0 129.5 619.2 C129.0 619.5 128.4 620.3 128.0 620.3 C127.7 620.2 127.4 619.3 127.3 618.9 C127.2 618.4 127.2 618.0 127.4 617.8 C127.6 617.5 127.9 617.5 128.3 617.2Z" fill="#cfe0ea" fill-opacity="0.75"/>
<path d="M115.2 628.0 C114.9 627.7 114.4 628.0 114.1 627.8 C113.8 627.5 113.2 626.8 113.3 626.4 C113.3 625.9 114.1 625.5 114.2 625.0 C114.4 624.5 114.2 623.4 114.4 623.3 C114.7 623.2 115.4 624.2 115.8 624.4 C116.1 624.5 116.3 624.0 116.6 624.0 C116.9 624.0 117.3 624.1 117.6 624.4 C117.9 624.6 118.5 625.1 118.6 625.6 C118.6 626.1 118.3 626.8 118.1 627.3 C117.9 627.8 117.8 628.5 117.5 628.9 C117.2 629.3 116.6 629.8 116.2 629.7 C115.8 629.5 115.6 628.3 115.2 628.0Z" fill="#f4c4be" fill-opacity="0.7"/>
<path d="M116.5 628.4 C116.3 628.3 116.2 627.6 116.0 627.3 C115.9 626.9 115.5 626.7 115.5 626.4 C115.6 626.2 115.9 625.9 116.1 625.7 C116.3 625.6 116.5 625.6 116.7 625.6 C116.9 625.6 117.2 625.6 117.4 625.8 C117.6 626.0 117.8 626.5 117.8 626.8 C117.8 627.1 117.6 627.6 117.4 627.9 C117.2 628.1 116.7 628.5 116.5 628.4Z" fill="#cfe0ea" fill-opacity="0.75"/>
<path d="M95.0 630.7 C95.5 631.2 96.7 631.7 96.9 632.4 C97.2 633.2 97.1 634.4 96.5 635.0 C95.9 635.6 94.4 636.3 93.4 636.1 C92.4 636.0 91.5 634.6 90.7 634.2 C89.9 633.8 89.2 634.1 88.5 633.8 C87.7 633.5 86.7 633.1 86.2 632.5 C85.7 631.9 85.5 631.0 85.5 630.2 C85.6 629.3 85.8 628.1 86.6 627.6 C87.4 627.1 89.2 627.2 90.2 627.4 C91.3 627.5 92.0 628.2 92.7 628.6 C93.3 629.0 93.7 629.2 94.1 629.6 C94.5 630.0 94.5 630.3 95.0 630.7Z" fill="#f4c4be" fill-opacity="0.7"/>
<path d="M131.2 633.4 C131.9 633.2 132.7 632.8 133.3 632.8 C133.9 632.9 134.3 633.6 134.8 633.9 C135.3 634.1 135.9 634.2 136.3 634.5 C136.6 634.8 137.2 635.3 137.0 635.6 C136.9 635.9 135.6 635.9 135.3 636.4 C135.1 636.9 135.9 638.3 135.5 638.5 C135.0 638.8 133.3 638.3 132.5 638.1 C131.7 637.9 131.2 637.6 130.5 637.4 C129.8 637.1 128.5 637.0 128.2 636.7 C127.8 636.3 128.1 635.6 128.4 635.2 C128.6 634.7 129.1 634.4 129.6 634.1 C130.1 633.8 130.6 633.6 131.2 633.4Z" fill="#cfe0ea" fill-opacity="0.7"/>
<path d="M133.1 636.0 C132.8 635.7 132.7 635.3 132.7 635.0 C132.8 634.7 133.0 634.4 133.4 634.1 C133.8 633.9 134.4 633.8 135.0 633.7 C135.6 633.7 136.7 633.7 137.2 633.9 C137.6 634.2 137.9 634.8 137.8 635.2 C137.8 635.6 137.4 636.2 136.9 636.4 C136.4 636.6 135.4 636.5 134.7 636.5 C134.1 636.4 133.4 636.2 133.1 636.0Z" fill="#f4c4be" fill-opacity="0.75"/>
<path d="M99.2 558.2h0M103.3 552.8h0M98.7 554.5h0M104.6 557.1h0M106.8 553.8h0M101.2 550.7h0M107.2 552.1h0M107.2 557.3h0M109.6 553.4h0M102.8 556.4h0M107.3 553.2h0M104.3 553.0h0M103.9 557.9h0M99.4 554.9h0M107.3 555.8h0M102.9 552.2h0M100.6 552.5h0M100.6 557.8h0M109.6 553.4h0M97.2 553.1h0M106.0 556.3h0M106.1 558.9h0M105.9 551.0h0M108.5 556.8h0M103.2 557.5h0M102.7 558.9h0M109.7 556.1h0M100.0 559.0h0M109.0 555.0h0M99.6 557.3h0M107.9 558.9h0M97.9 555.3h0M108.3 553.1h0M108.6 552.8h0M102.9 556.9h0M107.3 552.8h0M108.3 557.9h0M106.4 550.8h0M106.6 554.4h0M106.9 556.1h0M103.3 551.5h0M100.0 556.6h0M98.8 552.9h0M101.9 551.5h0M147.3 553.4h0M152.5 553.6h0M145.0 552.6h0M149.9 550.4h0M150.6 552.7h0M149.2 551.4h0M153.0 553.4h0M151.1 552.4h0M150.8 552.0h0M149.4 551.0h0M148.2 554.9h0M82.1 574.0h0M79.4 568.3h0M76.9 570.4h0M77.0 569.1h0M78.6 569.9h0M82.5 571.0h0M80.8 574.2h0M78.6 577.3h0M81.5 570.7h0M77.1 570.1h0M81.4 572.5h0M80.3 574.6h0M81.3 573.1h0M77.0 576.5h0M79.6 574.7h0M80.4 576.5h0M80.9 573.3h0M79.6 568.3h0M82.2 571.1h0M80.5 568.2h0M77.7 574.2h0M79.5 572.5h0M79.7 576.8h0M76.0 570.5h0M79.5 572.0h0M78.9 568.1h0M82.7 573.6h0M80.7 577.0h0M76.9 569.1h0M81.5 573.7h0M80.7 572.7h0M76.2 574.6h0M108.9 575.3h0M108.9 577.0h0M115.7 573.7h0M115.1 572.4h0M106.9 572.5h0M111.3 575.2h0M112.7 570.6h0M110.6 576.8h0M108.3 572.8h0M108.5 575.2h0M107.5 575.7h0M107.9 576.6h0M111.3 575.1h0M106.9 575.6h0M115.1 571.6h0M114.8 574.0h0M108.4 574.9h0M110.7 576.0h0M110.8 570.5h0M143.5 567.7h0M145.6 569.7h0M145.3 567.5h0M138.5 569.0h0M139.4 568.9h0M143.2 566.1h0M138.4 571.4h0M139.0 568.8h0M143.3 568.5h0M143.5 567.9h0M138.5 570.4h0M141.6 569.8h0M145.0 566.9h0M144.5 570.6h0M137.6 571.6h0M138.0 566.1h0M141.0 568.0h0M146.6 568.3h0M135.3 569.3h0M142.3 569.9h0M141.0 567.7h0M143.1 565.9h0M141.2 568.1h0M144.5 569.1h0M141.2 571.2h0M141.7 570.5h0M135.4 568.6h0M145.7 568.6h0M138.5 566.1h0M166.7 577.8h0M165.7 578.7h0M166.1 585.7h0M165.2 585.2h0M164.8 583.1h0M167.5 579.7h0M165.0 583.9h0M56.6 589.1h0M57.2 585.3h0M63.9 588.2h0M61.0 589.8h0M52.5 585.8h0M56.4 590.4h0M51.5 586.4h0M58.1 585.4h0M64.2 585.7h0M59.9 586.3h0M59.6 587.2h0M59.8 587.9h0M57.4 587.2h0M54.8 587.4h0M58.3 582.9h0M59.3 584.0h0M58.1 586.9h0M64.1 587.4h0M62.1 583.7h0M60.9 585.9h0M63.4 587.7h0M55.8 583.2h0M60.8 587.0h0M53.1 587.0h0M62.8 588.5h0M54.2 584.6h0M54.5 584.8h0M55.8 587.1h0M51.7 587.0h0M64.1 586.0h0M58.3 583.9h0M54.2 587.0h0M61.7 587.9h0M55.3 584.8h0M62.8 584.2h0M51.9 588.9h0M61.7 584.9h0M56.6 587.4h0M90.7 586.0h0M90.2 586.8h0M88.6 586.4h0M89.9 586.8h0M90.6 586.9h0M90.8 583.8h0M90.1 584.4h0M115.7 587.6h0M110.6 587.1h0M118.7 586.4h0M114.3 588.2h0M109.9 588.6h0M118.5 586.2h0M112.5 589.5h0M120.7 587.8h0M120.0 588.2h0M119.2 587.3h0M114.4 587.4h0M112.0 590.0h0M112.3 587.2h0M139.6 580.4h0M138.6 582.7h0M139.7 579.7h0M138.9 590.9h0M139.2 592.4h0M148.3 590.8h0M148.5 590.2h0M145.8 594.3h0M140.0 593.3h0M141.3 590.7h0M147.7 590.8h0M144.6 592.2h0M147.0 591.1h0M148.1 589.4h0M147.3 591.6h0M139.0 593.6h0M142.7 589.8h0M147.7 592.3h0M140.3 592.1h0M144.8 588.0h0M142.3 592.0h0M149.2 590.6h0M143.3 589.6h0M139.6 593.6h0M145.8 591.2h0M146.3 594.9h0M145.3 588.2h0M139.2 589.2h0M148.6 593.0h0M146.0 591.0h0M140.3 589.1h0M141.2 591.9h0M138.7 592.0h0M138.8 590.8h0M147.8 593.3h0M146.1 590.0h0M138.9 591.2h0M138.5 590.0h0M144.5 591.5h0M147.3 592.6h0M139.6 589.8h0M143.7 590.6h0M141.3 593.6h0M144.2 592.1h0M90.8 595.6h0M95.1 598.2h0M89.8 596.7h0M95.9 596.2h0M96.3 596.1h0M93.9 597.9h0M94.6 599.1h0M91.0 598.1h0M93.4 597.3h0M96.1 595.6h0M89.7 598.6h0M96.4 599.3h0M76.5 600.7h0M75.5 597.6h0M74.9 601.7h0M76.1 599.4h0M75.6 602.0h0M73.3 600.2h0M128.1 596.1h0M125.1 595.4h0M126.9 593.8h0M113.3 605.4h0M112.7 602.8h0M109.0 605.5h0M112.3 607.8h0M110.2 603.1h0M109.3 607.5h0M110.6 602.5h0M131.9 605.2h0M129.3 604.2h0M129.2 605.1h0M130.8 605.3h0M159.4 609.0h0M154.2 609.9h0M153.6 610.0h0M160.3 612.3h0M151.9 608.7h0M154.6 604.4h0M153.6 612.1h0M155.6 614.3h0M156.5 612.3h0M154.4 613.2h0M158.7 606.8h0M151.3 609.0h0M151.4 613.6h0M154.2 604.9h0M155.2 608.4h0M152.2 606.2h0M159.6 607.7h0M151.1 611.6h0M153.6 612.7h0M158.6 614.8h0M156.7 611.7h0M151.7 611.2h0M153.7 607.0h0M152.7 615.0h0M155.0 615.3h0M154.3 605.4h0M155.6 615.9h0M159.6 610.9h0M154.5 609.7h0M152.8 605.4h0M158.8 607.8h0M160.3 611.1h0M152.4 606.6h0M155.5 608.1h0M154.0 612.1h0M160.0 609.8h0M153.9 604.7h0M157.5 612.6h0M157.7 605.1h0M159.6 611.8h0M68.7 611.6h0M71.3 614.3h0M68.1 613.9h0M70.2 606.9h0M70.7 610.9h0M70.5 614.0h0M66.9 611.4h0M68.1 611.2h0M98.7 614.7h0M100.3 613.5h0M98.6 615.1h0M102.1 615.0h0M100.9 615.6h0M95.2 612.6h0M95.5 615.2h0M99.4 613.4h0M133.1 619.1h0M126.9 616.8h0M130.5 614.6h0M126.8 616.5h0M128.1 616.1h0M129.5 615.0h0M130.9 617.0h0M126.9 616.9h0M128.8 619.7h0M130.9 616.0h0M132.3 614.8h0M128.9 616.0h0M129.7 620.1h0M132.4 617.9h0M129.5 614.1h0M130.1 613.9h0M114.6 625.2h0M117.6 626.3h0M116.2 628.3h0M116.7 627.1h0M89.8 630.0h0M91.7 632.2h0M88.3 632.3h0M89.0 633.2h0M93.6 630.9h0M87.2 630.4h0M128.9 636.2h0M131.4 636.9h0M131.2 634.5h0M133.5 637.2h0M135.6 634.8h0M135.7 633.9h0M130.7 635.0h0M132.2 637.8h0M131.3 633.8h0M135.6 635.4h0M129.7 636.8h0M134.1 633.5h0M135.8 636.5h0M134.6 635.6h0M130.3 636.3h0M132.9 636.3h0M131.3 636.7h0" stroke="#eea8a2" stroke-width="1.0" stroke-linecap="round" stroke-opacity="0.7" fill="none"/>
<path d="M100.9 555.1h0M101.3 555.1h0M106.1 556.4h0M106.0 556.0h0M107.3 555.2h0M96.5 554.8h0M102.6 560.2h0M104.5 552.4h0M109.8 555.3h0M109.8 556.3h0M100.6 554.4h0M103.5 560.2h0M104.3 550.2h0M105.8 550.9h0M98.7 551.4h0M100.7 554.2h0M100.4 557.5h0M101.5 551.7h0M106.9 558.2h0M147.7 553.2h0M145.0 551.4h0M146.3 552.2h0M147.5 552.6h0M146.1 551.0h0M147.6 555.1h0M77.6 570.2h0M78.4 570.1h0M80.9 571.1h0M78.3 575.6h0M76.7 576.9h0M75.8 570.2h0M108.9 573.2h0M114.8 575.4h0M112.0 574.2h0M110.8 577.0h0M112.9 575.1h0M110.8 572.6h0M108.9 575.7h0M137.9 569.2h0M136.8 566.3h0M139.8 567.6h0M144.4 566.3h0M139.8 572.3h0M139.3 570.8h0M138.8 570.8h0M135.7 569.0h0M138.1 569.5h0M165.5 579.5h0M163.6 582.1h0M60.2 583.8h0M60.6 583.7h0M57.3 590.2h0M51.5 586.7h0M58.3 587.0h0M58.1 586.2h0M51.9 587.5h0M54.0 588.2h0M88.5 585.4h0M91.2 585.4h0M112.9 586.0h0M116.7 590.1h0M117.1 587.0h0M114.0 588.3h0M113.6 588.7h0M116.9 586.4h0M137.8 581.4h0M148.0 589.1h0M143.9 589.3h0M148.2 592.8h0M143.7 590.0h0M142.1 589.1h0M146.3 594.7h0M144.8 594.8h0M141.7 594.2h0M93.5 598.4h0M95.0 595.4h0M95.4 595.1h0M96.2 596.7h0M93.5 598.9h0M75.1 600.0h0M73.4 599.8h0M74.6 602.1h0M73.6 601.3h0M126.1 593.8h0M128.5 594.8h0M124.8 596.5h0M110.5 603.0h0M110.6 608.1h0M112.0 606.6h0M109.5 603.2h0M132.4 604.1h0M130.6 605.1h0M153.5 610.8h0M154.8 604.1h0M158.1 610.1h0M160.2 607.3h0M157.7 614.0h0M157.5 606.1h0M152.4 611.6h0M66.5 610.2h0M71.8 613.0h0M68.6 606.9h0M70.1 611.6h0M71.5 609.7h0M66.6 609.7h0M70.9 614.3h0M70.7 606.1h0M71.8 608.9h0M94.4 613.7h0M97.9 612.9h0M102.9 613.2h0M96.9 613.1h0M94.0 614.2h0M131.7 617.0h0M133.5 615.5h0M127.1 617.2h0M87.4 631.8h0M91.8 631.3h0M89.5 634.8h0M95.3 632.1h0M91.9 627.8h0M88.3 632.9h0M131.4 636.0h0M134.3 634.6h0M131.1 635.5h0M129.7 633.8h0M130.7 636.8h0M134.4 636.8h0M131.9 637.9h0M133.9 633.1h0" stroke="#a8c8dc" stroke-width="1.0" stroke-linecap="round" stroke-opacity="0.7" fill="none"/>
<path d="M106.0 551.3h0M100.1 550.8h0M107.3 556.7h0M101.2 555.9h0M103.8 550.1h0M107.2 555.3h0M104.3 559.2h0M98.8 555.2h0M98.7 551.5h0M103.7 559.8h0M104.6 553.5h0M101.3 553.3h0M147.9 552.4h0M150.2 555.0h0M81.9 574.6h0M78.1 577.8h0M80.8 571.1h0M81.5 570.1h0M79.1 576.1h0M76.7 571.5h0M79.4 571.6h0M110.5 571.2h0M115.7 575.5h0M106.1 574.3h0M107.6 572.8h0M108.3 570.8h0M107.6 574.6h0M115.2 575.8h0M113.8 571.8h0M137.9 565.5h0M141.2 568.4h0M143.3 571.8h0M165.2 585.0h0M164.4 580.2h0M166.9 584.3h0M165.3 579.1h0M167.4 579.6h0M164.3 583.1h0M167.8 578.2h0M165.5 579.9h0M56.9 587.7h0M63.7 587.8h0M59.9 589.5h0M55.4 583.7h0M59.9 583.6h0M53.1 589.4h0M60.0 588.0h0M89.0 586.0h0M89.5 584.4h0M118.5 589.3h0M116.7 587.5h0M111.3 587.8h0M112.3 588.1h0M139.3 580.0h0M137.6 581.5h0M141.2 590.7h0M144.0 592.3h0M142.9 588.1h0M92.1 597.9h0M92.1 598.4h0M94.4 596.0h0M97.3 597.8h0M97.1 598.2h0M95.6 598.6h0M90.7 598.9h0M73.3 599.2h0M75.7 599.9h0M76.0 601.2h0M127.6 597.2h0M124.5 596.5h0M113.3 603.6h0M112.9 605.3h0M111.4 609.0h0M110.0 605.4h0M112.4 607.6h0M152.4 609.8h0M157.0 611.2h0M160.2 610.2h0M158.2 612.0h0M156.0 609.8h0M155.5 612.9h0M157.9 609.4h0M160.0 612.8h0M156.3 604.9h0M154.9 609.3h0M152.1 612.9h0M68.0 609.1h0M69.9 609.0h0M67.6 613.3h0M68.8 612.5h0M73.9 611.4h0M95.4 613.1h0M95.5 614.9h0M95.4 615.4h0M101.3 615.7h0M133.0 617.3h0M132.5 618.9h0M129.1 615.0h0M115.9 626.2h0M89.2 632.9h0M93.3 628.7h0M94.6 633.4h0M88.6 630.2h0M91.5 632.2h0M89.5 631.1h0M94.1 631.5h0M95.2 631.4h0M130.9 633.6h0" stroke="#a09898" stroke-width="0.9" stroke-linecap="round" stroke-opacity="0.6" fill="none"/>
<path d="M107.1 553.4h0M99.6 554.8h0M100.9 551.8h0M103.8 557.8h0M101.1 551.9h0M104.3 550.3h0M97.7 554.9h0M108.5 558.5h0M103.0 559.6h0M102.8 555.0h0M102.8 551.6h0M104.9 555.4h0M100.1 554.0h0M101.3 554.1h0M103.7 553.4h0M146.5 554.6h0M147.6 555.3h0M147.0 555.2h0M147.7 553.2h0M151.7 552.4h0M151.1 551.7h0M146.4 551.2h0M148.9 554.7h0M151.6 551.7h0M151.4 553.2h0M149.1 555.6h0M153.3 553.1h0M145.1 552.5h0M148.5 553.1h0M148.0 552.5h0M149.2 549.4h0M146.8 553.7h0M148.2 550.7h0M145.0 550.8h0M150.3 552.5h0M147.4 553.9h0M152.1 550.5h0M149.2 553.7h0M146.0 550.2h0M148.6 550.5h0M150.1 550.4h0M149.2 549.6h0M79.0 573.9h0M78.1 571.8h0M77.5 576.0h0M76.6 568.7h0M78.7 573.5h0M76.0 575.1h0M79.3 572.2h0M76.6 569.0h0M79.5 571.8h0M109.3 571.2h0M109.0 575.2h0M108.1 571.8h0M114.5 572.4h0M110.3 570.4h0M115.0 576.0h0M107.6 572.8h0M110.1 575.4h0M114.2 576.1h0M116.2 574.8h0M109.9 576.9h0M107.6 573.3h0M109.9 574.2h0M114.7 575.7h0M110.1 575.4h0M109.2 573.5h0M108.2 572.3h0M108.1 574.0h0M109.1 571.5h0M114.7 576.9h0M110.9 573.5h0M115.7 576.3h0M106.4 574.4h0M107.7 576.8h0M137.0 570.0h0M138.2 566.5h0M142.3 565.7h0M144.2 567.6h0M138.9 566.6h0M140.4 568.1h0M142.5 568.2h0M138.5 566.9h0M145.2 569.4h0M144.2 571.3h0M138.7 568.3h0M136.6 567.9h0M141.8 567.2h0M139.3 567.1h0M142.1 570.3h0M143.2 568.9h0M137.4 567.1h0M166.2 581.1h0M164.4 577.8h0M167.4 581.2h0M164.2 581.4h0M166.2 583.0h0M164.6 579.3h0M164.4 584.4h0M166.4 579.3h0M168.1 579.5h0M165.2 580.9h0M164.6 582.3h0M164.6 580.9h0M164.6 582.5h0M166.8 577.2h0M165.0 584.9h0M64.1 585.7h0M59.1 585.7h0M60.7 584.9h0M61.9 583.6h0M54.5 586.6h0M63.0 587.4h0M52.7 587.0h0M51.9 584.7h0M57.2 590.3h0M58.8 590.0h0M56.9 586.0h0M61.5 584.9h0M61.0 589.1h0M54.8 589.7h0M59.1 585.1h0M52.2 584.8h0M62.1 584.5h0M59.2 589.2h0M59.7 588.8h0M64.1 586.6h0M55.9 587.8h0M57.6 586.7h0M59.3 587.0h0M88.5 585.1h0M90.6 585.8h0M117.8 588.7h0M111.5 588.3h0M113.8 586.2h0M117.6 587.9h0M121.1 588.1h0M112.2 588.3h0M119.5 589.2h0M118.3 587.8h0M113.2 587.8h0M117.3 588.6h0M110.5 587.3h0M120.0 587.6h0M117.0 588.5h0M116.4 586.0h0M115.6 587.3h0M116.1 587.6h0M116.8 589.5h0M139.0 581.2h0M137.8 581.2h0M137.8 581.5h0M138.1 579.9h0M139.1 581.8h0M138.1 580.0h0M139.5 580.6h0M141.6 591.0h0M142.6 589.8h0M148.8 589.7h0M146.0 588.5h0M139.9 593.6h0M141.4 590.4h0M93.8 597.8h0M92.2 597.2h0M92.3 596.0h0M93.5 600.3h0M97.8 599.1h0M97.8 597.7h0M94.0 597.0h0M92.2 597.1h0M92.4 598.9h0M90.2 595.9h0M93.5 600.1h0M93.7 599.4h0M95.6 599.5h0M94.2 594.9h0M96.3 596.9h0M74.8 598.6h0M74.5 598.2h0M75.9 597.4h0M125.9 594.0h0M128.3 596.0h0M125.4 596.4h0M126.0 594.7h0M127.8 594.9h0M128.2 597.0h0M124.6 594.9h0M125.6 594.3h0M110.1 602.4h0M111.8 608.4h0M113.3 606.1h0M110.2 605.6h0M112.2 602.3h0M111.1 607.8h0M113.2 605.8h0M111.8 605.8h0M112.2 603.4h0M111.1 607.9h0M112.9 607.1h0M111.6 603.7h0M129.3 604.0h0M131.2 605.1h0M132.4 604.7h0M130.5 603.6h0M130.4 605.5h0M158.2 604.9h0M154.0 612.6h0M153.6 608.5h0M151.9 611.3h0M155.7 606.5h0M156.2 609.0h0M158.3 607.1h0M153.0 615.4h0M154.6 612.8h0M154.4 616.6h0M151.9 614.5h0M156.2 615.2h0M156.9 608.3h0M160.0 607.3h0M153.9 608.9h0M151.5 608.5h0M156.2 610.6h0M157.5 612.6h0M160.5 612.6h0M151.9 613.6h0M156.9 608.6h0M156.7 605.3h0M151.8 608.4h0M158.8 611.5h0M154.1 607.5h0M153.0 615.0h0M71.3 612.0h0M68.2 609.5h0M71.8 611.2h0M70.6 607.1h0M69.5 613.1h0M70.7 611.7h0M71.1 614.4h0M71.3 611.1h0M70.5 613.1h0M66.5 609.7h0M69.8 614.6h0M69.3 606.4h0M69.4 606.2h0M71.5 614.5h0M68.8 610.1h0M66.9 610.6h0M68.6 609.5h0M71.1 613.5h0M70.8 606.9h0M70.9 613.8h0M68.2 610.7h0M73.4 610.5h0M67.7 610.8h0M67.5 611.7h0M98.0 613.7h0M98.2 613.5h0M95.9 613.2h0M95.9 614.9h0M95.0 615.3h0M102.6 612.1h0M95.4 613.9h0M94.0 613.7h0M98.5 612.8h0M100.8 614.5h0M96.6 614.4h0M99.2 611.1h0M102.9 613.2h0M94.8 613.6h0M99.6 615.6h0M97.4 612.6h0M102.4 614.1h0M94.6 613.6h0M96.1 615.0h0M127.9 614.5h0M129.7 619.8h0M130.7 616.6h0M130.7 619.7h0M128.9 614.3h0M129.0 619.0h0M128.6 615.5h0M130.1 619.6h0M129.6 619.4h0M130.3 615.9h0M128.2 618.6h0M128.5 618.8h0M117.7 626.5h0M117.1 627.6h0M115.2 627.6h0M116.6 625.2h0M116.6 627.5h0M117.3 625.8h0M116.1 626.4h0M116.8 624.6h0M116.3 625.2h0M114.6 624.6h0M115.9 627.3h0M92.4 634.3h0M88.6 631.3h0M88.9 628.4h0M87.6 631.2h0M92.1 631.7h0M94.8 633.2h0M91.1 633.2h0M92.3 630.8h0M95.6 629.2h0M92.0 628.1h0M94.7 629.1h0M92.4 633.0h0M96.2 632.5h0M94.1 633.4h0M90.6 628.6h0M96.2 631.0h0M94.2 632.7h0M94.6 631.6h0M91.3 630.8h0M95.6 631.3h0M95.4 633.7h0M90.2 632.4h0M95.5 630.5h0M93.8 632.1h0M86.9 632.3h0M92.5 628.7h0M87.0 632.8h0M89.6 632.0h0M94.2 631.5h0M89.6 634.9h0M90.5 631.0h0M92.1 632.3h0M136.0 636.3h0M136.8 636.2h0M133.1 633.5h0M133.6 634.2h0M132.3 635.7h0M130.3 634.6h0" stroke="#d2504c" stroke-width="1.0" stroke-linecap="round" stroke-opacity="0.75" fill="none"/>
<path d="M275.6 552.2 C276.7 552.1 277.5 552.2 278.4 552.2 C279.3 552.3 280.2 552.2 281.0 552.5 C281.8 552.7 282.3 553.2 283.0 553.8 C283.8 554.3 285.6 555.0 285.6 555.7 C285.6 556.3 283.9 557.2 283.1 557.7 C282.3 558.2 281.6 558.1 280.8 558.6 C280.1 559.1 279.4 560.6 278.7 560.7 C277.9 560.7 277.0 559.3 276.3 558.8 C275.6 558.3 275.8 558.0 274.6 557.5 C273.5 557.1 269.9 556.7 269.4 555.9 C268.9 555.2 270.6 553.6 271.6 553.0 C272.7 552.4 274.4 552.3 275.6 552.2Z" fill="#e9e7eb" fill-opacity="0.6"/>
<path d="M322.6 557.9 C321.6 557.6 320.4 556.9 320.1 556.2 C319.7 555.5 320.7 554.3 320.6 553.5 C320.6 552.6 319.7 551.8 319.9 551.0 C320.1 550.3 321.1 549.6 321.8 549.1 C322.6 548.7 323.7 548.6 324.6 548.6 C325.5 548.6 326.4 548.9 327.2 549.2 C328.0 549.5 329.1 549.9 329.3 550.6 C329.5 551.2 328.1 552.1 328.2 552.8 C328.3 553.6 329.9 554.3 329.9 555.0 C329.9 555.6 328.8 556.1 328.1 556.7 C327.4 557.2 326.6 558.2 325.7 558.4 C324.8 558.6 323.5 558.3 322.6 557.9Z" fill="#f3c8c4" fill-opacity="0.6"/>
<path d="M256.4 575.4 C256.0 576.1 255.8 576.6 255.4 577.3 C255.0 577.9 254.3 579.1 253.8 579.1 C253.2 579.2 252.6 578.0 252.0 577.5 C251.5 577.0 251.0 576.6 250.6 575.9 C250.2 575.2 249.6 574.1 249.7 573.4 C249.8 572.6 250.9 572.1 251.2 571.3 C251.5 570.5 251.2 568.5 251.6 568.3 C252.0 568.0 253.0 569.8 253.7 569.8 C254.4 569.9 255.0 568.6 255.6 568.6 C256.2 568.7 257.1 569.4 257.5 570.2 C257.9 571.0 258.0 572.4 257.9 573.2 C257.7 574.1 256.8 574.7 256.4 575.4Z" fill="#e9e7eb" fill-opacity="0.6"/>
<path d="M286.1 571.9 C286.9 571.8 287.7 571.5 288.4 571.6 C289.2 571.7 289.7 572.2 290.4 572.6 C291.2 573.0 292.5 573.3 293.0 573.9 C293.5 574.5 293.8 575.5 293.6 576.3 C293.3 577.0 292.6 578.2 291.6 578.5 C290.6 578.8 288.7 578.4 287.7 578.1 C286.7 577.9 286.1 577.3 285.5 577.0 C284.8 576.7 284.3 576.6 283.6 576.4 C282.9 576.1 281.5 575.7 281.4 575.2 C281.3 574.8 282.6 574.2 282.9 573.7 C283.3 573.1 283.0 572.3 283.5 572.0 C284.1 571.7 285.3 571.9 286.1 571.9Z" fill="#e9e7eb" fill-opacity="0.6"/>
<path d="M321.3 566.8 C322.0 567.3 323.4 567.9 323.3 568.5 C323.3 569.1 321.5 569.6 321.1 570.3 C320.7 570.9 321.4 571.7 321.0 572.4 C320.6 573.1 319.4 574.5 318.5 574.5 C317.6 574.5 316.2 572.7 315.5 572.2 C314.7 571.6 314.3 571.5 313.9 571.1 C313.6 570.6 313.6 570.2 313.4 569.8 C313.1 569.3 312.4 568.8 312.4 568.2 C312.4 567.7 312.8 567.1 313.4 566.5 C314.0 566.0 314.9 565.3 315.8 565.2 C316.7 565.1 317.9 565.5 318.8 565.8 C319.7 566.1 320.5 566.4 321.3 566.8Z" fill="#e9e7eb" fill-opacity="0.6"/>
<path d="M340.0 579.0 C340.5 578.7 341.2 579.4 341.7 579.1 C342.1 578.8 342.3 577.3 342.6 577.3 C343.0 577.2 343.3 578.3 343.7 578.8 C344.0 579.2 344.4 579.4 344.7 580.0 C345.0 580.6 345.5 581.5 345.4 582.2 C345.3 582.9 344.6 583.5 344.3 584.0 C344.0 584.6 343.8 585.5 343.5 585.6 C343.2 585.7 342.8 584.7 342.4 584.8 C341.9 585.0 341.2 586.6 340.7 586.5 C340.2 586.5 339.8 585.3 339.5 584.5 C339.1 583.7 338.6 582.4 338.7 581.5 C338.8 580.6 339.5 579.4 340.0 579.0Z" fill="#e9e7eb" fill-opacity="0.6"/>
<path d="M224.6 586.6 C225.5 586.0 226.8 585.8 227.6 585.5 C228.5 585.1 229.0 584.7 229.9 584.5 C230.8 584.3 231.8 584.3 233.0 584.3 C234.2 584.3 235.8 584.1 237.0 584.3 C238.2 584.6 240.1 585.3 240.1 585.9 C240.1 586.5 237.6 587.2 237.2 587.8 C236.9 588.5 238.3 589.3 238.0 590.0 C237.6 590.8 236.5 591.9 235.2 592.3 C233.8 592.7 231.4 592.7 229.7 592.5 C228.0 592.3 226.2 591.8 224.9 591.2 C223.6 590.6 222.1 589.7 222.1 588.9 C222.0 588.2 223.7 587.2 224.6 586.6Z" fill="#e9e7eb" fill-opacity="0.6"/>
<path d="M262.9 587.1 C262.5 586.8 261.9 586.3 261.9 586.0 C262.0 585.7 263.0 585.4 263.3 585.1 C263.6 584.8 263.4 584.4 263.6 584.1 C263.9 583.9 264.4 583.7 264.7 583.8 C265.0 583.9 265.3 584.3 265.5 584.5 C265.7 584.7 265.7 584.9 266.0 585.1 C266.3 585.3 267.1 585.5 267.2 585.8 C267.3 586.1 266.7 586.5 266.5 586.9 C266.4 587.3 266.5 588.1 266.2 588.2 C265.9 588.3 265.2 587.8 264.8 587.7 C264.4 587.5 264.2 587.6 263.9 587.5 C263.6 587.4 263.2 587.3 262.9 587.1Z" fill="#e9e7eb" fill-opacity="0.6"/>
<path d="M296.2 588.3 C296.4 588.6 295.2 589.0 295.2 589.4 C295.1 589.9 296.2 590.7 295.8 591.1 C295.3 591.6 293.8 591.9 292.7 592.0 C291.5 592.2 290.0 592.2 288.8 592.1 C287.7 591.9 286.6 591.6 285.6 591.2 C284.5 590.8 283.1 590.4 282.7 589.8 C282.2 589.3 282.4 588.4 283.0 587.9 C283.5 587.4 284.9 586.9 285.9 586.7 C287.0 586.4 288.5 586.7 289.6 586.6 C290.7 586.6 291.8 586.2 292.5 586.3 C293.2 586.5 293.1 587.3 293.8 587.6 C294.4 588.0 296.0 588.0 296.2 588.3Z" fill="#e9e7eb" fill-opacity="0.6"/>
<path d="M314.8 583.7 C314.5 583.8 314.2 583.8 313.8 583.7 C313.4 583.6 312.6 583.5 312.4 583.1 C312.3 582.8 312.8 582.2 312.9 581.8 C312.9 581.3 312.4 580.7 312.6 580.4 C312.8 580.0 313.4 579.8 313.8 579.7 C314.2 579.6 314.7 579.7 315.1 579.8 C315.4 579.9 315.9 579.9 316.1 580.2 C316.3 580.4 316.1 580.9 316.2 581.3 C316.4 581.6 317.0 581.8 317.0 582.0 C317.0 582.3 316.6 582.7 316.4 582.8 C316.1 583.0 315.7 582.8 315.5 583.0 C315.2 583.1 315.1 583.6 314.8 583.7Z" fill="#e9e7eb" fill-opacity="0.6"/>
<path d="M320.1 588.9 C321.2 589.1 322.4 588.5 323.1 588.8 C323.7 589.1 323.1 590.2 323.7 590.8 C324.4 591.4 326.7 591.8 327.1 592.4 C327.4 593.1 326.4 594.1 325.7 594.8 C325.0 595.4 323.9 596.2 322.8 596.3 C321.7 596.4 320.3 595.6 319.4 595.3 C318.5 595.0 318.2 594.7 317.3 594.5 C316.4 594.2 314.6 594.4 314.1 593.9 C313.5 593.5 313.6 592.4 313.9 591.8 C314.2 591.2 315.3 591.1 315.7 590.3 C316.1 589.5 315.4 587.5 316.2 587.3 C316.9 587.0 318.9 588.6 320.1 588.9Z" fill="#e9e7eb" fill-opacity="0.6"/>
<path d="M273.7 596.7 C274.0 597.3 274.3 598.0 274.3 598.6 C274.2 599.2 273.6 599.7 273.2 600.4 C272.7 601.0 272.5 602.3 271.8 602.6 C271.0 602.8 269.4 602.1 268.5 601.7 C267.7 601.4 267.7 600.7 266.8 600.5 C265.9 600.3 263.3 600.7 263.0 600.3 C262.7 599.9 264.8 598.8 265.1 598.1 C265.4 597.4 264.3 596.7 264.6 596.2 C264.9 595.7 266.0 595.5 266.8 595.1 C267.6 594.7 268.5 593.7 269.4 593.7 C270.3 593.7 271.5 594.4 272.2 594.9 C272.9 595.4 273.3 596.1 273.7 596.7Z" fill="#e9e7eb" fill-opacity="0.6"/>
<path d="M250.9 600.9 C250.9 601.4 251.5 602.9 251.3 603.0 C251.1 603.2 250.2 601.9 249.8 601.9 C249.4 601.8 249.3 602.5 248.9 602.6 C248.6 602.6 247.9 602.5 247.8 602.1 C247.6 601.8 248.0 600.9 248.1 600.5 C248.1 600.0 248.1 599.8 248.1 599.3 C248.1 598.9 247.9 597.9 248.1 597.6 C248.4 597.3 249.1 597.6 249.4 597.7 C249.7 597.9 249.9 598.4 250.2 598.5 C250.5 598.6 251.1 598.3 251.3 598.5 C251.5 598.7 251.4 599.5 251.3 599.9 C251.3 600.3 250.9 600.4 250.9 600.9Z" fill="#e9e7eb" fill-opacity="0.6"/>
<path d="M303.9 595.4 C304.1 595.6 304.6 595.7 304.8 596.0 C305.0 596.3 305.2 596.8 305.1 597.1 C304.9 597.4 304.3 597.6 303.9 597.7 C303.5 597.8 303.0 597.8 302.6 597.8 C302.2 597.9 301.8 598.0 301.4 597.9 C301.1 597.8 300.9 597.5 300.5 597.3 C300.0 597.0 299.0 596.8 298.8 596.5 C298.7 596.2 299.1 595.5 299.5 595.3 C299.8 595.0 300.5 594.9 301.0 594.8 C301.4 594.6 301.7 594.2 302.1 594.1 C302.5 594.1 303.0 594.3 303.3 594.6 C303.6 594.8 303.7 595.1 303.9 595.4Z" fill="#e9e7eb" fill-opacity="0.6"/>
<path d="M285.4 610.9 C284.9 610.6 284.6 609.6 284.3 608.9 C283.9 608.2 283.0 607.4 283.1 606.7 C283.1 606.0 284.1 605.1 284.5 604.6 C285.0 604.2 285.4 604.3 285.7 603.9 C286.0 603.4 286.1 602.2 286.5 602.0 C286.8 601.8 287.4 602.3 287.8 602.6 C288.2 602.9 288.5 603.2 289.0 603.7 C289.4 604.2 290.2 604.8 290.4 605.5 C290.5 606.2 290.1 607.5 289.8 608.1 C289.4 608.6 288.6 608.5 288.2 608.9 C287.7 609.4 287.6 610.2 287.1 610.5 C286.6 610.8 285.9 611.2 285.4 610.9Z" fill="#e9e7eb" fill-opacity="0.6"/>
<path d="M305.8 603.1 C306.1 603.0 306.7 603.5 307.1 603.7 C307.4 603.9 307.4 604.0 307.7 604.2 C308.0 604.3 308.8 604.3 308.9 604.5 C308.9 604.7 308.4 605.1 308.2 605.3 C308.1 605.5 308.0 605.5 307.9 605.9 C307.8 606.2 308.0 607.1 307.8 607.2 C307.5 607.3 306.9 606.6 306.5 606.5 C306.0 606.5 305.4 606.8 305.2 606.7 C304.9 606.5 304.8 606.0 304.8 605.7 C304.9 605.4 305.5 605.2 305.6 604.9 C305.6 604.7 305.1 604.3 305.1 604.0 C305.2 603.7 305.5 603.1 305.8 603.1Z" fill="#e9e7eb" fill-opacity="0.6"/>
<path d="M331.8 618.4 C330.9 618.1 330.3 616.6 329.5 616.0 C328.6 615.3 327.2 615.3 326.7 614.4 C326.3 613.5 326.8 611.9 326.9 610.7 C326.9 609.4 326.8 608.0 327.2 607.0 C327.7 606.1 328.7 605.2 329.6 604.9 C330.4 604.6 331.3 605.3 332.3 605.2 C333.3 605.2 334.7 604.1 335.4 604.6 C336.1 605.1 336.3 607.1 336.5 608.2 C336.7 609.3 336.8 610.3 336.8 611.3 C336.8 612.4 336.8 613.5 336.4 614.6 C336.1 615.6 335.6 617.1 334.8 617.8 C334.0 618.4 332.6 618.7 331.8 618.4Z" fill="#eea4a4" fill-opacity="0.85"/>
<path d="M245.8 613.8 C245.0 614.0 244.7 616.0 244.3 615.9 C243.8 615.9 243.7 614.0 243.1 613.5 C242.6 613.0 241.1 613.5 240.8 613.0 C240.5 612.5 241.4 611.5 241.5 610.6 C241.5 609.7 240.6 608.3 240.9 607.7 C241.2 607.1 242.6 607.1 243.3 607.0 C244.0 606.9 244.4 607.2 245.1 607.2 C245.8 607.1 247.1 606.2 247.5 606.6 C248.0 607.0 247.8 608.6 248.0 609.4 C248.1 610.2 248.2 610.6 248.4 611.5 C248.5 612.3 249.2 614.1 248.8 614.5 C248.4 614.9 246.5 613.5 245.8 613.8Z" fill="#e9e7eb" fill-opacity="0.6"/>
<path d="M275.6 616.0 C274.7 616.3 274.1 617.8 273.5 617.7 C272.9 617.6 272.4 616.1 272.0 615.6 C271.5 615.2 271.5 615.2 270.8 615.0 C270.0 614.7 267.4 614.4 267.3 614.0 C267.1 613.7 269.3 613.3 270.0 613.0 C270.8 612.7 271.1 612.3 271.8 612.2 C272.4 612.1 273.2 612.3 274.0 612.2 C274.9 612.2 276.5 611.6 277.0 611.7 C277.5 611.9 276.8 612.9 277.1 613.4 C277.5 613.8 278.6 613.9 278.9 614.3 C279.2 614.7 279.4 615.6 278.9 615.8 C278.3 616.1 276.5 615.7 275.6 616.0Z" fill="#e9e7eb" fill-opacity="0.6"/>
<path d="M300.7 616.4 C301.1 616.0 303.3 616.3 304.0 616.0 C304.8 615.8 304.7 614.9 305.1 614.8 C305.6 614.7 306.2 615.4 306.7 615.5 C307.3 615.7 307.9 615.5 308.4 615.7 C308.9 616.0 309.6 616.5 309.8 616.9 C310.0 617.4 309.9 618.1 309.7 618.6 C309.4 619.1 308.8 619.3 308.4 619.8 C308.0 620.3 307.7 621.2 307.1 621.6 C306.4 622.0 305.1 622.3 304.4 622.1 C303.7 621.8 303.2 620.8 302.8 620.2 C302.5 619.6 302.5 619.1 302.1 618.5 C301.8 617.8 300.4 616.8 300.7 616.4Z" fill="#e9e7eb" fill-opacity="0.6"/>
<path d="M290.3 623.3 C290.6 623.2 291.1 624.3 291.5 624.5 C291.9 624.7 292.4 624.1 292.6 624.3 C292.9 624.5 292.8 625.2 293.0 625.7 C293.1 626.1 293.4 626.4 293.5 626.9 C293.6 627.4 293.8 628.4 293.5 628.7 C293.3 628.9 292.4 628.3 292.0 628.4 C291.6 628.5 291.4 629.4 291.1 629.3 C290.9 629.3 290.8 628.4 290.6 628.0 C290.4 627.7 290.2 627.6 290.1 627.4 C289.9 627.1 289.7 626.7 289.6 626.3 C289.5 626.0 289.6 625.5 289.7 625.0 C289.8 624.5 290.0 623.4 290.3 623.3Z" fill="#e9e7eb" fill-opacity="0.6"/>
<path d="M259.6 632.9 C259.9 632.2 262.7 631.6 263.5 631.1 C264.3 630.6 264.1 630.3 264.5 630.0 C264.9 629.7 265.4 629.7 266.1 629.4 C266.8 629.1 268.0 628.1 268.6 628.2 C269.1 628.3 268.9 629.8 269.5 630.3 C270.1 630.8 272.1 630.9 272.2 631.3 C272.3 631.8 270.8 632.5 270.3 633.0 C269.7 633.5 269.5 633.6 269.0 634.1 C268.6 634.7 268.5 635.9 267.7 636.4 C266.8 636.9 265.1 637.3 264.2 637.0 C263.2 636.8 262.6 635.7 261.8 635.0 C261.1 634.3 259.3 633.5 259.6 632.9Z" fill="#f3c8c4" fill-opacity="0.6"/>
<path d="M313.9 633.8 C314.3 634.1 312.3 635.1 312.4 635.8 C312.4 636.4 314.8 637.2 314.5 637.4 C314.2 637.7 311.3 637.0 310.4 637.3 C309.6 637.6 310.0 638.8 309.3 639.1 C308.7 639.3 307.3 639.2 306.5 639.0 C305.6 638.8 304.5 638.4 304.0 638.0 C303.5 637.6 303.3 636.8 303.6 636.3 C303.8 635.9 305.2 635.7 305.4 635.2 C305.7 634.7 304.7 633.7 305.2 633.3 C305.6 632.9 307.2 632.7 308.0 632.7 C308.9 632.8 309.4 633.7 310.3 633.8 C311.3 634.0 313.6 633.4 313.9 633.8Z" fill="#e9e7eb" fill-opacity="0.6"/>
<path d="M275.2 553.6h0M284.4 554.3h0M283.6 552.9h0M278.0 557.1h0M279.8 554.7h0M281.7 555.0h0M273.5 556.4h0M275.1 553.2h0M276.5 557.5h0M275.4 557.3h0M280.2 558.9h0M273.2 557.5h0M282.4 557.1h0M275.7 557.0h0M272.4 554.3h0M277.3 557.0h0M281.0 555.1h0M281.3 556.3h0M283.3 558.5h0M275.3 558.3h0M274.0 557.0h0M327.5 553.0h0M322.8 550.5h0M328.2 554.0h0M328.8 551.4h0M328.0 550.7h0M321.2 551.6h0M321.2 554.3h0M324.0 549.9h0M323.1 555.1h0M325.2 556.4h0M327.5 551.6h0M322.6 554.7h0M256.8 571.9h0M252.0 576.8h0M254.7 568.4h0M257.3 572.9h0M255.0 578.0h0M252.9 573.2h0M253.5 569.0h0M253.3 570.0h0M250.7 575.0h0M255.9 576.0h0M252.0 568.9h0M253.4 569.0h0M290.1 574.4h0M289.0 571.4h0M287.6 575.3h0M286.4 577.6h0M285.9 572.5h0M285.7 573.6h0M288.0 576.8h0M282.7 573.2h0M282.8 576.6h0M284.1 574.8h0M285.1 573.0h0M287.7 577.1h0M322.5 568.6h0M317.7 568.7h0M319.8 571.2h0M318.1 567.0h0M318.1 569.8h0M319.3 570.0h0M344.8 580.4h0M341.3 578.7h0M344.1 583.1h0M342.3 582.8h0M230.6 583.6h0M225.2 587.9h0M231.5 589.2h0M225.3 587.7h0M232.3 586.6h0M229.3 587.1h0M235.4 589.0h0M228.5 587.5h0M228.9 585.5h0M227.5 589.4h0M229.4 586.7h0M226.6 585.3h0M236.5 584.9h0M237.8 588.4h0M232.7 583.6h0M230.3 587.1h0M233.3 589.9h0M235.5 588.0h0M265.6 587.0h0M262.8 586.0h0M263.6 584.8h0M289.8 588.2h0M289.2 588.0h0M295.3 590.3h0M291.5 591.3h0M291.4 588.6h0M290.0 586.4h0M288.4 589.3h0M289.2 589.7h0M289.0 587.6h0M294.8 588.1h0M314.5 580.2h0M317.6 591.2h0M317.9 594.6h0M316.5 592.4h0M324.4 592.7h0M318.4 595.5h0M323.3 590.9h0M322.2 589.5h0M270.2 600.8h0M270.9 599.5h0M268.5 599.0h0M268.7 597.6h0M269.2 600.6h0M272.7 597.0h0M265.0 599.7h0M267.3 597.4h0M265.5 598.3h0M251.3 600.1h0M251.0 601.7h0M248.3 600.5h0M248.3 600.4h0M249.7 599.6h0M303.2 596.4h0M300.8 596.5h0M287.7 604.7h0M287.8 603.2h0M285.2 605.4h0M284.7 603.9h0M305.4 605.5h0M305.9 604.1h0M330.3 608.6h0M336.7 610.1h0M333.6 611.5h0M334.5 611.5h0M333.0 615.2h0M334.3 614.8h0M333.6 607.9h0M337.0 612.2h0M334.3 612.6h0M329.3 616.3h0M333.9 609.0h0M335.0 612.2h0M329.8 607.3h0M337.2 611.2h0M332.7 606.0h0M329.8 612.2h0M333.7 606.6h0M335.6 606.8h0M329.7 610.9h0M330.8 612.4h0M333.9 615.1h0M242.3 608.5h0M242.3 611.4h0M245.1 614.7h0M243.3 614.3h0M242.6 607.7h0M247.7 612.2h0M243.0 611.0h0M241.1 611.4h0M243.2 609.5h0M247.4 612.2h0M278.6 613.8h0M277.8 613.0h0M273.1 614.7h0M272.4 616.4h0M271.2 616.0h0M271.3 614.2h0M274.3 615.5h0M270.9 613.4h0M276.0 613.3h0M276.6 616.2h0M275.4 612.1h0M273.6 615.2h0M276.0 616.4h0M306.7 618.2h0M307.5 620.4h0M305.0 616.9h0M302.9 617.9h0M306.9 620.3h0M305.2 618.3h0M304.1 615.5h0M309.4 618.8h0M290.1 626.2h0M290.7 624.8h0M290.1 626.2h0M265.8 634.8h0M269.1 634.3h0M269.1 633.6h0M267.3 628.9h0M268.6 632.3h0M263.4 630.8h0M267.9 630.1h0M271.7 631.7h0M308.2 635.7h0M308.3 633.6h0M307.2 633.7h0M305.9 637.1h0M310.0 635.8h0M313.0 636.6h0" stroke="#f0c0bc" stroke-width="1.0" stroke-linecap="round" stroke-opacity="0.7" fill="none"/>
<path d="M276.6 551.6h0M279.5 557.3h0M283.1 552.9h0M274.8 557.0h0M280.6 556.3h0M284.3 554.9h0M273.5 554.3h0M279.2 557.2h0M274.6 558.4h0M325.5 549.7h0M321.9 550.9h0M321.5 553.6h0M256.8 576.1h0M253.4 577.7h0M252.9 570.1h0M255.3 574.2h0M286.2 572.0h0M288.8 577.0h0M289.6 577.8h0M285.8 574.7h0M290.1 575.6h0M284.6 577.3h0M284.7 573.8h0M320.2 571.2h0M319.3 571.2h0M318.3 573.0h0M318.7 568.0h0M313.0 568.0h0M343.3 582.5h0M342.3 578.1h0M342.4 584.5h0M340.3 582.0h0M235.0 586.3h0M235.3 589.1h0M235.4 586.6h0M231.0 584.2h0M235.1 587.0h0M238.4 586.1h0M225.2 587.4h0M230.4 590.1h0M231.0 585.5h0M265.3 587.1h0M285.9 588.5h0M295.9 589.4h0M290.5 588.4h0M289.4 590.6h0M314.9 580.6h0M317.8 588.6h0M323.4 591.2h0M320.7 592.8h0M322.5 588.8h0M323.2 594.3h0M318.7 590.0h0M321.0 594.7h0M323.4 593.0h0M323.0 593.8h0M317.2 594.4h0M268.7 600.5h0M272.9 598.4h0M250.2 601.1h0M304.8 596.3h0M286.9 608.2h0M288.3 604.5h0M306.6 603.6h0M333.7 611.8h0M328.8 607.3h0M334.6 615.9h0M327.7 608.6h0M334.0 616.8h0M331.2 608.3h0M328.6 611.9h0M336.4 612.3h0M336.0 607.6h0M243.0 610.0h0M242.8 613.9h0M245.7 610.8h0M241.5 612.3h0M248.3 609.3h0M269.2 613.9h0M274.5 613.6h0M270.4 615.9h0M274.9 612.2h0M271.0 614.9h0M270.2 614.4h0M305.3 619.4h0M290.2 628.1h0M291.4 625.9h0M262.9 632.6h0M265.0 632.2h0M268.3 628.4h0M266.9 631.6h0M266.0 629.4h0M262.1 631.8h0M308.6 636.5h0M306.8 634.4h0" stroke="#c4d4e0" stroke-width="1.0" stroke-linecap="round" stroke-opacity="0.7" fill="none"/>
<path d="M280.6 556.8h0M284.0 555.6h0M275.6 559.3h0M272.2 555.2h0M281.8 555.9h0M272.7 555.2h0M277.3 553.3h0M274.8 555.0h0M279.7 552.3h0M276.0 558.5h0M275.6 557.9h0M283.5 558.3h0M278.1 555.8h0M278.7 556.9h0M276.7 550.9h0M276.3 556.3h0M282.3 551.7h0M284.4 555.3h0M322.4 554.3h0M327.3 551.9h0M320.8 553.3h0M322.8 552.9h0M326.5 556.4h0M322.6 552.7h0M329.3 553.8h0M323.7 554.6h0M325.5 553.9h0M253.5 570.3h0M252.4 576.0h0M255.6 577.2h0M252.7 575.2h0M254.4 576.6h0M251.9 570.3h0M257.4 572.0h0M286.4 577.2h0M285.7 571.1h0M284.4 577.7h0M281.4 574.5h0M282.2 573.4h0M283.2 572.0h0M284.9 574.7h0M285.4 576.0h0M288.1 575.4h0M284.3 575.1h0M291.9 574.2h0M314.0 569.6h0M314.9 571.4h0M315.3 569.5h0M320.9 567.7h0M313.3 571.3h0M320.5 568.6h0M322.3 568.3h0M315.7 568.7h0M318.1 570.9h0M311.4 570.1h0M322.6 569.0h0M314.8 570.0h0M341.2 583.7h0M342.7 583.4h0M341.4 583.7h0M342.2 583.4h0M231.4 587.3h0M236.8 590.2h0M226.2 587.3h0M226.8 587.4h0M234.9 588.8h0M231.4 587.6h0M235.9 590.1h0M229.3 588.0h0M238.9 586.9h0M226.8 585.5h0M230.2 587.0h0M264.9 586.6h0M288.3 589.4h0M289.4 589.4h0M290.4 588.2h0M296.2 588.6h0M291.9 588.5h0M315.1 581.3h0M321.3 591.5h0M316.3 590.0h0M318.4 592.2h0M323.1 595.1h0M319.2 592.9h0M316.0 593.3h0M322.6 595.0h0M320.8 588.7h0M319.7 589.4h0M325.1 593.4h0M321.2 588.6h0M270.2 596.1h0M271.7 599.7h0M268.5 598.7h0M272.3 597.7h0M268.7 597.5h0M269.4 598.9h0M265.9 598.6h0M267.5 596.7h0M271.1 597.3h0M248.5 601.7h0M250.2 598.5h0M250.8 599.7h0M303.2 594.4h0M302.4 595.8h0M300.1 595.5h0M302.7 594.9h0M286.1 607.2h0M287.2 604.9h0M284.3 606.8h0M285.4 607.2h0M286.4 607.1h0M286.3 604.4h0M286.8 606.7h0M287.1 606.3h0M287.5 608.6h0M307.7 604.7h0M306.0 605.1h0M308.0 606.0h0M306.1 606.5h0M306.9 605.5h0M334.7 613.1h0M335.6 607.8h0M333.2 617.0h0M336.1 613.0h0M332.2 616.1h0M328.4 614.7h0M336.2 611.3h0M328.3 610.8h0M242.6 608.3h0M244.6 614.8h0M245.2 606.9h0M244.9 607.3h0M246.6 609.8h0M247.1 608.2h0M275.9 614.5h0M270.6 613.0h0M269.3 614.4h0M271.1 614.5h0M276.4 613.3h0M277.5 614.1h0M270.2 613.9h0M270.4 612.8h0M308.3 618.4h0M308.5 615.5h0M307.6 619.1h0M309.6 617.8h0M304.0 616.8h0M305.2 618.1h0M305.7 619.3h0M308.8 617.4h0M293.0 625.5h0M291.7 625.9h0M290.8 627.6h0M270.7 633.8h0M267.0 633.4h0M265.5 631.7h0M268.4 630.2h0M263.9 634.4h0M264.3 634.1h0M271.2 631.5h0M267.4 635.0h0M262.9 632.6h0M265.1 632.2h0M269.5 634.5h0M268.9 633.0h0M311.3 636.0h0M308.5 634.0h0M309.4 635.7h0M312.0 636.7h0M306.7 634.2h0" stroke="#c8c4c8" stroke-width="0.9" stroke-linecap="round" stroke-opacity="0.6" fill="none"/>
<path d="M326.2 551.4h0M326.0 551.5h0M322.6 554.8h0M324.5 554.5h0M326.4 549.7h0M326.7 553.8h0M323.2 552.4h0M326.4 549.9h0M327.6 555.4h0M327.5 550.0h0M321.6 550.8h0M324.2 554.6h0M323.8 551.3h0M323.2 554.3h0M321.9 553.1h0M326.2 549.4h0M325.3 550.2h0M324.9 552.7h0M323.6 554.1h0M324.3 550.0h0M321.2 552.1h0M325.9 550.0h0M286.9 578.0h0M291.4 573.3h0M317.0 571.2h0M320.2 568.2h0M321.7 571.2h0M321.7 570.0h0M314.6 568.4h0M318.3 568.1h0M316.6 570.8h0M320.2 571.2h0M313.7 570.6h0M342.3 580.9h0M341.5 582.9h0M342.5 580.2h0M340.4 583.9h0M341.8 585.8h0M341.4 578.5h0M343.1 577.8h0M340.6 579.9h0M342.1 580.3h0M343.3 585.1h0M233.6 589.0h0M236.9 589.1h0M228.4 587.4h0M270.1 596.0h0M267.6 596.3h0M267.5 601.1h0M270.2 596.8h0M267.1 596.4h0M266.5 598.3h0M286.7 606.8h0M288.4 603.5h0M286.4 608.7h0M284.3 606.1h0M287.6 602.8h0M285.3 605.1h0M288.6 608.1h0M331.5 614.7h0M329.2 614.8h0M331.2 608.1h0M331.9 615.7h0M329.1 611.8h0M331.0 614.9h0M327.5 613.2h0M331.8 615.5h0M335.1 607.0h0M332.8 612.2h0M331.7 614.9h0M336.2 614.2h0M336.4 609.9h0M334.1 612.5h0M329.0 616.0h0M332.4 609.9h0M335.4 614.9h0M333.6 614.0h0M328.0 610.2h0M335.8 615.0h0M332.1 615.5h0M328.5 614.9h0M332.2 607.4h0M334.4 610.9h0M334.7 609.3h0M336.7 609.5h0M329.8 616.3h0M336.8 608.7h0M330.0 611.0h0M332.1 609.5h0M241.8 613.8h0M247.1 607.8h0M243.9 614.0h0M244.4 613.8h0M244.8 606.6h0M247.8 612.3h0M244.0 609.7h0M244.9 615.4h0M247.8 612.1h0M244.1 613.1h0M246.3 611.7h0M242.7 612.5h0M246.1 610.1h0M248.3 611.4h0M242.3 608.8h0M242.2 613.5h0M243.0 614.2h0M277.1 615.8h0M274.2 614.1h0M273.6 614.4h0M270.6 615.0h0M271.0 613.7h0M306.4 618.9h0M308.3 618.2h0M306.8 619.8h0M304.2 619.0h0M306.0 619.6h0M291.2 624.8h0M291.1 626.8h0M292.1 627.8h0M262.2 632.3h0M269.5 632.8h0M265.2 629.0h0M267.6 631.8h0M264.2 633.2h0M267.1 631.6h0M266.8 634.0h0M266.5 634.7h0M268.2 630.1h0M266.0 631.3h0M265.3 632.4h0M264.3 634.9h0M269.1 629.7h0M262.5 632.6h0M268.5 630.6h0M262.9 633.1h0M265.8 632.5h0M268.8 635.2h0M267.3 630.6h0M265.1 633.1h0M307.6 635.0h0M308.5 635.8h0M308.3 638.0h0M311.2 636.8h0M310.2 634.5h0M309.7 637.5h0M305.4 635.4h0" stroke="#d8605c" stroke-width="1.0" stroke-linecap="round" stroke-opacity="0.75" fill="none"/>
<defs><linearGradient id="cb" x1="0" y1="0" x2="0" y2="1"><stop offset="0" stop-color="#9e0e22"/><stop offset="0.25" stop-color="#e05050"/><stop offset="0.45" stop-color="#f8d0d0"/><stop offset="0.58" stop-color="#f6fafc"/><stop offset="0.75" stop-color="#9ad4ee"/><stop offset="0.9" stop-color="#2a8cba"/><stop offset="1" stop-color="#15587e"/></linearGradient></defs>
<rect x="343.1" y="610.6" width="4.1" height="28.8" fill="url(#cb)" />
<text x="348.6" y="616.5" font-size="7">0.4</text>
<text x="348.6" y="623.4" font-size="7">0.2</text>
<text x="348.6" y="630.1" font-size="7">0.0</text>
<text x="348.6" y="636.7" font-size="7">−0.2</text>
<text x="366.8" y="591.8" font-size="8.4" text-anchor="middle" textLength="32" lengthAdjust="spacingAndGlyphs" transform="rotate(90 366.8 591.8)">p53.score</text>
<text x="391.1" y="509.6" font-size="10.5" fill="#111" font-weight="bold" textLength="8.3" lengthAdjust="spacingAndGlyphs">D</text>
<line x1="424.5" y1="541.5" x2="424.5" y2="644.4" stroke="#151515" stroke-width="1.2" />
<line x1="424.0" y1="643.9" x2="512.2" y2="643.9" stroke="#151515" stroke-width="1.2" />
<line x1="422.0" y1="543.8" x2="424.5" y2="543.8" stroke="#222" stroke-width="0.8" />
<text x="419.8" y="546.6" font-size="8.4" text-anchor="end">1.5</text>
<line x1="422.0" y1="568.8" x2="424.5" y2="568.8" stroke="#222" stroke-width="0.8" />
<text x="419.8" y="571.7" font-size="8.4" text-anchor="end">1.0</text>
<line x1="422.0" y1="593.9" x2="424.5" y2="593.9" stroke="#222" stroke-width="0.8" />
<text x="419.8" y="596.8" font-size="8.4" text-anchor="end">0.5</text>
<line x1="422.0" y1="618.9" x2="424.5" y2="618.9" stroke="#222" stroke-width="0.8" />
<text x="419.8" y="621.8" font-size="8.4" text-anchor="end">0.0</text>
<line x1="422.0" y1="643.9" x2="424.5" y2="643.9" stroke="#222" stroke-width="0.8" />
<text x="419.8" y="646.8" font-size="8.4" text-anchor="end">−0.5</text>
<text x="399.5" y="593.6" font-size="8.2" text-anchor="middle" textLength="29.5" lengthAdjust="spacingAndGlyphs" transform="rotate(-90 399.5 593.6)">p53 score</text>
<path d="M450.55 636.94 L450.55 636.29 L450.55 635.65 L450.55 635.01 L450.55 634.36 L450.55 633.72 L450.55 633.08 L450.55 632.44 L450.60 631.79 L450.73 631.15 L450.92 630.51 L451.17 629.86 L451.50 629.22 L451.93 628.58 L452.45 627.93 L453.09 627.29 L453.84 626.65 L454.71 626.01 L455.68 625.36 L456.73 624.72 L457.83 624.08 L458.95 623.43 L460.02 622.79 L461.01 622.15 L461.87 621.51 L462.54 620.86 L462.99 620.22 L463.19 619.58 L463.11 618.93 L462.73 618.29 L462.09 617.65 L461.27 617.00 L460.34 616.36 L459.39 615.72 L458.45 615.08 L457.58 614.43 L456.78 613.79 L456.06 613.15 L455.42 612.50 L454.86 611.86 L454.37 611.22 L453.94 610.58 L453.57 609.93 L453.25 609.29 L452.96 608.65 L452.71 608.00 L452.49 607.36 L452.30 606.72 L452.13 606.07 L451.97 605.43 L451.84 604.79 L451.72 604.15 L451.61 603.50 L451.51 602.86 L451.43 602.22 L451.35 601.57 L451.28 600.93 L451.21 600.29 L451.15 599.64 L451.10 599.00 L451.05 598.36 L451.01 597.72 L450.97 597.07 L450.93 596.43 L450.89 595.79 L450.86 595.14 L450.83 594.50 L450.80 593.86 L450.78 593.22 L450.76 592.57 L450.73 591.93 L450.71 591.29 L450.69 590.64 L450.68 590.00 L450.66 589.36 L450.64 588.71 L450.63 588.07 L450.61 587.43 L450.60 586.79 L450.59 586.14 L450.58 585.50 L450.57 584.86 L450.56 584.21 L450.55 583.57 L450.55 582.93 L450.55 582.29 L450.55 581.64 L450.55 581.00 L450.55 580.36 L450.55 579.71 L450.55 579.07 L450.55 578.43 L450.55 577.78 L450.55 577.14 L450.55 576.50 L450.55 575.86 L450.55 575.21 L450.55 574.57 L450.55 573.93 L450.55 573.28 L450.55 572.64 L450.55 572.00 L450.55 571.36 L450.55 570.71 L450.55 570.07 L450.55 569.43 L450.55 568.78 L450.55 568.14 L450.55 567.50 L450.55 566.85 L450.55 566.21 L450.55 565.57 L450.55 564.93 L450.55 564.28 L450.55 563.64 L450.55 563.00 L450.55 562.35 L450.55 561.71 L450.55 561.07 L450.55 560.42 L450.55 559.78 L450.05 559.78 L450.05 560.42 L450.05 561.07 L450.05 561.71 L450.05 562.35 L450.05 563.00 L450.05 563.64 L450.05 564.28 L450.05 564.93 L450.05 565.57 L450.05 566.21 L450.05 566.85 L450.05 567.50 L450.05 568.14 L450.05 568.78 L450.05 569.43 L450.05 570.07 L450.05 570.71 L450.05 571.36 L450.05 572.00 L450.05 572.64 L450.05 573.28 L450.05 573.93 L450.05 574.57 L450.05 575.21 L450.05 575.86 L450.05 576.50 L450.05 577.14 L450.05 577.78 L450.05 578.43 L450.05 579.07 L450.05 579.71 L450.05 580.36 L450.05 581.00 L450.05 581.64 L450.05 582.29 L450.05 582.93 L450.05 583.57 L450.04 584.21 L450.03 584.86 L450.02 585.50 L450.01 586.14 L450.00 586.79 L449.99 587.43 L449.97 588.07 L449.96 588.71 L449.94 589.36 L449.92 590.00 L449.91 590.64 L449.89 591.29 L449.87 591.93 L449.84 592.57 L449.82 593.22 L449.80 593.86 L449.77 594.50 L449.74 595.14 L449.71 595.79 L449.67 596.43 L449.63 597.07 L449.59 597.72 L449.55 598.36 L449.50 599.00 L449.45 599.64 L449.39 600.29 L449.32 600.93 L449.25 601.57 L449.17 602.22 L449.09 602.86 L448.99 603.50 L448.88 604.15 L448.76 604.79 L448.63 605.43 L448.47 606.07 L448.30 606.72 L448.11 607.36 L447.89 608.00 L447.64 608.65 L447.35 609.29 L447.03 609.93 L446.66 610.58 L446.23 611.22 L445.74 611.86 L445.18 612.50 L444.54 613.15 L443.82 613.79 L443.02 614.43 L442.15 615.08 L441.21 615.72 L440.26 616.36 L439.33 617.00 L438.51 617.65 L437.87 618.29 L437.49 618.93 L437.41 619.58 L437.61 620.22 L438.06 620.86 L438.73 621.51 L439.59 622.15 L440.58 622.79 L441.65 623.43 L442.77 624.08 L443.87 624.72 L444.92 625.36 L445.89 626.01 L446.76 626.65 L447.51 627.29 L448.15 627.93 L448.67 628.58 L449.10 629.22 L449.43 629.86 L449.68 630.51 L449.87 631.15 L450.00 631.79 L450.05 632.44 L450.05 633.08 L450.05 633.72 L450.05 634.36 L450.05 635.01 L450.05 635.65 L450.05 636.29 L450.05 636.94Z" fill="#fff" stroke="#111" stroke-width="1.1" stroke-linejoin="round"/>
<line x1="443.27" y1="623.91" x2="457.33" y2="623.91" stroke="#111" stroke-width="0.5" stroke-dasharray="0.8 0.8"/>
<line x1="438.11" y1="619.90" x2="462.49" y2="619.90" stroke="#111" stroke-width="0.5" stroke-dasharray="1.6 1"/>
<line x1="442.65" y1="615.39" x2="457.95" y2="615.39" stroke="#111" stroke-width="0.5" stroke-dasharray="0.8 0.8"/>
<path d="M488.75 639.44 L488.75 638.89 L488.75 638.33 L488.75 637.78 L488.75 637.22 L488.75 636.66 L488.75 636.11 L488.75 635.55 L488.75 635.00 L488.75 634.44 L488.75 633.89 L488.78 633.33 L488.88 632.78 L489.03 632.22 L489.21 631.67 L489.45 631.11 L489.74 630.56 L490.11 630.00 L490.54 629.45 L491.06 628.89 L491.66 628.34 L492.35 627.78 L493.10 627.22 L493.93 626.67 L494.81 626.11 L495.72 625.56 L496.64 625.00 L497.53 624.45 L498.37 623.89 L499.13 623.34 L499.78 622.78 L500.28 622.23 L500.62 621.67 L500.79 621.12 L500.75 620.56 L500.45 620.01 L499.92 619.45 L499.22 618.90 L498.42 618.34 L497.56 617.79 L496.71 617.23 L495.89 616.67 L495.13 616.12 L494.44 615.56 L493.81 615.01 L493.26 614.45 L492.77 613.90 L492.34 613.34 L491.96 612.79 L491.62 612.23 L491.33 611.68 L491.07 611.12 L490.84 610.57 L490.64 610.01 L490.46 609.46 L490.30 608.90 L490.16 608.35 L490.03 607.79 L489.91 607.24 L489.81 606.68 L489.72 606.12 L489.63 605.57 L489.56 605.01 L489.49 604.46 L489.42 603.90 L489.37 603.35 L489.31 602.79 L489.27 602.24 L489.22 601.68 L489.18 601.13 L489.14 600.57 L489.11 600.02 L489.08 599.46 L489.05 598.91 L489.02 598.35 L488.99 597.80 L488.97 597.24 L488.95 596.68 L488.93 596.13 L488.91 595.57 L488.89 595.02 L488.87 594.46 L488.86 593.91 L488.84 593.35 L488.83 592.80 L488.81 592.24 L488.80 591.69 L488.79 591.13 L488.78 590.58 L488.77 590.02 L488.76 589.47 L488.75 588.91 L488.75 588.36 L488.75 587.80 L488.75 587.25 L488.75 586.69 L488.75 586.13 L488.75 585.58 L488.75 585.02 L488.75 584.47 L488.75 583.91 L488.75 583.36 L488.75 582.80 L488.75 582.25 L488.75 581.69 L488.75 581.14 L488.75 580.58 L488.75 580.03 L488.75 579.47 L488.75 578.92 L488.75 578.36 L488.75 577.81 L488.75 577.25 L488.75 576.69 L488.75 576.14 L488.75 575.58 L488.75 575.03 L488.75 574.47 L488.75 573.92 L488.75 573.36 L488.75 572.81 L488.25 572.81 L488.25 573.36 L488.25 573.92 L488.25 574.47 L488.25 575.03 L488.25 575.58 L488.25 576.14 L488.25 576.69 L488.25 577.25 L488.25 577.81 L488.25 578.36 L488.25 578.92 L488.25 579.47 L488.25 580.03 L488.25 580.58 L488.25 581.14 L488.25 581.69 L488.25 582.25 L488.25 582.80 L488.25 583.36 L488.25 583.91 L488.25 584.47 L488.25 585.02 L488.25 585.58 L488.25 586.13 L488.25 586.69 L488.25 587.25 L488.25 587.80 L488.25 588.36 L488.25 588.91 L488.24 589.47 L488.23 590.02 L488.22 590.58 L488.21 591.13 L488.20 591.69 L488.19 592.24 L488.17 592.80 L488.16 593.35 L488.14 593.91 L488.13 594.46 L488.11 595.02 L488.09 595.57 L488.07 596.13 L488.05 596.68 L488.03 597.24 L488.01 597.80 L487.98 598.35 L487.95 598.91 L487.92 599.46 L487.89 600.02 L487.86 600.57 L487.82 601.13 L487.78 601.68 L487.73 602.24 L487.69 602.79 L487.63 603.35 L487.58 603.90 L487.51 604.46 L487.44 605.01 L487.37 605.57 L487.28 606.12 L487.19 606.68 L487.09 607.24 L486.97 607.79 L486.84 608.35 L486.70 608.90 L486.54 609.46 L486.36 610.01 L486.16 610.57 L485.93 611.12 L485.67 611.68 L485.38 612.23 L485.04 612.79 L484.66 613.34 L484.23 613.90 L483.74 614.45 L483.19 615.01 L482.56 615.56 L481.87 616.12 L481.11 616.67 L480.29 617.23 L479.44 617.79 L478.58 618.34 L477.78 618.90 L477.08 619.45 L476.55 620.01 L476.25 620.56 L476.21 621.12 L476.38 621.67 L476.72 622.23 L477.22 622.78 L477.87 623.34 L478.63 623.89 L479.47 624.45 L480.36 625.00 L481.28 625.56 L482.19 626.11 L483.07 626.67 L483.90 627.22 L484.65 627.78 L485.34 628.34 L485.94 628.89 L486.46 629.45 L486.89 630.00 L487.26 630.56 L487.55 631.11 L487.79 631.67 L487.97 632.22 L488.12 632.78 L488.22 633.33 L488.25 633.89 L488.25 634.44 L488.25 635.00 L488.25 635.55 L488.25 636.11 L488.25 636.66 L488.25 637.22 L488.25 637.78 L488.25 638.33 L488.25 638.89 L488.25 639.44Z" fill="#fff" stroke="#111" stroke-width="1.1" stroke-linejoin="round"/>
<line x1="480.86" y1="624.91" x2="496.14" y2="624.91" stroke="#111" stroke-width="0.5" stroke-dasharray="0.8 0.8"/>
<line x1="476.71" y1="620.90" x2="500.29" y2="620.90" stroke="#111" stroke-width="0.5" stroke-dasharray="1.6 1"/>
<line x1="481.61" y1="616.90" x2="495.39" y2="616.90" stroke="#111" stroke-width="0.5" stroke-dasharray="0.8 0.8"/>
<line x1="450.3" y1="643.9" x2="450.3" y2="646.4" stroke="#222" stroke-width="0.8" />
<line x1="488.5" y1="643.9" x2="488.5" y2="646.4" stroke="#222" stroke-width="0.8" />
<line x1="448.2" y1="553.5" x2="488.5" y2="553.5" stroke="#333" stroke-width="0.7" />
<text x="468.2" y="555.2" font-size="9.5" text-anchor="middle" textLength="13" lengthAdjust="spacingAndGlyphs">****</text>
<text x="450.7" y="657.0" font-size="8.4" text-anchor="middle" textLength="24.8" lengthAdjust="spacingAndGlyphs">control</text>
<text x="488.5" y="657.0" font-size="8.4" text-anchor="middle" textLength="24.9" lengthAdjust="spacingAndGlyphs">BH3 m</text>
<rect x="0.5" y="0.5" width="519" height="678" fill="none" stroke="#5a5a5a" stroke-width="1"/>
</svg></body></html>
